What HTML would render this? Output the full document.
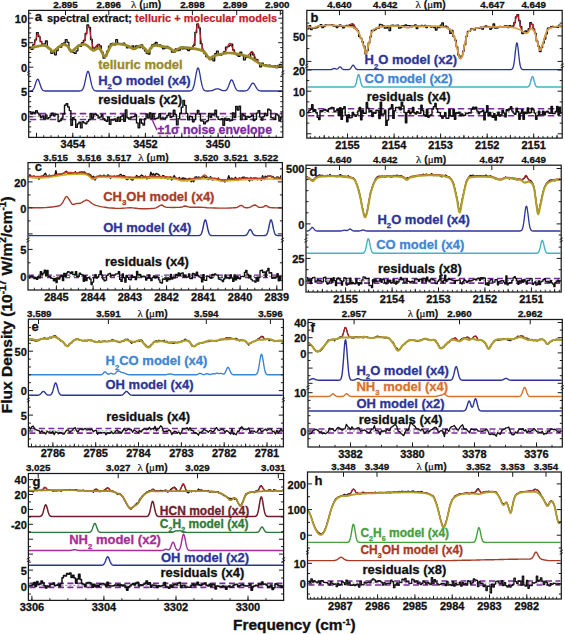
<!DOCTYPE html><html><head><meta charset="utf-8"><style>html,body{margin:0;padding:0;background:#fff;width:565px;height:634px;overflow:hidden}svg{display:block}</style></head><body><svg width="565" height="634" viewBox="0 0 565 634" font-family='"Liberation Sans", sans-serif'>
<rect width="565" height="634" fill="#fff"/>
<defs>
<clipPath id="cpa"><rect x="29.3" y="11" width="252.9" height="125.8"/></clipPath>
<clipPath id="cpb"><rect x="307.4" y="11" width="254.2" height="126.5"/></clipPath>
<clipPath id="cpc"><rect x="28.6" y="163.2" width="253.2" height="126.2"/></clipPath>
<clipPath id="cpd"><rect x="306.6" y="165.8" width="254" height="125.6"/></clipPath>
<clipPath id="cpe"><rect x="29" y="319.8" width="253.8" height="126.4"/></clipPath>
<clipPath id="cpf"><rect x="308.6" y="320.1" width="253.1" height="126.3"/></clipPath>
<clipPath id="cpg"><rect x="29" y="474.1" width="254" height="125.7"/></clipPath>
<clipPath id="cph"><rect x="308.1" y="472.6" width="252.6" height="125.8"/></clipPath>
</defs>
<g clip-path="url(#cpa)">
<path d="M29.3 47.3 L31.1 47.3 L31.1 49.4 L32.9 49.4 L32.9 44.5 L34.7 44.5 L34.7 39.9 L36.5 39.9 L36.5 32.6 L38.3 32.6 L38.3 36.7 L40.1 36.7 L40.1 41.7 L41.9 41.7 L41.9 44.2 L43.7 44.2 L43.7 43.9 L45.5 43.9 L45.5 41 L47.3 41 L47.3 47.8 L49.1 47.8 L49.1 48.8 L50.9 48.8 L50.9 53.3 L52.7 53.3 L52.7 52.3 L54.5 52.3 L54.5 54.8 L56.3 54.8 L56.3 50.6 L58.1 50.6 L58.1 46.7 L59.9 46.7 L59.9 47.2 L61.7 47.2 L61.7 43.7 L63.5 43.7 L63.5 43 L65.3 43 L65.3 39.7 L67.1 39.7 L67.1 42.3 L68.9 42.3 L68.9 49.6 L70.7 49.6 L70.7 51.8 L72.5 51.8 L72.5 52.4 L74.3 52.4 L74.3 53.4 L76.1 53.4 L76.1 50.8 L77.9 50.8 L77.9 45.4 L79.7 45.4 L79.7 46.3 L81.5 46.3 L81.5 42.6 L83.3 42.6 L83.3 40.4 L85.1 40.4 L85.1 33.5 L86.9 33.5 L86.9 25 L88.7 25 L88.7 27.4 L90.5 27.4 L90.5 39.5 L92.3 39.5 L92.3 50 L94.1 50 L94.1 48.1 L95.9 48.1 L95.9 47 L97.7 47 L97.7 44.3 L99.5 44.3 L99.5 45.9 L101.3 45.9 L101.3 52.1 L103.1 52.1 L103.1 58.2 L104.9 58.2 L104.9 56.2 L106.7 56.2 L106.7 51.2 L108.5 51.2 L108.5 46.2 L110.3 46.2 L110.3 43.8 L112.1 43.8 L112.1 43.3 L113.9 43.3 L113.9 44.8 L115.7 44.8 L115.7 39.7 L117.5 39.7 L117.5 43.3 L119.3 43.3 L119.3 43.8 L121.1 43.8 L121.1 44.3 L122.9 44.3 L122.9 43.1 L124.7 43.1 L124.7 44.8 L126.5 44.8 L126.5 47.8 L128.3 47.8 L128.3 46.4 L130.1 46.4 L130.1 47.8 L131.9 47.8 L131.9 45.9 L133.7 45.9 L133.7 48.4 L135.5 48.4 L135.5 46 L137.3 46 L137.3 45.9 L139.1 45.9 L139.1 47.5 L140.9 47.5 L140.9 45 L142.7 45 L142.7 48.7 L144.5 48.7 L144.5 50.9 L146.3 50.9 L146.3 53.4 L148.1 53.4 L148.1 54 L149.9 54 L149.9 48.5 L151.7 48.5 L151.7 45 L153.5 45 L153.5 44.2 L155.3 44.2 L155.3 42.5 L157.1 42.5 L157.1 45.9 L158.9 45.9 L158.9 44.8 L160.7 44.8 L160.7 46.5 L162.5 46.5 L162.5 48.8 L164.3 48.8 L164.3 48.2 L166.1 48.2 L166.1 46.3 L167.9 46.3 L167.9 47.5 L169.7 47.5 L169.7 48.5 L171.5 48.5 L171.5 52.1 L173.3 52.1 L173.3 52.2 L175.1 52.2 L175.1 49 L176.9 49 L176.9 50.7 L178.7 50.7 L178.7 50 L180.5 50 L180.5 47.9 L182.3 47.9 L182.3 48.9 L184.1 48.9 L184.1 48.3 L185.9 48.3 L185.9 49 L187.7 49 L187.7 50.5 L189.5 50.5 L189.5 49.1 L191.3 49.1 L191.3 49.2 L193.1 49.2 L193.1 45.3 L194.9 45.3 L194.9 32.3 L196.7 32.3 L196.7 24.1 L198.5 24.1 L198.5 27.9 L200.3 27.9 L200.3 43.7 L202.1 43.7 L202.1 50.8 L203.9 50.8 L203.9 53.5 L205.7 53.5 L205.7 56.6 L207.5 56.6 L207.5 57.1 L209.3 57.1 L209.3 59.7 L211.1 59.7 L211.1 58.1 L212.9 58.1 L212.9 60.8 L214.7 60.8 L214.7 53.7 L216.5 53.7 L216.5 51.2 L218.3 51.2 L218.3 54.2 L220.1 54.2 L220.1 55.1 L221.9 55.1 L221.9 53.8 L223.7 53.8 L223.7 51.6 L225.5 51.6 L225.5 47.2 L227.3 47.2 L227.3 46.7 L229.1 46.7 L229.1 45.3 L230.9 45.3 L230.9 44.1 L232.7 44.1 L232.7 50 L234.5 50 L234.5 53.7 L236.3 53.7 L236.3 54.9 L238.1 54.9 L238.1 56.4 L239.9 56.4 L239.9 52.1 L241.7 52.1 L241.7 54.9 L243.5 54.9 L243.5 59.9 L245.3 59.9 L245.3 57.5 L247.1 57.5 L247.1 57.4 L248.9 57.4 L248.9 56.5 L250.7 56.5 L250.7 52.3 L252.5 52.3 L252.5 54.8 L254.3 54.8 L254.3 59.3 L256.1 59.3 L256.1 59.6 L257.9 59.6 L257.9 62.6 L259.7 62.6 L259.7 66.8 L261.5 66.8 L261.5 63.2 L263.3 63.2 L263.3 65.3 L265.1 65.3 L265.1 64.9 L266.9 64.9 L266.9 65.9 L268.7 65.9 L268.7 65.1 L270.5 65.1 L270.5 66 L272.3 66 L272.3 66.7 L274.1 66.7 L274.1 65.7 L275.9 65.7 L275.9 67.7 L277.7 67.7 L277.7 65.4 L279.5 65.4 L279.5 64.3 L281.3 64.3 L281.3 66.1 L282.2 66.1" fill="none" stroke="#111" stroke-width="1.3" stroke-linejoin="round" stroke-linecap="round"/>
<path d="M29.3 48 L30 47.9 L30.7 47.7 L31.4 47.5 L32.1 47.2 L32.8 46.7 L33.5 45.8 L34.2 44.4 L34.9 42.4 L35.6 39.9 L36.3 37.3 L37 35.1 L37.7 33.9 L38.4 34 L39.1 35.4 L39.8 37.6 L40.5 39.9 L41.2 42 L41.9 43.5 L42.6 44.5 L43.3 45 L44 45.4 L44.7 45.6 L45.4 45.8 L46.1 46.1 L46.8 46.4 L47.5 46.8 L48.2 47.4 L48.9 48 L49.6 48.7 L50.3 49.4 L51 50.2 L51.7 50.8 L52.4 51.3 L53.1 51.4 L53.8 51.1 L54.5 50.6 L55.2 49.9 L55.9 49.3 L56.6 48.8 L57.3 48.2 L58 47.6 L58.7 47.1 L59.4 46.5 L60.1 46 L60.8 45.5 L61.5 45.1 L62.2 44.9 L62.9 44.7 L63.6 44.7 L64.3 44.7 L65 44.8 L65.7 45 L66.4 45.3 L67.1 45.7 L67.8 46.5 L68.5 47.5 L69.2 48.8 L69.9 50 L70.6 50.9 L71.3 51.4 L72 51.4 L72.7 50.9 L73.4 50.2 L74.1 49.5 L74.8 48.9 L75.5 48.3 L76.2 47.7 L76.9 47 L77.6 46.4 L78.3 45.9 L79 45.5 L79.7 45.2 L80.4 44.9 L81.1 44.7 L81.8 44.4 L82.5 44 L83.2 43.4 L83.9 42.3 L84.6 40.6 L85.3 38 L86 34.7 L86.7 31.2 L87.4 28.1 L88.1 26.3 L88.8 26.5 L89.5 28.7 L90.2 32.5 L90.9 36.9 L91.6 41.2 L92.3 44.6 L93 46.8 L93.7 47.9 L94.4 47.9 L95.1 47.3 L95.8 46.4 L96.5 45.5 L97.2 44.9 L97.9 44.7 L98.6 45 L99.3 45.7 L100 46.9 L100.7 48.4 L101.4 50.2 L102.1 52 L102.8 53.5 L103.5 55 L104.2 56.3 L104.9 56.8 L105.6 56.2 L106.3 54.9 L107 53.4 L107.7 52 L108.4 50.6 L109.1 49 L109.8 47.5 L110.5 46.3 L111.2 45.5 L111.9 45 L112.6 44.6 L113.3 44.4 L114 44.2 L114.7 44.1 L115.4 44.1 L116.1 44 L116.8 44 L117.5 44 L118.2 44 L118.9 44 L119.6 44 L120.3 44.1 L121 44.2 L121.7 44.3 L122.4 44.4 L123.1 44.5 L123.8 44.6 L124.5 44.8 L125.2 45 L125.9 45.2 L126.6 45.5 L127.3 45.8 L128 46.1 L128.7 46.4 L129.4 46.8 L130.1 47.1 L130.8 47.5 L131.5 47.9 L132.2 48.4 L132.9 48.7 L133.6 49 L134.3 49 L135 48.8 L135.7 48.4 L136.4 48 L137.1 47.5 L137.8 47.1 L138.5 46.7 L139.2 46.3 L139.9 45.9 L140.6 45.8 L141.3 46 L142 46.4 L142.7 46.9 L143.4 47.4 L144.1 48 L144.8 48.6 L145.5 49.2 L146.2 50.1 L146.9 51.2 L147.6 52 L148.3 52 L149 51.1 L149.7 49.7 L150.4 48.4 L151.1 47.5 L151.8 46.9 L152.5 46.3 L153.2 46 L153.9 45.7 L154.6 45.6 L155.3 45.5 L156 45.5 L156.7 45.5 L157.4 45.6 L158.1 45.7 L158.8 45.8 L159.5 45.9 L160.2 46 L160.9 46.1 L161.6 46.2 L162.3 46.4 L163 46.5 L163.7 46.6 L164.4 46.8 L165.1 46.9 L165.8 47.1 L166.5 47.3 L167.2 47.5 L167.9 47.7 L168.6 47.9 L169.3 48.2 L170 48.5 L170.7 48.9 L171.4 49.4 L172.1 49.9 L172.8 50.5 L173.5 50.9 L174.2 51.2 L174.9 51.1 L175.6 50.8 L176.3 50.2 L177 49.7 L177.7 49.2 L178.4 48.8 L179.1 48.3 L179.8 47.9 L180.5 47.6 L181.2 47.5 L181.9 47.4 L182.6 47.4 L183.3 47.4 L184 47.4 L184.7 47.5 L185.4 47.5 L186.1 47.6 L186.8 47.6 L187.5 47.7 L188.2 47.8 L188.9 47.9 L189.6 47.9 L190.3 48 L191 48 L191.7 47.8 L192.4 47.3 L193.1 46.3 L193.8 44.3 L194.5 41.3 L195.2 37.2 L195.9 32.5 L196.6 27.8 L197.3 24.5 L198 23.4 L198.7 24.8 L199.4 28.5 L200.1 33.4 L200.8 38.6 L201.5 43 L202.2 46.4 L202.9 48.8 L203.6 50.3 L204.3 51.4 L205 52.5 L205.7 53.6 L206.4 54.5 L207.1 55.6 L207.8 56.7 L208.5 57.8 L209.2 58.5 L209.9 58.8 L210.6 58.3 L211.3 57.5 L212 57 L212.7 56.6 L213.4 56.3 L214.1 56 L214.8 55.7 L215.5 55.5 L216.2 55.3 L216.9 55.1 L217.6 54.9 L218.3 54.7 L219 54.6 L219.7 54.4 L220.4 54.2 L221.1 54 L221.8 53.8 L222.5 53.6 L223.2 53.4 L223.9 53 L224.6 52.4 L225.3 51.6 L226 50.4 L226.7 48.9 L227.4 47.1 L228.1 45.4 L228.8 44.1 L229.5 43.4 L230.2 43.4 L230.9 44.3 L231.6 45.8 L232.3 47.5 L233 49.2 L233.7 50.7 L234.4 51.9 L235.1 52.7 L235.8 53.2 L236.5 53.6 L237.2 53.8 L237.9 54 L238.6 54.1 L239.3 54.3 L240 54.4 L240.7 54.6 L241.4 54.8 L242.1 54.9 L242.8 55.1 L243.5 55.3 L244.2 55.4 L244.9 55.6 L245.6 55.8 L246.3 55.8 L247 55.8 L247.7 55.6 L248.4 55.1 L249.1 54.4 L249.8 53.5 L250.5 52.6 L251.2 51.9 L251.9 51.6 L252.6 51.9 L253.3 52.8 L254 54.2 L254.7 55.9 L255.4 57.6 L256.1 59.1 L256.8 60.4 L257.5 61.5 L258.2 62.3 L258.9 62.9 L259.6 63.4 L260.3 63.8 L261 64.2 L261.7 64.5 L262.4 64.7 L263.1 65 L263.8 65.2 L264.5 65.4 L265.2 65.5 L265.9 65.7 L266.6 65.8 L267.3 65.9 L268 66 L268.7 66.1 L269.4 66.2 L270.1 66.3 L270.8 66.4 L271.5 66.5 L272.2 66.5 L272.9 66.6 L273.6 66.7 L274.3 66.7 L275 66.7 L275.7 66.8 L276.4 66.8 L277.1 66.8 L277.8 66.8 L278.5 66.7 L279.2 66.7 L279.9 66.7 L280.6 66.7 L281.3 66.6 L282 66.6" fill="none" stroke="#bf1f2b" stroke-width="1.2" stroke-linejoin="round" stroke-linecap="round"/>
<path d="M29.3 48 L30 47.9 L30.7 47.8 L31.4 47.6 L32.1 47.5 L32.8 47.4 L33.5 47.2 L34.2 47.1 L34.9 46.9 L35.6 46.8 L36.3 46.6 L37 46.5 L37.7 46.3 L38.4 46.2 L39.1 46 L39.8 45.9 L40.5 45.7 L41.2 45.6 L41.9 45.5 L42.6 45.5 L43.3 45.5 L44 45.5 L44.7 45.7 L45.4 45.8 L46.1 46.1 L46.8 46.4 L47.5 46.8 L48.2 47.4 L48.9 48 L49.6 48.7 L50.3 49.4 L51 50.2 L51.7 50.8 L52.4 51.3 L53.1 51.4 L53.8 51.1 L54.5 50.6 L55.2 49.9 L55.9 49.3 L56.6 48.8 L57.3 48.2 L58 47.6 L58.7 47.1 L59.4 46.5 L60.1 46 L60.8 45.5 L61.5 45.1 L62.2 44.9 L62.9 44.7 L63.6 44.7 L64.3 44.7 L65 44.8 L65.7 45 L66.4 45.3 L67.1 45.7 L67.8 46.5 L68.5 47.5 L69.2 48.8 L69.9 50 L70.6 50.9 L71.3 51.4 L72 51.4 L72.7 50.9 L73.4 50.2 L74.1 49.5 L74.8 48.9 L75.5 48.3 L76.2 47.7 L76.9 47 L77.6 46.4 L78.3 45.9 L79 45.5 L79.7 45.2 L80.4 44.9 L81.1 44.7 L81.8 44.6 L82.5 44.5 L83.2 44.4 L83.9 44.4 L84.6 44.5 L85.3 44.6 L86 44.9 L86.7 45.3 L87.4 45.7 L88.1 46.3 L88.8 46.9 L89.5 47.6 L90.2 48.3 L90.9 48.9 L91.6 49.5 L92.3 50 L93 50.3 L93.7 50.4 L94.4 50.2 L95.1 49.8 L95.8 49.3 L96.5 48.7 L97.2 48.4 L97.9 48.2 L98.6 48.2 L99.3 48.4 L100 49 L100.7 50 L101.4 51.3 L102.1 52.6 L102.8 53.9 L103.5 55.2 L104.2 56.4 L104.9 56.8 L105.6 56.2 L106.3 54.9 L107 53.4 L107.7 52 L108.4 50.6 L109.1 49 L109.8 47.5 L110.5 46.3 L111.2 45.5 L111.9 45 L112.6 44.6 L113.3 44.4 L114 44.2 L114.7 44.1 L115.4 44.1 L116.1 44 L116.8 44 L117.5 44 L118.2 44 L118.9 44 L119.6 44 L120.3 44.1 L121 44.2 L121.7 44.3 L122.4 44.4 L123.1 44.5 L123.8 44.6 L124.5 44.8 L125.2 45 L125.9 45.2 L126.6 45.5 L127.3 45.8 L128 46.1 L128.7 46.4 L129.4 46.8 L130.1 47.1 L130.8 47.5 L131.5 47.9 L132.2 48.4 L132.9 48.7 L133.6 49 L134.3 49 L135 48.8 L135.7 48.4 L136.4 48 L137.1 47.5 L137.8 47.1 L138.5 46.7 L139.2 46.3 L139.9 45.9 L140.6 45.8 L141.3 46 L142 46.4 L142.7 46.9 L143.4 47.4 L144.1 48 L144.8 48.6 L145.5 49.2 L146.2 50.1 L146.9 51.2 L147.6 52 L148.3 52 L149 51.1 L149.7 49.7 L150.4 48.4 L151.1 47.5 L151.8 46.9 L152.5 46.3 L153.2 46 L153.9 45.7 L154.6 45.6 L155.3 45.5 L156 45.5 L156.7 45.5 L157.4 45.6 L158.1 45.7 L158.8 45.8 L159.5 45.9 L160.2 46 L160.9 46.1 L161.6 46.2 L162.3 46.4 L163 46.5 L163.7 46.6 L164.4 46.8 L165.1 46.9 L165.8 47.1 L166.5 47.3 L167.2 47.5 L167.9 47.7 L168.6 47.9 L169.3 48.2 L170 48.5 L170.7 48.9 L171.4 49.4 L172.1 49.9 L172.8 50.5 L173.5 50.9 L174.2 51.2 L174.9 51.1 L175.6 50.8 L176.3 50.2 L177 49.7 L177.7 49.2 L178.4 48.8 L179.1 48.3 L179.8 47.9 L180.5 47.6 L181.2 47.5 L181.9 47.4 L182.6 47.4 L183.3 47.4 L184 47.4 L184.7 47.5 L185.4 47.5 L186.1 47.6 L186.8 47.6 L187.5 47.7 L188.2 47.8 L188.9 47.9 L189.6 47.9 L190.3 48 L191 48.1 L191.7 48.2 L192.4 48.3 L193.1 48.4 L193.8 48.6 L194.5 48.7 L195.2 48.8 L195.9 48.9 L196.6 49.1 L197.3 49.2 L198 49.4 L198.7 49.6 L199.4 49.7 L200.1 49.9 L200.8 50.1 L201.5 50.4 L202.2 50.6 L202.9 50.9 L203.6 51.3 L204.3 51.9 L205 52.7 L205.7 53.6 L206.4 54.5 L207.1 55.6 L207.8 56.7 L208.5 57.8 L209.2 58.5 L209.9 58.8 L210.6 58.3 L211.3 57.5 L212 57 L212.7 56.6 L213.4 56.3 L214.1 56 L214.8 55.7 L215.5 55.5 L216.2 55.3 L216.9 55.1 L217.6 54.9 L218.3 54.7 L219 54.6 L219.7 54.4 L220.4 54.2 L221.1 54 L221.8 53.9 L222.5 53.7 L223.2 53.6 L223.9 53.5 L224.6 53.3 L225.3 53.2 L226 53.1 L226.7 53.1 L227.4 53 L228.1 53 L228.8 53 L229.5 53 L230.2 53 L230.9 53 L231.6 53.1 L232.3 53.2 L233 53.2 L233.7 53.3 L234.4 53.4 L235.1 53.5 L235.8 53.6 L236.5 53.8 L237.2 53.9 L237.9 54 L238.6 54.2 L239.3 54.3 L240 54.5 L240.7 54.6 L241.4 54.8 L242.1 54.9 L242.8 55.1 L243.5 55.3 L244.2 55.5 L244.9 55.7 L245.6 55.9 L246.3 56.1 L247 56.3 L247.7 56.6 L248.4 56.9 L249.1 57.1 L249.8 57.4 L250.5 57.8 L251.2 58.1 L251.9 58.5 L252.6 58.9 L253.3 59.3 L254 59.8 L254.7 60.3 L255.4 60.8 L256.1 61.2 L256.8 61.7 L257.5 62.2 L258.2 62.6 L258.9 63.1 L259.6 63.5 L260.3 63.8 L261 64.2 L261.7 64.5 L262.4 64.7 L263.1 65 L263.8 65.2 L264.5 65.4 L265.2 65.5 L265.9 65.7 L266.6 65.8 L267.3 65.9 L268 66 L268.7 66.1 L269.4 66.2 L270.1 66.3 L270.8 66.4 L271.5 66.5 L272.2 66.5 L272.9 66.6 L273.6 66.7 L274.3 66.7 L275 66.7 L275.7 66.8 L276.4 66.8 L277.1 66.8 L277.8 66.8 L278.5 66.7 L279.2 66.7 L279.9 66.7 L280.6 66.7 L281.3 66.6 L282 66.6" fill="none" stroke="#9a8a26" stroke-width="2.7" stroke-linejoin="round" stroke-linecap="round"/>
<path d="M29.3 91 L29.8 91 L30.3 91 L30.8 90.9 L31.3 90.8 L31.8 90.7 L32.3 90.4 L32.8 90 L33.3 89.4 L33.8 88.5 L34.3 87.4 L34.8 86.1 L35.3 84.5 L35.8 82.9 L36.3 81.4 L36.8 80.1 L37.3 79.4 L37.8 79.2 L38.3 79.6 L38.8 80.6 L39.3 81.9 L39.8 83.5 L40.3 85.1 L40.8 86.6 L41.3 87.9 L41.8 88.9 L42.3 89.7 L42.8 90.2 L43.3 90.5 L43.8 90.7 L44.3 90.9 L44.8 90.9 L45.3 91 L45.8 91 L46.3 91 L46.8 91 L47.3 91 L47.8 91 L48.3 91 L48.8 91 L49.3 91 L49.8 91 L50.3 91 L50.8 91 L51.3 91 L51.8 91 L52.3 91 L52.8 91 L53.3 91 L53.8 91 L54.3 91 L54.8 91 L55.3 91 L55.8 91 L56.3 91 L56.8 91 L57.3 91 L57.8 91 L58.3 91 L58.8 91 L59.3 91 L59.8 91 L60.3 91 L60.8 91 L61.3 91 L61.8 91 L62.3 91 L62.8 91 L63.3 91 L63.8 91 L64.3 91 L64.8 91 L65.3 91 L65.8 91 L66.3 91 L66.8 91 L67.3 91 L67.8 91 L68.3 91 L68.8 91 L69.3 91 L69.8 91 L70.3 91 L70.8 91 L71.3 91 L71.8 91 L72.3 91 L72.8 91 L73.3 91 L73.8 91 L74.3 91 L74.8 91 L75.3 91 L75.8 91 L76.3 91 L76.8 91 L77.3 91 L77.8 91 L78.3 91 L78.8 91 L79.3 91 L79.8 90.9 L80.3 90.9 L80.8 90.8 L81.3 90.6 L81.8 90.3 L82.3 89.8 L82.8 89.1 L83.3 88.1 L83.8 86.7 L84.3 85 L84.8 82.9 L85.3 80.5 L85.8 78.1 L86.3 75.7 L86.8 73.6 L87.3 72.1 L87.8 71.4 L88.3 71.5 L88.8 72.4 L89.3 74 L89.8 76.1 L90.3 78.6 L90.8 81 L91.3 83.3 L91.8 85.4 L92.3 87 L92.8 88.3 L93.3 89.3 L93.8 89.9 L94.3 90.4 L94.8 90.6 L95.3 90.8 L95.8 90.9 L96.3 91 L96.8 91 L97.3 91 L97.8 91 L98.3 91 L98.8 91 L99.3 91 L99.8 91 L100.3 91 L100.8 91 L101.3 91 L101.8 91 L102.3 91 L102.8 91 L103.3 91 L103.8 91 L104.3 91 L104.8 91 L105.3 91 L105.8 91 L106.3 91 L106.8 91 L107.3 91 L107.8 91 L108.3 91 L108.8 91 L109.3 91 L109.8 91 L110.3 91 L110.8 91 L111.3 91 L111.8 91 L112.3 91 L112.8 91 L113.3 91 L113.8 91 L114.3 91 L114.8 91 L115.3 91 L115.8 91 L116.3 91 L116.8 91 L117.3 91 L117.8 91 L118.3 91 L118.8 91 L119.3 91 L119.8 91 L120.3 91 L120.8 91 L121.3 91 L121.8 91 L122.3 91 L122.8 91 L123.3 91 L123.8 91 L124.3 91 L124.8 91 L125.3 91 L125.8 91 L126.3 91 L126.8 91 L127.3 91 L127.8 91 L128.3 91 L128.8 91 L129.3 91 L129.8 91 L130.3 91 L130.8 91 L131.3 91 L131.8 91 L132.3 91 L132.8 91 L133.3 91 L133.8 91 L134.3 91 L134.8 91 L135.3 91 L135.8 91 L136.3 91 L136.8 91 L137.3 91 L137.8 91 L138.3 91 L138.8 91 L139.3 91 L139.8 91 L140.3 91 L140.8 91 L141.3 91 L141.8 91 L142.3 91 L142.8 91 L143.3 91 L143.8 91 L144.3 91 L144.8 91 L145.3 91 L145.8 91 L146.3 91 L146.8 91 L147.3 91 L147.8 91 L148.3 91 L148.8 91 L149.3 91 L149.8 91 L150.3 91 L150.8 91 L151.3 91 L151.8 91 L152.3 91 L152.8 91 L153.3 91 L153.8 91 L154.3 91 L154.8 91 L155.3 91 L155.8 91 L156.3 91 L156.8 91 L157.3 91 L157.8 91 L158.3 91 L158.8 91 L159.3 91 L159.8 91 L160.3 91 L160.8 91 L161.3 91 L161.8 91 L162.3 91 L162.8 91 L163.3 91 L163.8 91 L164.3 91 L164.8 91 L165.3 91 L165.8 91 L166.3 91 L166.8 91 L167.3 91 L167.8 91 L168.3 91 L168.8 91 L169.3 91 L169.8 91 L170.3 91 L170.8 91 L171.3 91 L171.8 91 L172.3 91 L172.8 91 L173.3 91 L173.8 91 L174.3 91 L174.8 91 L175.3 91 L175.8 91 L176.3 91 L176.8 91 L177.3 91 L177.8 91 L178.3 91 L178.8 91 L179.3 91 L179.8 91 L180.3 91 L180.8 91 L181.3 91 L181.8 91 L182.3 91 L182.8 91 L183.3 91 L183.8 91 L184.3 91 L184.8 91 L185.3 91 L185.8 91 L186.3 91 L186.8 91 L187.3 91 L187.8 91 L188.3 91 L188.8 91 L189.3 91 L189.8 90.9 L190.3 90.9 L190.8 90.7 L191.3 90.5 L191.8 90.2 L192.3 89.6 L192.8 88.8 L193.3 87.6 L193.8 86 L194.3 84 L194.8 81.5 L195.3 78.7 L195.8 75.8 L196.3 73 L196.8 70.6 L197.3 68.9 L197.8 68 L198.3 68.1 L198.8 69.1 L199.3 71.1 L199.8 73.6 L200.3 76.4 L200.8 79.3 L201.3 82 L201.8 84.4 L202.3 86.4 L202.8 87.9 L203.3 89 L203.8 89.8 L204.3 90.3 L204.8 90.6 L205.3 90.8 L205.8 90.9 L206.3 90.9 L206.8 91 L207.3 91 L207.8 91 L208.3 91 L208.8 91 L209.3 90.9 L209.8 90.9 L210.3 90.9 L210.8 90.8 L211.3 90.7 L211.8 90.6 L212.3 90.5 L212.8 90.3 L213.3 90.1 L213.8 89.9 L214.3 89.7 L214.8 89.4 L215.3 89.2 L215.8 89.1 L216.3 88.9 L216.8 88.8 L217.3 88.8 L217.8 88.8 L218.3 88.9 L218.8 89.1 L219.3 89.2 L219.8 89.4 L220.3 89.7 L220.8 89.9 L221.3 90.1 L221.8 90.3 L222.3 90.4 L222.8 90.6 L223.3 90.7 L223.8 90.7 L224.3 90.7 L224.8 90.7 L225.3 90.6 L225.8 90.4 L226.3 90 L226.8 89.5 L227.3 88.8 L227.8 87.8 L228.3 86.7 L228.8 85.4 L229.3 84 L229.8 82.6 L230.3 81.4 L230.8 80.5 L231.3 80 L231.8 79.9 L232.3 80.4 L232.8 81.2 L233.3 82.4 L233.8 83.7 L234.3 85.1 L234.8 86.4 L235.3 87.6 L235.8 88.6 L236.3 89.4 L236.8 89.9 L237.3 90.3 L237.8 90.6 L238.3 90.8 L238.8 90.9 L239.3 90.9 L239.8 91 L240.3 91 L240.8 91 L241.3 91 L241.8 91 L242.3 91 L242.8 91 L243.3 91 L243.8 91 L244.3 91 L244.8 90.9 L245.3 90.9 L245.8 90.8 L246.3 90.7 L246.8 90.5 L247.3 90.2 L247.8 89.8 L248.3 89.3 L248.8 88.7 L249.3 88 L249.8 87.1 L250.3 86.2 L250.8 85.3 L251.3 84.5 L251.8 83.8 L252.3 83.3 L252.8 83.1 L253.3 83.2 L253.8 83.6 L254.3 84.2 L254.8 85 L255.3 85.8 L255.8 86.8 L256.3 87.6 L256.8 88.4 L257.3 89.1 L257.8 89.7 L258.3 90.1 L258.8 90.4 L259.3 90.6 L259.8 90.8 L260.3 90.9 L260.8 90.9 L261.3 91 L261.8 91 L262.3 91 L262.8 91 L263.3 91 L263.8 91 L264.3 91 L264.8 91 L265.3 91 L265.8 91 L266.3 91 L266.8 91 L267.3 91 L267.8 91 L268.3 91 L268.8 91 L269.3 91 L269.8 91 L270.3 91 L270.8 91 L271.3 91 L271.8 91 L272.3 91 L272.8 91 L273.3 91 L273.8 91 L274.3 91 L274.8 91 L275.3 91 L275.8 91 L276.3 91 L276.8 91 L277.3 91 L277.8 91 L278.3 91 L278.8 91 L279.3 91 L279.8 91 L280.3 91 L280.8 91 L281.3 91 L281.8 91" fill="none" stroke="#2c3596" stroke-width="1.3" stroke-linejoin="round" stroke-linecap="round"/>
<path d="M29.7 113.6 H281.8" stroke="#7b2b9c" stroke-width="1.6" stroke-dasharray="6.5 3.5"/>
<path d="M29.7 119.5 H281.8" stroke="#7b2b9c" stroke-width="1.6" stroke-dasharray="6.5 3.5"/>
<path d="M29.7 116.6 H281.8" stroke="#444" stroke-width="0.6" stroke-dasharray="2 2"/>
<path d="M29.3 111.8 L30.9 111.8 L30.9 113.8 L32.5 113.8 L32.5 112.3 L34.1 112.3 L34.1 113 L35.7 113 L35.7 110.6 L37.3 110.6 L37.3 113.1 L38.9 113.1 L38.9 115 L40.5 115 L40.5 117.6 L42.1 117.6 L42.1 115.9 L43.7 115.9 L43.7 118.9 L45.3 118.9 L45.3 114.9 L46.9 114.9 L46.9 118.7 L48.5 118.7 L48.5 117.6 L50.1 117.6 L50.1 115.3 L51.7 115.3 L51.7 113.2 L53.3 113.2 L53.3 115.7 L54.9 115.7 L54.9 114.5 L56.5 114.5 L56.5 114.1 L58.1 114.1 L58.1 121.5 L59.7 121.5 L59.7 120.6 L61.3 120.6 L61.3 118.2 L62.9 118.2 L62.9 114 L64.5 114 L64.5 105.3 L66.1 105.3 L66.1 103.6 L67.7 103.6 L67.7 107 L69.3 107 L69.3 110.6 L70.9 110.6 L70.9 125.2 L72.5 125.2 L72.5 117.8 L74.1 117.8 L74.1 119.6 L75.7 119.6 L75.7 127.4 L77.3 127.4 L77.3 123.9 L78.9 123.9 L78.9 122.3 L80.5 122.3 L80.5 127.9 L82.1 127.9 L82.1 121.7 L83.7 121.7 L83.7 122.9 L85.3 122.9 L85.3 123.8 L86.9 123.8 L86.9 121.6 L88.5 121.6 L88.5 119.8 L90.1 119.8 L90.1 113.7 L91.7 113.7 L91.7 118.3 L93.3 118.3 L93.3 114.8 L94.9 114.8 L94.9 113.9 L96.5 113.9 L96.5 115.3 L98.1 115.3 L98.1 118.1 L99.7 118.1 L99.7 117.1 L101.3 117.1 L101.3 114.7 L102.9 114.7 L102.9 118.8 L104.5 118.8 L104.5 120.2 L106.1 120.2 L106.1 121.3 L107.7 121.3 L107.7 117 L109.3 117 L109.3 124.4 L110.9 124.4 L110.9 119.8 L112.5 119.8 L112.5 120 L114.1 120 L114.1 119 L115.7 119 L115.7 121.4 L117.3 121.4 L117.3 117.5 L118.9 117.5 L118.9 121.2 L120.5 121.2 L120.5 116.6 L122.1 116.6 L122.1 114.9 L123.7 114.9 L123.7 121.4 L125.3 121.4 L125.3 109.9 L126.9 109.9 L126.9 117.7 L128.5 117.7 L128.5 119.1 L130.1 119.1 L130.1 117.7 L131.7 117.7 L131.7 116.9 L133.3 116.9 L133.3 116.6 L134.9 116.6 L134.9 114.8 L136.5 114.8 L136.5 122.9 L138.1 122.9 L138.1 127.7 L139.7 127.7 L139.7 119.2 L141.3 119.2 L141.3 123.2 L142.9 123.2 L142.9 125.1 L144.5 125.1 L144.5 118.8 L146.1 118.8 L146.1 114 L147.7 114 L147.7 118 L149.3 118 L149.3 113 L150.9 113 L150.9 118.5 L152.5 118.5 L152.5 113.6 L154.1 113.6 L154.1 118.6 L155.7 118.6 L155.7 118.5 L157.3 118.5 L157.3 118 L158.9 118 L158.9 113.8 L160.5 113.8 L160.5 118.4 L162.1 118.4 L162.1 118 L163.7 118 L163.7 118.9 L165.3 118.9 L165.3 117.7 L166.9 117.7 L166.9 115.5 L168.5 115.5 L168.5 113.1 L170.1 113.1 L170.1 117.4 L171.7 117.4 L171.7 116.4 L173.3 116.4 L173.3 110.3 L174.9 110.3 L174.9 114.8 L176.5 114.8 L176.5 124.9 L178.1 124.9 L178.1 118.6 L179.7 118.6 L179.7 113.2 L181.3 113.2 L181.3 107.3 L182.9 107.3 L182.9 100.4 L184.5 100.4 L184.5 105.4 L186.1 105.4 L186.1 113.4 L187.7 113.4 L187.7 119.9 L189.3 119.9 L189.3 116.3 L190.9 116.3 L190.9 116.8 L192.5 116.8 L192.5 121.7 L194.1 121.7 L194.1 119.5 L195.7 119.5 L195.7 114.1 L197.3 114.1 L197.3 110.5 L198.9 110.5 L198.9 114.2 L200.5 114.2 L200.5 120.7 L202.1 120.7 L202.1 121.1 L203.7 121.1 L203.7 123.9 L205.3 123.9 L205.3 121.9 L206.9 121.9 L206.9 120.8 L208.5 120.8 L208.5 113.4 L210.1 113.4 L210.1 117.2 L211.7 117.2 L211.7 114.3 L213.3 114.3 L213.3 115.1 L214.9 115.1 L214.9 110.3 L216.5 110.3 L216.5 116.9 L218.1 116.9 L218.1 119.4 L219.7 119.4 L219.7 119.5 L221.3 119.5 L221.3 118.6 L222.9 118.6 L222.9 125.2 L224.5 125.2 L224.5 118.2 L226.1 118.2 L226.1 120.2 L227.7 120.2 L227.7 118.8 L229.3 118.8 L229.3 120.9 L230.9 120.9 L230.9 120.4 L232.5 120.4 L232.5 112.9 L234.1 112.9 L234.1 117.4 L235.7 117.4 L235.7 106.4 L237.3 106.4 L237.3 110 L238.9 110 L238.9 106.1 L240.5 106.1 L240.5 119.6 L242.1 119.6 L242.1 114.3 L243.7 114.3 L243.7 115.7 L245.3 115.7 L245.3 119.4 L246.9 119.4 L246.9 116.5 L248.5 116.5 L248.5 117.2 L250.1 117.2 L250.1 116.4 L251.7 116.4 L251.7 115 L253.3 115 L253.3 120.5 L254.9 120.5 L254.9 119.2 L256.5 119.2 L256.5 113.1 L258.1 113.1 L258.1 110.6 L259.7 110.6 L259.7 117.1 L261.3 117.1 L261.3 120.1 L262.9 120.1 L262.9 116.6 L264.5 116.6 L264.5 113.5 L266.1 113.5 L266.1 115.4 L267.7 115.4 L267.7 109.2 L269.3 109.2 L269.3 110.1 L270.9 110.1 L270.9 117.6 L272.5 117.6 L272.5 118 L274.1 118 L274.1 119.4 L275.7 119.4 L275.7 113.9 L277.3 113.9 L277.3 115.1 L278.9 115.1 L278.9 121 L280.5 121 L280.5 117.8 L282.1 117.8 L282.1 112 L282.2 112" fill="none" stroke="#111" stroke-width="1.4" stroke-linejoin="round" stroke-linecap="round"/>
</g>
<rect x="28.7" y="10.4" width="254.1" height="127" fill="none" stroke="#1a1a1a" stroke-width="1.25"/>
<path d="M28.7 67.2 h4.6 M282.8 67.2 h-4.6" stroke="#1a1a1a" stroke-width="1"/>
<path d="M28.7 62.3 h2.5 M282.8 62.3 h-2.5" stroke="#1a1a1a" stroke-width="1"/>
<path d="M28.7 57.4 h2.5 M282.8 57.4 h-2.5" stroke="#1a1a1a" stroke-width="1"/>
<path d="M28.7 52.5 h2.5 M282.8 52.5 h-2.5" stroke="#1a1a1a" stroke-width="1"/>
<path d="M28.7 47.6 h2.5 M282.8 47.6 h-2.5" stroke="#1a1a1a" stroke-width="1"/>
<path d="M28.7 42.7 h4.6 M282.8 42.7 h-4.6" stroke="#1a1a1a" stroke-width="1"/>
<path d="M28.7 37.8 h2.5 M282.8 37.8 h-2.5" stroke="#1a1a1a" stroke-width="1"/>
<path d="M28.7 32.9 h2.5 M282.8 32.9 h-2.5" stroke="#1a1a1a" stroke-width="1"/>
<path d="M28.7 28 h2.5 M282.8 28 h-2.5" stroke="#1a1a1a" stroke-width="1"/>
<path d="M28.7 23.1 h2.5 M282.8 23.1 h-2.5" stroke="#1a1a1a" stroke-width="1"/>
<path d="M28.7 18.2 h4.6 M282.8 18.2 h-4.6" stroke="#1a1a1a" stroke-width="1"/>
<path d="M28.7 13.3 h2.5 M282.8 13.3 h-2.5" stroke="#1a1a1a" stroke-width="1"/>
<text x="27.1" y="71.8" font-size="11" fill="#111" stroke="#111" stroke-width="0.3" text-anchor="end" font-weight="bold">0</text>
<text x="27.1" y="47.3" font-size="11" fill="#111" stroke="#111" stroke-width="0.3" text-anchor="end" font-weight="bold">5</text>
<text x="27.1" y="22.8" font-size="11" fill="#111" stroke="#111" stroke-width="0.3" text-anchor="end" font-weight="bold">10</text>
<path d="M28.7 131.9 h2.5 M282.8 131.9 h-2.5" stroke="#1a1a1a" stroke-width="1"/>
<path d="M28.7 126.9 h2.5 M282.8 126.9 h-2.5" stroke="#1a1a1a" stroke-width="1"/>
<path d="M28.7 121.8 h2.5 M282.8 121.8 h-2.5" stroke="#1a1a1a" stroke-width="1"/>
<path d="M28.7 116.8 h4.6 M282.8 116.8 h-4.6" stroke="#1a1a1a" stroke-width="1"/>
<path d="M28.7 111.8 h2.5 M282.8 111.8 h-2.5" stroke="#1a1a1a" stroke-width="1"/>
<path d="M28.7 106.7 h2.5 M282.8 106.7 h-2.5" stroke="#1a1a1a" stroke-width="1"/>
<path d="M28.7 101.7 h2.5 M282.8 101.7 h-2.5" stroke="#1a1a1a" stroke-width="1"/>
<path d="M28.7 96.6 h2.5 M282.8 96.6 h-2.5" stroke="#1a1a1a" stroke-width="1"/>
<path d="M28.7 91.5 h4.6 M282.8 91.5 h-4.6" stroke="#1a1a1a" stroke-width="1"/>
<path d="M28.7 86.5 h2.5 M282.8 86.5 h-2.5" stroke="#1a1a1a" stroke-width="1"/>
<path d="M28.7 81.4 h2.5 M282.8 81.4 h-2.5" stroke="#1a1a1a" stroke-width="1"/>
<path d="M28.7 76.4 h2.5 M282.8 76.4 h-2.5" stroke="#1a1a1a" stroke-width="1"/>
<text x="27.1" y="121.4" font-size="11" fill="#111" stroke="#111" stroke-width="0.3" text-anchor="end" font-weight="bold">0</text>
<text x="27.1" y="96.1" font-size="11" fill="#111" stroke="#111" stroke-width="0.3" text-anchor="end" font-weight="bold">5</text>
<path d="M27.1 72.4 l3.2 -1.6 M27.1 75 l3.2 -1.6" stroke="#1a1a1a" stroke-width="0.9"/>
<path d="M281.2 72.4 l3.2 -1.6 M281.2 75 l3.2 -1.6" stroke="#1a1a1a" stroke-width="0.9"/>
<path d="M276.2 137.4 v-2.2" stroke="#1a1a1a" stroke-width="0.9"/>
<path d="M269 137.4 v-2.2" stroke="#1a1a1a" stroke-width="0.9"/>
<path d="M261.7 137.4 v-2.2" stroke="#1a1a1a" stroke-width="0.9"/>
<path d="M254.4 137.4 v-2.2" stroke="#1a1a1a" stroke-width="0.9"/>
<path d="M247.2 137.4 v-2.2" stroke="#1a1a1a" stroke-width="0.9"/>
<path d="M239.9 137.4 v-2.2" stroke="#1a1a1a" stroke-width="0.9"/>
<path d="M232.6 137.4 v-2.2" stroke="#1a1a1a" stroke-width="0.9"/>
<path d="M225.4 137.4 v-2.2" stroke="#1a1a1a" stroke-width="0.9"/>
<path d="M218.1 137.4 v-2.2" stroke="#1a1a1a" stroke-width="0.9"/>
<path d="M210.8 137.4 v-2.2" stroke="#1a1a1a" stroke-width="0.9"/>
<path d="M203.6 137.4 v-2.2" stroke="#1a1a1a" stroke-width="0.9"/>
<path d="M196.3 137.4 v-2.2" stroke="#1a1a1a" stroke-width="0.9"/>
<path d="M189 137.4 v-2.2" stroke="#1a1a1a" stroke-width="0.9"/>
<path d="M181.8 137.4 v-2.2" stroke="#1a1a1a" stroke-width="0.9"/>
<path d="M174.5 137.4 v-2.2" stroke="#1a1a1a" stroke-width="0.9"/>
<path d="M167.2 137.4 v-2.2" stroke="#1a1a1a" stroke-width="0.9"/>
<path d="M160 137.4 v-2.2" stroke="#1a1a1a" stroke-width="0.9"/>
<path d="M152.7 137.4 v-2.2" stroke="#1a1a1a" stroke-width="0.9"/>
<path d="M145.4 137.4 v-2.2" stroke="#1a1a1a" stroke-width="0.9"/>
<path d="M138.2 137.4 v-2.2" stroke="#1a1a1a" stroke-width="0.9"/>
<path d="M130.9 137.4 v-2.2" stroke="#1a1a1a" stroke-width="0.9"/>
<path d="M123.7 137.4 v-2.2" stroke="#1a1a1a" stroke-width="0.9"/>
<path d="M116.4 137.4 v-2.2" stroke="#1a1a1a" stroke-width="0.9"/>
<path d="M109.1 137.4 v-2.2" stroke="#1a1a1a" stroke-width="0.9"/>
<path d="M101.9 137.4 v-2.2" stroke="#1a1a1a" stroke-width="0.9"/>
<path d="M94.6 137.4 v-2.2" stroke="#1a1a1a" stroke-width="0.9"/>
<path d="M87.3 137.4 v-2.2" stroke="#1a1a1a" stroke-width="0.9"/>
<path d="M80.1 137.4 v-2.2" stroke="#1a1a1a" stroke-width="0.9"/>
<path d="M72.8 137.4 v-2.2" stroke="#1a1a1a" stroke-width="0.9"/>
<path d="M65.5 137.4 v-2.2" stroke="#1a1a1a" stroke-width="0.9"/>
<path d="M58.3 137.4 v-2.2" stroke="#1a1a1a" stroke-width="0.9"/>
<path d="M51 137.4 v-2.2" stroke="#1a1a1a" stroke-width="0.9"/>
<path d="M43.7 137.4 v-2.2" stroke="#1a1a1a" stroke-width="0.9"/>
<path d="M36.5 137.4 v-2.2" stroke="#1a1a1a" stroke-width="0.9"/>
<path d="M254.4 137.4 v-4.6" stroke="#1a1a1a" stroke-width="1"/>
<path d="M218.1 137.4 v-4.6" stroke="#1a1a1a" stroke-width="1"/>
<path d="M181.8 137.4 v-4.6" stroke="#1a1a1a" stroke-width="1"/>
<path d="M145.4 137.4 v-4.6" stroke="#1a1a1a" stroke-width="1"/>
<path d="M109.1 137.4 v-4.6" stroke="#1a1a1a" stroke-width="1"/>
<path d="M72.8 137.4 v-4.6" stroke="#1a1a1a" stroke-width="1"/>
<path d="M36.5 137.4 v-4.6" stroke="#1a1a1a" stroke-width="1"/>
<text x="72.8" y="148" font-size="11" fill="#111" stroke="#111" stroke-width="0.3" text-anchor="middle" font-weight="bold">3454</text>
<text x="145.4" y="148" font-size="11" fill="#111" stroke="#111" stroke-width="0.3" text-anchor="middle" font-weight="bold">3452</text>
<text x="218.1" y="148" font-size="11" fill="#111" stroke="#111" stroke-width="0.3" text-anchor="middle" font-weight="bold">3450</text>
<path d="M65.5 10.4 v4.8" stroke="#1a1a1a" stroke-width="1"/>
<path d="M108.8 10.4 v4.8" stroke="#1a1a1a" stroke-width="1"/>
<path d="M192.4 10.4 v4.8" stroke="#1a1a1a" stroke-width="1"/>
<path d="M236.7 10.4 v4.8" stroke="#1a1a1a" stroke-width="1"/>
<path d="M280.3 10.4 v4.8" stroke="#1a1a1a" stroke-width="1"/>
<text x="65.5" y="8.3" font-size="9.8" fill="#111" stroke="#111" stroke-width="0.3" text-anchor="middle" font-weight="bold">2.895</text>
<text x="108.8" y="8.3" font-size="9.8" fill="#111" stroke="#111" stroke-width="0.3" text-anchor="middle" font-weight="bold">2.896</text>
<text x="192.4" y="8.3" font-size="9.8" fill="#111" stroke="#111" stroke-width="0.3" text-anchor="middle" font-weight="bold">2.898</text>
<text x="235.2" y="8.3" font-size="9.8" fill="#111" stroke="#111" stroke-width="0.3" text-anchor="middle" font-weight="bold">2.899</text>
<text x="277.3" y="8.3" font-size="9.8" fill="#111" stroke="#111" stroke-width="0.3" text-anchor="middle" font-weight="bold">2.900</text>
<text x="131" y="8.3" font-size="10.4" font-weight="bold" fill="#111" stroke="#111" stroke-width="0.2"><tspan font-family="Liberation Serif" font-weight="normal" font-size="11">&#955;</tspan> (<tspan font-family="Liberation Serif" font-weight="normal" font-size="11">&#956;</tspan>m)</text>
<text x="34.8" y="20.6" font-size="13" fill="#111" stroke="#111" stroke-width="0.3" text-anchor="start" font-weight="bold">a</text>
<text x="47" y="22" font-size="11" stroke="#111" stroke-width="0.25" font-weight="bold" fill="#111">spectral extract; <tspan fill="#bf1f2b" stroke="#bf1f2b">telluric + molecular models</tspan></text>
<text x="98.2" y="68.8" font-size="13" fill="#9a8a26" stroke="#9a8a26" stroke-width="0.3" text-anchor="start" font-weight="bold">telluric model</text>
<text x="98.2" y="84.7" font-size="13" fill="#2c3596" stroke="#2c3596" stroke-width="0.3" text-anchor="start" font-weight="bold">H<tspan font-size="7.8" dy="4.3">2</tspan><tspan dy="-4.3">&#8203;</tspan>O model (x4)</text>
<text x="98.2" y="103.6" font-size="13" fill="#111" stroke="#111" stroke-width="0.3" text-anchor="start" font-weight="bold">residuals (x2)</text>
<text x="157.5" y="133.5" font-size="13" fill="#7b2b9c" stroke="#7b2b9c" stroke-width="0.3" text-anchor="start" font-weight="bold" textLength="114.5" lengthAdjust="spacingAndGlyphs">&#177;1&#963; noise envelope</text>
<path d="M152.4 120.3 L157 130.2" stroke="#7b2b9c" stroke-width="1.4"/>
<g clip-path="url(#cpb)">
<path d="M307.4 28.9 L309 28.9 L309 25.6 L310.6 25.6 L310.6 29.5 L312.2 29.5 L312.2 28.4 L313.8 28.4 L313.8 28.2 L315.4 28.2 L315.4 27.9 L317 27.9 L317 27.1 L318.6 27.1 L318.6 26 L320.2 26 L320.2 24.6 L321.8 24.6 L321.8 27.5 L323.4 27.5 L323.4 26.7 L325 26.7 L325 25 L326.6 25 L326.6 25.2 L328.2 25.2 L328.2 25.2 L329.8 25.2 L329.8 25.1 L331.4 25.1 L331.4 24.7 L333 24.7 L333 26 L334.6 26 L334.6 25.9 L336.2 25.9 L336.2 27.5 L337.8 27.5 L337.8 26.3 L339.4 26.3 L339.4 25 L341 25 L341 26.4 L342.6 26.4 L342.6 27.9 L344.2 27.9 L344.2 26.5 L345.8 26.5 L345.8 25.5 L347.4 25.5 L347.4 26.4 L349 26.4 L349 25 L350.6 25 L350.6 25.9 L352.2 25.9 L352.2 24.4 L353.8 24.4 L353.8 27.9 L355.4 27.9 L355.4 29 L357 29 L357 30.7 L358.6 30.7 L358.6 36.4 L360.2 36.4 L360.2 38.1 L361.8 38.1 L361.8 41.8 L363.4 41.8 L363.4 46.1 L365 46.1 L365 53.9 L366.6 53.9 L366.6 50.6 L368.2 50.6 L368.2 42.9 L369.8 42.9 L369.8 36.8 L371.4 36.8 L371.4 30.4 L373 30.4 L373 30.6 L374.6 30.6 L374.6 29.6 L376.2 29.6 L376.2 28.1 L377.8 28.1 L377.8 28.1 L379.4 28.1 L379.4 24.4 L381 24.4 L381 24.8 L382.6 24.8 L382.6 25.7 L384.2 25.7 L384.2 28 L385.8 28 L385.8 28 L387.4 28 L387.4 26.5 L389 26.5 L389 30.7 L390.6 30.7 L390.6 25.5 L392.2 25.5 L392.2 25.2 L393.8 25.2 L393.8 25.9 L395.4 25.9 L395.4 25.5 L397 25.5 L397 25.1 L398.6 25.1 L398.6 28.2 L400.2 28.2 L400.2 27.7 L401.8 27.7 L401.8 25.6 L403.4 25.6 L403.4 25.8 L405 25.8 L405 24.8 L406.6 24.8 L406.6 25.6 L408.2 25.6 L408.2 25.7 L409.8 25.7 L409.8 25.8 L411.4 25.8 L411.4 26.5 L413 26.5 L413 25.6 L414.6 25.6 L414.6 24.8 L416.2 24.8 L416.2 28.6 L417.8 28.6 L417.8 26.2 L419.4 26.2 L419.4 26.6 L421 26.6 L421 25.5 L422.6 25.5 L422.6 26.6 L424.2 26.6 L424.2 25.5 L425.8 25.5 L425.8 27.5 L427.4 27.5 L427.4 26.3 L429 26.3 L429 26.4 L430.6 26.4 L430.6 27 L432.2 27 L432.2 26.7 L433.8 26.7 L433.8 27.7 L435.4 27.7 L435.4 30.1 L437 30.1 L437 27.7 L438.6 27.7 L438.6 27.5 L440.2 27.5 L440.2 25.2 L441.8 25.2 L441.8 22.9 L443.4 22.9 L443.4 26.7 L445 26.7 L445 26.2 L446.6 26.2 L446.6 27.2 L448.2 27.2 L448.2 28.8 L449.8 28.8 L449.8 33.4 L451.4 33.4 L451.4 30.5 L453 30.5 L453 36.6 L454.6 36.6 L454.6 40.2 L456.2 40.2 L456.2 46.9 L457.8 46.9 L457.8 54.9 L459.4 54.9 L459.4 58.3 L461 58.3 L461 55.9 L462.6 55.9 L462.6 51.2 L464.2 51.2 L464.2 44.7 L465.8 44.7 L465.8 36.3 L467.4 36.3 L467.4 31.4 L469 31.4 L469 31.1 L470.6 31.1 L470.6 28.8 L472.2 28.8 L472.2 28.6 L473.8 28.6 L473.8 29.9 L475.4 29.9 L475.4 28.1 L477 28.1 L477 28.2 L478.6 28.2 L478.6 28.3 L480.2 28.3 L480.2 27.2 L481.8 27.2 L481.8 29.2 L483.4 29.2 L483.4 27.2 L485 27.2 L485 25.9 L486.6 25.9 L486.6 26.4 L488.2 26.4 L488.2 27 L489.8 27 L489.8 29.3 L491.4 29.3 L491.4 27.8 L493 27.8 L493 24 L494.6 24 L494.6 28 L496.2 28 L496.2 28.2 L497.8 28.2 L497.8 26.8 L499.4 26.8 L499.4 26.3 L501 26.3 L501 26.7 L502.6 26.7 L502.6 26.6 L504.2 26.6 L504.2 25.9 L505.8 25.9 L505.8 26 L507.4 26 L507.4 27.5 L509 27.5 L509 25.7 L510.6 25.7 L510.6 26.5 L512.2 26.5 L512.2 26 L513.8 26 L513.8 22.7 L515.4 22.7 L515.4 16.9 L517 16.9 L517 14.7 L518.6 14.7 L518.6 20.6 L520.2 20.6 L520.2 26.6 L521.8 26.6 L521.8 33.5 L523.4 33.5 L523.4 32 L525 32 L525 30.8 L526.6 30.8 L526.6 31.7 L528.2 31.7 L528.2 28.6 L529.8 28.6 L529.8 22.7 L531.4 22.7 L531.4 24.3 L533 24.3 L533 29.1 L534.6 29.1 L534.6 33.3 L536.2 33.3 L536.2 40.9 L537.8 40.9 L537.8 46.2 L539.4 46.2 L539.4 51.7 L541 51.7 L541 47.7 L542.6 47.7 L542.6 43.1 L544.2 43.1 L544.2 39 L545.8 39 L545.8 33.8 L547.4 33.8 L547.4 28.2 L549 28.2 L549 27.8 L550.6 27.8 L550.6 26.6 L552.2 26.6 L552.2 26.3 L553.8 26.3 L553.8 27 L555.4 27 L555.4 27.1 L557 27.1 L557 27.4 L558.6 27.4 L558.6 25.2 L560.2 25.2 L560.2 26.7 L561.6 26.7" fill="none" stroke="#111" stroke-width="1.3" stroke-linejoin="round" stroke-linecap="round"/>
<path d="M307.4 26.4 L308.1 26.6 L308.8 26.9 L309.5 27.1 L310.2 27.3 L310.9 27.5 L311.6 27.6 L312.3 27.7 L313 27.7 L313.7 27.6 L314.4 27.5 L315.1 27.2 L315.8 26.9 L316.5 26.7 L317.2 26.4 L317.9 26.2 L318.6 26.1 L319.3 25.9 L320 25.9 L320.7 25.8 L321.4 25.7 L322.1 25.7 L322.8 25.6 L323.5 25.6 L324.2 25.6 L324.9 25.5 L325.6 25.5 L326.3 25.5 L327 25.5 L327.7 25.4 L328.4 25.4 L329.1 25.4 L329.8 25.4 L330.5 25.4 L331.2 25.4 L331.9 25.4 L332.6 25.4 L333.3 25.4 L334 25.4 L334.7 25.4 L335.4 25.5 L336.1 25.5 L336.8 25.5 L337.5 25.5 L338.2 25.6 L338.9 25.6 L339.6 25.7 L340.3 25.7 L341 25.8 L341.7 25.8 L342.4 25.9 L343.1 25.9 L343.8 26 L344.5 26 L345.2 26.1 L345.9 26.2 L346.6 26.2 L347.3 26.1 L348 26 L348.7 25.7 L349.4 25.3 L350.1 24.8 L350.8 24.2 L351.5 23.8 L352.2 23.6 L352.9 23.9 L353.6 24.5 L354.3 25.4 L355 26.5 L355.7 27.6 L356.4 28.7 L357.1 29.8 L357.8 31 L358.5 32.4 L359.2 33.8 L359.9 35.3 L360.6 37.1 L361.3 38.9 L362 40.9 L362.7 43 L363.4 45 L364.1 47.2 L364.8 50 L365.5 52.8 L366.2 53.4 L366.9 51.8 L367.6 49 L368.3 46.2 L369 43.3 L369.7 40 L370.4 37 L371.1 34.4 L371.8 32.5 L372.5 31.1 L373.2 30.1 L373.9 29.4 L374.6 28.9 L375.3 28.5 L376 28.2 L376.7 27.9 L377.4 27.6 L378.1 27.4 L378.8 27.2 L379.5 27 L380.2 26.9 L380.9 26.8 L381.6 26.7 L382.3 26.6 L383 26.5 L383.7 26.4 L384.4 26.4 L385.1 26.3 L385.8 26.3 L386.5 26.2 L387.2 26.2 L387.9 26.2 L388.6 26.2 L389.3 26.1 L390 26.1 L390.7 26.1 L391.4 26.1 L392.1 26.1 L392.8 26.1 L393.5 26.1 L394.2 26.1 L394.9 26.1 L395.6 26.1 L396.3 26.1 L397 26.1 L397.7 26.2 L398.4 26.2 L399.1 26.2 L399.8 26.2 L400.5 26.3 L401.2 26.3 L401.9 26.4 L402.6 26.4 L403.3 26.6 L404 26.7 L404.7 26.9 L405.4 27.2 L406.1 27.4 L406.8 27.6 L407.5 27.7 L408.2 27.7 L408.9 27.6 L409.6 27.4 L410.3 27.2 L411 26.9 L411.7 26.7 L412.4 26.6 L413.1 26.5 L413.8 26.4 L414.5 26.3 L415.2 26.3 L415.9 26.3 L416.6 26.2 L417.3 26.2 L418 26.2 L418.7 26.2 L419.4 26.2 L420.1 26.2 L420.8 26.2 L421.5 26.2 L422.2 26.2 L422.9 26.2 L423.6 26.2 L424.3 26.2 L425 26.2 L425.7 26.2 L426.4 26.2 L427.1 26.2 L427.8 26.2 L428.5 26.2 L429.2 26.2 L429.9 26.2 L430.6 26.2 L431.3 26.2 L432 26.3 L432.7 26.3 L433.4 26.3 L434.1 26.3 L434.8 26.3 L435.5 26.3 L436.2 26.4 L436.9 26.4 L437.6 26.4 L438.3 26.4 L439 26.5 L439.7 26.5 L440.4 26.6 L441.1 26.7 L441.8 26.8 L442.5 26.9 L443.2 27 L443.9 27.1 L444.6 27.3 L445.3 27.4 L446 27.5 L446.7 27.7 L447.4 27.9 L448.1 28.2 L448.8 28.5 L449.5 29 L450.2 29.6 L450.9 30.3 L451.6 31.2 L452.3 32.3 L453 33.7 L453.7 35.3 L454.4 37.2 L455.1 39.6 L455.8 42.4 L456.5 45.5 L457.2 48.7 L457.9 51.8 L458.6 54.5 L459.3 56.8 L460 58.4 L460.7 58.7 L461.4 58 L462.1 56.2 L462.8 53.8 L463.5 50.8 L464.2 47.2 L464.9 43.5 L465.6 40 L466.3 36.9 L467 34.7 L467.7 33.1 L468.4 31.9 L469.1 31.3 L469.8 30.8 L470.5 30.4 L471.2 30 L471.9 29.6 L472.6 29.3 L473.3 29 L474 28.8 L474.7 28.6 L475.4 28.4 L476.1 28.2 L476.8 28.1 L477.5 28 L478.2 27.9 L478.9 27.8 L479.6 27.7 L480.3 27.6 L481 27.5 L481.7 27.5 L482.4 27.4 L483.1 27.3 L483.8 27.3 L484.5 27.3 L485.2 27.2 L485.9 27.2 L486.6 27.2 L487.3 27.1 L488 27.1 L488.7 27.1 L489.4 27.1 L490.1 27.1 L490.8 27.1 L491.5 27 L492.2 27 L492.9 27 L493.6 27 L494.3 27 L495 26.9 L495.7 26.9 L496.4 26.9 L497.1 26.9 L497.8 26.9 L498.5 26.9 L499.2 26.8 L499.9 26.8 L500.6 26.8 L501.3 26.8 L502 26.8 L502.7 26.8 L503.4 26.8 L504.1 26.8 L504.8 26.8 L505.5 26.8 L506.2 26.9 L506.9 26.9 L507.6 26.9 L508.3 27 L509 27 L509.7 27.1 L510.4 27.2 L511.1 27.2 L511.8 27.3 L512.5 27.2 L513.2 26.7 L513.9 25.7 L514.6 23.8 L515.3 21 L516 18 L516.7 15.5 L517.4 14.7 L518.1 16 L518.8 18.9 L519.5 22.4 L520.2 25.7 L520.9 28.1 L521.6 29.8 L522.3 30.9 L523 31.6 L523.7 32.2 L524.4 32.7 L525.1 33.1 L525.8 33.3 L526.5 33.2 L527.2 32.8 L527.9 32 L528.6 30.7 L529.3 29.1 L530 27.1 L530.7 24.9 L531.4 23.8 L532.1 24 L532.8 25.2 L533.5 27.1 L534.2 29.5 L534.9 31.9 L535.6 34.7 L536.3 37.7 L537 40.8 L537.7 43.6 L538.4 46.2 L539.1 48.8 L539.8 50.2 L540.5 49.9 L541.2 48.4 L541.9 46.3 L542.6 44.3 L543.3 42.1 L544 39.7 L544.7 37.2 L545.4 34.9 L546.1 32.9 L546.8 31.3 L547.5 30.1 L548.2 29.3 L548.9 28.7 L549.6 28.3 L550.3 28 L551 27.8 L551.7 27.6 L552.4 27.4 L553.1 27.3 L553.8 27.1 L554.5 26.9 L555.2 26.7 L555.9 26.6 L556.6 26.5 L557.3 26.4 L558 26.3 L558.7 26.2 L559.4 26.1 L560.1 26.1 L560.8 26 L561.5 26" fill="none" stroke="#bf1f2b" stroke-width="1.2" stroke-linejoin="round" stroke-linecap="round"/>
<path d="M307.4 26.4 L308.1 26.6 L308.8 26.9 L309.5 27.1 L310.2 27.3 L310.9 27.5 L311.6 27.6 L312.3 27.7 L313 27.7 L313.7 27.6 L314.4 27.5 L315.1 27.2 L315.8 26.9 L316.5 26.7 L317.2 26.4 L317.9 26.2 L318.6 26.1 L319.3 25.9 L320 25.9 L320.7 25.8 L321.4 25.7 L322.1 25.7 L322.8 25.6 L323.5 25.6 L324.2 25.6 L324.9 25.5 L325.6 25.5 L326.3 25.5 L327 25.5 L327.7 25.4 L328.4 25.4 L329.1 25.4 L329.8 25.4 L330.5 25.4 L331.2 25.4 L331.9 25.4 L332.6 25.4 L333.3 25.4 L334 25.4 L334.7 25.4 L335.4 25.5 L336.1 25.5 L336.8 25.5 L337.5 25.5 L338.2 25.6 L338.9 25.6 L339.6 25.7 L340.3 25.7 L341 25.8 L341.7 25.8 L342.4 25.9 L343.1 25.9 L343.8 26 L344.5 26 L345.2 26.1 L345.9 26.2 L346.6 26.3 L347.3 26.4 L348 26.4 L348.7 26.5 L349.4 26.6 L350.1 26.7 L350.8 26.8 L351.5 26.9 L352.2 27.1 L352.9 27.3 L353.6 27.6 L354.3 27.9 L355 28.3 L355.7 28.8 L356.4 29.4 L357.1 30.2 L357.8 31.2 L358.5 32.5 L359.2 33.8 L359.9 35.3 L360.6 37.1 L361.3 38.9 L362 40.9 L362.7 43 L363.4 45 L364.1 47.2 L364.8 50 L365.5 52.8 L366.2 53.4 L366.9 51.8 L367.6 49 L368.3 46.2 L369 43.3 L369.7 40 L370.4 37 L371.1 34.4 L371.8 32.5 L372.5 31.1 L373.2 30.1 L373.9 29.4 L374.6 28.9 L375.3 28.5 L376 28.2 L376.7 27.9 L377.4 27.6 L378.1 27.4 L378.8 27.2 L379.5 27 L380.2 26.9 L380.9 26.8 L381.6 26.7 L382.3 26.6 L383 26.5 L383.7 26.4 L384.4 26.4 L385.1 26.3 L385.8 26.3 L386.5 26.2 L387.2 26.2 L387.9 26.2 L388.6 26.2 L389.3 26.1 L390 26.1 L390.7 26.1 L391.4 26.1 L392.1 26.1 L392.8 26.1 L393.5 26.1 L394.2 26.1 L394.9 26.1 L395.6 26.1 L396.3 26.1 L397 26.1 L397.7 26.2 L398.4 26.2 L399.1 26.2 L399.8 26.2 L400.5 26.3 L401.2 26.3 L401.9 26.4 L402.6 26.4 L403.3 26.6 L404 26.7 L404.7 26.9 L405.4 27.2 L406.1 27.4 L406.8 27.6 L407.5 27.7 L408.2 27.7 L408.9 27.6 L409.6 27.4 L410.3 27.2 L411 26.9 L411.7 26.7 L412.4 26.6 L413.1 26.5 L413.8 26.4 L414.5 26.3 L415.2 26.3 L415.9 26.3 L416.6 26.2 L417.3 26.2 L418 26.2 L418.7 26.2 L419.4 26.2 L420.1 26.2 L420.8 26.2 L421.5 26.2 L422.2 26.2 L422.9 26.2 L423.6 26.2 L424.3 26.2 L425 26.2 L425.7 26.2 L426.4 26.2 L427.1 26.2 L427.8 26.2 L428.5 26.2 L429.2 26.2 L429.9 26.2 L430.6 26.2 L431.3 26.2 L432 26.3 L432.7 26.3 L433.4 26.3 L434.1 26.3 L434.8 26.3 L435.5 26.3 L436.2 26.4 L436.9 26.4 L437.6 26.4 L438.3 26.4 L439 26.5 L439.7 26.5 L440.4 26.6 L441.1 26.7 L441.8 26.8 L442.5 26.9 L443.2 27 L443.9 27.1 L444.6 27.3 L445.3 27.4 L446 27.5 L446.7 27.7 L447.4 27.9 L448.1 28.2 L448.8 28.5 L449.5 29 L450.2 29.6 L450.9 30.3 L451.6 31.2 L452.3 32.3 L453 33.7 L453.7 35.3 L454.4 37.2 L455.1 39.6 L455.8 42.4 L456.5 45.5 L457.2 48.7 L457.9 51.8 L458.6 54.5 L459.3 56.8 L460 58.4 L460.7 58.7 L461.4 58 L462.1 56.2 L462.8 53.8 L463.5 50.8 L464.2 47.2 L464.9 43.5 L465.6 40 L466.3 36.9 L467 34.7 L467.7 33.1 L468.4 31.9 L469.1 31.3 L469.8 30.8 L470.5 30.4 L471.2 30 L471.9 29.6 L472.6 29.3 L473.3 29 L474 28.8 L474.7 28.6 L475.4 28.4 L476.1 28.2 L476.8 28.1 L477.5 28 L478.2 27.9 L478.9 27.8 L479.6 27.7 L480.3 27.6 L481 27.5 L481.7 27.5 L482.4 27.4 L483.1 27.3 L483.8 27.3 L484.5 27.3 L485.2 27.2 L485.9 27.2 L486.6 27.2 L487.3 27.1 L488 27.1 L488.7 27.1 L489.4 27.1 L490.1 27.1 L490.8 27.1 L491.5 27 L492.2 27 L492.9 27 L493.6 27 L494.3 27 L495 26.9 L495.7 26.9 L496.4 26.9 L497.1 26.9 L497.8 26.9 L498.5 26.9 L499.2 26.8 L499.9 26.8 L500.6 26.8 L501.3 26.8 L502 26.8 L502.7 26.8 L503.4 26.8 L504.1 26.8 L504.8 26.8 L505.5 26.8 L506.2 26.9 L506.9 26.9 L507.6 26.9 L508.3 27 L509 27 L509.7 27.1 L510.4 27.2 L511.1 27.3 L511.8 27.4 L512.5 27.5 L513.2 27.6 L513.9 27.8 L514.6 27.9 L515.3 28.1 L516 28.3 L516.7 28.5 L517.4 28.7 L518.1 29 L518.8 29.2 L519.5 29.5 L520.2 29.9 L520.9 30.3 L521.6 30.7 L522.3 31.2 L523 31.7 L523.7 32.2 L524.4 32.7 L525.1 33.1 L525.8 33.3 L526.5 33.3 L527.2 32.9 L527.9 32.3 L528.6 31.5 L529.3 30.7 L530 29.8 L530.7 28.8 L531.4 28.6 L532.1 29 L532.8 29.6 L533.5 30.4 L534.2 31.5 L534.9 33 L535.6 35.1 L536.3 37.9 L537 40.9 L537.7 43.6 L538.4 46.2 L539.1 48.8 L539.8 50.2 L540.5 49.9 L541.2 48.4 L541.9 46.3 L542.6 44.3 L543.3 42.1 L544 39.7 L544.7 37.2 L545.4 34.9 L546.1 32.9 L546.8 31.3 L547.5 30.1 L548.2 29.3 L548.9 28.7 L549.6 28.3 L550.3 28 L551 27.8 L551.7 27.6 L552.4 27.4 L553.1 27.3 L553.8 27.1 L554.5 26.9 L555.2 26.7 L555.9 26.6 L556.6 26.5 L557.3 26.4 L558 26.3 L558.7 26.2 L559.4 26.1 L560.1 26.1 L560.8 26 L561.5 26" fill="none" stroke="#d2a044" stroke-width="1.6" stroke-linejoin="round" stroke-linecap="round"/>
<path d="M307.4 69.6 L307.9 69.6 L308.4 69.6 L308.9 69.6 L309.4 69.6 L309.9 69.6 L310.4 69.6 L310.9 69.6 L311.4 69.6 L311.9 69.6 L312.4 69.6 L312.9 69.6 L313.4 69.6 L313.9 69.6 L314.4 69.6 L314.9 69.6 L315.4 69.6 L315.9 69.6 L316.4 69.6 L316.9 69.6 L317.4 69.6 L317.9 69.6 L318.4 69.6 L318.9 69.6 L319.4 69.6 L319.9 69.6 L320.4 69.6 L320.9 69.6 L321.4 69.6 L321.9 69.6 L322.4 69.6 L322.9 69.6 L323.4 69.6 L323.9 69.6 L324.4 69.6 L324.9 69.6 L325.4 69.6 L325.9 69.6 L326.4 69.6 L326.9 69.6 L327.4 69.6 L327.9 69.6 L328.4 69.6 L328.9 69.6 L329.4 69.6 L329.9 69.6 L330.4 69.6 L330.9 69.6 L331.4 69.5 L331.9 69.4 L332.4 69.2 L332.9 68.9 L333.4 68.7 L333.9 68.5 L334.4 68.4 L334.9 68.5 L335.4 68.7 L335.9 69 L336.4 69.2 L336.9 69.2 L337.4 69 L337.9 68.7 L338.4 68.1 L338.9 67.5 L339.4 67 L339.9 66.8 L340.4 66.9 L340.9 67.3 L341.4 67.9 L341.9 68.5 L342.4 69 L342.9 69.3 L343.4 69.5 L343.9 69.5 L344.4 69.6 L344.9 69.6 L345.4 69.6 L345.9 69.6 L346.4 69.6 L346.9 69.6 L347.4 69.6 L347.9 69.6 L348.4 69.6 L348.9 69.5 L349.4 69.4 L349.9 69.1 L350.4 68.7 L350.9 68.1 L351.4 67.2 L351.9 66.3 L352.4 65.6 L352.9 65.1 L353.4 65.2 L353.9 65.7 L354.4 66.5 L354.9 67.4 L355.4 68.2 L355.9 68.8 L356.4 69.2 L356.9 69.4 L357.4 69.5 L357.9 69.6 L358.4 69.6 L358.9 69.6 L359.4 69.6 L359.9 69.6 L360.4 69.6 L360.9 69.6 L361.4 69.6 L361.9 69.6 L362.4 69.6 L362.9 69.6 L363.4 69.6 L363.9 69.6 L364.4 69.6 L364.9 69.6 L365.4 69.6 L365.9 69.6 L366.4 69.6 L366.9 69.6 L367.4 69.6 L367.9 69.6 L368.4 69.6 L368.9 69.6 L369.4 69.6 L369.9 69.6 L370.4 69.6 L370.9 69.6 L371.4 69.6 L371.9 69.6 L372.4 69.6 L372.9 69.6 L373.4 69.6 L373.9 69.6 L374.4 69.6 L374.9 69.6 L375.4 69.6 L375.9 69.6 L376.4 69.6 L376.9 69.6 L377.4 69.6 L377.9 69.6 L378.4 69.6 L378.9 69.6 L379.4 69.6 L379.9 69.6 L380.4 69.6 L380.9 69.6 L381.4 69.6 L381.9 69.6 L382.4 69.6 L382.9 69.6 L383.4 69.6 L383.9 69.6 L384.4 69.6 L384.9 69.6 L385.4 69.6 L385.9 69.6 L386.4 69.6 L386.9 69.6 L387.4 69.6 L387.9 69.6 L388.4 69.6 L388.9 69.6 L389.4 69.6 L389.9 69.6 L390.4 69.6 L390.9 69.6 L391.4 69.6 L391.9 69.6 L392.4 69.6 L392.9 69.6 L393.4 69.6 L393.9 69.6 L394.4 69.6 L394.9 69.6 L395.4 69.6 L395.9 69.6 L396.4 69.6 L396.9 69.6 L397.4 69.6 L397.9 69.6 L398.4 69.6 L398.9 69.6 L399.4 69.6 L399.9 69.6 L400.4 69.6 L400.9 69.6 L401.4 69.6 L401.9 69.6 L402.4 69.6 L402.9 69.6 L403.4 69.6 L403.9 69.6 L404.4 69.6 L404.9 69.6 L405.4 69.6 L405.9 69.6 L406.4 69.6 L406.9 69.6 L407.4 69.6 L407.9 69.6 L408.4 69.6 L408.9 69.6 L409.4 69.6 L409.9 69.6 L410.4 69.6 L410.9 69.6 L411.4 69.6 L411.9 69.6 L412.4 69.6 L412.9 69.6 L413.4 69.6 L413.9 69.6 L414.4 69.6 L414.9 69.6 L415.4 69.6 L415.9 69.6 L416.4 69.6 L416.9 69.6 L417.4 69.6 L417.9 69.6 L418.4 69.6 L418.9 69.6 L419.4 69.6 L419.9 69.6 L420.4 69.6 L420.9 69.6 L421.4 69.6 L421.9 69.6 L422.4 69.6 L422.9 69.6 L423.4 69.6 L423.9 69.6 L424.4 69.6 L424.9 69.6 L425.4 69.6 L425.9 69.6 L426.4 69.6 L426.9 69.6 L427.4 69.6 L427.9 69.6 L428.4 69.6 L428.9 69.6 L429.4 69.6 L429.9 69.6 L430.4 69.6 L430.9 69.6 L431.4 69.6 L431.9 69.6 L432.4 69.6 L432.9 69.6 L433.4 69.6 L433.9 69.6 L434.4 69.6 L434.9 69.6 L435.4 69.6 L435.9 69.6 L436.4 69.6 L436.9 69.6 L437.4 69.6 L437.9 69.6 L438.4 69.6 L438.9 69.6 L439.4 69.6 L439.9 69.6 L440.4 69.6 L440.9 69.6 L441.4 69.6 L441.9 69.6 L442.4 69.6 L442.9 69.6 L443.4 69.6 L443.9 69.6 L444.4 69.6 L444.9 69.6 L445.4 69.6 L445.9 69.6 L446.4 69.6 L446.9 69.6 L447.4 69.6 L447.9 69.6 L448.4 69.6 L448.9 69.6 L449.4 69.6 L449.9 69.6 L450.4 69.6 L450.9 69.6 L451.4 69.6 L451.9 69.6 L452.4 69.6 L452.9 69.6 L453.4 69.6 L453.9 69.6 L454.4 69.6 L454.9 69.6 L455.4 69.6 L455.9 69.6 L456.4 69.6 L456.9 69.6 L457.4 69.6 L457.9 69.6 L458.4 69.6 L458.9 69.6 L459.4 69.6 L459.9 69.6 L460.4 69.6 L460.9 69.6 L461.4 69.6 L461.9 69.6 L462.4 69.6 L462.9 69.6 L463.4 69.6 L463.9 69.6 L464.4 69.6 L464.9 69.6 L465.4 69.6 L465.9 69.6 L466.4 69.6 L466.9 69.6 L467.4 69.6 L467.9 69.6 L468.4 69.6 L468.9 69.6 L469.4 69.6 L469.9 69.6 L470.4 69.6 L470.9 69.6 L471.4 69.6 L471.9 69.6 L472.4 69.6 L472.9 69.6 L473.4 69.6 L473.9 69.6 L474.4 69.6 L474.9 69.6 L475.4 69.6 L475.9 69.6 L476.4 69.6 L476.9 69.6 L477.4 69.6 L477.9 69.6 L478.4 69.6 L478.9 69.6 L479.4 69.6 L479.9 69.6 L480.4 69.6 L480.9 69.6 L481.4 69.6 L481.9 69.6 L482.4 69.6 L482.9 69.6 L483.4 69.6 L483.9 69.6 L484.4 69.6 L484.9 69.6 L485.4 69.6 L485.9 69.6 L486.4 69.6 L486.9 69.6 L487.4 69.6 L487.9 69.6 L488.4 69.6 L488.9 69.6 L489.4 69.6 L489.9 69.6 L490.4 69.6 L490.9 69.6 L491.4 69.6 L491.9 69.6 L492.4 69.6 L492.9 69.6 L493.4 69.6 L493.9 69.6 L494.4 69.6 L494.9 69.6 L495.4 69.6 L495.9 69.6 L496.4 69.6 L496.9 69.6 L497.4 69.6 L497.9 69.6 L498.4 69.6 L498.9 69.6 L499.4 69.6 L499.9 69.6 L500.4 69.6 L500.9 69.6 L501.4 69.6 L501.9 69.6 L502.4 69.6 L502.9 69.6 L503.4 69.6 L503.9 69.6 L504.4 69.6 L504.9 69.6 L505.4 69.6 L505.9 69.6 L506.4 69.6 L506.9 69.6 L507.4 69.6 L507.9 69.6 L508.4 69.6 L508.9 69.6 L509.4 69.6 L509.9 69.6 L510.4 69.6 L510.9 69.5 L511.4 69.5 L511.9 69.2 L512.4 68.8 L512.9 67.9 L513.4 66.4 L513.9 64 L514.4 60.5 L514.9 56.2 L515.4 51.4 L515.9 47.1 L516.4 43.9 L516.9 42.8 L517.4 43.9 L517.9 47.1 L518.4 51.4 L518.9 56.2 L519.4 60.5 L519.9 64 L520.4 66.4 L520.9 67.9 L521.4 68.8 L521.9 69.2 L522.4 69.5 L522.9 69.5 L523.4 69.6 L523.9 69.6 L524.4 69.6 L524.9 69.6 L525.4 69.6 L525.9 69.6 L526.4 69.6 L526.9 69.6 L527.4 69.6 L527.9 69.6 L528.4 69.6 L528.9 69.6 L529.4 69.6 L529.9 69.6 L530.4 69.6 L530.9 69.6 L531.4 69.6 L531.9 69.6 L532.4 69.6 L532.9 69.6 L533.4 69.6 L533.9 69.6 L534.4 69.6 L534.9 69.6 L535.4 69.6 L535.9 69.6 L536.4 69.6 L536.9 69.6 L537.4 69.6 L537.9 69.6 L538.4 69.6 L538.9 69.6 L539.4 69.6 L539.9 69.6 L540.4 69.6 L540.9 69.6 L541.4 69.6 L541.9 69.6 L542.4 69.6 L542.9 69.6 L543.4 69.6 L543.9 69.6 L544.4 69.6 L544.9 69.6 L545.4 69.6 L545.9 69.6 L546.4 69.6 L546.9 69.6 L547.4 69.6 L547.9 69.6 L548.4 69.6 L548.9 69.6 L549.4 69.6 L549.9 69.6 L550.4 69.6 L550.9 69.6 L551.4 69.6 L551.9 69.6 L552.4 69.6 L552.9 69.6 L553.4 69.6 L553.9 69.6 L554.4 69.6 L554.9 69.6 L555.4 69.6 L555.9 69.6 L556.4 69.6 L556.9 69.6 L557.4 69.6 L557.9 69.6 L558.4 69.6 L558.9 69.6 L559.4 69.6 L559.9 69.6 L560.4 69.6 L560.9 69.6 L561.4 69.6" fill="none" stroke="#2c3596" stroke-width="1.3" stroke-linejoin="round" stroke-linecap="round"/>
<path d="M307.4 87 L307.9 87 L308.4 87 L308.9 87 L309.4 87 L309.9 87 L310.4 87 L310.9 87 L311.4 87 L311.9 87 L312.4 87 L312.9 87 L313.4 87 L313.9 87 L314.4 87 L314.9 87 L315.4 87 L315.9 87 L316.4 87 L316.9 87 L317.4 87 L317.9 87 L318.4 87 L318.9 87 L319.4 87 L319.9 87 L320.4 87 L320.9 87 L321.4 87 L321.9 87 L322.4 87 L322.9 87 L323.4 87 L323.9 87 L324.4 87 L324.9 87 L325.4 87 L325.9 87 L326.4 87 L326.9 87 L327.4 87 L327.9 87 L328.4 87 L328.9 87 L329.4 87 L329.9 87 L330.4 87 L330.9 87 L331.4 87 L331.9 87 L332.4 87 L332.9 87 L333.4 87 L333.9 87 L334.4 87 L334.9 87 L335.4 87 L335.9 87 L336.4 87 L336.9 87 L337.4 87 L337.9 87 L338.4 87 L338.9 87 L339.4 87 L339.9 87 L340.4 87 L340.9 87 L341.4 87 L341.9 87 L342.4 87 L342.9 87 L343.4 87 L343.9 87 L344.4 87 L344.9 87 L345.4 87 L345.9 87 L346.4 87 L346.9 87 L347.4 87 L347.9 87 L348.4 87 L348.9 87 L349.4 87 L349.9 87 L350.4 87 L350.9 87 L351.4 87 L351.9 87 L352.4 87 L352.9 87 L353.4 86.9 L353.9 86.8 L354.4 86.6 L354.9 86.1 L355.4 85.3 L355.9 84 L356.4 82.2 L356.9 79.9 L357.4 77.6 L357.9 75.7 L358.4 74.7 L358.9 74.8 L359.4 76.1 L359.9 78.1 L360.4 80.4 L360.9 82.6 L361.4 84.3 L361.9 85.5 L362.4 86.3 L362.9 86.7 L363.4 86.9 L363.9 86.9 L364.4 87 L364.9 87 L365.4 87 L365.9 87 L366.4 87 L366.9 87 L367.4 87 L367.9 87 L368.4 87 L368.9 87 L369.4 87 L369.9 87 L370.4 87 L370.9 87 L371.4 87 L371.9 87 L372.4 87 L372.9 87 L373.4 87 L373.9 87 L374.4 87 L374.9 87 L375.4 87 L375.9 87 L376.4 87 L376.9 87 L377.4 87 L377.9 87 L378.4 87 L378.9 87 L379.4 87 L379.9 87 L380.4 87 L380.9 87 L381.4 87 L381.9 87 L382.4 87 L382.9 87 L383.4 87 L383.9 87 L384.4 87 L384.9 87 L385.4 87 L385.9 87 L386.4 87 L386.9 87 L387.4 87 L387.9 87 L388.4 87 L388.9 87 L389.4 87 L389.9 87 L390.4 87 L390.9 87 L391.4 87 L391.9 87 L392.4 87 L392.9 87 L393.4 87 L393.9 87 L394.4 87 L394.9 87 L395.4 87 L395.9 87 L396.4 87 L396.9 87 L397.4 87 L397.9 87 L398.4 87 L398.9 87 L399.4 87 L399.9 87 L400.4 87 L400.9 87 L401.4 87 L401.9 87 L402.4 87 L402.9 87 L403.4 87 L403.9 87 L404.4 87 L404.9 87 L405.4 87 L405.9 87 L406.4 87 L406.9 87 L407.4 87 L407.9 87 L408.4 87 L408.9 87 L409.4 87 L409.9 87 L410.4 87 L410.9 87 L411.4 87 L411.9 87 L412.4 87 L412.9 87 L413.4 87 L413.9 87 L414.4 87 L414.9 87 L415.4 87 L415.9 87 L416.4 87 L416.9 87 L417.4 87 L417.9 87 L418.4 87 L418.9 87 L419.4 87 L419.9 87 L420.4 87 L420.9 87 L421.4 87 L421.9 87 L422.4 87 L422.9 87 L423.4 87 L423.9 87 L424.4 87 L424.9 87 L425.4 87 L425.9 87 L426.4 87 L426.9 87 L427.4 87 L427.9 87 L428.4 87 L428.9 87 L429.4 87 L429.9 87 L430.4 87 L430.9 87 L431.4 87 L431.9 87 L432.4 87 L432.9 87 L433.4 87 L433.9 87 L434.4 87 L434.9 87 L435.4 87 L435.9 87 L436.4 87 L436.9 87 L437.4 87 L437.9 87 L438.4 87 L438.9 87 L439.4 87 L439.9 87 L440.4 87 L440.9 87 L441.4 87 L441.9 87 L442.4 87 L442.9 87 L443.4 87 L443.9 87 L444.4 87 L444.9 87 L445.4 87 L445.9 87 L446.4 87 L446.9 87 L447.4 87 L447.9 87 L448.4 87 L448.9 87 L449.4 87 L449.9 87 L450.4 87 L450.9 87 L451.4 87 L451.9 87 L452.4 87 L452.9 87 L453.4 87 L453.9 87 L454.4 87 L454.9 87 L455.4 87 L455.9 87 L456.4 87 L456.9 87 L457.4 87 L457.9 87 L458.4 87 L458.9 87 L459.4 87 L459.9 87 L460.4 87 L460.9 87 L461.4 87 L461.9 87 L462.4 87 L462.9 87 L463.4 87 L463.9 87 L464.4 87 L464.9 87 L465.4 87 L465.9 87 L466.4 87 L466.9 87 L467.4 87 L467.9 87 L468.4 87 L468.9 87 L469.4 87 L469.9 87 L470.4 87 L470.9 87 L471.4 87 L471.9 87 L472.4 87 L472.9 87 L473.4 87 L473.9 87 L474.4 87 L474.9 87 L475.4 87 L475.9 87 L476.4 87 L476.9 87 L477.4 87 L477.9 87 L478.4 87 L478.9 87 L479.4 87 L479.9 87 L480.4 87 L480.9 87 L481.4 87 L481.9 87 L482.4 87 L482.9 87 L483.4 87 L483.9 87 L484.4 87 L484.9 87 L485.4 87 L485.9 87 L486.4 87 L486.9 87 L487.4 87 L487.9 87 L488.4 87 L488.9 87 L489.4 87 L489.9 87 L490.4 87 L490.9 87 L491.4 87 L491.9 87 L492.4 87 L492.9 87 L493.4 87 L493.9 87 L494.4 87 L494.9 87 L495.4 87 L495.9 87 L496.4 87 L496.9 87 L497.4 87 L497.9 87 L498.4 87 L498.9 87 L499.4 87 L499.9 87 L500.4 87 L500.9 87 L501.4 87 L501.9 87 L502.4 87 L502.9 87 L503.4 87 L503.9 87 L504.4 87 L504.9 87 L505.4 87 L505.9 87 L506.4 87 L506.9 87 L507.4 87 L507.9 87 L508.4 87 L508.9 87 L509.4 87 L509.9 87 L510.4 87 L510.9 87 L511.4 87 L511.9 87 L512.4 87 L512.9 87 L513.4 87 L513.9 87 L514.4 87 L514.9 87 L515.4 87 L515.9 87 L516.4 87 L516.9 87 L517.4 87 L517.9 87 L518.4 87 L518.9 87 L519.4 87 L519.9 87 L520.4 87 L520.9 87 L521.4 87 L521.9 87 L522.4 87 L522.9 87 L523.4 87 L523.9 87 L524.4 87 L524.9 87 L525.4 87 L525.9 87 L526.4 87 L526.9 87 L527.4 86.9 L527.9 86.8 L528.4 86.6 L528.9 86.2 L529.4 85.4 L529.9 84.2 L530.4 82.6 L530.9 80.7 L531.4 78.8 L531.9 77.3 L532.4 76.6 L532.9 76.9 L533.4 78.1 L533.9 79.9 L534.4 81.9 L534.9 83.6 L535.4 85 L535.9 85.9 L536.4 86.5 L536.9 86.8 L537.4 86.9 L537.9 87 L538.4 87 L538.9 87 L539.4 87 L539.9 87 L540.4 87 L540.9 87 L541.4 87 L541.9 87 L542.4 87 L542.9 87 L543.4 87 L543.9 87 L544.4 87 L544.9 87 L545.4 87 L545.9 87 L546.4 87 L546.9 87 L547.4 87 L547.9 87 L548.4 87 L548.9 87 L549.4 87 L549.9 87 L550.4 87 L550.9 87 L551.4 87 L551.9 87 L552.4 87 L552.9 87 L553.4 87 L553.9 87 L554.4 87 L554.9 87 L555.4 87 L555.9 87 L556.4 87 L556.9 87 L557.4 87 L557.9 87 L558.4 87 L558.9 87 L559.4 87 L559.9 87 L560.4 87 L560.9 87 L561.4 87" fill="none" stroke="#45b3c5" stroke-width="1.5" stroke-linejoin="round" stroke-linecap="round"/>
<path d="M307.8 108.8 H561.2" stroke="#7b2b9c" stroke-width="1.6" stroke-dasharray="6.5 3.5"/>
<path d="M307.8 115.8 H561.2" stroke="#7b2b9c" stroke-width="1.6" stroke-dasharray="6.5 3.5"/>
<path d="M307.8 112.3 H561.2" stroke="#444" stroke-width="0.6" stroke-dasharray="2 2"/>
<path d="M307.4 112.8 L308.8 112.8 L308.8 110.6 L310.2 110.6 L310.2 109.2 L311.6 109.2 L311.6 104.8 L313 104.8 L313 111.4 L314.4 111.4 L314.4 109.7 L315.8 109.7 L315.8 112.7 L317.2 112.7 L317.2 117.2 L318.6 117.2 L318.6 119.6 L320 119.6 L320 110.8 L321.4 110.8 L321.4 111.6 L322.8 111.6 L322.8 110.3 L324.2 110.3 L324.2 109.4 L325.6 109.4 L325.6 110.3 L327 110.3 L327 111.2 L328.4 111.2 L328.4 108.9 L329.8 108.9 L329.8 108.3 L331.2 108.3 L331.2 107.4 L332.6 107.4 L332.6 107.7 L334 107.7 L334 111.7 L335.4 111.7 L335.4 110.9 L336.8 110.9 L336.8 108.9 L338.2 108.9 L338.2 115.4 L339.6 115.4 L339.6 107.6 L341 107.6 L341 119.4 L342.4 119.4 L342.4 108.6 L343.8 108.6 L343.8 106.7 L345.2 106.7 L345.2 115.3 L346.6 115.3 L346.6 121.7 L348 121.7 L348 114.6 L349.4 114.6 L349.4 117.9 L350.8 117.9 L350.8 117.6 L352.2 117.6 L352.2 112.4 L353.6 112.4 L353.6 114.5 L355 114.5 L355 116.3 L356.4 116.3 L356.4 114.9 L357.8 114.9 L357.8 111 L359.2 111 L359.2 107.5 L360.6 107.5 L360.6 119.7 L362 119.7 L362 110.3 L363.4 110.3 L363.4 113.3 L364.8 113.3 L364.8 113.3 L366.2 113.3 L366.2 102.4 L367.6 102.4 L367.6 108.3 L369 108.3 L369 111.8 L370.4 111.8 L370.4 110.7 L371.8 110.7 L371.8 116.5 L373.2 116.5 L373.2 112.4 L374.6 112.4 L374.6 113.2 L376 113.2 L376 110.1 L377.4 110.1 L377.4 110.6 L378.8 110.6 L378.8 118.5 L380.2 118.5 L380.2 102.2 L381.6 102.2 L381.6 114.8 L383 114.8 L383 114 L384.4 114 L384.4 110.3 L385.8 110.3 L385.8 125.4 L387.2 125.4 L387.2 120.1 L388.6 120.1 L388.6 109.6 L390 109.6 L390 108.2 L391.4 108.2 L391.4 104.6 L392.8 104.6 L392.8 118.4 L394.2 118.4 L394.2 110.7 L395.6 110.7 L395.6 107.4 L397 107.4 L397 107.6 L398.4 107.6 L398.4 107.3 L399.8 107.3 L399.8 109.7 L401.2 109.7 L401.2 102.1 L402.6 102.1 L402.6 106 L404 106 L404 112.4 L405.4 112.4 L405.4 122.8 L406.8 122.8 L406.8 112.4 L408.2 112.4 L408.2 110.5 L409.6 110.5 L409.6 113.8 L411 113.8 L411 112.2 L412.4 112.2 L412.4 107.5 L413.8 107.5 L413.8 112.7 L415.2 112.7 L415.2 114 L416.6 114 L416.6 111.6 L418 111.6 L418 113.1 L419.4 113.1 L419.4 113.2 L420.8 113.2 L420.8 105.3 L422.2 105.3 L422.2 110.5 L423.6 110.5 L423.6 114.7 L425 114.7 L425 116.4 L426.4 116.4 L426.4 109.3 L427.8 109.3 L427.8 117.2 L429.2 117.2 L429.2 115.5 L430.6 115.5 L430.6 114.8 L432 114.8 L432 109 L433.4 109 L433.4 106.8 L434.8 106.8 L434.8 103.5 L436.2 103.5 L436.2 108.8 L437.6 108.8 L437.6 112.3 L439 112.3 L439 112.6 L440.4 112.6 L440.4 116.3 L441.8 116.3 L441.8 118.2 L443.2 118.2 L443.2 116.4 L444.6 116.4 L444.6 112.7 L446 112.7 L446 118.2 L447.4 118.2 L447.4 118.2 L448.8 118.2 L448.8 109.6 L450.2 109.6 L450.2 115.9 L451.6 115.9 L451.6 116.3 L453 116.3 L453 109.5 L454.4 109.5 L454.4 119.2 L455.8 119.2 L455.8 112.6 L457.2 112.6 L457.2 113.3 L458.6 113.3 L458.6 112.1 L460 112.1 L460 115.7 L461.4 115.7 L461.4 114 L462.8 114 L462.8 115.5 L464.2 115.5 L464.2 115.3 L465.6 115.3 L465.6 113.2 L467 113.2 L467 113.5 L468.4 113.5 L468.4 112.8 L469.8 112.8 L469.8 113 L471.2 113 L471.2 109.4 L472.6 109.4 L472.6 107.3 L474 107.3 L474 109.1 L475.4 109.1 L475.4 107.2 L476.8 107.2 L476.8 111.1 L478.2 111.1 L478.2 113.7 L479.6 113.7 L479.6 111.9 L481 111.9 L481 111.6 L482.4 111.6 L482.4 110.3 L483.8 110.3 L483.8 119.9 L485.2 119.9 L485.2 112.2 L486.6 112.2 L486.6 105.6 L488 105.6 L488 115.9 L489.4 115.9 L489.4 112.5 L490.8 112.5 L490.8 115.9 L492.2 115.9 L492.2 117.4 L493.6 117.4 L493.6 113.8 L495 113.8 L495 120 L496.4 120 L496.4 115.2 L497.8 115.2 L497.8 112.1 L499.2 112.1 L499.2 116 L500.6 116 L500.6 114.7 L502 114.7 L502 110.3 L503.4 110.3 L503.4 113.1 L504.8 113.1 L504.8 116.9 L506.2 116.9 L506.2 109.7 L507.6 109.7 L507.6 110.7 L509 110.7 L509 109.1 L510.4 109.1 L510.4 106.8 L511.8 106.8 L511.8 111.1 L513.2 111.1 L513.2 113.1 L514.6 113.1 L514.6 114.3 L516 114.3 L516 108.1 L517.4 108.1 L517.4 111.7 L518.8 111.7 L518.8 119.3 L520.2 119.3 L520.2 113.3 L521.6 113.3 L521.6 109.7 L523 109.7 L523 119.2 L524.4 119.2 L524.4 112.1 L525.8 112.1 L525.8 113.6 L527.2 113.6 L527.2 107.9 L528.6 107.9 L528.6 113.1 L530 113.1 L530 112.5 L531.4 112.5 L531.4 108.3 L532.8 108.3 L532.8 109.9 L534.2 109.9 L534.2 113.1 L535.6 113.1 L535.6 119.2 L537 119.2 L537 115.6 L538.4 115.6 L538.4 111.2 L539.8 111.2 L539.8 114.9 L541.2 114.9 L541.2 114.6 L542.6 114.6 L542.6 111.1 L544 111.1 L544 114.9 L545.4 114.9 L545.4 112 L546.8 112 L546.8 111.3 L548.2 111.3 L548.2 112.9 L549.6 112.9 L549.6 113.4 L551 113.4 L551 106.4 L552.4 106.4 L552.4 113.6 L553.8 113.6 L553.8 113.5 L555.2 113.5 L555.2 111.5 L556.6 111.5 L556.6 106.5 L558 106.5 L558 114.9 L559.4 114.9 L559.4 107.1 L560.8 107.1 L560.8 113.4 L561.6 113.4" fill="none" stroke="#111" stroke-width="1.4" stroke-linejoin="round" stroke-linecap="round"/>
</g>
<rect x="306.8" y="10.4" width="255.4" height="127.7" fill="none" stroke="#1a1a1a" stroke-width="1.25"/>
<path d="M306.8 61.4 h4.6 M562.2 61.4 h-4.6" stroke="#1a1a1a" stroke-width="1"/>
<path d="M306.8 48.6 h2.5 M562.2 48.6 h-2.5" stroke="#1a1a1a" stroke-width="1"/>
<path d="M306.8 35.9 h4.6 M562.2 35.9 h-4.6" stroke="#1a1a1a" stroke-width="1"/>
<path d="M306.8 23.1 h2.5 M562.2 23.1 h-2.5" stroke="#1a1a1a" stroke-width="1"/>
<text x="305.2" y="66" font-size="11" fill="#111" stroke="#111" stroke-width="0.3" text-anchor="end" font-weight="bold">0</text>
<text x="305.2" y="40.5" font-size="11" fill="#111" stroke="#111" stroke-width="0.3" text-anchor="end" font-weight="bold">50</text>
<path d="M306.8 133.8 h4.6 M562.2 133.8 h-4.6" stroke="#1a1a1a" stroke-width="1"/>
<path d="M306.8 123.1 h2.5 M562.2 123.1 h-2.5" stroke="#1a1a1a" stroke-width="1"/>
<path d="M306.8 112.5 h4.6 M562.2 112.5 h-4.6" stroke="#1a1a1a" stroke-width="1"/>
<path d="M306.8 101.9 h2.5 M562.2 101.9 h-2.5" stroke="#1a1a1a" stroke-width="1"/>
<path d="M306.8 91.2 h4.6 M562.2 91.2 h-4.6" stroke="#1a1a1a" stroke-width="1"/>
<path d="M306.8 80.6 h2.5 M562.2 80.6 h-2.5" stroke="#1a1a1a" stroke-width="1"/>
<path d="M306.8 70 h4.6 M562.2 70 h-4.6" stroke="#1a1a1a" stroke-width="1"/>
<text x="305.2" y="117.1" font-size="11" fill="#111" stroke="#111" stroke-width="0.3" text-anchor="end" font-weight="bold">0</text>
<text x="305.2" y="95.8" font-size="11" fill="#111" stroke="#111" stroke-width="0.3" text-anchor="end" font-weight="bold">10</text>
<text x="305.2" y="74.6" font-size="11" fill="#111" stroke="#111" stroke-width="0.3" text-anchor="end" font-weight="bold">20</text>
<path d="M305.2 65.4 l3.2 -1.6 M305.2 68 l3.2 -1.6" stroke="#1a1a1a" stroke-width="0.9"/>
<path d="M560.6 65.4 l3.2 -1.6 M560.6 68 l3.2 -1.6" stroke="#1a1a1a" stroke-width="0.9"/>
<path d="M557 138.1 v-2.2" stroke="#1a1a1a" stroke-width="0.9"/>
<path d="M552.3 138.1 v-2.2" stroke="#1a1a1a" stroke-width="0.9"/>
<path d="M547.7 138.1 v-2.2" stroke="#1a1a1a" stroke-width="0.9"/>
<path d="M543 138.1 v-2.2" stroke="#1a1a1a" stroke-width="0.9"/>
<path d="M538.4 138.1 v-2.2" stroke="#1a1a1a" stroke-width="0.9"/>
<path d="M533.7 138.1 v-2.2" stroke="#1a1a1a" stroke-width="0.9"/>
<path d="M529 138.1 v-2.2" stroke="#1a1a1a" stroke-width="0.9"/>
<path d="M524.4 138.1 v-2.2" stroke="#1a1a1a" stroke-width="0.9"/>
<path d="M519.7 138.1 v-2.2" stroke="#1a1a1a" stroke-width="0.9"/>
<path d="M515.1 138.1 v-2.2" stroke="#1a1a1a" stroke-width="0.9"/>
<path d="M510.4 138.1 v-2.2" stroke="#1a1a1a" stroke-width="0.9"/>
<path d="M505.8 138.1 v-2.2" stroke="#1a1a1a" stroke-width="0.9"/>
<path d="M501.1 138.1 v-2.2" stroke="#1a1a1a" stroke-width="0.9"/>
<path d="M496.5 138.1 v-2.2" stroke="#1a1a1a" stroke-width="0.9"/>
<path d="M491.8 138.1 v-2.2" stroke="#1a1a1a" stroke-width="0.9"/>
<path d="M487.2 138.1 v-2.2" stroke="#1a1a1a" stroke-width="0.9"/>
<path d="M482.5 138.1 v-2.2" stroke="#1a1a1a" stroke-width="0.9"/>
<path d="M477.8 138.1 v-2.2" stroke="#1a1a1a" stroke-width="0.9"/>
<path d="M473.2 138.1 v-2.2" stroke="#1a1a1a" stroke-width="0.9"/>
<path d="M468.5 138.1 v-2.2" stroke="#1a1a1a" stroke-width="0.9"/>
<path d="M463.9 138.1 v-2.2" stroke="#1a1a1a" stroke-width="0.9"/>
<path d="M459.2 138.1 v-2.2" stroke="#1a1a1a" stroke-width="0.9"/>
<path d="M454.6 138.1 v-2.2" stroke="#1a1a1a" stroke-width="0.9"/>
<path d="M449.9 138.1 v-2.2" stroke="#1a1a1a" stroke-width="0.9"/>
<path d="M445.3 138.1 v-2.2" stroke="#1a1a1a" stroke-width="0.9"/>
<path d="M440.6 138.1 v-2.2" stroke="#1a1a1a" stroke-width="0.9"/>
<path d="M435.9 138.1 v-2.2" stroke="#1a1a1a" stroke-width="0.9"/>
<path d="M431.3 138.1 v-2.2" stroke="#1a1a1a" stroke-width="0.9"/>
<path d="M426.6 138.1 v-2.2" stroke="#1a1a1a" stroke-width="0.9"/>
<path d="M422 138.1 v-2.2" stroke="#1a1a1a" stroke-width="0.9"/>
<path d="M417.3 138.1 v-2.2" stroke="#1a1a1a" stroke-width="0.9"/>
<path d="M412.7 138.1 v-2.2" stroke="#1a1a1a" stroke-width="0.9"/>
<path d="M408 138.1 v-2.2" stroke="#1a1a1a" stroke-width="0.9"/>
<path d="M403.4 138.1 v-2.2" stroke="#1a1a1a" stroke-width="0.9"/>
<path d="M398.7 138.1 v-2.2" stroke="#1a1a1a" stroke-width="0.9"/>
<path d="M394.1 138.1 v-2.2" stroke="#1a1a1a" stroke-width="0.9"/>
<path d="M389.4 138.1 v-2.2" stroke="#1a1a1a" stroke-width="0.9"/>
<path d="M384.7 138.1 v-2.2" stroke="#1a1a1a" stroke-width="0.9"/>
<path d="M380.1 138.1 v-2.2" stroke="#1a1a1a" stroke-width="0.9"/>
<path d="M375.4 138.1 v-2.2" stroke="#1a1a1a" stroke-width="0.9"/>
<path d="M370.8 138.1 v-2.2" stroke="#1a1a1a" stroke-width="0.9"/>
<path d="M366.1 138.1 v-2.2" stroke="#1a1a1a" stroke-width="0.9"/>
<path d="M361.5 138.1 v-2.2" stroke="#1a1a1a" stroke-width="0.9"/>
<path d="M356.8 138.1 v-2.2" stroke="#1a1a1a" stroke-width="0.9"/>
<path d="M352.2 138.1 v-2.2" stroke="#1a1a1a" stroke-width="0.9"/>
<path d="M347.5 138.1 v-2.2" stroke="#1a1a1a" stroke-width="0.9"/>
<path d="M342.8 138.1 v-2.2" stroke="#1a1a1a" stroke-width="0.9"/>
<path d="M338.2 138.1 v-2.2" stroke="#1a1a1a" stroke-width="0.9"/>
<path d="M333.5 138.1 v-2.2" stroke="#1a1a1a" stroke-width="0.9"/>
<path d="M328.9 138.1 v-2.2" stroke="#1a1a1a" stroke-width="0.9"/>
<path d="M324.2 138.1 v-2.2" stroke="#1a1a1a" stroke-width="0.9"/>
<path d="M319.6 138.1 v-2.2" stroke="#1a1a1a" stroke-width="0.9"/>
<path d="M314.9 138.1 v-2.2" stroke="#1a1a1a" stroke-width="0.9"/>
<path d="M310.3 138.1 v-2.2" stroke="#1a1a1a" stroke-width="0.9"/>
<path d="M557 138.1 v-3.2" stroke="#1a1a1a" stroke-width="0.9"/>
<path d="M510.4 138.1 v-3.2" stroke="#1a1a1a" stroke-width="0.9"/>
<path d="M463.9 138.1 v-3.2" stroke="#1a1a1a" stroke-width="0.9"/>
<path d="M417.3 138.1 v-3.2" stroke="#1a1a1a" stroke-width="0.9"/>
<path d="M370.8 138.1 v-3.2" stroke="#1a1a1a" stroke-width="0.9"/>
<path d="M324.2 138.1 v-3.2" stroke="#1a1a1a" stroke-width="0.9"/>
<path d="M533.7 138.1 v-4.6" stroke="#1a1a1a" stroke-width="1"/>
<path d="M487.2 138.1 v-4.6" stroke="#1a1a1a" stroke-width="1"/>
<path d="M440.6 138.1 v-4.6" stroke="#1a1a1a" stroke-width="1"/>
<path d="M394.1 138.1 v-4.6" stroke="#1a1a1a" stroke-width="1"/>
<path d="M347.5 138.1 v-4.6" stroke="#1a1a1a" stroke-width="1"/>
<text x="347.5" y="148.7" font-size="11" fill="#111" stroke="#111" stroke-width="0.3" text-anchor="middle" font-weight="bold">2155</text>
<text x="394.1" y="148.7" font-size="11" fill="#111" stroke="#111" stroke-width="0.3" text-anchor="middle" font-weight="bold">2154</text>
<text x="440.6" y="148.7" font-size="11" fill="#111" stroke="#111" stroke-width="0.3" text-anchor="middle" font-weight="bold">2153</text>
<text x="487.2" y="148.7" font-size="11" fill="#111" stroke="#111" stroke-width="0.3" text-anchor="middle" font-weight="bold">2152</text>
<text x="533.7" y="148.7" font-size="11" fill="#111" stroke="#111" stroke-width="0.3" text-anchor="middle" font-weight="bold">2151</text>
<path d="M339.5 10.4 v4.8" stroke="#1a1a1a" stroke-width="1"/>
<path d="M385.3 10.4 v4.8" stroke="#1a1a1a" stroke-width="1"/>
<path d="M492.5 10.4 v4.8" stroke="#1a1a1a" stroke-width="1"/>
<path d="M533.7 10.4 v4.8" stroke="#1a1a1a" stroke-width="1"/>
<text x="339.5" y="8.3" font-size="9.8" fill="#111" stroke="#111" stroke-width="0.3" text-anchor="middle" font-weight="bold">4.640</text>
<text x="385.3" y="8.3" font-size="9.8" fill="#111" stroke="#111" stroke-width="0.3" text-anchor="middle" font-weight="bold">4.642</text>
<text x="492.5" y="8.3" font-size="9.8" fill="#111" stroke="#111" stroke-width="0.3" text-anchor="middle" font-weight="bold">4.647</text>
<text x="533.7" y="8.3" font-size="9.8" fill="#111" stroke="#111" stroke-width="0.3" text-anchor="middle" font-weight="bold">4.649</text>
<text x="415.5" y="8.3" font-size="10.4" font-weight="bold" fill="#111" stroke="#111" stroke-width="0.2"><tspan font-family="Liberation Serif" font-weight="normal" font-size="11">&#955;</tspan> (<tspan font-family="Liberation Serif" font-weight="normal" font-size="11">&#956;</tspan>m)</text>
<text x="310.5" y="21.6" font-size="13" fill="#111" stroke="#111" stroke-width="0.3" text-anchor="start" font-weight="bold">b</text>
<text x="364.5" y="64.4" font-size="13" fill="#2c3596" stroke="#2c3596" stroke-width="0.3" text-anchor="start" font-weight="bold">H<tspan font-size="7.8" dy="4.3">2</tspan><tspan dy="-4.3">&#8203;</tspan>O model (x2)</text>
<text x="364.5" y="83" font-size="13" fill="#3f86d2" stroke="#3f86d2" stroke-width="0.3" text-anchor="start" font-weight="bold">CO model (x2)</text>
<text x="366.7" y="100.6" font-size="13" fill="#111" stroke="#111" stroke-width="0.3" text-anchor="start" font-weight="bold">residuals (x4)</text>
<g clip-path="url(#cpc)">
<path d="M28.6 176.4 L29.9 174.8 L31.2 176.5 L32.5 177.5 L33.8 175.9 L35.1 177.5 L36.4 177.7 L37.7 177.3 L39 179.2 L40.3 176.8 L41.6 176.2 L42.9 176.3 L44.2 174.6 L45.5 173.2 L46.8 176.4 L48.1 177.5 L49.4 175.1 L50.7 176.3 L52 175.5 L53.3 176 L54.6 176.3 L55.9 170.7 L57.2 175.4 L58.5 174.3 L59.8 174.2 L61.1 175 L62.4 174 L63.7 173.3 L65 172.2 L66.3 171.3 L67.6 172.9 L68.9 174.1 L70.2 173.4 L71.5 173.1 L72.8 173.6 L74.1 172.9 L75.4 171.7 L76.7 174 L78 173.4 L79.3 172.2 L80.6 172.2 L81.9 171.9 L83.2 172.5 L84.5 172 L85.8 173.4 L87.1 174.7 L88.4 173.9 L89.7 174.3 L91 175.6 L92.3 177.6 L93.6 176.2 L94.9 180 L96.2 178.4 L97.5 176.9 L98.8 176.5 L100.1 175.2 L101.4 177.1 L102.7 176 L104 175.1 L105.3 177 L106.6 177.3 L107.9 174.7 L109.2 175.8 L110.5 178.4 L111.8 176.6 L113.1 177.4 L114.4 176 L115.7 177.5 L117 176 L118.3 176.4 L119.6 175 L120.9 174.3 L122.2 176.6 L123.5 175.5 L124.8 176 L126.1 179.1 L127.4 179.6 L128.7 178.5 L130 177.3 L131.3 179.6 L132.6 180 L133.9 178.4 L135.2 178.3 L136.5 175.5 L137.8 176.4 L139.1 177 L140.4 176.1 L141.7 175 L143 176.1 L144.3 177.3 L145.6 176.1 L146.9 178.9 L148.2 177.6 L149.5 178.3 L150.8 172.1 L152.1 175.3 L153.4 173.6 L154.7 176.1 L156 173.5 L157.3 174 L158.6 174.4 L159.9 176.4 L161.2 178.2 L162.5 175.7 L163.8 175.6 L165.1 178.4 L166.4 177.7 L167.7 178.9 L169 178.5 L170.3 176.9 L171.6 179.9 L172.9 178.6 L174.2 175.6 L175.5 177.8 L176.8 178.9 L178.1 178.8 L179.4 177.4 L180.7 180.6 L182 178.2 L183.3 178 L184.6 178.5 L185.9 178.5 L187.2 180.9 L188.5 178.7 L189.8 178.3 L191.1 181.8 L192.4 180.3 L193.7 181.8 L195 177.2 L196.3 176.8 L197.6 177.8 L198.9 176.9 L200.2 178.7 L201.5 177.6 L202.8 176.5 L204.1 176.7 L205.4 177.3 L206.7 177.7 L208 179.5 L209.3 179 L210.6 176.6 L211.9 179.8 L213.2 179.9 L214.5 178.5 L215.8 178.6 L217.1 179.8 L218.4 178 L219.7 180.5 L221 180.5 L222.3 181.1 L223.6 180.5 L224.9 182 L226.2 179.7 L227.5 179.5 L228.8 175.7 L230.1 180 L231.4 178.3 L232.7 178.4 L234 180 L235.3 177.3 L236.6 179 L237.9 180.4 L239.2 177.9 L240.5 178.8 L241.8 177.9 L243.1 177.2 L244.4 177.2 L245.7 178.2 L247 177.8 L248.3 179.3 L249.6 181 L250.9 177.5 L252.2 180.2 L253.5 178.2 L254.8 178 L256.1 178 L257.4 179.8 L258.7 178.6 L260 179 L261.3 180.3 L262.6 175.7 L263.9 179 L265.2 176.2 L266.5 177.1 L267.8 176 L269.1 176.2 L270.4 175.6 L271.7 177.1 L273 176.4 L274.3 178.8 L275.6 178.6 L276.9 176.9 L278.2 177.1 L279.5 179.4 L280.8 176" fill="none" stroke="#111" stroke-width="1.4" stroke-linejoin="round" stroke-linecap="round"/>
<path d="M28.6 177.4 L29.3 177.4 L30 177.5 L30.7 177.5 L31.4 177.5 L32.1 177.6 L32.8 177.6 L33.5 177.6 L34.2 177.6 L34.9 177.7 L35.6 177.7 L36.3 177.7 L37 177.7 L37.7 177.8 L38.4 177.8 L39.1 177.8 L39.8 177.8 L40.5 177.8 L41.2 177.8 L41.9 177.8 L42.6 177.8 L43.3 177.7 L44 177.7 L44.7 177.7 L45.4 177.6 L46.1 177.5 L46.8 177.5 L47.5 177.4 L48.2 177.3 L48.9 177.2 L49.6 177.1 L50.3 177.1 L51 177 L51.7 176.9 L52.4 176.8 L53.1 176.7 L53.8 176.5 L54.5 176.4 L55.2 176.3 L55.9 176.2 L56.6 176.1 L57.3 175.9 L58 175.8 L58.7 175.7 L59.4 175.6 L60.1 175.5 L60.8 175.4 L61.5 175.3 L62.2 175.2 L62.9 175.1 L63.6 175 L64.3 174.9 L65 174.8 L65.7 174.7 L66.4 174.6 L67.1 174.5 L67.8 174.5 L68.5 174.4 L69.2 174.4 L69.9 174.3 L70.6 174.3 L71.3 174.3 L72 174.3 L72.7 174.2 L73.4 174.2 L74.1 174.2 L74.8 174.2 L75.5 174.2 L76.2 174.2 L76.9 174.2 L77.6 174.2 L78.3 174.2 L79 174.2 L79.7 174.2 L80.4 174.2 L81.1 174.2 L81.8 174.2 L82.5 174.2 L83.2 174.3 L83.9 174.3 L84.6 174.4 L85.3 174.5 L86 174.6 L86.7 174.8 L87.4 175.1 L88.1 175.5 L88.8 176 L89.5 176.6 L90.2 177.2 L90.9 177.9 L91.6 178.7 L92.3 179.2 L93 179.3 L93.7 179.1 L94.4 178.7 L95.1 178.4 L95.8 178.1 L96.5 177.8 L97.2 177.5 L97.9 177.4 L98.6 177.3 L99.3 177.2 L100 177.2 L100.7 177.2 L101.4 177.2 L102.1 177.2 L102.8 177.2 L103.5 177.2 L104.2 177.2 L104.9 177.2 L105.6 177.2 L106.3 177.2 L107 177.3 L107.7 177.3 L108.4 177.3 L109.1 177.3 L109.8 177.3 L110.5 177.3 L111.2 177.4 L111.9 177.4 L112.6 177.4 L113.3 177.4 L114 177.4 L114.7 177.5 L115.4 177.5 L116.1 177.5 L116.8 177.5 L117.5 177.6 L118.2 177.6 L118.9 177.6 L119.6 177.6 L120.3 177.7 L121 177.7 L121.7 177.8 L122.4 177.8 L123.1 177.9 L123.8 178 L124.5 178 L125.2 178.1 L125.9 178.2 L126.6 178.2 L127.3 178.3 L128 178.3 L128.7 178.3 L129.4 178.4 L130.1 178.4 L130.8 178.4 L131.5 178.4 L132.2 178.4 L132.9 178.5 L133.6 178.5 L134.3 178.5 L135 178.5 L135.7 178.5 L136.4 178.5 L137.1 178.5 L137.8 178.5 L138.5 178.5 L139.2 178.5 L139.9 178.5 L140.6 178.5 L141.3 178.4 L142 178.4 L142.7 178.4 L143.4 178.3 L144.1 178.2 L144.8 178.2 L145.5 178.1 L146.2 178 L146.9 178 L147.6 177.9 L148.3 177.9 L149 177.8 L149.7 177.8 L150.4 177.8 L151.1 177.8 L151.8 177.8 L152.5 177.8 L153.2 177.8 L153.9 177.8 L154.6 177.8 L155.3 177.8 L156 177.8 L156.7 177.8 L157.4 177.8 L158.1 177.8 L158.8 177.8 L159.5 177.8 L160.2 177.8 L160.9 177.9 L161.6 177.9 L162.3 177.9 L163 177.9 L163.7 177.9 L164.4 178 L165.1 178 L165.8 178 L166.5 178.1 L167.2 178.1 L167.9 178.2 L168.6 178.2 L169.3 178.3 L170 178.4 L170.7 178.4 L171.4 178.5 L172.1 178.6 L172.8 178.7 L173.5 178.8 L174.2 178.9 L174.9 179 L175.6 179.1 L176.3 179.3 L177 179.5 L177.7 179.7 L178.4 179.9 L179.1 180.1 L179.8 180.3 L180.5 180.5 L181.2 180.6 L181.9 180.7 L182.6 180.8 L183.3 180.8 L184 180.8 L184.7 180.8 L185.4 180.7 L186.1 180.7 L186.8 180.6 L187.5 180.5 L188.2 180.4 L188.9 180.4 L189.6 180.3 L190.3 180.2 L191 180.1 L191.7 180 L192.4 179.9 L193.1 179.8 L193.8 179.7 L194.5 179.7 L195.2 179.6 L195.9 179.5 L196.6 179.4 L197.3 179.4 L198 179.3 L198.7 179.2 L199.4 179.1 L200.1 179.1 L200.8 179 L201.5 179 L202.2 178.9 L202.9 178.9 L203.6 178.8 L204.3 178.8 L205 178.8 L205.7 178.8 L206.4 178.8 L207.1 178.9 L207.8 178.9 L208.5 178.9 L209.2 179 L209.9 179 L210.6 179.1 L211.3 179.2 L212 179.2 L212.7 179.3 L213.4 179.4 L214.1 179.5 L214.8 179.6 L215.5 179.7 L216.2 179.8 L216.9 180 L217.6 180.1 L218.3 180.3 L219 180.5 L219.7 180.7 L220.4 180.8 L221.1 180.9 L221.8 181 L222.5 181 L223.2 181 L223.9 181 L224.6 181 L225.3 181 L226 180.9 L226.7 180.9 L227.4 180.8 L228.1 180.8 L228.8 180.7 L229.5 180.7 L230.2 180.6 L230.9 180.6 L231.6 180.5 L232.3 180.5 L233 180.4 L233.7 180.4 L234.4 180.3 L235.1 180.3 L235.8 180.2 L236.5 180.2 L237.2 180.1 L237.9 180 L238.6 180 L239.3 179.9 L240 179.9 L240.7 179.8 L241.4 179.8 L242.1 179.7 L242.8 179.7 L243.5 179.7 L244.2 179.6 L244.9 179.6 L245.6 179.6 L246.3 179.6 L247 179.5 L247.7 179.5 L248.4 179.5 L249.1 179.5 L249.8 179.5 L250.5 179.5 L251.2 179.5 L251.9 179.5 L252.6 179.5 L253.3 179.5 L254 179.5 L254.7 179.5 L255.4 179.5 L256.1 179.5 L256.8 179.5 L257.5 179.5 L258.2 179.5 L258.9 179.5 L259.6 179.5 L260.3 179.5 L261 179.5 L261.7 179.4 L262.4 179.4 L263.1 179.4 L263.8 179.3 L264.5 179.3 L265.2 179.2 L265.9 179.1 L266.6 179.1 L267.3 179.1 L268 179 L268.7 179 L269.4 179 L270.1 179 L270.8 179 L271.5 179 L272.2 179 L272.9 179.1 L273.6 179.1 L274.3 179.1 L275 179.2 L275.7 179.2 L276.4 179.2 L277.1 179.3 L277.8 179.3 L278.5 179.3 L279.2 179.4 L279.9 179.4 L280.6 179.5 L281.3 179.5" fill="none" stroke="#c8b42a" stroke-width="1.7" stroke-linejoin="round" stroke-linecap="round"/>
<path d="M28.6 176.1 L29.3 176.1 L30 176.2 L30.7 176.2 L31.4 176.2 L32.1 176.3 L32.8 176.3 L33.5 176.3 L34.2 176.3 L34.9 176.4 L35.6 176.4 L36.3 176.4 L37 176.4 L37.7 176.5 L38.4 176.5 L39.1 176.5 L39.8 176.5 L40.5 176.5 L41.2 176.5 L41.9 176.5 L42.6 176.5 L43.3 176.4 L44 176.4 L44.7 176.4 L45.4 176.3 L46.1 176.2 L46.8 176.2 L47.5 176.1 L48.2 176 L48.9 175.9 L49.6 175.8 L50.3 175.8 L51 175.7 L51.7 175.6 L52.4 175.5 L53.1 175.4 L53.8 175.2 L54.5 175.1 L55.2 175 L55.9 174.9 L56.6 174.7 L57.3 174.6 L58 174.5 L58.7 174.3 L59.4 174.2 L60.1 174 L60.8 173.8 L61.5 173.7 L62.2 173.5 L62.9 173.3 L63.6 173.1 L64.3 172.9 L65 172.8 L65.7 172.6 L66.4 172.5 L67.1 172.4 L67.8 172.4 L68.5 172.4 L69.2 172.4 L69.9 172.4 L70.6 172.5 L71.3 172.5 L72 172.6 L72.7 172.6 L73.4 172.7 L74.1 172.7 L74.8 172.8 L75.5 172.8 L76.2 172.8 L76.9 172.8 L77.6 172.9 L78.3 172.9 L79 172.9 L79.7 172.9 L80.4 172.9 L81.1 172.9 L81.8 172.9 L82.5 172.9 L83.2 173 L83.9 173 L84.6 173.1 L85.3 173.2 L86 173.3 L86.7 173.5 L87.4 173.8 L88.1 174.2 L88.8 174.7 L89.5 175.3 L90.2 175.9 L90.9 176.6 L91.6 177.4 L92.3 177.9 L93 178 L93.7 177.8 L94.4 177.4 L95.1 177.1 L95.8 176.8 L96.5 176.5 L97.2 176.2 L97.9 176.1 L98.6 176 L99.3 175.9 L100 175.9 L100.7 175.9 L101.4 175.9 L102.1 175.9 L102.8 175.9 L103.5 175.9 L104.2 175.9 L104.9 175.9 L105.6 175.9 L106.3 175.9 L107 176 L107.7 176 L108.4 176 L109.1 176 L109.8 176 L110.5 176 L111.2 176.1 L111.9 176.1 L112.6 176.1 L113.3 176.1 L114 176.1 L114.7 176.2 L115.4 176.2 L116.1 176.2 L116.8 176.2 L117.5 176.3 L118.2 176.3 L118.9 176.3 L119.6 176.3 L120.3 176.4 L121 176.4 L121.7 176.5 L122.4 176.5 L123.1 176.6 L123.8 176.7 L124.5 176.7 L125.2 176.8 L125.9 176.9 L126.6 176.9 L127.3 177 L128 177 L128.7 177 L129.4 177.1 L130.1 177.1 L130.8 177.1 L131.5 177.1 L132.2 177.1 L132.9 177.2 L133.6 177.2 L134.3 177.2 L135 177.2 L135.7 177.2 L136.4 177.2 L137.1 177.2 L137.8 177.2 L138.5 177.2 L139.2 177.2 L139.9 177.2 L140.6 177.2 L141.3 177.1 L142 177.1 L142.7 177.1 L143.4 177 L144.1 176.9 L144.8 176.9 L145.5 176.8 L146.2 176.7 L146.9 176.7 L147.6 176.6 L148.3 176.6 L149 176.5 L149.7 176.5 L150.4 176.5 L151.1 176.5 L151.8 176.5 L152.5 176.5 L153.2 176.5 L153.9 176.5 L154.6 176.5 L155.3 176.5 L156 176.5 L156.7 176.5 L157.4 176.5 L158.1 176.5 L158.8 176.5 L159.5 176.5 L160.2 176.5 L160.9 176.6 L161.6 176.6 L162.3 176.6 L163 176.6 L163.7 176.6 L164.4 176.7 L165.1 176.7 L165.8 176.7 L166.5 176.8 L167.2 176.8 L167.9 176.9 L168.6 176.9 L169.3 177 L170 177.1 L170.7 177.1 L171.4 177.2 L172.1 177.3 L172.8 177.4 L173.5 177.5 L174.2 177.6 L174.9 177.7 L175.6 177.8 L176.3 178 L177 178.2 L177.7 178.4 L178.4 178.6 L179.1 178.8 L179.8 179 L180.5 179.2 L181.2 179.3 L181.9 179.4 L182.6 179.5 L183.3 179.5 L184 179.5 L184.7 179.5 L185.4 179.4 L186.1 179.4 L186.8 179.3 L187.5 179.2 L188.2 179.1 L188.9 179.1 L189.6 179 L190.3 178.9 L191 178.8 L191.7 178.7 L192.4 178.6 L193.1 178.5 L193.8 178.4 L194.5 178.4 L195.2 178.3 L195.9 178.2 L196.6 178.1 L197.3 178.1 L198 178 L198.7 177.9 L199.4 177.8 L200.1 177.7 L200.8 177.5 L201.5 177.2 L202.2 176.7 L202.9 176 L203.6 175.4 L204.3 175 L205 175.1 L205.7 175.6 L206.4 176.3 L207.1 176.9 L207.8 177.3 L208.5 177.5 L209.2 177.6 L209.9 177.7 L210.6 177.8 L211.3 177.9 L212 177.9 L212.7 178 L213.4 178.1 L214.1 178.2 L214.8 178.3 L215.5 178.4 L216.2 178.5 L216.9 178.7 L217.6 178.8 L218.3 179 L219 179.2 L219.7 179.4 L220.4 179.5 L221.1 179.6 L221.8 179.7 L222.5 179.7 L223.2 179.7 L223.9 179.7 L224.6 179.7 L225.3 179.7 L226 179.6 L226.7 179.6 L227.4 179.5 L228.1 179.5 L228.8 179.4 L229.5 179.4 L230.2 179.3 L230.9 179.3 L231.6 179.2 L232.3 179.2 L233 179.1 L233.7 179.1 L234.4 179 L235.1 179 L235.8 178.9 L236.5 178.9 L237.2 178.8 L237.9 178.7 L238.6 178.7 L239.3 178.6 L240 178.6 L240.7 178.5 L241.4 178.5 L242.1 178.4 L242.8 178.4 L243.5 178.4 L244.2 178.3 L244.9 178.3 L245.6 178.3 L246.3 178.3 L247 178.2 L247.7 178.2 L248.4 178.2 L249.1 178.2 L249.8 178.2 L250.5 178.2 L251.2 178.2 L251.9 178.2 L252.6 178.2 L253.3 178.2 L254 178.2 L254.7 178.2 L255.4 178.2 L256.1 178.2 L256.8 178.2 L257.5 178.2 L258.2 178.2 L258.9 178.2 L259.6 178.2 L260.3 178.2 L261 178.2 L261.7 178.1 L262.4 178.1 L263.1 178.1 L263.8 178 L264.5 177.9 L265.2 177.8 L265.9 177.7 L266.6 177.5 L267.3 177.1 L268 176.7 L268.7 176.2 L269.4 175.8 L270.1 175.7 L270.8 175.9 L271.5 176.3 L272.2 176.8 L272.9 177.2 L273.6 177.5 L274.3 177.7 L275 177.8 L275.7 177.9 L276.4 177.9 L277.1 178 L277.8 178 L278.5 178 L279.2 178.1 L279.9 178.1 L280.6 178.2 L281.3 178.2" fill="none" stroke="#c4462a" stroke-width="1.4" stroke-linejoin="round" stroke-linecap="round"/>
<path d="M28 207.5 L30.3 207.6 L33.5 207.7 L37.2 207.8 L41 207.8 L45.1 207.6 L49.5 207.2 L53.7 206.8 L57 206.3 L59 205.8 L60.1 205.3 L60.8 204.7 L61.5 204 L62.3 203.1 L62.9 202.1 L63.4 201 L64 200 L64.6 198.9 L65.2 197.8 L65.8 196.9 L66.5 196.5 L67.2 196.9 L68 197.8 L68.8 198.9 L69.5 200 L70.2 201.1 L70.8 202.2 L71.4 203.2 L72 204 L72.5 204.4 L73 204.4 L73.5 204.4 L74 204.3 L74.5 204.2 L74.9 204 L75.4 203.8 L76 203.6 L76.9 203.5 L77.9 203.5 L79 203.5 L80 203.3 L81 202.9 L82.1 202.3 L83.1 201.7 L84 201.2 L84.7 200.8 L85.3 200.4 L85.9 200.1 L86.5 200 L87.1 200.1 L87.7 200.3 L88.3 200.6 L89 201 L89.7 201.5 L90.4 202.2 L91.2 202.9 L92 203.5 L92.8 204 L93.6 204.5 L94.6 204.9 L96 205.4 L97.8 205.9 L99.9 206.4 L102.3 206.9 L105 207.3 L108.1 207.7 L111.7 208 L115.2 208.3 L118.6 208.4 L121.6 208.3 L124.5 208.1 L127.2 207.9 L130 207.8 L132.8 207.9 L135.7 208.2 L138.4 208.5 L141 208.7 L143.5 208.8 L145.8 208.8 L148 208.7 L150 208.6 L151.7 208.5 L153.2 208.4 L154.6 208.2 L156 207.8 L157.5 207.1 L159 206.2 L160.5 205.4 L161.8 205 L162.7 205.2 L163.4 205.9 L164.3 206.7 L166 207.2 L169 207.4 L172.9 207.5 L176.9 207.4 L180 207.3 L181.9 207 L183.1 206.6 L184 206.2 L185 206 L186.1 206.2 L187.2 206.5 L188.4 206.9 L190 207.2 L192 207.3 L194.4 207.3 L197 207.3 L200 207.3 L203.4 207.4 L207.2 207.7 L211.1 207.9 L215 208 L218.9 208.1 L223 208.1 L226.8 208.1 L230 208 L232.4 207.9 L234.2 207.8 L235.6 207.7 L237 207.4 L238.2 206.9 L239.2 206.2 L240.2 205.6 L241.1 205.3 L242.1 205.6 L243 206.3 L244 207.1 L245 207.6 L246.2 207.7 L247.4 207.7 L248.7 207.5 L250 207.2 L251.2 206.7 L252.4 205.9 L253.6 205.3 L254.7 205 L255.8 205.3 L256.9 206 L258 206.8 L259 207.3 L260 207.4 L261.1 207.4 L262.1 207.2 L263 207 L263.8 206.6 L264.5 206.1 L265.2 205.7 L266 205.5 L266.7 205.8 L267.4 206.4 L268.3 207 L270 207.5 L272.9 207.7 L276.8 207.9 L280.5 207.9 L283 208" fill="none" stroke="#a83a28" stroke-width="1.4" stroke-linejoin="round" stroke-linecap="round"/>
<path d="M28.6 235.6 L29.1 235.6 L29.6 235.6 L30.1 235.6 L30.6 235.6 L31.1 235.6 L31.6 235.6 L32.1 235.6 L32.6 235.6 L33.1 235.6 L33.6 235.6 L34.1 235.6 L34.6 235.6 L35.1 235.6 L35.6 235.6 L36.1 235.6 L36.6 235.6 L37.1 235.6 L37.6 235.6 L38.1 235.6 L38.6 235.6 L39.1 235.6 L39.6 235.6 L40.1 235.6 L40.6 235.6 L41.1 235.6 L41.6 235.6 L42.1 235.6 L42.6 235.6 L43.1 235.6 L43.6 235.6 L44.1 235.6 L44.6 235.6 L45.1 235.6 L45.6 235.6 L46.1 235.6 L46.6 235.6 L47.1 235.6 L47.6 235.6 L48.1 235.6 L48.6 235.6 L49.1 235.6 L49.6 235.6 L50.1 235.6 L50.6 235.6 L51.1 235.6 L51.6 235.6 L52.1 235.6 L52.6 235.6 L53.1 235.6 L53.6 235.6 L54.1 235.6 L54.6 235.6 L55.1 235.6 L55.6 235.6 L56.1 235.6 L56.6 235.6 L57.1 235.6 L57.6 235.6 L58.1 235.6 L58.6 235.6 L59.1 235.6 L59.6 235.6 L60.1 235.6 L60.6 235.6 L61.1 235.6 L61.6 235.6 L62.1 235.6 L62.6 235.6 L63.1 235.6 L63.6 235.6 L64.1 235.6 L64.6 235.6 L65.1 235.6 L65.6 235.6 L66.1 235.6 L66.6 235.6 L67.1 235.6 L67.6 235.6 L68.1 235.6 L68.6 235.6 L69.1 235.6 L69.6 235.6 L70.1 235.6 L70.6 235.6 L71.1 235.6 L71.6 235.6 L72.1 235.6 L72.6 235.6 L73.1 235.6 L73.6 235.6 L74.1 235.6 L74.6 235.6 L75.1 235.6 L75.6 235.6 L76.1 235.6 L76.6 235.6 L77.1 235.6 L77.6 235.6 L78.1 235.6 L78.6 235.6 L79.1 235.6 L79.6 235.6 L80.1 235.6 L80.6 235.6 L81.1 235.6 L81.6 235.6 L82.1 235.6 L82.6 235.6 L83.1 235.6 L83.6 235.6 L84.1 235.6 L84.6 235.6 L85.1 235.6 L85.6 235.6 L86.1 235.6 L86.6 235.6 L87.1 235.6 L87.6 235.6 L88.1 235.6 L88.6 235.6 L89.1 235.6 L89.6 235.6 L90.1 235.6 L90.6 235.6 L91.1 235.6 L91.6 235.6 L92.1 235.6 L92.6 235.6 L93.1 235.6 L93.6 235.6 L94.1 235.6 L94.6 235.6 L95.1 235.6 L95.6 235.6 L96.1 235.6 L96.6 235.6 L97.1 235.6 L97.6 235.6 L98.1 235.6 L98.6 235.6 L99.1 235.6 L99.6 235.6 L100.1 235.6 L100.6 235.6 L101.1 235.6 L101.6 235.6 L102.1 235.6 L102.6 235.6 L103.1 235.6 L103.6 235.6 L104.1 235.6 L104.6 235.6 L105.1 235.6 L105.6 235.6 L106.1 235.6 L106.6 235.6 L107.1 235.6 L107.6 235.6 L108.1 235.6 L108.6 235.6 L109.1 235.6 L109.6 235.6 L110.1 235.6 L110.6 235.6 L111.1 235.6 L111.6 235.6 L112.1 235.6 L112.6 235.6 L113.1 235.6 L113.6 235.6 L114.1 235.6 L114.6 235.6 L115.1 235.6 L115.6 235.6 L116.1 235.6 L116.6 235.6 L117.1 235.6 L117.6 235.6 L118.1 235.6 L118.6 235.6 L119.1 235.6 L119.6 235.6 L120.1 235.6 L120.6 235.6 L121.1 235.6 L121.6 235.6 L122.1 235.6 L122.6 235.6 L123.1 235.6 L123.6 235.6 L124.1 235.6 L124.6 235.6 L125.1 235.6 L125.6 235.6 L126.1 235.6 L126.6 235.6 L127.1 235.6 L127.6 235.6 L128.1 235.6 L128.6 235.6 L129.1 235.6 L129.6 235.6 L130.1 235.6 L130.6 235.6 L131.1 235.6 L131.6 235.6 L132.1 235.6 L132.6 235.6 L133.1 235.6 L133.6 235.6 L134.1 235.6 L134.6 235.6 L135.1 235.6 L135.6 235.6 L136.1 235.6 L136.6 235.6 L137.1 235.6 L137.6 235.6 L138.1 235.6 L138.6 235.6 L139.1 235.6 L139.6 235.6 L140.1 235.6 L140.6 235.6 L141.1 235.6 L141.6 235.6 L142.1 235.6 L142.6 235.6 L143.1 235.6 L143.6 235.6 L144.1 235.6 L144.6 235.6 L145.1 235.6 L145.6 235.6 L146.1 235.6 L146.6 235.6 L147.1 235.6 L147.6 235.6 L148.1 235.6 L148.6 235.6 L149.1 235.6 L149.6 235.6 L150.1 235.6 L150.6 235.6 L151.1 235.6 L151.6 235.6 L152.1 235.6 L152.6 235.6 L153.1 235.6 L153.6 235.6 L154.1 235.6 L154.6 235.6 L155.1 235.6 L155.6 235.6 L156.1 235.6 L156.6 235.6 L157.1 235.6 L157.6 235.6 L158.1 235.6 L158.6 235.6 L159.1 235.6 L159.6 235.6 L160.1 235.6 L160.6 235.6 L161.1 235.6 L161.6 235.6 L162.1 235.6 L162.6 235.6 L163.1 235.6 L163.6 235.6 L164.1 235.6 L164.6 235.6 L165.1 235.6 L165.6 235.6 L166.1 235.6 L166.6 235.6 L167.1 235.6 L167.6 235.6 L168.1 235.6 L168.6 235.6 L169.1 235.6 L169.6 235.6 L170.1 235.6 L170.6 235.6 L171.1 235.6 L171.6 235.6 L172.1 235.6 L172.6 235.6 L173.1 235.6 L173.6 235.6 L174.1 235.6 L174.6 235.6 L175.1 235.6 L175.6 235.6 L176.1 235.6 L176.6 235.6 L177.1 235.6 L177.6 235.6 L178.1 235.6 L178.6 235.6 L179.1 235.6 L179.6 235.6 L180.1 235.6 L180.6 235.6 L181.1 235.6 L181.6 235.6 L182.1 235.6 L182.6 235.6 L183.1 235.6 L183.6 235.6 L184.1 235.6 L184.6 235.6 L185.1 235.6 L185.6 235.6 L186.1 235.6 L186.6 235.6 L187.1 235.6 L187.6 235.6 L188.1 235.6 L188.6 235.6 L189.1 235.6 L189.6 235.6 L190.1 235.6 L190.6 235.6 L191.1 235.6 L191.6 235.6 L192.1 235.6 L192.6 235.6 L193.1 235.6 L193.6 235.6 L194.1 235.6 L194.6 235.6 L195.1 235.6 L195.6 235.6 L196.1 235.6 L196.6 235.6 L197.1 235.6 L197.6 235.6 L198.1 235.6 L198.6 235.6 L199.1 235.5 L199.6 235.4 L200.1 235.2 L200.6 234.9 L201.1 234.2 L201.6 233.2 L202.1 231.8 L202.6 229.8 L203.1 227.5 L203.6 225 L204.1 222.7 L204.6 220.8 L205.1 219.9 L205.6 220 L206.1 221.1 L206.6 223.1 L207.1 225.5 L207.6 228 L208.1 230.3 L208.6 232.1 L209.1 233.5 L209.6 234.4 L210.1 235 L210.6 235.3 L211.1 235.5 L211.6 235.5 L212.1 235.6 L212.6 235.6 L213.1 235.6 L213.6 235.6 L214.1 235.6 L214.6 235.6 L215.1 235.6 L215.6 235.6 L216.1 235.6 L216.6 235.6 L217.1 235.6 L217.6 235.6 L218.1 235.6 L218.6 235.6 L219.1 235.6 L219.6 235.6 L220.1 235.6 L220.6 235.6 L221.1 235.6 L221.6 235.6 L222.1 235.6 L222.6 235.6 L223.1 235.6 L223.6 235.6 L224.1 235.6 L224.6 235.6 L225.1 235.6 L225.6 235.6 L226.1 235.6 L226.6 235.6 L227.1 235.6 L227.6 235.6 L228.1 235.6 L228.6 235.6 L229.1 235.6 L229.6 235.6 L230.1 235.6 L230.6 235.6 L231.1 235.6 L231.6 235.6 L232.1 235.6 L232.6 235.6 L233.1 235.6 L233.6 235.6 L234.1 235.6 L234.6 235.6 L235.1 235.6 L235.6 235.6 L236.1 235.6 L236.6 235.6 L237.1 235.6 L237.6 235.6 L238.1 235.6 L238.6 235.6 L239.1 235.6 L239.6 235.6 L240.1 235.6 L240.6 235.6 L241.1 235.6 L241.6 235.6 L242.1 235.6 L242.6 235.6 L243.1 235.6 L243.6 235.6 L244.1 235.6 L244.6 235.6 L245.1 235.5 L245.6 235.4 L246.1 235.1 L246.6 234.8 L247.1 234.2 L247.6 233.5 L248.1 232.5 L248.6 231.5 L249.1 230.5 L249.6 229.8 L250.1 229.5 L250.6 229.6 L251.1 230.2 L251.6 231.1 L252.1 232.1 L252.6 233.1 L253.1 233.9 L253.6 234.6 L254.1 235 L254.6 235.3 L255.1 235.4 L255.6 235.5 L256.1 235.6 L256.6 235.6 L257.1 235.6 L257.6 235.6 L258.1 235.6 L258.6 235.6 L259.1 235.6 L259.6 235.6 L260.1 235.6 L260.6 235.6 L261.1 235.6 L261.6 235.6 L262.1 235.6 L262.6 235.6 L263.1 235.6 L263.6 235.6 L264.1 235.6 L264.6 235.5 L265.1 235.5 L265.6 235.3 L266.1 235 L266.6 234.5 L267.1 233.7 L267.6 232.4 L268.1 230.7 L268.6 228.5 L269.1 226 L269.6 223.6 L270.1 221.5 L270.6 220.1 L271.1 219.8 L271.6 220.6 L272.1 222.2 L272.6 224.5 L273.1 227 L273.6 229.4 L274.1 231.4 L274.6 233 L275.1 234.1 L275.6 234.8 L276.1 235.2 L276.6 235.4 L277.1 235.5 L277.6 235.6 L278.1 235.6 L278.6 235.6 L279.1 235.6 L279.6 235.6 L280.1 235.6 L280.6 235.6 L281.1 235.6 L281.6 235.6" fill="none" stroke="#2c3596" stroke-width="1.4" stroke-linejoin="round" stroke-linecap="round"/>
<path d="M29 275.2 H281.4" stroke="#7b2b9c" stroke-width="1.2" stroke-dasharray="5 4"/>
<path d="M29 277.6 H281.4" stroke="#7b2b9c" stroke-width="1.2" stroke-dasharray="5 4"/>
<path d="M29 276.4 H281.4" stroke="#444" stroke-width="0.6" stroke-dasharray="2 2"/>
<path d="M28.6 278 L29.9 278 L29.9 276.3 L31.2 276.3 L31.2 275.8 L32.5 275.8 L32.5 276.8 L33.8 276.8 L33.8 278.5 L35.1 278.5 L35.1 277.5 L36.4 277.5 L36.4 279.4 L37.7 279.4 L37.7 276.7 L39 276.7 L39 277.9 L40.3 277.9 L40.3 271.6 L41.6 271.6 L41.6 274.7 L42.9 274.7 L42.9 273.1 L44.2 273.1 L44.2 270.2 L45.5 270.2 L45.5 275.7 L46.8 275.7 L46.8 270.3 L48.1 270.3 L48.1 276.7 L49.4 276.7 L49.4 276.4 L50.7 276.4 L50.7 278.2 L52 278.2 L52 278.3 L53.3 278.3 L53.3 280.8 L54.6 280.8 L54.6 278.3 L55.9 278.3 L55.9 282.5 L57.2 282.5 L57.2 278.5 L58.5 278.5 L58.5 279 L59.8 279 L59.8 276.5 L61.1 276.5 L61.1 275.2 L62.4 275.2 L62.4 280.7 L63.7 280.7 L63.7 273.5 L65 273.5 L65 276.4 L66.3 276.4 L66.3 273.1 L67.6 273.1 L67.6 271.6 L68.9 271.6 L68.9 272.2 L70.2 272.2 L70.2 273.6 L71.5 273.6 L71.5 271.8 L72.8 271.8 L72.8 274.6 L74.1 274.6 L74.1 274.5 L75.4 274.5 L75.4 271.6 L76.7 271.6 L76.7 276.6 L78 276.6 L78 276.6 L79.3 276.6 L79.3 273.2 L80.6 273.2 L80.6 274.3 L81.9 274.3 L81.9 275 L83.2 275 L83.2 281.3 L84.5 281.3 L84.5 275.6 L85.8 275.6 L85.8 280.6 L87.1 280.6 L87.1 277.9 L88.4 277.9 L88.4 277.4 L89.7 277.4 L89.7 279 L91 279 L91 284.5 L92.3 284.5 L92.3 282.1 L93.6 282.1 L93.6 277.7 L94.9 277.7 L94.9 274.7 L96.2 274.7 L96.2 278.2 L97.5 278.2 L97.5 277 L98.8 277 L98.8 274.7 L100.1 274.7 L100.1 270.9 L101.4 270.9 L101.4 275.1 L102.7 275.1 L102.7 279.1 L104 279.1 L104 280.8 L105.3 280.8 L105.3 280.2 L106.6 280.2 L106.6 275.4 L107.9 275.4 L107.9 274.1 L109.2 274.1 L109.2 273.4 L110.5 273.4 L110.5 276.1 L111.8 276.1 L111.8 275.1 L113.1 275.1 L113.1 275.6 L114.4 275.6 L114.4 274.8 L115.7 274.8 L115.7 273.9 L117 273.9 L117 273.9 L118.3 273.9 L118.3 271.6 L119.6 271.6 L119.6 279.4 L120.9 279.4 L120.9 281.4 L122.2 281.4 L122.2 274 L123.5 274 L123.5 277.7 L124.8 277.7 L124.8 282.2 L126.1 282.2 L126.1 275.3 L127.4 275.3 L127.4 277.4 L128.7 277.4 L128.7 279.4 L130 279.4 L130 279.8 L131.3 279.8 L131.3 275.5 L132.6 275.5 L132.6 277.4 L133.9 277.4 L133.9 276.6 L135.2 276.6 L135.2 279.7 L136.5 279.7 L136.5 271.5 L137.8 271.5 L137.8 274.9 L139.1 274.9 L139.1 274.4 L140.4 274.4 L140.4 276.5 L141.7 276.5 L141.7 276.9 L143 276.9 L143 276.2 L144.3 276.2 L144.3 276.8 L145.6 276.8 L145.6 280.1 L146.9 280.1 L146.9 278.3 L148.2 278.3 L148.2 274.9 L149.5 274.9 L149.5 278.4 L150.8 278.4 L150.8 280.7 L152.1 280.7 L152.1 277.6 L153.4 277.6 L153.4 275.8 L154.7 275.8 L154.7 278 L156 278 L156 276.4 L157.3 276.4 L157.3 277.6 L158.6 277.6 L158.6 279.9 L159.9 279.9 L159.9 282.5 L161.2 282.5 L161.2 283 L162.5 283 L162.5 278.9 L163.8 278.9 L163.8 279.3 L165.1 279.3 L165.1 278.5 L166.4 278.5 L166.4 281.2 L167.7 281.2 L167.7 278.1 L169 278.1 L169 279.7 L170.3 279.7 L170.3 274.5 L171.6 274.5 L171.6 279.1 L172.9 279.1 L172.9 277.1 L174.2 277.1 L174.2 277.9 L175.5 277.9 L175.5 274.4 L176.8 274.4 L176.8 275.8 L178.1 275.8 L178.1 273 L179.4 273 L179.4 275.9 L180.7 275.9 L180.7 273.3 L182 273.3 L182 272.9 L183.3 272.9 L183.3 277.1 L184.6 277.1 L184.6 275.1 L185.9 275.1 L185.9 277.3 L187.2 277.3 L187.2 277 L188.5 277 L188.5 273.8 L189.8 273.8 L189.8 278.5 L191.1 278.5 L191.1 278.7 L192.4 278.7 L192.4 273.3 L193.7 273.3 L193.7 273.9 L195 273.9 L195 275.8 L196.3 275.8 L196.3 272.2 L197.6 272.2 L197.6 275.5 L198.9 275.5 L198.9 276.8 L200.2 276.8 L200.2 277.6 L201.5 277.6 L201.5 281.9 L202.8 281.9 L202.8 274.7 L204.1 274.7 L204.1 280.1 L205.4 280.1 L205.4 280.4 L206.7 280.4 L206.7 275.9 L208 275.9 L208 276.3 L209.3 276.3 L209.3 277.5 L210.6 277.5 L210.6 278.3 L211.9 278.3 L211.9 274.3 L213.2 274.3 L213.2 275.2 L214.5 275.2 L214.5 273.9 L215.8 273.9 L215.8 274.8 L217.1 274.8 L217.1 275.2 L218.4 275.2 L218.4 279 L219.7 279 L219.7 279.4 L221 279.4 L221 280.2 L222.3 280.2 L222.3 281.5 L223.6 281.5 L223.6 279 L224.9 279 L224.9 274.9 L226.2 274.9 L226.2 278 L227.5 278 L227.5 277.3 L228.8 277.3 L228.8 278.5 L230.1 278.5 L230.1 275 L231.4 275 L231.4 277.9 L232.7 277.9 L232.7 281.4 L234 281.4 L234 274.8 L235.3 274.8 L235.3 279.9 L236.6 279.9 L236.6 276.4 L237.9 276.4 L237.9 278.4 L239.2 278.4 L239.2 278.9 L240.5 278.9 L240.5 276.6 L241.8 276.6 L241.8 276.3 L243.1 276.3 L243.1 276.6 L244.4 276.6 L244.4 272.5 L245.7 272.5 L245.7 270.4 L247 270.4 L247 274.2 L248.3 274.2 L248.3 277.9 L249.6 277.9 L249.6 275.5 L250.9 275.5 L250.9 279.4 L252.2 279.4 L252.2 280.8 L253.5 280.8 L253.5 280.8 L254.8 280.8 L254.8 282.2 L256.1 282.2 L256.1 277.4 L257.4 277.4 L257.4 281 L258.7 281 L258.7 277.5 L260 277.5 L260 270.7 L261.3 270.7 L261.3 270.1 L262.6 270.1 L262.6 272.6 L263.9 272.6 L263.9 271.9 L265.2 271.9 L265.2 276.8 L266.5 276.8 L266.5 270.8 L267.8 270.8 L267.8 268.3 L269.1 268.3 L269.1 273.2 L270.4 273.2 L270.4 272.6 L271.7 272.6 L271.7 278.3 L273 278.3 L273 277.4 L274.3 277.4 L274.3 278.2 L275.6 278.2 L275.6 277 L276.9 277 L276.9 273.7 L278.2 273.7 L278.2 280.8 L279.5 280.8 L279.5 276.2 L280.8 276.2 L280.8 280.5 L281.8 280.5" fill="none" stroke="#111" stroke-width="1.3" stroke-linejoin="round" stroke-linecap="round"/>
</g>
<rect x="28" y="162.6" width="254.4" height="127.4" fill="none" stroke="#1a1a1a" stroke-width="1.25"/>
<path d="M28 233.9 h4.6 M282.4 233.9 h-4.6" stroke="#1a1a1a" stroke-width="1"/>
<path d="M28 220.9 h2.5 M282.4 220.9 h-2.5" stroke="#1a1a1a" stroke-width="1"/>
<path d="M28 207.9 h4.6 M282.4 207.9 h-4.6" stroke="#1a1a1a" stroke-width="1"/>
<path d="M28 194.9 h2.5 M282.4 194.9 h-2.5" stroke="#1a1a1a" stroke-width="1"/>
<path d="M28 181.9 h4.6 M282.4 181.9 h-4.6" stroke="#1a1a1a" stroke-width="1"/>
<path d="M28 168.9 h2.5 M282.4 168.9 h-2.5" stroke="#1a1a1a" stroke-width="1"/>
<text x="26.4" y="212.5" font-size="11" fill="#111" stroke="#111" stroke-width="0.3" text-anchor="end" font-weight="bold">0</text>
<text x="26.4" y="186.5" font-size="11" fill="#111" stroke="#111" stroke-width="0.3" text-anchor="end" font-weight="bold">20</text>
<path d="M28 276.1 h4.6 M282.4 276.1 h-4.6" stroke="#1a1a1a" stroke-width="1"/>
<path d="M28 262.8 h2.5 M282.4 262.8 h-2.5" stroke="#1a1a1a" stroke-width="1"/>
<path d="M28 249.4 h4.6 M282.4 249.4 h-4.6" stroke="#1a1a1a" stroke-width="1"/>
<text x="26.4" y="280.7" font-size="11" fill="#111" stroke="#111" stroke-width="0.3" text-anchor="end" font-weight="bold">0</text>
<text x="26.4" y="254" font-size="11" fill="#111" stroke="#111" stroke-width="0.3" text-anchor="end" font-weight="bold">5</text>
<path d="M26.4 239.6 l3.2 -1.6 M26.4 242.2 l3.2 -1.6" stroke="#1a1a1a" stroke-width="0.9"/>
<path d="M280.8 239.6 l3.2 -1.6 M280.8 242.2 l3.2 -1.6" stroke="#1a1a1a" stroke-width="0.9"/>
<path d="M276.8 290 v-2.2" stroke="#1a1a1a" stroke-width="0.9"/>
<path d="M269.5 290 v-2.2" stroke="#1a1a1a" stroke-width="0.9"/>
<path d="M262.1 290 v-2.2" stroke="#1a1a1a" stroke-width="0.9"/>
<path d="M254.8 290 v-2.2" stroke="#1a1a1a" stroke-width="0.9"/>
<path d="M247.4 290 v-2.2" stroke="#1a1a1a" stroke-width="0.9"/>
<path d="M240.1 290 v-2.2" stroke="#1a1a1a" stroke-width="0.9"/>
<path d="M232.7 290 v-2.2" stroke="#1a1a1a" stroke-width="0.9"/>
<path d="M225.4 290 v-2.2" stroke="#1a1a1a" stroke-width="0.9"/>
<path d="M218 290 v-2.2" stroke="#1a1a1a" stroke-width="0.9"/>
<path d="M210.7 290 v-2.2" stroke="#1a1a1a" stroke-width="0.9"/>
<path d="M203.3 290 v-2.2" stroke="#1a1a1a" stroke-width="0.9"/>
<path d="M196 290 v-2.2" stroke="#1a1a1a" stroke-width="0.9"/>
<path d="M188.6 290 v-2.2" stroke="#1a1a1a" stroke-width="0.9"/>
<path d="M181.3 290 v-2.2" stroke="#1a1a1a" stroke-width="0.9"/>
<path d="M173.9 290 v-2.2" stroke="#1a1a1a" stroke-width="0.9"/>
<path d="M166.6 290 v-2.2" stroke="#1a1a1a" stroke-width="0.9"/>
<path d="M159.3 290 v-2.2" stroke="#1a1a1a" stroke-width="0.9"/>
<path d="M151.9 290 v-2.2" stroke="#1a1a1a" stroke-width="0.9"/>
<path d="M144.6 290 v-2.2" stroke="#1a1a1a" stroke-width="0.9"/>
<path d="M137.2 290 v-2.2" stroke="#1a1a1a" stroke-width="0.9"/>
<path d="M129.9 290 v-2.2" stroke="#1a1a1a" stroke-width="0.9"/>
<path d="M122.5 290 v-2.2" stroke="#1a1a1a" stroke-width="0.9"/>
<path d="M115.2 290 v-2.2" stroke="#1a1a1a" stroke-width="0.9"/>
<path d="M107.8 290 v-2.2" stroke="#1a1a1a" stroke-width="0.9"/>
<path d="M100.5 290 v-2.2" stroke="#1a1a1a" stroke-width="0.9"/>
<path d="M93.1 290 v-2.2" stroke="#1a1a1a" stroke-width="0.9"/>
<path d="M85.8 290 v-2.2" stroke="#1a1a1a" stroke-width="0.9"/>
<path d="M78.4 290 v-2.2" stroke="#1a1a1a" stroke-width="0.9"/>
<path d="M71.1 290 v-2.2" stroke="#1a1a1a" stroke-width="0.9"/>
<path d="M63.7 290 v-2.2" stroke="#1a1a1a" stroke-width="0.9"/>
<path d="M56.4 290 v-2.2" stroke="#1a1a1a" stroke-width="0.9"/>
<path d="M49.1 290 v-2.2" stroke="#1a1a1a" stroke-width="0.9"/>
<path d="M41.7 290 v-2.2" stroke="#1a1a1a" stroke-width="0.9"/>
<path d="M34.4 290 v-2.2" stroke="#1a1a1a" stroke-width="0.9"/>
<path d="M276.8 290 v-4.6" stroke="#1a1a1a" stroke-width="1"/>
<path d="M240.1 290 v-4.6" stroke="#1a1a1a" stroke-width="1"/>
<path d="M203.3 290 v-4.6" stroke="#1a1a1a" stroke-width="1"/>
<path d="M166.6 290 v-4.6" stroke="#1a1a1a" stroke-width="1"/>
<path d="M129.9 290 v-4.6" stroke="#1a1a1a" stroke-width="1"/>
<path d="M93.1 290 v-4.6" stroke="#1a1a1a" stroke-width="1"/>
<path d="M56.4 290 v-4.6" stroke="#1a1a1a" stroke-width="1"/>
<text x="56.4" y="300.6" font-size="11" fill="#111" stroke="#111" stroke-width="0.3" text-anchor="middle" font-weight="bold">2845</text>
<text x="93.1" y="300.6" font-size="11" fill="#111" stroke="#111" stroke-width="0.3" text-anchor="middle" font-weight="bold">2844</text>
<text x="129.9" y="300.6" font-size="11" fill="#111" stroke="#111" stroke-width="0.3" text-anchor="middle" font-weight="bold">2843</text>
<text x="166.6" y="300.6" font-size="11" fill="#111" stroke="#111" stroke-width="0.3" text-anchor="middle" font-weight="bold">2842</text>
<text x="203.3" y="300.6" font-size="11" fill="#111" stroke="#111" stroke-width="0.3" text-anchor="middle" font-weight="bold">2841</text>
<text x="240.1" y="300.6" font-size="11" fill="#111" stroke="#111" stroke-width="0.3" text-anchor="middle" font-weight="bold">2840</text>
<text x="276.8" y="300.6" font-size="11" fill="#111" stroke="#111" stroke-width="0.3" text-anchor="middle" font-weight="bold">2839</text>
<path d="M55.6 162.6 v4.8" stroke="#1a1a1a" stroke-width="1"/>
<path d="M89.2 162.6 v4.8" stroke="#1a1a1a" stroke-width="1"/>
<path d="M119.1 162.6 v4.8" stroke="#1a1a1a" stroke-width="1"/>
<path d="M206.3 162.6 v4.8" stroke="#1a1a1a" stroke-width="1"/>
<path d="M235.7 162.6 v4.8" stroke="#1a1a1a" stroke-width="1"/>
<path d="M265.9 162.6 v4.8" stroke="#1a1a1a" stroke-width="1"/>
<text x="55.6" y="160.5" font-size="9.8" fill="#111" stroke="#111" stroke-width="0.3" text-anchor="middle" font-weight="bold">3.515</text>
<text x="89.2" y="160.5" font-size="9.8" fill="#111" stroke="#111" stroke-width="0.3" text-anchor="middle" font-weight="bold">3.516</text>
<text x="119.1" y="160.5" font-size="9.8" fill="#111" stroke="#111" stroke-width="0.3" text-anchor="middle" font-weight="bold">3.517</text>
<text x="206.3" y="160.5" font-size="9.8" fill="#111" stroke="#111" stroke-width="0.3" text-anchor="middle" font-weight="bold">3.520</text>
<text x="235.7" y="160.5" font-size="9.8" fill="#111" stroke="#111" stroke-width="0.3" text-anchor="middle" font-weight="bold">3.521</text>
<text x="265.9" y="160.5" font-size="9.8" fill="#111" stroke="#111" stroke-width="0.3" text-anchor="middle" font-weight="bold">3.522</text>
<text x="138.3" y="160.5" font-size="10.4" font-weight="bold" fill="#111" stroke="#111" stroke-width="0.2"><tspan font-family="Liberation Serif" font-weight="normal" font-size="11">&#955;</tspan> (<tspan font-family="Liberation Serif" font-weight="normal" font-size="11">&#956;</tspan>m)</text>
<text x="34.8" y="171.3" font-size="13" fill="#111" stroke="#111" stroke-width="0.3" text-anchor="start" font-weight="bold">c</text>
<text x="103.2" y="200.5" font-size="13" fill="#a83a28" stroke="#a83a28" stroke-width="0.3" text-anchor="start" font-weight="bold">CH<tspan font-size="7.8" dy="4.3">3</tspan><tspan dy="-4.3">&#8203;</tspan>OH model (x4)</text>
<text x="103.2" y="232.2" font-size="13" fill="#2c3596" stroke="#2c3596" stroke-width="0.3" text-anchor="start" font-weight="bold">OH model (x4)</text>
<text x="105" y="266.2" font-size="13" fill="#111" stroke="#111" stroke-width="0.3" text-anchor="start" font-weight="bold">residuals (x4)</text>
<g clip-path="url(#cpd)">
<path d="M306.6 176.4 L307.9 177.6 L309.2 178.9 L310.5 179 L311.8 179.8 L313.1 180.2 L314.4 178.7 L315.7 177.4 L317 176 L318.3 175.5 L319.6 174.9 L320.9 175.5 L322.2 175.2 L323.5 175.6 L324.8 176.1 L326.1 176 L327.4 175.2 L328.7 175.9 L330 174.4 L331.3 175.6 L332.6 176.2 L333.9 176.4 L335.2 176.4 L336.5 176.6 L337.8 176.4 L339.1 175.3 L340.4 174.6 L341.7 175.5 L343 176.5 L344.3 177.1 L345.6 176.8 L346.9 176.9 L348.2 175.7 L349.5 176.8 L350.8 177.4 L352.1 177.5 L353.4 178 L354.7 179.5 L356 182.5 L357.3 185.4 L358.6 189.7 L359.9 195 L361.2 202.1 L362.5 208.2 L363.8 214.3 L365.1 216 L366.4 214.5 L367.7 208.7 L369 200.9 L370.3 193.3 L371.6 189.4 L372.9 184.8 L374.2 182.6 L375.5 178.8 L376.8 177.2 L378.1 176.4 L379.4 176.1 L380.7 176.6 L382 176 L383.3 176.6 L384.6 176.8 L385.9 177.3 L387.2 176.1 L388.5 176.1 L389.8 176.7 L391.1 177.1 L392.4 177 L393.7 175.3 L395 176.2 L396.3 175.3 L397.6 175.1 L398.9 176.2 L400.2 175.6 L401.5 175.8 L402.8 176.5 L404.1 177.9 L405.4 178.3 L406.7 178 L408 177.6 L409.3 177.6 L410.6 177.2 L411.9 176.2 L413.2 177 L414.5 175.9 L415.8 176.7 L417.1 175.8 L418.4 175.7 L419.7 175.3 L421 175.3 L422.3 174.9 L423.6 174.1 L424.9 175.3 L426.2 174 L427.5 175.1 L428.8 174.5 L430.1 174.9 L431.4 173.6 L432.7 174.2 L434 175.8 L435.3 175.2 L436.6 175.6 L437.9 175 L439.2 175.2 L440.5 176.3 L441.8 177 L443.1 176 L444.4 175.9 L445.7 174.9 L447 176.1 L448.3 177.3 L449.6 177.2 L450.9 178.9 L452.2 180.9 L453.5 182.8 L454.8 188.3 L456.1 194.2 L457.4 200 L458.7 208.4 L460 210.7 L461.3 204.2 L462.6 196.8 L463.9 192.1 L465.2 186.2 L466.5 180.7 L467.8 178.7 L469.1 176.9 L470.4 175.2 L471.7 175.7 L473 175 L474.3 175.8 L475.6 176.1 L476.9 175.6 L478.2 175.8 L479.5 175.9 L480.8 175.6 L482.1 176.2 L483.4 175.7 L484.7 176.1 L486 174.9 L487.3 176.2 L488.6 176.8 L489.9 175.9 L491.2 176 L492.5 176.9 L493.8 177.9 L495.1 178.8 L496.4 178.7 L497.7 179.5 L499 179.5 L500.3 179.7 L501.6 179.5 L502.9 178.7 L504.2 178 L505.5 176.9 L506.8 178 L508.1 177.7 L509.4 179.1 L510.7 177.6 L512 178.1 L513.3 179.1 L514.6 178.9 L515.9 179.6 L517.2 180 L518.5 179 L519.8 179.1 L521.1 179.8 L522.4 179.1 L523.7 178.9 L525 177.4 L526.3 176 L527.6 178.1 L528.9 179.8 L530.2 180.3 L531.5 181.2 L532.8 183.5 L534.1 187.4 L535.4 196.4 L536.7 205.7 L538 212.5 L539.3 209 L540.6 202.6 L541.9 197 L543.2 191.2 L544.5 187.3 L545.8 184.4 L547.1 182.7 L548.4 181.4 L549.7 180.2 L551 180.1 L552.3 179.5 L553.6 180.4 L554.9 181 L556.2 179.9 L557.5 180 L558.8 179.4 L560.1 179.4" fill="none" stroke="#111" stroke-width="1.2" stroke-linejoin="round" stroke-linecap="round"/>
<path d="M306.6 176.7 L307.3 177 L308 177.3 L308.7 177.6 L309.4 178 L310.1 178.5 L310.8 179.2 L311.5 179.8 L312.2 180.2 L312.9 180.3 L313.6 179.9 L314.3 179.1 L315 178.3 L315.7 177.6 L316.4 177.2 L317.1 176.8 L317.8 176.5 L318.5 176.3 L319.2 176.1 L319.9 176 L320.6 175.9 L321.3 175.8 L322 175.8 L322.7 175.8 L323.4 175.7 L324.1 175.7 L324.8 175.7 L325.5 175.7 L326.2 175.7 L326.9 175.6 L327.6 175.6 L328.3 175.6 L329 175.6 L329.7 175.6 L330.4 175.6 L331.1 175.6 L331.8 175.6 L332.5 175.6 L333.2 175.6 L333.9 175.6 L334.6 175.6 L335.3 175.7 L336 175.7 L336.7 175.7 L337.4 175.7 L338.1 175.7 L338.8 175.8 L339.5 175.8 L340.2 175.8 L340.9 175.8 L341.6 175.9 L342.3 175.9 L343 176 L343.7 176 L344.4 176.1 L345.1 176.1 L345.8 176.2 L346.5 176.3 L347.2 176.4 L347.9 176.5 L348.6 176.6 L349.3 176.8 L350 176.9 L350.7 177.1 L351.4 177.3 L352.1 177.6 L352.8 177.9 L353.5 178.2 L354.2 178.8 L354.9 179.7 L355.6 181 L356.3 182.6 L357 184.5 L357.7 186.7 L358.4 189.2 L359.1 191.8 L359.8 194.6 L360.5 197.7 L361.2 201.3 L361.9 205.1 L362.6 208.6 L363.3 211.7 L364 214.6 L364.7 216.3 L365.4 216.4 L366.1 215 L366.8 212.5 L367.5 209.5 L368.2 205.6 L368.9 201.5 L369.6 197.5 L370.3 194.1 L371 191.3 L371.7 188.8 L372.4 186.6 L373.1 184.6 L373.8 182.8 L374.5 181.4 L375.2 180.1 L375.9 179.1 L376.6 178.2 L377.3 177.6 L378 177.2 L378.7 176.9 L379.4 176.7 L380.1 176.6 L380.8 176.4 L381.5 176.3 L382.2 176.2 L382.9 176.1 L383.6 176 L384.3 176 L385 175.9 L385.7 175.9 L386.4 175.9 L387.1 175.8 L387.8 175.8 L388.5 175.8 L389.2 175.8 L389.9 175.8 L390.6 175.8 L391.3 175.8 L392 175.8 L392.7 175.8 L393.4 175.8 L394.1 175.8 L394.8 175.8 L395.5 175.8 L396.2 175.8 L396.9 175.8 L397.6 175.8 L398.3 175.9 L399 175.9 L399.7 176 L400.4 176.1 L401.1 176.2 L401.8 176.4 L402.5 176.6 L403.2 176.8 L403.9 177.1 L404.6 177.6 L405.3 178.3 L406 178.9 L406.7 179.2 L407.4 179 L408.1 178.4 L408.8 177.7 L409.5 177.2 L410.2 176.9 L410.9 176.7 L411.6 176.5 L412.3 176.3 L413 176.1 L413.7 176 L414.4 175.8 L415.1 175.7 L415.8 175.6 L416.5 175.4 L417.2 175.3 L417.9 175.3 L418.6 175.2 L419.3 175.1 L420 175 L420.7 175 L421.4 174.9 L422.1 174.9 L422.8 174.8 L423.5 174.8 L424.2 174.8 L424.9 174.7 L425.6 174.7 L426.3 174.7 L427 174.6 L427.7 174.6 L428.4 174.6 L429.1 174.6 L429.8 174.6 L430.5 174.6 L431.2 174.6 L431.9 174.6 L432.6 174.6 L433.3 174.6 L434 174.6 L434.7 174.6 L435.4 174.6 L436.1 174.7 L436.8 174.7 L437.5 174.7 L438.2 174.8 L438.9 174.8 L439.6 174.8 L440.3 174.9 L441 175 L441.7 175.1 L442.4 175.2 L443.1 175.3 L443.8 175.4 L444.5 175.6 L445.2 175.8 L445.9 176 L446.6 176.2 L447.3 176.4 L448 176.6 L448.7 176.9 L449.4 177.2 L450.1 177.7 L450.8 178.4 L451.5 179.3 L452.2 180.5 L452.9 182.2 L453.6 184.3 L454.3 186.8 L455 189.7 L455.7 192.8 L456.4 196 L457.1 199.2 L457.8 203.4 L458.5 207.9 L459.2 211.3 L459.9 211.8 L460.6 209.3 L461.3 205 L462 201 L462.7 197.7 L463.4 194.3 L464.1 190.9 L464.8 187.7 L465.5 184.7 L466.2 182.2 L466.9 180.3 L467.6 178.8 L468.3 177.7 L469 177.1 L469.7 176.8 L470.4 176.7 L471.1 176.6 L471.8 176.5 L472.5 176.4 L473.2 176.3 L473.9 176.2 L474.6 176.2 L475.3 176.1 L476 176.1 L476.7 176.1 L477.4 176 L478.1 176 L478.8 176 L479.5 176 L480.2 176 L480.9 176 L481.6 176 L482.3 176 L483 176 L483.7 176 L484.4 176 L485.1 176.1 L485.8 176.1 L486.5 176.1 L487.2 176.2 L487.9 176.2 L488.6 176.2 L489.3 176.3 L490 176.3 L490.7 176.4 L491.4 176.5 L492.1 176.6 L492.8 176.8 L493.5 177 L494.2 177.2 L494.9 177.5 L495.6 177.8 L496.3 178.1 L497 178.4 L497.7 178.7 L498.4 179 L499.1 179.1 L499.8 179.2 L500.5 179.2 L501.2 179 L501.9 178.8 L502.6 178.4 L503.3 178.1 L504 177.8 L504.7 177.5 L505.4 177.4 L506.1 177.3 L506.8 177.3 L507.5 177.3 L508.2 177.4 L508.9 177.4 L509.6 177.5 L510.3 177.6 L511 177.6 L511.7 177.7 L512.4 177.8 L513.1 177.9 L513.8 178 L514.5 178.1 L515.2 178.2 L515.9 178.4 L516.6 178.5 L517.3 178.6 L518 178.7 L518.7 178.9 L519.4 179 L520.1 179.2 L520.8 179.4 L521.5 179.5 L522.2 179.6 L522.9 179.5 L523.6 178.9 L524.3 177.6 L525 176.2 L525.7 175.3 L526.4 175.5 L527.1 176.5 L527.8 178 L528.5 179.3 L529.2 180.3 L529.9 181.1 L530.6 181.6 L531.3 182.1 L532 182.8 L532.7 183.7 L533.4 185.2 L534.1 187.6 L534.8 191.6 L535.5 197.1 L536.2 202.7 L536.9 207.5 L537.6 212.1 L538.3 213.5 L539 211.5 L539.7 207.8 L540.4 204.5 L541.1 201.4 L541.8 198 L542.5 194.7 L543.2 191.7 L543.9 189.1 L544.6 187 L545.3 185.4 L546 184.3 L546.7 183.3 L547.4 182.6 L548.1 182.1 L548.8 181.7 L549.5 181.3 L550.2 181 L550.9 180.7 L551.6 180.4 L552.3 180.1 L553 179.9 L553.7 179.7 L554.4 179.6 L555.1 179.4 L555.8 179.3 L556.5 179.2 L557.2 179.2 L557.9 179.1 L558.6 179 L559.3 179 L560 178.9" fill="none" stroke="#bf1f2b" stroke-width="1.2" stroke-linejoin="round" stroke-linecap="round"/>
<path d="M306.6 177.4 L307.3 177.7 L308 178 L308.7 178.3 L309.4 178.7 L310.1 179.2 L310.8 179.9 L311.5 180.5 L312.2 180.9 L312.9 181 L313.6 180.6 L314.3 179.8 L315 179 L315.7 178.3 L316.4 177.9 L317.1 177.5 L317.8 177.2 L318.5 177 L319.2 176.8 L319.9 176.7 L320.6 176.6 L321.3 176.5 L322 176.5 L322.7 176.5 L323.4 176.4 L324.1 176.4 L324.8 176.4 L325.5 176.4 L326.2 176.4 L326.9 176.3 L327.6 176.3 L328.3 176.3 L329 176.3 L329.7 176.3 L330.4 176.3 L331.1 176.3 L331.8 176.3 L332.5 176.3 L333.2 176.3 L333.9 176.3 L334.6 176.3 L335.3 176.4 L336 176.4 L336.7 176.4 L337.4 176.4 L338.1 176.4 L338.8 176.5 L339.5 176.5 L340.2 176.5 L340.9 176.5 L341.6 176.6 L342.3 176.6 L343 176.7 L343.7 176.7 L344.4 176.8 L345.1 176.8 L345.8 176.9 L346.5 177 L347.2 177.1 L347.9 177.2 L348.6 177.3 L349.3 177.5 L350 177.6 L350.7 177.8 L351.4 178 L352.1 178.3 L352.8 178.6 L353.5 178.9 L354.2 179.5 L354.9 180.4 L355.6 181.7 L356.3 183.3 L357 185.2 L357.7 187.4 L358.4 189.9 L359.1 192.5 L359.8 195.3 L360.5 198.4 L361.2 202 L361.9 205.8 L362.6 209.3 L363.3 212.4 L364 215.3 L364.7 217 L365.4 217.1 L366.1 215.7 L366.8 213.2 L367.5 210.2 L368.2 206.3 L368.9 202.2 L369.6 198.2 L370.3 194.8 L371 192 L371.7 189.5 L372.4 187.3 L373.1 185.3 L373.8 183.5 L374.5 182.1 L375.2 180.8 L375.9 179.8 L376.6 178.9 L377.3 178.3 L378 177.9 L378.7 177.6 L379.4 177.4 L380.1 177.3 L380.8 177.1 L381.5 177 L382.2 176.9 L382.9 176.8 L383.6 176.7 L384.3 176.7 L385 176.6 L385.7 176.6 L386.4 176.6 L387.1 176.5 L387.8 176.5 L388.5 176.5 L389.2 176.5 L389.9 176.5 L390.6 176.5 L391.3 176.5 L392 176.5 L392.7 176.5 L393.4 176.5 L394.1 176.5 L394.8 176.5 L395.5 176.5 L396.2 176.5 L396.9 176.5 L397.6 176.5 L398.3 176.6 L399 176.6 L399.7 176.7 L400.4 176.8 L401.1 176.9 L401.8 177.1 L402.5 177.3 L403.2 177.5 L403.9 177.8 L404.6 178.3 L405.3 179 L406 179.6 L406.7 179.9 L407.4 179.7 L408.1 179.1 L408.8 178.4 L409.5 177.9 L410.2 177.6 L410.9 177.4 L411.6 177.2 L412.3 177 L413 176.8 L413.7 176.7 L414.4 176.5 L415.1 176.4 L415.8 176.3 L416.5 176.1 L417.2 176 L417.9 176 L418.6 175.9 L419.3 175.8 L420 175.7 L420.7 175.7 L421.4 175.6 L422.1 175.6 L422.8 175.5 L423.5 175.5 L424.2 175.5 L424.9 175.4 L425.6 175.4 L426.3 175.4 L427 175.3 L427.7 175.3 L428.4 175.3 L429.1 175.3 L429.8 175.3 L430.5 175.3 L431.2 175.3 L431.9 175.3 L432.6 175.3 L433.3 175.3 L434 175.3 L434.7 175.3 L435.4 175.3 L436.1 175.4 L436.8 175.4 L437.5 175.4 L438.2 175.5 L438.9 175.5 L439.6 175.5 L440.3 175.6 L441 175.7 L441.7 175.8 L442.4 175.9 L443.1 176 L443.8 176.1 L444.5 176.3 L445.2 176.5 L445.9 176.7 L446.6 176.9 L447.3 177.1 L448 177.3 L448.7 177.6 L449.4 177.9 L450.1 178.4 L450.8 179.1 L451.5 180 L452.2 181.2 L452.9 182.9 L453.6 185 L454.3 187.5 L455 190.4 L455.7 193.5 L456.4 196.7 L457.1 199.9 L457.8 204.1 L458.5 208.6 L459.2 212 L459.9 212.5 L460.6 210 L461.3 205.7 L462 201.7 L462.7 198.4 L463.4 195 L464.1 191.6 L464.8 188.4 L465.5 185.4 L466.2 182.9 L466.9 181 L467.6 179.5 L468.3 178.4 L469 177.8 L469.7 177.5 L470.4 177.4 L471.1 177.3 L471.8 177.2 L472.5 177.1 L473.2 177 L473.9 176.9 L474.6 176.9 L475.3 176.8 L476 176.8 L476.7 176.8 L477.4 176.7 L478.1 176.7 L478.8 176.7 L479.5 176.7 L480.2 176.7 L480.9 176.7 L481.6 176.7 L482.3 176.7 L483 176.7 L483.7 176.7 L484.4 176.7 L485.1 176.8 L485.8 176.8 L486.5 176.8 L487.2 176.9 L487.9 176.9 L488.6 176.9 L489.3 177 L490 177 L490.7 177.1 L491.4 177.2 L492.1 177.3 L492.8 177.5 L493.5 177.7 L494.2 177.9 L494.9 178.2 L495.6 178.5 L496.3 178.8 L497 179.1 L497.7 179.4 L498.4 179.7 L499.1 179.8 L499.8 179.9 L500.5 179.9 L501.2 179.7 L501.9 179.5 L502.6 179.1 L503.3 178.8 L504 178.5 L504.7 178.2 L505.4 178.1 L506.1 178 L506.8 178 L507.5 178 L508.2 178.1 L508.9 178.1 L509.6 178.2 L510.3 178.3 L511 178.3 L511.7 178.4 L512.4 178.5 L513.1 178.6 L513.8 178.7 L514.5 178.8 L515.2 178.9 L515.9 179.1 L516.6 179.2 L517.3 179.3 L518 179.4 L518.7 179.6 L519.4 179.7 L520.1 179.9 L520.8 180.1 L521.5 180.4 L522.2 180.8 L522.9 181.4 L523.6 182.1 L524.3 182.5 L525 182.6 L525.7 182.5 L526.4 182.2 L527.1 181.9 L527.8 181.7 L528.5 181.6 L529.2 181.7 L529.9 182 L530.6 182.4 L531.3 182.8 L532 183.5 L532.7 184.4 L533.4 185.9 L534.1 188.3 L534.8 192.3 L535.5 197.8 L536.2 203.4 L536.9 208.2 L537.6 212.8 L538.3 214.2 L539 212.2 L539.7 208.5 L540.4 205.2 L541.1 202.1 L541.8 198.7 L542.5 195.4 L543.2 192.4 L543.9 189.8 L544.6 187.7 L545.3 186.1 L546 185 L546.7 184 L547.4 183.3 L548.1 182.8 L548.8 182.4 L549.5 182 L550.2 181.7 L550.9 181.4 L551.6 181.1 L552.3 180.8 L553 180.6 L553.7 180.4 L554.4 180.3 L555.1 180.1 L555.8 180 L556.5 179.9 L557.2 179.9 L557.9 179.8 L558.6 179.7 L559.3 179.7 L560 179.6" fill="none" stroke="#ad9e2d" stroke-width="2.1" stroke-linejoin="round" stroke-linecap="round"/>
<path d="M306.6 231 L307.1 231 L307.6 231 L308.1 230.9 L308.6 230.8 L309.1 230.5 L309.6 230.1 L310.1 229.6 L310.6 229 L311.1 228.3 L311.6 227.7 L312.1 227.4 L312.6 227.5 L313.1 227.8 L313.6 228.4 L314.1 229.1 L314.6 229.7 L315.1 230.2 L315.6 230.6 L316.1 230.8 L316.6 230.9 L317.1 231 L317.6 231 L318.1 231 L318.6 231 L319.1 231 L319.6 231 L320.1 231 L320.6 231 L321.1 231 L321.6 231 L322.1 231 L322.6 231 L323.1 231 L323.6 231 L324.1 231 L324.6 231 L325.1 231 L325.6 231 L326.1 231 L326.6 231 L327.1 231 L327.6 231 L328.1 231 L328.6 231 L329.1 231 L329.6 231 L330.1 231 L330.6 231 L331.1 231 L331.6 231 L332.1 231 L332.6 231 L333.1 231 L333.6 231 L334.1 231 L334.6 231 L335.1 231 L335.6 231 L336.1 231 L336.6 231 L337.1 231 L337.6 231 L338.1 231 L338.6 231 L339.1 231 L339.6 231 L340.1 231 L340.6 231 L341.1 230.9 L341.6 230.9 L342.1 230.8 L342.6 230.6 L343.1 230.5 L343.6 230.3 L344.1 230.2 L344.6 230.2 L345.1 230.3 L345.6 230.4 L346.1 230.5 L346.6 230.5 L347.1 230.5 L347.6 230.3 L348.1 230.1 L348.6 229.7 L349.1 229.3 L349.6 229.1 L350.1 229 L350.6 229.2 L351.1 229.5 L351.6 229.9 L352.1 230.2 L352.6 230.6 L353.1 230.8 L353.6 230.9 L354.1 231 L354.6 231 L355.1 231 L355.6 231 L356.1 231 L356.6 231 L357.1 231 L357.6 231 L358.1 231 L358.6 231 L359.1 231 L359.6 230.9 L360.1 230.8 L360.6 230.7 L361.1 230.6 L361.6 230.4 L362.1 230.2 L362.6 230 L363.1 230 L363.6 230.1 L364.1 230.2 L364.6 230.4 L365.1 230.6 L365.6 230.8 L366.1 230.9 L366.6 230.9 L367.1 231 L367.6 231 L368.1 231 L368.6 231 L369.1 231 L369.6 231 L370.1 231 L370.6 231 L371.1 231 L371.6 231 L372.1 231 L372.6 231 L373.1 231 L373.6 231 L374.1 231 L374.6 231 L375.1 231 L375.6 231 L376.1 231 L376.6 231 L377.1 231 L377.6 231 L378.1 231 L378.6 231 L379.1 231 L379.6 231 L380.1 231 L380.6 231 L381.1 231 L381.6 231 L382.1 231 L382.6 231 L383.1 231 L383.6 231 L384.1 231 L384.6 231 L385.1 231 L385.6 231 L386.1 231 L386.6 231 L387.1 231 L387.6 231 L388.1 231 L388.6 231 L389.1 231 L389.6 231 L390.1 231 L390.6 231 L391.1 231 L391.6 231 L392.1 231 L392.6 231 L393.1 231 L393.6 231 L394.1 231 L394.6 231 L395.1 231 L395.6 231 L396.1 231 L396.6 231 L397.1 231 L397.6 231 L398.1 231 L398.6 231 L399.1 231 L399.6 231 L400.1 231 L400.6 231 L401.1 231 L401.6 231 L402.1 231 L402.6 231 L403.1 231 L403.6 231 L404.1 231 L404.6 231 L405.1 231 L405.6 231 L406.1 231 L406.6 231 L407.1 231 L407.6 231 L408.1 231 L408.6 231 L409.1 231 L409.6 231 L410.1 231 L410.6 231 L411.1 231 L411.6 231 L412.1 231 L412.6 231 L413.1 231 L413.6 231 L414.1 231 L414.6 231 L415.1 231 L415.6 231 L416.1 231 L416.6 231 L417.1 231 L417.6 231 L418.1 231 L418.6 231 L419.1 231 L419.6 231 L420.1 231 L420.6 231 L421.1 231 L421.6 231 L422.1 231 L422.6 231 L423.1 231 L423.6 231 L424.1 231 L424.6 231 L425.1 231 L425.6 231 L426.1 231 L426.6 231 L427.1 231 L427.6 231 L428.1 231 L428.6 231 L429.1 231 L429.6 231 L430.1 231 L430.6 231 L431.1 231 L431.6 231 L432.1 231 L432.6 231 L433.1 231 L433.6 231 L434.1 231 L434.6 231 L435.1 231 L435.6 231 L436.1 231 L436.6 231 L437.1 231 L437.6 231 L438.1 231 L438.6 231 L439.1 231 L439.6 231 L440.1 231 L440.6 231 L441.1 231 L441.6 231 L442.1 231 L442.6 231 L443.1 231 L443.6 231 L444.1 231 L444.6 231 L445.1 231 L445.6 231 L446.1 231 L446.6 231 L447.1 231 L447.6 231 L448.1 231 L448.6 231 L449.1 231 L449.6 231 L450.1 231 L450.6 231 L451.1 231 L451.6 231 L452.1 231 L452.6 231 L453.1 231 L453.6 231 L454.1 231 L454.6 231 L455.1 231 L455.6 231 L456.1 231 L456.6 231 L457.1 231 L457.6 231 L458.1 231 L458.6 231 L459.1 231 L459.6 231 L460.1 231 L460.6 231 L461.1 231 L461.6 231 L462.1 231 L462.6 231 L463.1 231 L463.6 231 L464.1 231 L464.6 231 L465.1 231 L465.6 231 L466.1 231 L466.6 231 L467.1 231 L467.6 231 L468.1 231 L468.6 231 L469.1 231 L469.6 231 L470.1 231 L470.6 231 L471.1 231 L471.6 231 L472.1 231 L472.6 231 L473.1 231 L473.6 231 L474.1 231 L474.6 231 L475.1 231 L475.6 231 L476.1 231 L476.6 231 L477.1 231 L477.6 231 L478.1 231 L478.6 231 L479.1 231 L479.6 231 L480.1 231 L480.6 231 L481.1 231 L481.6 231 L482.1 231 L482.6 231 L483.1 231 L483.6 231 L484.1 231 L484.6 231 L485.1 231 L485.6 231 L486.1 231 L486.6 231 L487.1 231 L487.6 231 L488.1 231 L488.6 231 L489.1 231 L489.6 231 L490.1 231 L490.6 231 L491.1 231 L491.6 231 L492.1 231 L492.6 231 L493.1 231 L493.6 231 L494.1 231 L494.6 231 L495.1 231 L495.6 231 L496.1 231 L496.6 231 L497.1 231 L497.6 231 L498.1 231 L498.6 231 L499.1 231 L499.6 231 L500.1 231 L500.6 231 L501.1 231 L501.6 231 L502.1 231 L502.6 231 L503.1 231 L503.6 231 L504.1 231 L504.6 231 L505.1 231 L505.6 231 L506.1 231 L506.6 231 L507.1 231 L507.6 231 L508.1 231 L508.6 231 L509.1 231 L509.6 231 L510.1 231 L510.6 231 L511.1 231 L511.6 231 L512.1 231 L512.6 231 L513.1 231 L513.6 231 L514.1 231 L514.6 231 L515.1 231 L515.6 231 L516.1 231 L516.6 231 L517.1 231 L517.6 231 L518.1 231 L518.6 231 L519.1 231 L519.6 231 L520.1 230.9 L520.6 230.9 L521.1 230.7 L521.6 230.3 L522.1 229.6 L522.6 228.3 L523.1 226.3 L523.6 223.5 L524.1 219.9 L524.6 215.8 L525.1 211.7 L525.6 208.4 L526.1 206.3 L526.6 206.2 L527.1 207.8 L527.6 211 L528.1 215 L528.6 219.2 L529.1 222.9 L529.6 225.9 L530.1 228 L530.6 229.4 L531.1 230.2 L531.6 230.6 L532.1 230.8 L532.6 230.9 L533.1 231 L533.6 231 L534.1 231 L534.6 231 L535.1 231 L535.6 231 L536.1 231 L536.6 231 L537.1 231 L537.6 231 L538.1 231 L538.6 231 L539.1 231 L539.6 231 L540.1 231 L540.6 231 L541.1 231 L541.6 231 L542.1 231 L542.6 231 L543.1 231 L543.6 231 L544.1 231 L544.6 231 L545.1 231 L545.6 231 L546.1 231 L546.6 231 L547.1 231 L547.6 231 L548.1 231 L548.6 231 L549.1 231 L549.6 231 L550.1 231 L550.6 231 L551.1 231 L551.6 231 L552.1 231 L552.6 231 L553.1 231 L553.6 231 L554.1 231 L554.6 231 L555.1 231 L555.6 231 L556.1 231 L556.6 231 L557.1 231 L557.6 231 L558.1 231 L558.6 231 L559.1 231 L559.6 231 L560.1 231 L560.6 231" fill="none" stroke="#2c3596" stroke-width="1.3" stroke-linejoin="round" stroke-linecap="round"/>
<path d="M306.6 253.3 L307.1 253.3 L307.6 253.3 L308.1 253.3 L308.6 253.3 L309.1 253.3 L309.6 253.3 L310.1 253.3 L310.6 253.3 L311.1 253.3 L311.6 253.3 L312.1 253.3 L312.6 253.3 L313.1 253.3 L313.6 253.3 L314.1 253.3 L314.6 253.3 L315.1 253.3 L315.6 253.3 L316.1 253.3 L316.6 253.3 L317.1 253.3 L317.6 253.3 L318.1 253.3 L318.6 253.3 L319.1 253.3 L319.6 253.3 L320.1 253.3 L320.6 253.3 L321.1 253.3 L321.6 253.3 L322.1 253.3 L322.6 253.3 L323.1 253.3 L323.6 253.3 L324.1 253.3 L324.6 253.3 L325.1 253.3 L325.6 253.3 L326.1 253.3 L326.6 253.3 L327.1 253.3 L327.6 253.3 L328.1 253.3 L328.6 253.3 L329.1 253.3 L329.6 253.3 L330.1 253.3 L330.6 253.3 L331.1 253.3 L331.6 253.3 L332.1 253.3 L332.6 253.3 L333.1 253.3 L333.6 253.3 L334.1 253.3 L334.6 253.3 L335.1 253.3 L335.6 253.3 L336.1 253.3 L336.6 253.3 L337.1 253.3 L337.6 253.3 L338.1 253.3 L338.6 253.3 L339.1 253.3 L339.6 253.3 L340.1 253.3 L340.6 253.3 L341.1 253.3 L341.6 253.3 L342.1 253.3 L342.6 253.3 L343.1 253.3 L343.6 253.3 L344.1 253.3 L344.6 253.3 L345.1 253.3 L345.6 253.3 L346.1 253.3 L346.6 253.3 L347.1 253.3 L347.6 253.3 L348.1 253.3 L348.6 253.3 L349.1 253.3 L349.6 253.3 L350.1 253.3 L350.6 253.3 L351.1 253.3 L351.6 253.3 L352.1 253.3 L352.6 253.3 L353.1 253.3 L353.6 253.3 L354.1 253.3 L354.6 253.3 L355.1 253.3 L355.6 253.3 L356.1 253.3 L356.6 253.3 L357.1 253.3 L357.6 253.3 L358.1 253.3 L358.6 253.3 L359.1 253.3 L359.6 253.3 L360.1 253.3 L360.6 253.3 L361.1 253.3 L361.6 253.3 L362.1 253.3 L362.6 253.2 L363.1 253.2 L363.6 253 L364.1 252.6 L364.6 251.9 L365.1 250.8 L365.6 249.2 L366.1 247 L366.6 244.4 L367.1 241.9 L367.6 239.9 L368.1 238.8 L368.6 238.9 L369.1 240.2 L369.6 242.4 L370.1 245 L370.6 247.5 L371.1 249.5 L371.6 251.1 L372.1 252.1 L372.6 252.7 L373.1 253 L373.6 253.2 L374.1 253.3 L374.6 253.3 L375.1 253.3 L375.6 253.3 L376.1 253.3 L376.6 253.3 L377.1 253.3 L377.6 253.3 L378.1 253.3 L378.6 253.3 L379.1 253.3 L379.6 253.3 L380.1 253.3 L380.6 253.3 L381.1 253.3 L381.6 253.3 L382.1 253.3 L382.6 253.3 L383.1 253.3 L383.6 253.3 L384.1 253.3 L384.6 253.3 L385.1 253.3 L385.6 253.3 L386.1 253.3 L386.6 253.3 L387.1 253.3 L387.6 253.3 L388.1 253.3 L388.6 253.3 L389.1 253.3 L389.6 253.3 L390.1 253.3 L390.6 253.3 L391.1 253.3 L391.6 253.3 L392.1 253.3 L392.6 253.3 L393.1 253.3 L393.6 253.3 L394.1 253.3 L394.6 253.3 L395.1 253.3 L395.6 253.3 L396.1 253.3 L396.6 253.3 L397.1 253.3 L397.6 253.3 L398.1 253.3 L398.6 253.3 L399.1 253.3 L399.6 253.3 L400.1 253.3 L400.6 253.3 L401.1 253.3 L401.6 253.3 L402.1 253.3 L402.6 253.3 L403.1 253.3 L403.6 253.3 L404.1 253.3 L404.6 253.3 L405.1 253.3 L405.6 253.3 L406.1 253.3 L406.6 253.3 L407.1 253.3 L407.6 253.3 L408.1 253.3 L408.6 253.3 L409.1 253.3 L409.6 253.3 L410.1 253.3 L410.6 253.3 L411.1 253.3 L411.6 253.3 L412.1 253.3 L412.6 253.3 L413.1 253.3 L413.6 253.3 L414.1 253.3 L414.6 253.3 L415.1 253.3 L415.6 253.3 L416.1 253.3 L416.6 253.3 L417.1 253.3 L417.6 253.3 L418.1 253.3 L418.6 253.3 L419.1 253.3 L419.6 253.3 L420.1 253.3 L420.6 253.3 L421.1 253.3 L421.6 253.3 L422.1 253.3 L422.6 253.3 L423.1 253.3 L423.6 253.3 L424.1 253.3 L424.6 253.3 L425.1 253.3 L425.6 253.3 L426.1 253.3 L426.6 253.3 L427.1 253.3 L427.6 253.3 L428.1 253.3 L428.6 253.3 L429.1 253.3 L429.6 253.3 L430.1 253.3 L430.6 253.3 L431.1 253.3 L431.6 253.3 L432.1 253.3 L432.6 253.3 L433.1 253.3 L433.6 253.3 L434.1 253.3 L434.6 253.3 L435.1 253.3 L435.6 253.3 L436.1 253.3 L436.6 253.3 L437.1 253.3 L437.6 253.3 L438.1 253.3 L438.6 253.3 L439.1 253.3 L439.6 253.3 L440.1 253.3 L440.6 253.3 L441.1 253.3 L441.6 253.3 L442.1 253.3 L442.6 253.3 L443.1 253.3 L443.6 253.3 L444.1 253.3 L444.6 253.3 L445.1 253.3 L445.6 253.3 L446.1 253.3 L446.6 253.3 L447.1 253.3 L447.6 253.3 L448.1 253.3 L448.6 253.3 L449.1 253.3 L449.6 253.3 L450.1 253.3 L450.6 253.3 L451.1 253.3 L451.6 253.3 L452.1 253.3 L452.6 253.3 L453.1 253.3 L453.6 253.3 L454.1 253.3 L454.6 253.3 L455.1 253.3 L455.6 253.3 L456.1 253.3 L456.6 253.3 L457.1 253.3 L457.6 253.3 L458.1 253.3 L458.6 253.3 L459.1 253.3 L459.6 253.3 L460.1 253.3 L460.6 253.3 L461.1 253.3 L461.6 253.3 L462.1 253.3 L462.6 253.3 L463.1 253.3 L463.6 253.3 L464.1 253.3 L464.6 253.3 L465.1 253.3 L465.6 253.3 L466.1 253.3 L466.6 253.3 L467.1 253.3 L467.6 253.3 L468.1 253.3 L468.6 253.3 L469.1 253.3 L469.6 253.3 L470.1 253.3 L470.6 253.3 L471.1 253.3 L471.6 253.3 L472.1 253.3 L472.6 253.3 L473.1 253.3 L473.6 253.3 L474.1 253.3 L474.6 253.3 L475.1 253.3 L475.6 253.3 L476.1 253.3 L476.6 253.3 L477.1 253.3 L477.6 253.3 L478.1 253.3 L478.6 253.3 L479.1 253.3 L479.6 253.3 L480.1 253.3 L480.6 253.3 L481.1 253.3 L481.6 253.3 L482.1 253.3 L482.6 253.3 L483.1 253.3 L483.6 253.3 L484.1 253.3 L484.6 253.3 L485.1 253.3 L485.6 253.3 L486.1 253.3 L486.6 253.3 L487.1 253.3 L487.6 253.3 L488.1 253.3 L488.6 253.3 L489.1 253.3 L489.6 253.3 L490.1 253.3 L490.6 253.3 L491.1 253.3 L491.6 253.3 L492.1 253.3 L492.6 253.3 L493.1 253.3 L493.6 253.3 L494.1 253.3 L494.6 253.3 L495.1 253.3 L495.6 253.3 L496.1 253.3 L496.6 253.3 L497.1 253.3 L497.6 253.3 L498.1 253.3 L498.6 253.3 L499.1 253.3 L499.6 253.3 L500.1 253.3 L500.6 253.3 L501.1 253.3 L501.6 253.3 L502.1 253.3 L502.6 253.3 L503.1 253.3 L503.6 253.3 L504.1 253.3 L504.6 253.3 L505.1 253.3 L505.6 253.3 L506.1 253.3 L506.6 253.3 L507.1 253.3 L507.6 253.3 L508.1 253.3 L508.6 253.3 L509.1 253.3 L509.6 253.3 L510.1 253.3 L510.6 253.3 L511.1 253.3 L511.6 253.3 L512.1 253.3 L512.6 253.3 L513.1 253.3 L513.6 253.3 L514.1 253.3 L514.6 253.3 L515.1 253.3 L515.6 253.3 L516.1 253.3 L516.6 253.3 L517.1 253.3 L517.6 253.3 L518.1 253.3 L518.6 253.3 L519.1 253.3 L519.6 253.3 L520.1 253.3 L520.6 253.3 L521.1 253.3 L521.6 253.3 L522.1 253.3 L522.6 253.3 L523.1 253.3 L523.6 253.3 L524.1 253.3 L524.6 253.3 L525.1 253.3 L525.6 253.3 L526.1 253.3 L526.6 253.3 L527.1 253.3 L527.6 253.3 L528.1 253.3 L528.6 253.3 L529.1 253.3 L529.6 253.3 L530.1 253.3 L530.6 253.3 L531.1 253.3 L531.6 253.3 L532.1 253.3 L532.6 253.3 L533.1 253.3 L533.6 253.3 L534.1 253.3 L534.6 253.3 L535.1 253.3 L535.6 253.3 L536.1 253.3 L536.6 253.3 L537.1 253.2 L537.6 253 L538.1 252.7 L538.6 252.1 L539.1 251.1 L539.6 249.6 L540.1 247.7 L540.6 245.4 L541.1 243.2 L541.6 241.4 L542.1 240.4 L542.6 240.5 L543.1 241.7 L543.6 243.6 L544.1 245.9 L544.6 248.1 L545.1 250 L545.6 251.3 L546.1 252.2 L546.6 252.8 L547.1 253.1 L547.6 253.2 L548.1 253.3 L548.6 253.3 L549.1 253.3 L549.6 253.3 L550.1 253.3 L550.6 253.3 L551.1 253.3 L551.6 253.3 L552.1 253.3 L552.6 253.3 L553.1 253.3 L553.6 253.3 L554.1 253.3 L554.6 253.3 L555.1 253.3 L555.6 253.3 L556.1 253.3 L556.6 253.3 L557.1 253.3 L557.6 253.3 L558.1 253.3 L558.6 253.3 L559.1 253.3 L559.6 253.3 L560.1 253.3 L560.6 253.3" fill="none" stroke="#45b3c5" stroke-width="1.4" stroke-linejoin="round" stroke-linecap="round"/>
<path d="M307 278.5 H560.2" stroke="#7b2b9c" stroke-width="1.6" stroke-dasharray="6 3.5"/>
<path d="M307 283.1 H560.2" stroke="#7b2b9c" stroke-width="1.6" stroke-dasharray="6 3.5"/>
<path d="M307 280.8 H560.2" stroke="#444" stroke-width="0.6" stroke-dasharray="2 2"/>
<path d="M306.6 277.5 L307.8 277.5 L307.8 280.9 L309 280.9 L309 279.7 L310.2 279.7 L310.2 283.5 L311.4 283.5 L311.4 278.6 L312.6 278.6 L312.6 277.5 L313.8 277.5 L313.8 277.4 L315 277.4 L315 282.1 L316.2 282.1 L316.2 281.2 L317.4 281.2 L317.4 279.5 L318.6 279.5 L318.6 281 L319.8 281 L319.8 280 L321 280 L321 281.5 L322.2 281.5 L322.2 281.9 L323.4 281.9 L323.4 277.7 L324.6 277.7 L324.6 277.2 L325.8 277.2 L325.8 281.8 L327 281.8 L327 284 L328.2 284 L328.2 283.1 L329.4 283.1 L329.4 281 L330.6 281 L330.6 278.6 L331.8 278.6 L331.8 282.6 L333 282.6 L333 277.7 L334.2 277.7 L334.2 280.6 L335.4 280.6 L335.4 285.6 L336.6 285.6 L336.6 278.9 L337.8 278.9 L337.8 277.8 L339 277.8 L339 279.1 L340.2 279.1 L340.2 280.6 L341.4 280.6 L341.4 285.2 L342.6 285.2 L342.6 281.1 L343.8 281.1 L343.8 277.5 L345 277.5 L345 278 L346.2 278 L346.2 285 L347.4 285 L347.4 284.3 L348.6 284.3 L348.6 284 L349.8 284 L349.8 278.2 L351 278.2 L351 283.9 L352.2 283.9 L352.2 282.3 L353.4 282.3 L353.4 283.7 L354.6 283.7 L354.6 283.8 L355.8 283.8 L355.8 278.9 L357 278.9 L357 282.5 L358.2 282.5 L358.2 285.1 L359.4 285.1 L359.4 282.6 L360.6 282.6 L360.6 283.8 L361.8 283.8 L361.8 279.8 L363 279.8 L363 276.8 L364.2 276.8 L364.2 277 L365.4 277 L365.4 278.4 L366.6 278.4 L366.6 278.7 L367.8 278.7 L367.8 278.3 L369 278.3 L369 285.6 L370.2 285.6 L370.2 285.3 L371.4 285.3 L371.4 287.5 L372.6 287.5 L372.6 279.5 L373.8 279.5 L373.8 282 L375 282 L375 279.4 L376.2 279.4 L376.2 281.3 L377.4 281.3 L377.4 281 L378.6 281 L378.6 281.1 L379.8 281.1 L379.8 278.7 L381 278.7 L381 282.3 L382.2 282.3 L382.2 279.2 L383.4 279.2 L383.4 279.5 L384.6 279.5 L384.6 282.6 L385.8 282.6 L385.8 283.9 L387 283.9 L387 279.7 L388.2 279.7 L388.2 282 L389.4 282 L389.4 280.2 L390.6 280.2 L390.6 283.1 L391.8 283.1 L391.8 282.3 L393 282.3 L393 279.3 L394.2 279.3 L394.2 282 L395.4 282 L395.4 284 L396.6 284 L396.6 281.4 L397.8 281.4 L397.8 282 L399 282 L399 279.4 L400.2 279.4 L400.2 277.4 L401.4 277.4 L401.4 279.8 L402.6 279.8 L402.6 279 L403.8 279 L403.8 282.4 L405 282.4 L405 282.2 L406.2 282.2 L406.2 278.9 L407.4 278.9 L407.4 281.3 L408.6 281.3 L408.6 281.3 L409.8 281.3 L409.8 282.8 L411 282.8 L411 281.7 L412.2 281.7 L412.2 281.3 L413.4 281.3 L413.4 282.2 L414.6 282.2 L414.6 279.1 L415.8 279.1 L415.8 278.9 L417 278.9 L417 279.3 L418.2 279.3 L418.2 281.3 L419.4 281.3 L419.4 279.2 L420.6 279.2 L420.6 279.4 L421.8 279.4 L421.8 282.1 L423 282.1 L423 278.3 L424.2 278.3 L424.2 278.7 L425.4 278.7 L425.4 281.8 L426.6 281.8 L426.6 277 L427.8 277 L427.8 280 L429 280 L429 281.9 L430.2 281.9 L430.2 279.2 L431.4 279.2 L431.4 278.8 L432.6 278.8 L432.6 279.6 L433.8 279.6 L433.8 280.2 L435 280.2 L435 283.1 L436.2 283.1 L436.2 283.7 L437.4 283.7 L437.4 281.3 L438.6 281.3 L438.6 279.8 L439.8 279.8 L439.8 275.6 L441 275.6 L441 281.2 L442.2 281.2 L442.2 282.8 L443.4 282.8 L443.4 280.4 L444.6 280.4 L444.6 275 L445.8 275 L445.8 281.5 L447 281.5 L447 279.6 L448.2 279.6 L448.2 278.3 L449.4 278.3 L449.4 279.7 L450.6 279.7 L450.6 279.3 L451.8 279.3 L451.8 280.1 L453 280.1 L453 280.3 L454.2 280.3 L454.2 283.4 L455.4 283.4 L455.4 280.4 L456.6 280.4 L456.6 280.6 L457.8 280.6 L457.8 280.1 L459 280.1 L459 279.9 L460.2 279.9 L460.2 283.2 L461.4 283.2 L461.4 283.9 L462.6 283.9 L462.6 281.5 L463.8 281.5 L463.8 279.7 L465 279.7 L465 280.7 L466.2 280.7 L466.2 282.5 L467.4 282.5 L467.4 281.7 L468.6 281.7 L468.6 280 L469.8 280 L469.8 281.2 L471 281.2 L471 280.6 L472.2 280.6 L472.2 280.1 L473.4 280.1 L473.4 279.4 L474.6 279.4 L474.6 279 L475.8 279 L475.8 279.9 L477 279.9 L477 278.3 L478.2 278.3 L478.2 278.2 L479.4 278.2 L479.4 280.3 L480.6 280.3 L480.6 277.5 L481.8 277.5 L481.8 278.9 L483 278.9 L483 277.6 L484.2 277.6 L484.2 278.1 L485.4 278.1 L485.4 284.7 L486.6 284.7 L486.6 282.8 L487.8 282.8 L487.8 285.3 L489 285.3 L489 281 L490.2 281 L490.2 279.4 L491.4 279.4 L491.4 279.5 L492.6 279.5 L492.6 282.1 L493.8 282.1 L493.8 282.1 L495 282.1 L495 279.7 L496.2 279.7 L496.2 279.6 L497.4 279.6 L497.4 284.8 L498.6 284.8 L498.6 281.6 L499.8 281.6 L499.8 281.5 L501 281.5 L501 280.5 L502.2 280.5 L502.2 280.6 L503.4 280.6 L503.4 282 L504.6 282 L504.6 283.9 L505.8 283.9 L505.8 275.8 L507 275.8 L507 284.9 L508.2 284.9 L508.2 283.5 L509.4 283.5 L509.4 282.5 L510.6 282.5 L510.6 282.5 L511.8 282.5 L511.8 280.6 L513 280.6 L513 277.8 L514.2 277.8 L514.2 276.7 L515.4 276.7 L515.4 278.6 L516.6 278.6 L516.6 280.9 L517.8 280.9 L517.8 284.3 L519 284.3 L519 280.8 L520.2 280.8 L520.2 282.2 L521.4 282.2 L521.4 279.9 L522.6 279.9 L522.6 282.3 L523.8 282.3 L523.8 279.3 L525 279.3 L525 281.2 L526.2 281.2 L526.2 284 L527.4 284 L527.4 280.4 L528.6 280.4 L528.6 280.6 L529.8 280.6 L529.8 278.6 L531 278.6 L531 278.7 L532.2 278.7 L532.2 284.4 L533.4 284.4 L533.4 283 L534.6 283 L534.6 281.8 L535.8 281.8 L535.8 285 L537 285 L537 284.6 L538.2 284.6 L538.2 280.8 L539.4 280.8 L539.4 284.6 L540.6 284.6 L540.6 281.8 L541.8 281.8 L541.8 281 L543 281 L543 279.4 L544.2 279.4 L544.2 278.5 L545.4 278.5 L545.4 281.3 L546.6 281.3 L546.6 281.9 L547.8 281.9 L547.8 281.7 L549 281.7 L549 282.4 L550.2 282.4 L550.2 280.3 L551.4 280.3 L551.4 282.8 L552.6 282.8 L552.6 284.1 L553.8 284.1 L553.8 286.7 L555 286.7 L555 282.5 L556.2 282.5 L556.2 281.7 L557.4 281.7 L557.4 280.1 L558.6 280.1 L558.6 281.9 L559.8 281.9 L559.8 280.7 L560.6 280.7" fill="none" stroke="#111" stroke-width="1.25" stroke-linejoin="round" stroke-linecap="round"/>
</g>
<rect x="306" y="165.2" width="255.2" height="126.8" fill="none" stroke="#1a1a1a" stroke-width="1.25"/>
<path d="M306 235 h2.5 M561.2 235 h-2.5" stroke="#1a1a1a" stroke-width="1"/>
<path d="M306 223.9 h4.6 M561.2 223.9 h-4.6" stroke="#1a1a1a" stroke-width="1"/>
<path d="M306 212.8 h2.5 M561.2 212.8 h-2.5" stroke="#1a1a1a" stroke-width="1"/>
<path d="M306 201.7 h2.5 M561.2 201.7 h-2.5" stroke="#1a1a1a" stroke-width="1"/>
<path d="M306 190.7 h2.5 M561.2 190.7 h-2.5" stroke="#1a1a1a" stroke-width="1"/>
<path d="M306 179.6 h2.5 M561.2 179.6 h-2.5" stroke="#1a1a1a" stroke-width="1"/>
<path d="M306 168.5 h4.6 M561.2 168.5 h-4.6" stroke="#1a1a1a" stroke-width="1"/>
<text x="304.4" y="228.5" font-size="11" fill="#111" stroke="#111" stroke-width="0.3" text-anchor="end" font-weight="bold">0</text>
<text x="304.4" y="173.1" font-size="11" fill="#111" stroke="#111" stroke-width="0.3" text-anchor="end" font-weight="bold">500</text>
<path d="M306 281 h4.6 M561.2 281 h-4.6" stroke="#1a1a1a" stroke-width="1"/>
<path d="M306 269.7 h2.5 M561.2 269.7 h-2.5" stroke="#1a1a1a" stroke-width="1"/>
<path d="M306 258.4 h4.6 M561.2 258.4 h-4.6" stroke="#1a1a1a" stroke-width="1"/>
<path d="M306 247.1 h2.5 M561.2 247.1 h-2.5" stroke="#1a1a1a" stroke-width="1"/>
<text x="304.4" y="285.6" font-size="11" fill="#111" stroke="#111" stroke-width="0.3" text-anchor="end" font-weight="bold">0</text>
<text x="304.4" y="263" font-size="11" fill="#111" stroke="#111" stroke-width="0.3" text-anchor="end" font-weight="bold">25</text>
<path d="M304.4 239.6 l3.2 -1.6 M304.4 242.2 l3.2 -1.6" stroke="#1a1a1a" stroke-width="0.9"/>
<path d="M559.6 239.6 l3.2 -1.6 M559.6 242.2 l3.2 -1.6" stroke="#1a1a1a" stroke-width="0.9"/>
<path d="M559.3 292 v-2.2" stroke="#1a1a1a" stroke-width="0.9"/>
<path d="M554.6 292 v-2.2" stroke="#1a1a1a" stroke-width="0.9"/>
<path d="M550 292 v-2.2" stroke="#1a1a1a" stroke-width="0.9"/>
<path d="M545.3 292 v-2.2" stroke="#1a1a1a" stroke-width="0.9"/>
<path d="M540.7 292 v-2.2" stroke="#1a1a1a" stroke-width="0.9"/>
<path d="M536 292 v-2.2" stroke="#1a1a1a" stroke-width="0.9"/>
<path d="M531.4 292 v-2.2" stroke="#1a1a1a" stroke-width="0.9"/>
<path d="M526.8 292 v-2.2" stroke="#1a1a1a" stroke-width="0.9"/>
<path d="M522.1 292 v-2.2" stroke="#1a1a1a" stroke-width="0.9"/>
<path d="M517.5 292 v-2.2" stroke="#1a1a1a" stroke-width="0.9"/>
<path d="M512.8 292 v-2.2" stroke="#1a1a1a" stroke-width="0.9"/>
<path d="M508.2 292 v-2.2" stroke="#1a1a1a" stroke-width="0.9"/>
<path d="M503.5 292 v-2.2" stroke="#1a1a1a" stroke-width="0.9"/>
<path d="M498.9 292 v-2.2" stroke="#1a1a1a" stroke-width="0.9"/>
<path d="M494.2 292 v-2.2" stroke="#1a1a1a" stroke-width="0.9"/>
<path d="M489.6 292 v-2.2" stroke="#1a1a1a" stroke-width="0.9"/>
<path d="M484.9 292 v-2.2" stroke="#1a1a1a" stroke-width="0.9"/>
<path d="M480.3 292 v-2.2" stroke="#1a1a1a" stroke-width="0.9"/>
<path d="M475.7 292 v-2.2" stroke="#1a1a1a" stroke-width="0.9"/>
<path d="M471 292 v-2.2" stroke="#1a1a1a" stroke-width="0.9"/>
<path d="M466.4 292 v-2.2" stroke="#1a1a1a" stroke-width="0.9"/>
<path d="M461.7 292 v-2.2" stroke="#1a1a1a" stroke-width="0.9"/>
<path d="M457.1 292 v-2.2" stroke="#1a1a1a" stroke-width="0.9"/>
<path d="M452.4 292 v-2.2" stroke="#1a1a1a" stroke-width="0.9"/>
<path d="M447.8 292 v-2.2" stroke="#1a1a1a" stroke-width="0.9"/>
<path d="M443.1 292 v-2.2" stroke="#1a1a1a" stroke-width="0.9"/>
<path d="M438.5 292 v-2.2" stroke="#1a1a1a" stroke-width="0.9"/>
<path d="M433.9 292 v-2.2" stroke="#1a1a1a" stroke-width="0.9"/>
<path d="M429.2 292 v-2.2" stroke="#1a1a1a" stroke-width="0.9"/>
<path d="M424.6 292 v-2.2" stroke="#1a1a1a" stroke-width="0.9"/>
<path d="M419.9 292 v-2.2" stroke="#1a1a1a" stroke-width="0.9"/>
<path d="M415.3 292 v-2.2" stroke="#1a1a1a" stroke-width="0.9"/>
<path d="M410.6 292 v-2.2" stroke="#1a1a1a" stroke-width="0.9"/>
<path d="M406 292 v-2.2" stroke="#1a1a1a" stroke-width="0.9"/>
<path d="M401.3 292 v-2.2" stroke="#1a1a1a" stroke-width="0.9"/>
<path d="M396.7 292 v-2.2" stroke="#1a1a1a" stroke-width="0.9"/>
<path d="M392.1 292 v-2.2" stroke="#1a1a1a" stroke-width="0.9"/>
<path d="M387.4 292 v-2.2" stroke="#1a1a1a" stroke-width="0.9"/>
<path d="M382.8 292 v-2.2" stroke="#1a1a1a" stroke-width="0.9"/>
<path d="M378.1 292 v-2.2" stroke="#1a1a1a" stroke-width="0.9"/>
<path d="M373.5 292 v-2.2" stroke="#1a1a1a" stroke-width="0.9"/>
<path d="M368.8 292 v-2.2" stroke="#1a1a1a" stroke-width="0.9"/>
<path d="M364.2 292 v-2.2" stroke="#1a1a1a" stroke-width="0.9"/>
<path d="M359.5 292 v-2.2" stroke="#1a1a1a" stroke-width="0.9"/>
<path d="M354.9 292 v-2.2" stroke="#1a1a1a" stroke-width="0.9"/>
<path d="M350.2 292 v-2.2" stroke="#1a1a1a" stroke-width="0.9"/>
<path d="M345.6 292 v-2.2" stroke="#1a1a1a" stroke-width="0.9"/>
<path d="M341 292 v-2.2" stroke="#1a1a1a" stroke-width="0.9"/>
<path d="M336.3 292 v-2.2" stroke="#1a1a1a" stroke-width="0.9"/>
<path d="M331.7 292 v-2.2" stroke="#1a1a1a" stroke-width="0.9"/>
<path d="M327 292 v-2.2" stroke="#1a1a1a" stroke-width="0.9"/>
<path d="M322.4 292 v-2.2" stroke="#1a1a1a" stroke-width="0.9"/>
<path d="M317.7 292 v-2.2" stroke="#1a1a1a" stroke-width="0.9"/>
<path d="M313.1 292 v-2.2" stroke="#1a1a1a" stroke-width="0.9"/>
<path d="M308.4 292 v-2.2" stroke="#1a1a1a" stroke-width="0.9"/>
<path d="M554.6 292 v-3.2" stroke="#1a1a1a" stroke-width="0.9"/>
<path d="M508.2 292 v-3.2" stroke="#1a1a1a" stroke-width="0.9"/>
<path d="M461.7 292 v-3.2" stroke="#1a1a1a" stroke-width="0.9"/>
<path d="M415.3 292 v-3.2" stroke="#1a1a1a" stroke-width="0.9"/>
<path d="M368.8 292 v-3.2" stroke="#1a1a1a" stroke-width="0.9"/>
<path d="M322.4 292 v-3.2" stroke="#1a1a1a" stroke-width="0.9"/>
<path d="M531.4 292 v-4.6" stroke="#1a1a1a" stroke-width="1"/>
<path d="M484.9 292 v-4.6" stroke="#1a1a1a" stroke-width="1"/>
<path d="M438.5 292 v-4.6" stroke="#1a1a1a" stroke-width="1"/>
<path d="M392.1 292 v-4.6" stroke="#1a1a1a" stroke-width="1"/>
<path d="M345.6 292 v-4.6" stroke="#1a1a1a" stroke-width="1"/>
<text x="345.6" y="302.6" font-size="11" fill="#111" stroke="#111" stroke-width="0.3" text-anchor="middle" font-weight="bold">2155</text>
<text x="392.1" y="302.6" font-size="11" fill="#111" stroke="#111" stroke-width="0.3" text-anchor="middle" font-weight="bold">2154</text>
<text x="438.5" y="302.6" font-size="11" fill="#111" stroke="#111" stroke-width="0.3" text-anchor="middle" font-weight="bold">2153</text>
<text x="484.9" y="302.6" font-size="11" fill="#111" stroke="#111" stroke-width="0.3" text-anchor="middle" font-weight="bold">2152</text>
<text x="531.4" y="302.6" font-size="11" fill="#111" stroke="#111" stroke-width="0.3" text-anchor="middle" font-weight="bold">2151</text>
<path d="M339.5 165.2 v4.8" stroke="#1a1a1a" stroke-width="1"/>
<path d="M385.3 165.2 v4.8" stroke="#1a1a1a" stroke-width="1"/>
<path d="M491.8 165.2 v4.8" stroke="#1a1a1a" stroke-width="1"/>
<path d="M533.7 165.2 v4.8" stroke="#1a1a1a" stroke-width="1"/>
<text x="339.5" y="163.1" font-size="9.8" fill="#111" stroke="#111" stroke-width="0.3" text-anchor="middle" font-weight="bold">4.640</text>
<text x="385.3" y="163.1" font-size="9.8" fill="#111" stroke="#111" stroke-width="0.3" text-anchor="middle" font-weight="bold">4.642</text>
<text x="491.8" y="163.1" font-size="9.8" fill="#111" stroke="#111" stroke-width="0.3" text-anchor="middle" font-weight="bold">4.647</text>
<text x="533.7" y="163.1" font-size="9.8" fill="#111" stroke="#111" stroke-width="0.3" text-anchor="middle" font-weight="bold">4.649</text>
<text x="416" y="163.1" font-size="10.4" font-weight="bold" fill="#111" stroke="#111" stroke-width="0.2"><tspan font-family="Liberation Serif" font-weight="normal" font-size="11">&#955;</tspan> (<tspan font-family="Liberation Serif" font-weight="normal" font-size="11">&#956;</tspan>m)</text>
<text x="309.5" y="175.5" font-size="13" fill="#111" stroke="#111" stroke-width="0.3" text-anchor="start" font-weight="bold">d</text>
<text x="377.4" y="224" font-size="13" fill="#2c3596" stroke="#2c3596" stroke-width="0.3" text-anchor="start" font-weight="bold">H<tspan font-size="7.8" dy="4.3">2</tspan><tspan dy="-4.3">&#8203;</tspan>O model (x4)</text>
<text x="376.2" y="249.2" font-size="13" fill="#3f86d2" stroke="#3f86d2" stroke-width="0.3" text-anchor="start" font-weight="bold">CO model (x4)</text>
<text x="378" y="273.4" font-size="13" fill="#111" stroke="#111" stroke-width="0.3" text-anchor="start" font-weight="bold">residuals (x8)</text>
<g clip-path="url(#cpe)">
<path d="M29 339.8 L30.3 339.5 L31.6 340.3 L32.9 340 L34.2 340.7 L35.5 341.2 L36.8 340.6 L38.1 340.8 L39.4 340.1 L40.7 338.8 L42 339 L43.3 338.6 L44.6 337.6 L45.9 338.8 L47.2 338.8 L48.5 338.8 L49.8 337 L51.1 338.1 L52.4 337.4 L53.7 335.8 L55 335.6 L56.3 337.3 L57.6 338.4 L58.9 338.3 L60.2 340.6 L61.5 341.5 L62.8 341.6 L64.1 343.6 L65.4 345.5 L66.7 345.7 L68 345.8 L69.3 343.9 L70.6 342.8 L71.9 342.9 L73.2 341 L74.5 340.4 L75.8 339 L77.1 339.1 L78.4 339.2 L79.7 340.3 L81 340.3 L82.3 340.8 L83.6 340.7 L84.9 340.1 L86.2 340.8 L87.5 340.8 L88.8 339.6 L90.1 340.7 L91.4 339.9 L92.7 340.7 L94 341.9 L95.3 341.4 L96.6 342.2 L97.9 341.5 L99.2 340.8 L100.5 342.3 L101.8 341.5 L103.1 341.6 L104.4 340.7 L105.7 341.4 L107 341.8 L108.3 341.2 L109.6 340.9 L110.9 340.7 L112.2 339.4 L113.5 340.3 L114.8 340.4 L116.1 341.4 L117.4 341.7 L118.7 342.2 L120 342.7 L121.3 341.4 L122.6 340.9 L123.9 341.3 L125.2 339.2 L126.5 339.5 L127.8 339 L129.1 340.7 L130.4 342.2 L131.7 343.4 L133 342.1 L134.3 342 L135.6 341.8 L136.9 341.3 L138.2 340.6 L139.5 341.4 L140.8 339.8 L142.1 340.4 L143.4 342.9 L144.7 344 L146 345.2 L147.3 346.6 L148.6 346.5 L149.9 346.1 L151.2 344.5 L152.5 344.2 L153.8 342.4 L155.1 341.2 L156.4 340.6 L157.7 341.6 L159 340.2 L160.3 341.2 L161.6 340.9 L162.9 341.1 L164.2 340.2 L165.5 342 L166.8 341.2 L168.1 342.7 L169.4 342.9 L170.7 342.8 L172 343 L173.3 343.3 L174.6 343.2 L175.9 342.3 L177.2 342.9 L178.5 342 L179.8 342.4 L181.1 341.2 L182.4 340.9 L183.7 340.2 L185 339.1 L186.3 340.1 L187.6 340.6 L188.9 340.9 L190.2 342.7 L191.5 345.6 L192.8 346.3 L194.1 346.7 L195.4 345.8 L196.7 344.5 L198 343.9 L199.3 343.8 L200.6 342.7 L201.9 342.5 L203.2 342.9 L204.5 342.4 L205.8 341.8 L207.1 341.7 L208.4 341.7 L209.7 341.5 L211 340.5 L212.3 340.5 L213.6 340.9 L214.9 340.7 L216.2 341.3 L217.5 340.8 L218.8 340.2 L220.1 340.1 L221.4 339.6 L222.7 339.3 L224 339.6 L225.3 338.4 L226.6 337.9 L227.9 338 L229.2 338.2 L230.5 337.9 L231.8 338.5 L233.1 338.7 L234.4 338.7 L235.7 338.4 L237 338.7 L238.3 339.9 L239.6 340.9 L240.9 339.7 L242.2 340.2 L243.5 340.4 L244.8 340.9 L246.1 342 L247.4 343.3 L248.7 345.1 L250 343.1 L251.3 343 L252.6 342.2 L253.9 341.5 L255.2 341.5 L256.5 339.9 L257.8 339.1 L259.1 338.4 L260.4 337.4 L261.7 336.2 L263 336.6 L264.3 339.1 L265.6 339.6 L266.9 338.5 L268.2 339.7 L269.5 340.7 L270.8 339.7 L272.1 340.2 L273.4 340.4 L274.7 341.6 L276 340.7 L277.3 340.8 L278.6 340.7 L279.9 340.5 L281.2 340.8 L282.5 341.9" fill="none" stroke="#111" stroke-width="1.2" stroke-linejoin="round" stroke-linecap="round"/>
<path d="M29 339.1 L29.7 339 L30.4 339 L31.1 339 L31.8 339.1 L32.5 339.3 L33.2 339.5 L33.9 339.7 L34.6 339.8 L35.3 340 L36 340.1 L36.7 340.1 L37.4 340.1 L38.1 340 L38.8 339.8 L39.5 339.6 L40.2 339.4 L40.9 339.2 L41.6 339 L42.3 338.8 L43 338.7 L43.7 338.6 L44.4 338.6 L45.1 338.6 L45.8 338.6 L46.5 338.6 L47.2 338.5 L47.9 338.4 L48.6 338.3 L49.3 338.1 L50 337.8 L50.7 337.5 L51.4 337.3 L52.1 336.9 L52.8 336.5 L53.5 336.1 L54.2 335.7 L54.9 335.5 L55.6 335.8 L56.3 336.4 L57 337.2 L57.7 338 L58.4 338.6 L59.1 339.2 L59.8 339.7 L60.5 340.1 L61.2 340.6 L61.9 341 L62.6 341.5 L63.3 342.1 L64 343 L64.7 343.9 L65.4 344.8 L66.1 345.6 L66.8 346.1 L67.5 346.2 L68.2 345.9 L68.9 345.2 L69.6 344.3 L70.3 343.5 L71 342.9 L71.7 342.3 L72.4 341.6 L73.1 340.9 L73.8 340.4 L74.5 340 L75.2 339.7 L75.9 339.5 L76.6 339.4 L77.3 339.4 L78 339.4 L78.7 339.5 L79.4 339.7 L80.1 339.9 L80.8 340.1 L81.5 340.3 L82.2 340.5 L82.9 340.7 L83.6 340.8 L84.3 340.8 L85 340.8 L85.7 340.7 L86.4 340.6 L87.1 340.4 L87.8 340.3 L88.5 340.2 L89.2 340.1 L89.9 340.1 L90.6 340.2 L91.3 340.4 L92 340.6 L92.7 340.9 L93.4 341.1 L94.1 341.4 L94.8 341.6 L95.5 341.9 L96.2 342 L96.9 342.1 L97.6 342.1 L98.3 342 L99 341.9 L99.7 341.8 L100.4 341.7 L101.1 341.6 L101.8 341.5 L102.5 341.4 L103.2 341.4 L103.9 341.4 L104.6 341.4 L105.3 341.4 L106 341.5 L106.7 341.5 L107.4 341.5 L108.1 341.4 L108.8 341.3 L109.5 341.2 L110.2 341.1 L110.9 340.9 L111.6 340.8 L112.3 340.7 L113 340.6 L113.7 340.6 L114.4 340.7 L115.1 340.8 L115.8 341 L116.5 341.2 L117.2 341.4 L117.9 341.6 L118.6 341.8 L119.3 341.8 L120 341.8 L120.7 341.7 L121.4 341.5 L122.1 341.2 L122.8 340.9 L123.5 340.6 L124.2 340.4 L124.9 340.2 L125.6 340.1 L126.3 340.1 L127 340.2 L127.7 340.3 L128.4 340.5 L129.1 340.8 L129.8 341 L130.5 341.3 L131.2 341.5 L131.9 341.6 L132.6 341.7 L133.3 341.8 L134 341.8 L134.7 341.7 L135.4 341.5 L136.1 341.3 L136.8 341 L137.5 340.7 L138.2 340.5 L138.9 340.3 L139.6 340.3 L140.3 340.4 L141 340.7 L141.7 341.2 L142.4 341.9 L143.1 342.6 L143.8 343.5 L144.5 344.4 L145.2 345.2 L145.9 346 L146.6 346.7 L147.3 347.2 L148 347.4 L148.7 347.4 L149.4 347.1 L150.1 346.5 L150.8 345.7 L151.5 344.9 L152.2 344.1 L152.9 343.4 L153.6 342.2 L154.3 341.7 L155 341.6 L155.7 341.6 L156.4 341.6 L157.1 341.6 L157.8 341.6 L158.5 341.5 L159.2 341.4 L159.9 341.3 L160.6 341.3 L161.3 341.2 L162 341.3 L162.7 341.3 L163.4 341.5 L164.1 341.6 L164.8 341.8 L165.5 341.9 L166.2 342.1 L166.9 342.3 L167.6 342.4 L168.3 342.5 L169 342.5 L169.7 342.5 L170.4 342.4 L171.1 342.4 L171.8 342.3 L172.5 342.3 L173.2 342.3 L173.9 342.3 L174.6 342.3 L175.3 342.4 L176 342.5 L176.7 342.5 L177.4 342.5 L178.1 342.5 L178.8 342.5 L179.5 342.3 L180.2 342.1 L180.9 341.9 L181.6 341.7 L182.3 341.4 L183 341.1 L183.7 340.9 L184.4 340.7 L185.1 340.5 L185.8 340.5 L186.5 340.5 L187.2 340.7 L187.9 340.9 L188.6 341.3 L189.3 341.8 L190 342.4 L190.7 343.3 L191.4 344.3 L192.1 345.2 L192.8 345.9 L193.5 346.3 L194.2 346.3 L194.9 346.1 L195.6 345.7 L196.3 345.2 L197 344.6 L197.7 344.1 L198.4 343.7 L199.1 343.3 L199.8 343.1 L200.5 343 L201.2 342.9 L201.9 342.8 L202.6 342.7 L203.3 342.5 L204 342.3 L204.7 342.1 L205.4 341.8 L206.1 341.5 L206.8 341.2 L207.5 341 L208.2 340.8 L208.9 340.6 L209.6 340.5 L210.3 340.5 L211 340.5 L211.7 340.6 L212.4 340.7 L213.1 340.8 L213.8 340.9 L214.5 340.9 L215.2 340.9 L215.9 340.8 L216.6 340.7 L217.3 340.5 L218 340.3 L218.7 340 L219.4 339.8 L220.1 339.5 L220.8 339.4 L221.5 339.2 L222.2 339.1 L222.9 339 L223.6 339 L224.3 338.9 L225 338.7 L225.7 338.4 L226.4 338.1 L227.1 337.9 L227.8 337.9 L228.5 338 L229.2 338.2 L229.9 338.4 L230.6 338.6 L231.3 338.7 L232 338.8 L232.7 338.8 L233.4 338.9 L234.1 339 L234.8 339.2 L235.5 339.4 L236.2 339.6 L236.9 339.8 L237.6 340 L238.3 340.2 L239 340.3 L239.7 340.4 L240.4 340.5 L241.1 340.5 L241.8 340.4 L242.5 340.4 L243.2 340.4 L243.9 340.5 L244.6 340.7 L245.3 341 L246 341.5 L246.7 342.3 L247.4 343.1 L248.1 343.6 L248.8 343.7 L249.5 343.6 L250.2 343.2 L250.9 342.8 L251.6 342.4 L252.3 342.1 L253 341.8 L253.7 341.5 L254.4 341.2 L255.1 340.9 L255.8 340.6 L256.5 340.3 L257.2 339.9 L257.9 339.5 L258.6 339 L259.3 338.3 L260 337.6 L260.7 337 L261.4 336.7 L262.1 336.8 L262.8 337.3 L263.5 337.9 L264.2 338.5 L264.9 338.8 L265.6 339 L266.3 339 L267 339 L267.7 339 L268.4 339 L269.1 339.1 L269.8 339.2 L270.5 339.4 L271.2 339.6 L271.9 339.9 L272.6 340.2 L273.3 340.5 L274 340.7 L274.7 340.9 L275.4 341 L276.1 341 L276.8 341 L277.5 340.9 L278.2 340.8 L278.9 340.7 L279.6 340.6 L280.3 340.6 L281 340.6 L281.7 340.6 L282.4 340.7" fill="none" stroke="#bf1f2b" stroke-width="1.2" stroke-linejoin="round" stroke-linecap="round"/>
<path d="M29 339.1 L29.7 339 L30.4 339 L31.1 339 L31.8 339.1 L32.5 339.3 L33.2 339.5 L33.9 339.7 L34.6 339.8 L35.3 340 L36 340.1 L36.7 340.1 L37.4 340.1 L38.1 340 L38.8 339.8 L39.5 339.6 L40.2 339.4 L40.9 339.2 L41.6 339 L42.3 338.8 L43 338.7 L43.7 338.6 L44.4 338.6 L45.1 338.6 L45.8 338.6 L46.5 338.6 L47.2 338.5 L47.9 338.4 L48.6 338.3 L49.3 338.1 L50 337.8 L50.7 337.6 L51.4 337.3 L52.1 337.1 L52.8 336.9 L53.5 336.9 L54.2 336.9 L54.9 337 L55.6 337.2 L56.3 337.5 L57 337.9 L57.7 338.3 L58.4 338.8 L59.1 339.3 L59.8 339.7 L60.5 340.1 L61.2 340.6 L61.9 341 L62.6 341.5 L63.3 342.1 L64 343 L64.7 343.9 L65.4 344.8 L66.1 345.6 L66.8 346.1 L67.5 346.2 L68.2 345.9 L68.9 345.2 L69.6 344.3 L70.3 343.5 L71 342.9 L71.7 342.3 L72.4 341.6 L73.1 340.9 L73.8 340.4 L74.5 340 L75.2 339.7 L75.9 339.5 L76.6 339.4 L77.3 339.4 L78 339.4 L78.7 339.5 L79.4 339.7 L80.1 339.9 L80.8 340.1 L81.5 340.3 L82.2 340.5 L82.9 340.7 L83.6 340.8 L84.3 340.8 L85 340.8 L85.7 340.7 L86.4 340.6 L87.1 340.4 L87.8 340.3 L88.5 340.2 L89.2 340.1 L89.9 340.1 L90.6 340.2 L91.3 340.4 L92 340.6 L92.7 340.9 L93.4 341.1 L94.1 341.4 L94.8 341.6 L95.5 341.9 L96.2 342 L96.9 342.1 L97.6 342.1 L98.3 342 L99 341.9 L99.7 341.8 L100.4 341.7 L101.1 341.6 L101.8 341.5 L102.5 341.4 L103.2 341.4 L103.9 341.4 L104.6 341.4 L105.3 341.4 L106 341.5 L106.7 341.5 L107.4 341.5 L108.1 341.4 L108.8 341.3 L109.5 341.2 L110.2 341.1 L110.9 340.9 L111.6 340.8 L112.3 340.7 L113 340.6 L113.7 340.6 L114.4 340.7 L115.1 340.8 L115.8 341 L116.5 341.2 L117.2 341.4 L117.9 341.6 L118.6 341.8 L119.3 341.8 L120 341.8 L120.7 341.7 L121.4 341.5 L122.1 341.2 L122.8 340.9 L123.5 340.6 L124.2 340.4 L124.9 340.2 L125.6 340.1 L126.3 340.1 L127 340.2 L127.7 340.3 L128.4 340.5 L129.1 340.8 L129.8 341 L130.5 341.3 L131.2 341.5 L131.9 341.6 L132.6 341.7 L133.3 341.8 L134 341.8 L134.7 341.7 L135.4 341.5 L136.1 341.3 L136.8 341 L137.5 340.7 L138.2 340.5 L138.9 340.3 L139.6 340.3 L140.3 340.4 L141 340.7 L141.7 341.2 L142.4 341.9 L143.1 342.6 L143.8 343.5 L144.5 344.4 L145.2 345.2 L145.9 346 L146.6 346.7 L147.3 347.2 L148 347.4 L148.7 347.4 L149.4 347.1 L150.1 346.5 L150.8 345.7 L151.5 344.9 L152.2 344.1 L152.9 343.4 L153.6 342.2 L154.3 341.7 L155 341.6 L155.7 341.6 L156.4 341.6 L157.1 341.6 L157.8 341.6 L158.5 341.5 L159.2 341.4 L159.9 341.3 L160.6 341.3 L161.3 341.2 L162 341.3 L162.7 341.3 L163.4 341.5 L164.1 341.6 L164.8 341.8 L165.5 341.9 L166.2 342.1 L166.9 342.3 L167.6 342.4 L168.3 342.5 L169 342.5 L169.7 342.5 L170.4 342.4 L171.1 342.4 L171.8 342.3 L172.5 342.3 L173.2 342.3 L173.9 342.3 L174.6 342.3 L175.3 342.4 L176 342.5 L176.7 342.5 L177.4 342.5 L178.1 342.5 L178.8 342.5 L179.5 342.3 L180.2 342.1 L180.9 341.9 L181.6 341.7 L182.3 341.4 L183 341.1 L183.7 340.9 L184.4 340.7 L185.1 340.5 L185.8 340.5 L186.5 340.5 L187.2 340.7 L187.9 340.9 L188.6 341.3 L189.3 341.8 L190 342.4 L190.7 343.3 L191.4 344.3 L192.1 345.2 L192.8 345.9 L193.5 346.3 L194.2 346.3 L194.9 346.1 L195.6 345.7 L196.3 345.2 L197 344.6 L197.7 344.1 L198.4 343.7 L199.1 343.3 L199.8 343.1 L200.5 343 L201.2 342.9 L201.9 342.8 L202.6 342.7 L203.3 342.5 L204 342.3 L204.7 342.1 L205.4 341.8 L206.1 341.5 L206.8 341.2 L207.5 341 L208.2 340.8 L208.9 340.6 L209.6 340.5 L210.3 340.5 L211 340.5 L211.7 340.6 L212.4 340.7 L213.1 340.8 L213.8 340.9 L214.5 340.9 L215.2 340.9 L215.9 340.8 L216.6 340.7 L217.3 340.5 L218 340.3 L218.7 340 L219.4 339.8 L220.1 339.5 L220.8 339.4 L221.5 339.2 L222.2 339.1 L222.9 339.1 L223.6 339.1 L224.3 339.2 L225 339.2 L225.7 339.3 L226.4 339.3 L227.1 339.4 L227.8 339.3 L228.5 339.3 L229.2 339.2 L229.9 339.1 L230.6 339 L231.3 338.9 L232 338.8 L232.7 338.8 L233.4 338.9 L234.1 339 L234.8 339.2 L235.5 339.4 L236.2 339.6 L236.9 339.8 L237.6 340 L238.3 340.2 L239 340.3 L239.7 340.4 L240.4 340.5 L241.1 340.5 L241.8 340.4 L242.5 340.4 L243.2 340.4 L243.9 340.5 L244.6 340.7 L245.3 341 L246 341.5 L246.7 342.3 L247.4 343.1 L248.1 343.6 L248.8 343.7 L249.5 343.6 L250.2 343.2 L250.9 342.8 L251.6 342.4 L252.3 342.1 L253 341.8 L253.7 341.5 L254.4 341.2 L255.1 340.9 L255.8 340.6 L256.5 340.3 L257.2 340.1 L257.9 339.9 L258.6 339.8 L259.3 339.8 L260 339.7 L260.7 339.7 L261.4 339.7 L262.1 339.7 L262.8 339.6 L263.5 339.6 L264.2 339.5 L264.9 339.3 L265.6 339.2 L266.3 339.1 L267 339 L267.7 339 L268.4 339 L269.1 339.1 L269.8 339.2 L270.5 339.4 L271.2 339.6 L271.9 339.9 L272.6 340.2 L273.3 340.5 L274 340.7 L274.7 340.9 L275.4 341 L276.1 341 L276.8 341 L277.5 340.9 L278.2 340.8 L278.9 340.7 L279.6 340.6 L280.3 340.6 L281 340.6 L281.7 340.6 L282.4 340.7" fill="none" stroke="#ad9e2d" stroke-width="2.1" stroke-linejoin="round" stroke-linecap="round"/>
<path d="M29 374.8 L29.5 374.8 L30 374.8 L30.5 374.8 L31 374.8 L31.5 374.8 L32 374.8 L32.5 374.8 L33 374.8 L33.5 374.8 L34 374.8 L34.5 374.8 L35 374.8 L35.5 374.8 L36 374.8 L36.5 374.8 L37 374.8 L37.5 374.8 L38 374.8 L38.5 374.8 L39 374.8 L39.5 374.8 L40 374.8 L40.5 374.8 L41 374.8 L41.5 374.8 L42 374.8 L42.5 374.8 L43 374.8 L43.5 374.8 L44 374.8 L44.5 374.8 L45 374.8 L45.5 374.8 L46 374.8 L46.5 374.8 L47 374.8 L47.5 374.8 L48 374.8 L48.5 374.8 L49 374.8 L49.5 374.8 L50 374.8 L50.5 374.8 L51 374.8 L51.5 374.8 L52 374.8 L52.5 374.8 L53 374.8 L53.5 374.8 L54 374.8 L54.5 374.8 L55 374.8 L55.5 374.8 L56 374.8 L56.5 374.8 L57 374.8 L57.5 374.8 L58 374.8 L58.5 374.8 L59 374.8 L59.5 374.8 L60 374.8 L60.5 374.8 L61 374.8 L61.5 374.8 L62 374.8 L62.5 374.8 L63 374.8 L63.5 374.8 L64 374.8 L64.5 374.8 L65 374.8 L65.5 374.8 L66 374.8 L66.5 374.8 L67 374.8 L67.5 374.8 L68 374.8 L68.5 374.8 L69 374.8 L69.5 374.8 L70 374.8 L70.5 374.8 L71 374.8 L71.5 374.8 L72 374.8 L72.5 374.8 L73 374.8 L73.5 374.8 L74 374.8 L74.5 374.8 L75 374.8 L75.5 374.8 L76 374.8 L76.5 374.8 L77 374.8 L77.5 374.8 L78 374.8 L78.5 374.8 L79 374.8 L79.5 374.8 L80 374.8 L80.5 374.8 L81 374.8 L81.5 374.8 L82 374.8 L82.5 374.8 L83 374.8 L83.5 374.8 L84 374.8 L84.5 374.8 L85 374.8 L85.5 374.8 L86 374.8 L86.5 374.8 L87 374.8 L87.5 374.8 L88 374.8 L88.5 374.8 L89 374.8 L89.5 374.8 L90 374.8 L90.5 374.8 L91 374.8 L91.5 374.8 L92 374.8 L92.5 374.8 L93 374.8 L93.5 374.8 L94 374.8 L94.5 374.8 L95 374.8 L95.5 374.8 L96 374.8 L96.5 374.8 L97 374.8 L97.5 374.8 L98 374.8 L98.5 374.8 L99 374.8 L99.5 374.8 L100 374.8 L100.5 374.8 L101 374.7 L101.5 374.6 L102 374.4 L102.5 374.1 L103 373.6 L103.5 373 L104 372.4 L104.5 372 L105 371.8 L105.5 372 L106 372.4 L106.5 373 L107 373.5 L107.5 374 L108 374.2 L108.5 374.2 L109 374.1 L109.5 373.9 L110 373.6 L110.5 373.4 L111 373.3 L111.5 373.4 L112 373.6 L112.5 373.8 L113 374 L113.5 374.1 L114 374.1 L114.5 373.9 L115 373.6 L115.5 373.2 L116 372.6 L116.5 372.1 L117 371.6 L117.5 371.2 L118 371 L118.5 371 L119 371.2 L119.5 371.4 L120 371.7 L120.5 372 L121 372.2 L121.5 372.4 L122 372.5 L122.5 372.6 L123 372.6 L123.5 372.8 L124 372.9 L124.5 373.1 L125 373.3 L125.5 373.6 L126 373.8 L126.5 374 L127 374.2 L127.5 374.4 L128 374.5 L128.5 374.6 L129 374.7 L129.5 374.7 L130 374.8 L130.5 374.8 L131 374.8 L131.5 374.8 L132 374.8 L132.5 374.8 L133 374.8 L133.5 374.8 L134 374.8 L134.5 374.8 L135 374.8 L135.5 374.8 L136 374.8 L136.5 374.8 L137 374.8 L137.5 374.8 L138 374.8 L138.5 374.8 L139 374.8 L139.5 374.8 L140 374.8 L140.5 374.8 L141 374.8 L141.5 374.8 L142 374.8 L142.5 374.8 L143 374.8 L143.5 374.8 L144 374.8 L144.5 374.8 L145 374.8 L145.5 374.8 L146 374.8 L146.5 374.8 L147 374.8 L147.5 374.8 L148 374.8 L148.5 374.8 L149 374.8 L149.5 374.8 L150 374.8 L150.5 374.8 L151 374.8 L151.5 374.8 L152 374.8 L152.5 374.8 L153 374.8 L153.5 374.8 L154 374.8 L154.5 374.8 L155 374.8 L155.5 374.8 L156 374.8 L156.5 374.8 L157 374.8 L157.5 374.8 L158 374.8 L158.5 374.8 L159 374.8 L159.5 374.8 L160 374.8 L160.5 374.8 L161 374.8 L161.5 374.8 L162 374.8 L162.5 374.8 L163 374.8 L163.5 374.8 L164 374.8 L164.5 374.8 L165 374.8 L165.5 374.7 L166 374.7 L166.5 374.6 L167 374.5 L167.5 374.4 L168 374.3 L168.5 374.2 L169 374.1 L169.5 374 L170 374 L170.5 374 L171 374.1 L171.5 374.2 L172 374.3 L172.5 374.4 L173 374.5 L173.5 374.6 L174 374.7 L174.5 374.7 L175 374.8 L175.5 374.8 L176 374.8 L176.5 374.8 L177 374.8 L177.5 374.8 L178 374.8 L178.5 374.8 L179 374.8 L179.5 374.8 L180 374.8 L180.5 374.8 L181 374.8 L181.5 374.8 L182 374.8 L182.5 374.8 L183 374.8 L183.5 374.8 L184 374.8 L184.5 374.8 L185 374.8 L185.5 374.8 L186 374.8 L186.5 374.8 L187 374.8 L187.5 374.8 L188 374.8 L188.5 374.8 L189 374.8 L189.5 374.8 L190 374.8 L190.5 374.8 L191 374.8 L191.5 374.8 L192 374.8 L192.5 374.8 L193 374.8 L193.5 374.8 L194 374.8 L194.5 374.8 L195 374.8 L195.5 374.8 L196 374.8 L196.5 374.7 L197 374.6 L197.5 374.4 L198 374.2 L198.5 373.9 L199 373.6 L199.5 373.4 L200 373.3 L200.5 373.4 L201 373.6 L201.5 373.9 L202 374.2 L202.5 374.4 L203 374.6 L203.5 374.6 L204 374.6 L204.5 374.5 L205 374.3 L205.5 374.1 L206 373.8 L206.5 373.7 L207 373.6 L207.5 373.7 L208 373.8 L208.5 374.1 L209 374.3 L209.5 374.4 L210 374.5 L210.5 374.5 L211 374.4 L211.5 374.2 L212 374 L212.5 373.8 L213 373.8 L213.5 373.8 L214 373.8 L214.5 373.8 L215 373.8 L215.5 373.6 L216 373.5 L216.5 373.3 L217 373.2 L217.5 373.3 L218 373.4 L218.5 373.5 L219 373.6 L219.5 373.6 L220 373.5 L220.5 373.4 L221 373.4 L221.5 373.4 L222 373.6 L222.5 373.9 L223 374.1 L223.5 374.1 L224 374 L224.5 373.6 L225 372.9 L225.5 371.9 L226 370.7 L226.5 369.5 L227 368.4 L227.5 367.6 L228 367.3 L228.5 367.6 L229 368.4 L229.5 369.5 L230 370.8 L230.5 371.9 L231 372.9 L231.5 373.7 L232 374.2 L232.5 374.5 L233 374.6 L233.5 374.7 L234 374.8 L234.5 374.8 L235 374.8 L235.5 374.8 L236 374.8 L236.5 374.8 L237 374.8 L237.5 374.8 L238 374.8 L238.5 374.8 L239 374.8 L239.5 374.8 L240 374.8 L240.5 374.8 L241 374.8 L241.5 374.8 L242 374.8 L242.5 374.8 L243 374.8 L243.5 374.8 L244 374.8 L244.5 374.8 L245 374.8 L245.5 374.8 L246 374.8 L246.5 374.8 L247 374.8 L247.5 374.8 L248 374.8 L248.5 374.8 L249 374.8 L249.5 374.8 L250 374.8 L250.5 374.8 L251 374.8 L251.5 374.8 L252 374.8 L252.5 374.8 L253 374.8 L253.5 374.8 L254 374.8 L254.5 374.8 L255 374.7 L255.5 374.7 L256 374.5 L256.5 374.2 L257 373.6 L257.5 372.6 L258 371 L258.5 368.9 L259 366.2 L259.5 363 L260 359.8 L260.5 357 L261 355 L261.5 354.3 L262 355 L262.5 357 L263 359.8 L263.5 363 L264 366.2 L264.5 368.9 L265 371 L265.5 372.6 L266 373.6 L266.5 374.2 L267 374.5 L267.5 374.7 L268 374.7 L268.5 374.8 L269 374.8 L269.5 374.8 L270 374.8 L270.5 374.8 L271 374.8 L271.5 374.8 L272 374.8 L272.5 374.8 L273 374.8 L273.5 374.8 L274 374.8 L274.5 374.8 L275 374.8 L275.5 374.8 L276 374.8 L276.5 374.8 L277 374.8 L277.5 374.8 L278 374.8 L278.5 374.8 L279 374.8 L279.5 374.8 L280 374.8 L280.5 374.8 L281 374.8 L281.5 374.8 L282 374.8 L282.5 374.8" fill="none" stroke="#3f86d2" stroke-width="1.4" stroke-linejoin="round" stroke-linecap="round"/>
<path d="M29 395.2 L29.5 395.2 L30 395.2 L30.5 395.2 L31 395.2 L31.5 395.2 L32 395.2 L32.5 395.2 L33 395.2 L33.5 395.2 L34 395.2 L34.5 395.2 L35 395.2 L35.5 395.2 L36 395.2 L36.5 395.2 L37 395.2 L37.5 395.2 L38 395.1 L38.5 395.1 L39 394.9 L39.5 394.7 L40 394.4 L40.5 394 L41 393.5 L41.5 392.9 L42 392.3 L42.5 391.8 L43 391.5 L43.5 391.4 L44 391.6 L44.5 392 L45 392.5 L45.5 393.1 L46 393.7 L46.5 394.2 L47 394.6 L47.5 394.8 L48 395 L48.5 395.1 L49 395.1 L49.5 395.1 L50 395 L50.5 394.9 L51 394.5 L51.5 394 L52 393.2 L52.5 392 L53 390.4 L53.5 388.5 L54 386.6 L54.5 384.8 L55 383.5 L55.5 382.9 L56 383.2 L56.5 384.2 L57 385.8 L57.5 387.7 L58 389.7 L58.5 391.4 L59 392.7 L59.5 393.7 L60 394.4 L60.5 394.8 L61 395 L61.5 395.1 L62 395.2 L62.5 395.2 L63 395.2 L63.5 395.2 L64 395.2 L64.5 395.2 L65 395.2 L65.5 395.2 L66 395.2 L66.5 395.2 L67 395.2 L67.5 395.2 L68 395.2 L68.5 395.2 L69 395.2 L69.5 395.2 L70 395.2 L70.5 395.2 L71 395.2 L71.5 395.2 L72 395.2 L72.5 395.2 L73 395.2 L73.5 395.2 L74 395.2 L74.5 395.2 L75 395.2 L75.5 395.2 L76 395.2 L76.5 395.2 L77 395.2 L77.5 395.2 L78 395.2 L78.5 395.2 L79 395.2 L79.5 395.2 L80 395.2 L80.5 395.2 L81 395.2 L81.5 395.2 L82 395.2 L82.5 395.2 L83 395.2 L83.5 395.2 L84 395.2 L84.5 395.2 L85 395.2 L85.5 395.2 L86 395.2 L86.5 395.2 L87 395.2 L87.5 395.2 L88 395.2 L88.5 395.2 L89 395.2 L89.5 395.2 L90 395.2 L90.5 395.2 L91 395.2 L91.5 395.2 L92 395.2 L92.5 395.2 L93 395.2 L93.5 395.2 L94 395.2 L94.5 395.2 L95 395.2 L95.5 395.2 L96 395.2 L96.5 395.2 L97 395.2 L97.5 395.2 L98 395.2 L98.5 395.2 L99 395.2 L99.5 395.2 L100 395.2 L100.5 395.2 L101 395.2 L101.5 395.2 L102 395.2 L102.5 395.2 L103 395.2 L103.5 395.2 L104 395.2 L104.5 395.2 L105 395.2 L105.5 395.2 L106 395.2 L106.5 395.2 L107 395.2 L107.5 395.2 L108 395.2 L108.5 395.2 L109 395.2 L109.5 395.2 L110 395.2 L110.5 395.2 L111 395.2 L111.5 395.2 L112 395.2 L112.5 395.2 L113 395.2 L113.5 395.2 L114 395.2 L114.5 395.2 L115 395.2 L115.5 395.2 L116 395.2 L116.5 395.2 L117 395.2 L117.5 395.2 L118 395.2 L118.5 395.2 L119 395.2 L119.5 395.2 L120 395.2 L120.5 395.2 L121 395.1 L121.5 395.1 L122 395 L122.5 394.8 L123 394.5 L123.5 394.1 L124 393.6 L124.5 393 L125 392.4 L125.5 391.9 L126 391.5 L126.5 391.4 L127 391.5 L127.5 391.9 L128 392.4 L128.5 393 L129 393.6 L129.5 394.1 L130 394.5 L130.5 394.8 L131 395 L131.5 395.1 L132 395.1 L132.5 395.2 L133 395.2 L133.5 395.2 L134 395.2 L134.5 395.2 L135 395.2 L135.5 395.2 L136 395.2 L136.5 395.2 L137 395.2 L137.5 395.2 L138 395.2 L138.5 395.2 L139 395.2 L139.5 395.2 L140 395.2 L140.5 395.2 L141 395.2 L141.5 395.2 L142 395.2 L142.5 395.2 L143 395.2 L143.5 395.2 L144 395.2 L144.5 395.2 L145 395.2 L145.5 395.2 L146 395.2 L146.5 395.2 L147 395.2 L147.5 395.2 L148 395.2 L148.5 395.2 L149 395.2 L149.5 395.2 L150 395.2 L150.5 395.2 L151 395.2 L151.5 395.2 L152 395.2 L152.5 395.2 L153 395.2 L153.5 395.2 L154 395.2 L154.5 395.2 L155 395.2 L155.5 395.2 L156 395.2 L156.5 395.2 L157 395.2 L157.5 395.2 L158 395.2 L158.5 395.2 L159 395.2 L159.5 395.2 L160 395.2 L160.5 395.2 L161 395.2 L161.5 395.2 L162 395.2 L162.5 395.2 L163 395.2 L163.5 395.2 L164 395.2 L164.5 395.2 L165 395.2 L165.5 395.2 L166 395.2 L166.5 395.2 L167 395.2 L167.5 395.2 L168 395.2 L168.5 395.2 L169 395.2 L169.5 395.2 L170 395.2 L170.5 395.2 L171 395.2 L171.5 395.2 L172 395.2 L172.5 395.2 L173 395.2 L173.5 395.2 L174 395.2 L174.5 395.2 L175 395.2 L175.5 395.2 L176 395.2 L176.5 395.2 L177 395.2 L177.5 395.2 L178 395.2 L178.5 395.2 L179 395.2 L179.5 395.2 L180 395.2 L180.5 395.2 L181 395.2 L181.5 395.2 L182 395.2 L182.5 395.2 L183 395.2 L183.5 395.2 L184 395.2 L184.5 395.2 L185 395.2 L185.5 395.2 L186 395.2 L186.5 395.2 L187 395.2 L187.5 395.2 L188 395.2 L188.5 395.2 L189 395.2 L189.5 395.2 L190 395.2 L190.5 395.2 L191 395.2 L191.5 395.2 L192 395.2 L192.5 395.2 L193 395.2 L193.5 395.2 L194 395.2 L194.5 395.2 L195 395.2 L195.5 395.2 L196 395.2 L196.5 395.2 L197 395.2 L197.5 395.2 L198 395.2 L198.5 395.2 L199 395.2 L199.5 395.2 L200 395.2 L200.5 395.2 L201 395.2 L201.5 395.2 L202 395.2 L202.5 395.2 L203 395.2 L203.5 395.2 L204 395.2 L204.5 395.2 L205 395.2 L205.5 395.2 L206 395.2 L206.5 395.2 L207 395.2 L207.5 395.2 L208 395.2 L208.5 395.2 L209 395.2 L209.5 395.2 L210 395.2 L210.5 395.2 L211 395.2 L211.5 395.2 L212 395.2 L212.5 395.2 L213 395.2 L213.5 395.2 L214 395.2 L214.5 395.2 L215 395.2 L215.5 395.2 L216 395.2 L216.5 395.2 L217 395.2 L217.5 395.2 L218 395.2 L218.5 395.2 L219 395.2 L219.5 395.2 L220 395.2 L220.5 395.2 L221 395.2 L221.5 395.2 L222 395.2 L222.5 395.2 L223 395.2 L223.5 395.2 L224 395.2 L224.5 395.2 L225 395.2 L225.5 395.2 L226 395.2 L226.5 395.2 L227 395.2 L227.5 395.2 L228 395.2 L228.5 395.2 L229 395.2 L229.5 395.2 L230 395.2 L230.5 395.2 L231 395.2 L231.5 395.2 L232 395.2 L232.5 395.2 L233 395.2 L233.5 395.2 L234 395.2 L234.5 395.2 L235 395.2 L235.5 395.2 L236 395.2 L236.5 395.2 L237 395.2 L237.5 395.2 L238 395.2 L238.5 395.2 L239 395.2 L239.5 395.2 L240 395.2 L240.5 395.2 L241 395.2 L241.5 395.2 L242 395.2 L242.5 395.2 L243 395.2 L243.5 395.2 L244 395.2 L244.5 395.2 L245 395.2 L245.5 395.2 L246 395.2 L246.5 395.2 L247 395.2 L247.5 395.2 L248 395.2 L248.5 395.2 L249 395.2 L249.5 395.2 L250 395.2 L250.5 395.2 L251 395.2 L251.5 395.2 L252 395.2 L252.5 395.2 L253 395.2 L253.5 395.2 L254 395.2 L254.5 395.2 L255 395.2 L255.5 395.2 L256 395.2 L256.5 395.2 L257 395.2 L257.5 395.2 L258 395.2 L258.5 395.2 L259 395.2 L259.5 395.2 L260 395.2 L260.5 395.2 L261 395.2 L261.5 395.2 L262 395.2 L262.5 395.2 L263 395.2 L263.5 395.2 L264 395.2 L264.5 395.2 L265 395.2 L265.5 395.2 L266 395.2 L266.5 395.2 L267 395.2 L267.5 395.2 L268 395.2 L268.5 395.2 L269 395.2 L269.5 395.2 L270 395.2 L270.5 395.2 L271 395.2 L271.5 395.2 L272 395.2 L272.5 395.2 L273 395.2 L273.5 395.2 L274 395.2 L274.5 395.2 L275 395.2 L275.5 395.2 L276 395.2 L276.5 395.2 L277 395.2 L277.5 395.2 L278 395.2 L278.5 395.2 L279 395.2 L279.5 395.2 L280 395.2 L280.5 395.2 L281 395.2 L281.5 395.2 L282 395.2 L282.5 395.2" fill="none" stroke="#2c3596" stroke-width="1.4" stroke-linejoin="round" stroke-linecap="round"/>
<path d="M29.4 428.5 H282.4" stroke="#7b2b9c" stroke-width="1.6" stroke-dasharray="6 3.5"/>
<path d="M29.4 433.1 H282.4" stroke="#7b2b9c" stroke-width="1.6" stroke-dasharray="6 3.5"/>
<path d="M29.4 430.8 H282.4" stroke="#444" stroke-width="0.6" stroke-dasharray="2 2"/>
<path d="M29 427 L30.4 429.2 L31.8 426.7 L33.2 426 L34.6 428.9 L36 429.7 L37.4 430.3 L38.8 430.3 L40.2 432.7 L41.6 430.8 L43 432.2 L44.4 432.5 L45.8 434 L47.2 431.3 L48.6 432.2 L50 431.9 L51.4 433 L52.8 431.2 L54.2 434.7 L55.6 431.9 L57 432.4 L58.4 433.8 L59.8 432.3 L61.2 432.7 L62.6 433.9 L64 434.1 L65.4 431.9 L66.8 430.1 L68.2 429.8 L69.6 432.5 L71 431.3 L72.4 430.5 L73.8 428.3 L75.2 427.6 L76.6 430.9 L78 431.9 L79.4 429.5 L80.8 429 L82.2 429.4 L83.6 429.5 L85 428.3 L86.4 429.5 L87.8 429.9 L89.2 429.5 L90.6 429.5 L92 429.2 L93.4 431.9 L94.8 430.5 L96.2 430.1 L97.6 434.3 L99 432.4 L100.4 432.4 L101.8 432.9 L103.2 432.9 L104.6 432.4 L106 434.8 L107.4 433 L108.8 433 L110.2 433.2 L111.6 431.5 L113 433.6 L114.4 432.9 L115.8 431 L117.2 429.9 L118.6 432.3 L120 431.6 L121.4 433.2 L122.8 430.8 L124.2 428.4 L125.6 431 L127 430.2 L128.4 428.7 L129.8 429.7 L131.2 429.5 L132.6 432.3 L134 429.7 L135.4 430.8 L136.8 431.8 L138.2 432.8 L139.6 430.4 L141 432.2 L142.4 429.9 L143.8 429.1 L145.2 428.9 L146.6 429.3 L148 429.4 L149.4 427.3 L150.8 429.4 L152.2 428.5 L153.6 429.2 L155 426.3 L156.4 430.9 L157.8 429 L159.2 428.3 L160.6 425.8 L162 427.1 L163.4 431.5 L164.8 431.5 L166.2 431.1 L167.6 431.3 L169 429.8 L170.4 431 L171.8 434.6 L173.2 432.3 L174.6 431.5 L176 431.6 L177.4 432.9 L178.8 432 L180.2 434.2 L181.6 431.8 L183 428.5 L184.4 429.2 L185.8 428.5 L187.2 427.7 L188.6 430.1 L190 427.6 L191.4 430.4 L192.8 430.4 L194.2 432.9 L195.6 432.7 L197 433.5 L198.4 435.2 L199.8 432.1 L201.2 432.4 L202.6 431.4 L204 429.2 L205.4 430.3 L206.8 430.7 L208.2 432.4 L209.6 430.6 L211 430.6 L212.4 431.9 L213.8 431.3 L215.2 429.2 L216.6 427.5 L218 429.9 L219.4 430.5 L220.8 429.7 L222.2 428.8 L223.6 429.9 L225 432.5 L226.4 430.7 L227.8 431.2 L229.2 432.6 L230.6 434.1 L232 428.7 L233.4 434.3 L234.8 433.7 L236.2 434.8 L237.6 431.2 L239 431.6 L240.4 428 L241.8 426.7 L243.2 429 L244.6 429.3 L246 428.9 L247.4 429.3 L248.8 427.9 L250.2 432.5 L251.6 430.8 L253 431.2 L254.4 431.5 L255.8 432.3 L257.2 431.9 L258.6 429.4 L260 428.7 L261.4 432 L262.8 431.3 L264.2 430.1 L265.6 429 L267 430.6 L268.4 429.5 L269.8 428.7 L271.2 429.1 L272.6 431.6 L274 431.6 L275.4 434 L276.8 430.3 L278.2 432.7 L279.6 431.3 L281 429 L282.4 430.5" fill="none" stroke="#111" stroke-width="1.3" stroke-linejoin="round" stroke-linecap="round"/>
</g>
<rect x="28.4" y="319.2" width="255" height="127.6" fill="none" stroke="#1a1a1a" stroke-width="1.25"/>
<path d="M28.4 390.6 h4.6 M283.4 390.6 h-4.6" stroke="#1a1a1a" stroke-width="1"/>
<path d="M28.4 382.7 h2.5 M283.4 382.7 h-2.5" stroke="#1a1a1a" stroke-width="1"/>
<path d="M28.4 374.8 h2.5 M283.4 374.8 h-2.5" stroke="#1a1a1a" stroke-width="1"/>
<path d="M28.4 367 h2.5 M283.4 367 h-2.5" stroke="#1a1a1a" stroke-width="1"/>
<path d="M28.4 359.1 h2.5 M283.4 359.1 h-2.5" stroke="#1a1a1a" stroke-width="1"/>
<path d="M28.4 351.2 h4.6 M283.4 351.2 h-4.6" stroke="#1a1a1a" stroke-width="1"/>
<path d="M28.4 343.3 h2.5 M283.4 343.3 h-2.5" stroke="#1a1a1a" stroke-width="1"/>
<path d="M28.4 335.4 h2.5 M283.4 335.4 h-2.5" stroke="#1a1a1a" stroke-width="1"/>
<path d="M28.4 327.6 h2.5 M283.4 327.6 h-2.5" stroke="#1a1a1a" stroke-width="1"/>
<text x="26.8" y="395.2" font-size="11" fill="#111" stroke="#111" stroke-width="0.3" text-anchor="end" font-weight="bold">0</text>
<text x="26.8" y="355.8" font-size="11" fill="#111" stroke="#111" stroke-width="0.3" text-anchor="end" font-weight="bold">50</text>
<path d="M28.4 438.9 h2.5 M283.4 438.9 h-2.5" stroke="#1a1a1a" stroke-width="1"/>
<path d="M28.4 431 h4.6 M283.4 431 h-4.6" stroke="#1a1a1a" stroke-width="1"/>
<path d="M28.4 423.1 h2.5 M283.4 423.1 h-2.5" stroke="#1a1a1a" stroke-width="1"/>
<path d="M28.4 415.1 h4.6 M283.4 415.1 h-4.6" stroke="#1a1a1a" stroke-width="1"/>
<path d="M28.4 407.1 h2.5 M283.4 407.1 h-2.5" stroke="#1a1a1a" stroke-width="1"/>
<text x="26.8" y="435.6" font-size="11" fill="#111" stroke="#111" stroke-width="0.3" text-anchor="end" font-weight="bold">0</text>
<text x="26.8" y="419.7" font-size="11" fill="#111" stroke="#111" stroke-width="0.3" text-anchor="end" font-weight="bold">5</text>
<path d="M26.8 399.5 l3.2 -1.6 M26.8 402.1 l3.2 -1.6" stroke="#1a1a1a" stroke-width="0.9"/>
<path d="M281.8 399.5 l3.2 -1.6 M281.8 402.1 l3.2 -1.6" stroke="#1a1a1a" stroke-width="0.9"/>
<path d="M279.8 446.8 v-2.2" stroke="#1a1a1a" stroke-width="0.9"/>
<path d="M275.6 446.8 v-2.2" stroke="#1a1a1a" stroke-width="0.9"/>
<path d="M271.3 446.8 v-2.2" stroke="#1a1a1a" stroke-width="0.9"/>
<path d="M267 446.8 v-2.2" stroke="#1a1a1a" stroke-width="0.9"/>
<path d="M262.7 446.8 v-2.2" stroke="#1a1a1a" stroke-width="0.9"/>
<path d="M258.4 446.8 v-2.2" stroke="#1a1a1a" stroke-width="0.9"/>
<path d="M254.2 446.8 v-2.2" stroke="#1a1a1a" stroke-width="0.9"/>
<path d="M249.9 446.8 v-2.2" stroke="#1a1a1a" stroke-width="0.9"/>
<path d="M245.6 446.8 v-2.2" stroke="#1a1a1a" stroke-width="0.9"/>
<path d="M241.3 446.8 v-2.2" stroke="#1a1a1a" stroke-width="0.9"/>
<path d="M237 446.8 v-2.2" stroke="#1a1a1a" stroke-width="0.9"/>
<path d="M232.7 446.8 v-2.2" stroke="#1a1a1a" stroke-width="0.9"/>
<path d="M228.5 446.8 v-2.2" stroke="#1a1a1a" stroke-width="0.9"/>
<path d="M224.2 446.8 v-2.2" stroke="#1a1a1a" stroke-width="0.9"/>
<path d="M219.9 446.8 v-2.2" stroke="#1a1a1a" stroke-width="0.9"/>
<path d="M215.6 446.8 v-2.2" stroke="#1a1a1a" stroke-width="0.9"/>
<path d="M211.3 446.8 v-2.2" stroke="#1a1a1a" stroke-width="0.9"/>
<path d="M207.1 446.8 v-2.2" stroke="#1a1a1a" stroke-width="0.9"/>
<path d="M202.8 446.8 v-2.2" stroke="#1a1a1a" stroke-width="0.9"/>
<path d="M198.5 446.8 v-2.2" stroke="#1a1a1a" stroke-width="0.9"/>
<path d="M194.2 446.8 v-2.2" stroke="#1a1a1a" stroke-width="0.9"/>
<path d="M189.9 446.8 v-2.2" stroke="#1a1a1a" stroke-width="0.9"/>
<path d="M185.6 446.8 v-2.2" stroke="#1a1a1a" stroke-width="0.9"/>
<path d="M181.4 446.8 v-2.2" stroke="#1a1a1a" stroke-width="0.9"/>
<path d="M177.1 446.8 v-2.2" stroke="#1a1a1a" stroke-width="0.9"/>
<path d="M172.8 446.8 v-2.2" stroke="#1a1a1a" stroke-width="0.9"/>
<path d="M168.5 446.8 v-2.2" stroke="#1a1a1a" stroke-width="0.9"/>
<path d="M164.2 446.8 v-2.2" stroke="#1a1a1a" stroke-width="0.9"/>
<path d="M159.9 446.8 v-2.2" stroke="#1a1a1a" stroke-width="0.9"/>
<path d="M155.7 446.8 v-2.2" stroke="#1a1a1a" stroke-width="0.9"/>
<path d="M151.4 446.8 v-2.2" stroke="#1a1a1a" stroke-width="0.9"/>
<path d="M147.1 446.8 v-2.2" stroke="#1a1a1a" stroke-width="0.9"/>
<path d="M142.8 446.8 v-2.2" stroke="#1a1a1a" stroke-width="0.9"/>
<path d="M138.5 446.8 v-2.2" stroke="#1a1a1a" stroke-width="0.9"/>
<path d="M134.3 446.8 v-2.2" stroke="#1a1a1a" stroke-width="0.9"/>
<path d="M130 446.8 v-2.2" stroke="#1a1a1a" stroke-width="0.9"/>
<path d="M125.7 446.8 v-2.2" stroke="#1a1a1a" stroke-width="0.9"/>
<path d="M121.4 446.8 v-2.2" stroke="#1a1a1a" stroke-width="0.9"/>
<path d="M117.1 446.8 v-2.2" stroke="#1a1a1a" stroke-width="0.9"/>
<path d="M112.8 446.8 v-2.2" stroke="#1a1a1a" stroke-width="0.9"/>
<path d="M108.6 446.8 v-2.2" stroke="#1a1a1a" stroke-width="0.9"/>
<path d="M104.3 446.8 v-2.2" stroke="#1a1a1a" stroke-width="0.9"/>
<path d="M100 446.8 v-2.2" stroke="#1a1a1a" stroke-width="0.9"/>
<path d="M95.7 446.8 v-2.2" stroke="#1a1a1a" stroke-width="0.9"/>
<path d="M91.4 446.8 v-2.2" stroke="#1a1a1a" stroke-width="0.9"/>
<path d="M87.2 446.8 v-2.2" stroke="#1a1a1a" stroke-width="0.9"/>
<path d="M82.9 446.8 v-2.2" stroke="#1a1a1a" stroke-width="0.9"/>
<path d="M78.6 446.8 v-2.2" stroke="#1a1a1a" stroke-width="0.9"/>
<path d="M74.3 446.8 v-2.2" stroke="#1a1a1a" stroke-width="0.9"/>
<path d="M70 446.8 v-2.2" stroke="#1a1a1a" stroke-width="0.9"/>
<path d="M65.7 446.8 v-2.2" stroke="#1a1a1a" stroke-width="0.9"/>
<path d="M61.5 446.8 v-2.2" stroke="#1a1a1a" stroke-width="0.9"/>
<path d="M57.2 446.8 v-2.2" stroke="#1a1a1a" stroke-width="0.9"/>
<path d="M52.9 446.8 v-2.2" stroke="#1a1a1a" stroke-width="0.9"/>
<path d="M48.6 446.8 v-2.2" stroke="#1a1a1a" stroke-width="0.9"/>
<path d="M44.3 446.8 v-2.2" stroke="#1a1a1a" stroke-width="0.9"/>
<path d="M40.1 446.8 v-2.2" stroke="#1a1a1a" stroke-width="0.9"/>
<path d="M35.8 446.8 v-2.2" stroke="#1a1a1a" stroke-width="0.9"/>
<path d="M31.5 446.8 v-2.2" stroke="#1a1a1a" stroke-width="0.9"/>
<path d="M245.6 446.8 v-3.2" stroke="#1a1a1a" stroke-width="0.9"/>
<path d="M202.8 446.8 v-3.2" stroke="#1a1a1a" stroke-width="0.9"/>
<path d="M159.9 446.8 v-3.2" stroke="#1a1a1a" stroke-width="0.9"/>
<path d="M117.1 446.8 v-3.2" stroke="#1a1a1a" stroke-width="0.9"/>
<path d="M74.3 446.8 v-3.2" stroke="#1a1a1a" stroke-width="0.9"/>
<path d="M31.5 446.8 v-3.2" stroke="#1a1a1a" stroke-width="0.9"/>
<path d="M267 446.8 v-4.6" stroke="#1a1a1a" stroke-width="1"/>
<path d="M224.2 446.8 v-4.6" stroke="#1a1a1a" stroke-width="1"/>
<path d="M181.4 446.8 v-4.6" stroke="#1a1a1a" stroke-width="1"/>
<path d="M138.5 446.8 v-4.6" stroke="#1a1a1a" stroke-width="1"/>
<path d="M95.7 446.8 v-4.6" stroke="#1a1a1a" stroke-width="1"/>
<path d="M52.9 446.8 v-4.6" stroke="#1a1a1a" stroke-width="1"/>
<text x="52.9" y="457.4" font-size="11" fill="#111" stroke="#111" stroke-width="0.3" text-anchor="middle" font-weight="bold">2786</text>
<text x="95.7" y="457.4" font-size="11" fill="#111" stroke="#111" stroke-width="0.3" text-anchor="middle" font-weight="bold">2785</text>
<text x="138.5" y="457.4" font-size="11" fill="#111" stroke="#111" stroke-width="0.3" text-anchor="middle" font-weight="bold">2784</text>
<text x="181.4" y="457.4" font-size="11" fill="#111" stroke="#111" stroke-width="0.3" text-anchor="middle" font-weight="bold">2783</text>
<text x="224.2" y="457.4" font-size="11" fill="#111" stroke="#111" stroke-width="0.3" text-anchor="middle" font-weight="bold">2782</text>
<text x="267" y="457.4" font-size="11" fill="#111" stroke="#111" stroke-width="0.3" text-anchor="middle" font-weight="bold">2781</text>
<path d="M38.5 319.2 v4.8" stroke="#1a1a1a" stroke-width="1"/>
<path d="M108.4 319.2 v4.8" stroke="#1a1a1a" stroke-width="1"/>
<path d="M206.3 319.2 v4.8" stroke="#1a1a1a" stroke-width="1"/>
<path d="M270.4 319.2 v4.8" stroke="#1a1a1a" stroke-width="1"/>
<text x="39.3" y="317.1" font-size="9.8" fill="#111" stroke="#111" stroke-width="0.3" text-anchor="middle" font-weight="bold">3.589</text>
<text x="108.4" y="317.1" font-size="9.8" fill="#111" stroke="#111" stroke-width="0.3" text-anchor="middle" font-weight="bold">3.591</text>
<text x="206.3" y="317.1" font-size="9.8" fill="#111" stroke="#111" stroke-width="0.3" text-anchor="middle" font-weight="bold">3.594</text>
<text x="270.4" y="317.1" font-size="9.8" fill="#111" stroke="#111" stroke-width="0.3" text-anchor="middle" font-weight="bold">3.596</text>
<text x="137.4" y="317.1" font-size="10.4" font-weight="bold" fill="#111" stroke="#111" stroke-width="0.2"><tspan font-family="Liberation Serif" font-weight="normal" font-size="11">&#955;</tspan> (<tspan font-family="Liberation Serif" font-weight="normal" font-size="11">&#956;</tspan>m)</text>
<text x="31.5" y="330.5" font-size="13" fill="#111" stroke="#111" stroke-width="0.3" text-anchor="start" font-weight="bold">e</text>
<text x="105.5" y="365.4" font-size="13" fill="#3f86d2" stroke="#3f86d2" stroke-width="0.3" text-anchor="start" font-weight="bold">H<tspan font-size="7.8" dy="4.3">2</tspan><tspan dy="-4.3">&#8203;</tspan>CO model (x4)</text>
<text x="105.5" y="389.2" font-size="13" fill="#2c3596" stroke="#2c3596" stroke-width="0.3" text-anchor="start" font-weight="bold">OH model (x4)</text>
<text x="106.2" y="421" font-size="13" fill="#111" stroke="#111" stroke-width="0.3" text-anchor="start" font-weight="bold">residuals (x4)</text>
<g clip-path="url(#cpf)">
<path d="M308.6 342.4 L309.9 344.1 L311.2 344.9 L312.5 346.4 L313.8 348.4 L315.1 350.5 L316.4 351.4 L317.7 351.1 L319 351.5 L320.3 351.2 L321.6 349.8 L322.9 348.1 L324.2 346.4 L325.5 344 L326.8 342.2 L328.1 340.1 L329.4 340.2 L330.7 340.2 L332 339.3 L333.3 339.2 L334.6 340.9 L335.9 338.6 L337.2 339.3 L338.5 338 L339.8 336.9 L341.1 336.7 L342.4 336.1 L343.7 331.9 L345 327.3 L346.3 328.5 L347.6 333.5 L348.9 336.2 L350.2 336.6 L351.5 338 L352.8 337.9 L354.1 338.2 L355.4 336.5 L356.7 336.6 L358 337.2 L359.3 337 L360.6 336.8 L361.9 337.1 L363.2 338 L364.5 337.5 L365.8 336.9 L367.1 336.9 L368.4 337.5 L369.7 337.5 L371 338.2 L372.3 337.6 L373.6 337.7 L374.9 337.6 L376.2 336.6 L377.5 336.1 L378.8 336.5 L380.1 336.7 L381.4 337 L382.7 337.5 L384 337.9 L385.3 337.8 L386.6 337.8 L387.9 338.3 L389.2 338.1 L390.5 340.1 L391.8 341.2 L393.1 342.1 L394.4 345 L395.7 347.3 L397 348.1 L398.3 350.1 L399.6 349.7 L400.9 348 L402.2 346 L403.5 344.6 L404.8 344.1 L406.1 342.5 L407.4 341.2 L408.7 340.2 L410 340.3 L411.3 339.7 L412.6 339.6 L413.9 340.3 L415.2 340.6 L416.5 341.1 L417.8 341.3 L419.1 340.5 L420.4 340.2 L421.7 339.9 L423 339 L424.3 339.3 L425.6 339.1 L426.9 339.7 L428.2 339.6 L429.5 340.5 L430.8 340.4 L432.1 339.5 L433.4 339.7 L434.7 339.6 L436 340.8 L437.3 343.2 L438.6 344.9 L439.9 347.5 L441.2 348.4 L442.5 347.9 L443.8 347.3 L445.1 345.6 L446.4 344.8 L447.7 342.7 L449 342.7 L450.3 340.9 L451.6 339 L452.9 338.9 L454.2 338.3 L455.5 337.8 L456.8 339.8 L458.1 341 L459.4 340.8 L460.7 339.8 L462 338.5 L463.3 338 L464.6 337.5 L465.9 337.8 L467.2 337.1 L468.5 337.5 L469.8 339 L471.1 338.6 L472.4 338.3 L473.7 336.7 L475 336.2 L476.3 336.3 L477.6 339.3 L478.9 340.5 L480.2 339.6 L481.5 340.3 L482.8 341.1 L484.1 342.2 L485.4 344 L486.7 345.8 L488 348.4 L489.3 348.8 L490.6 346.7 L491.9 344.1 L493.2 342 L494.5 340.5 L495.8 339.9 L497.1 340.2 L498.4 340.4 L499.7 339.7 L501 339.9 L502.3 339.2 L503.6 338.6 L504.9 339.3 L506.2 339.1 L507.5 340.1 L508.8 339.8 L510.1 340.8 L511.4 340 L512.7 339.1 L514 338.9 L515.3 338.1 L516.6 337.2 L517.9 336 L519.2 336.7 L520.5 336 L521.8 336.4 L523.1 336.2 L524.4 337.8 L525.7 338 L527 338.1 L528.3 338.9 L529.6 339.4 L530.9 339.6 L532.2 339.4 L533.5 340.8 L534.8 340.1 L536.1 340 L537.4 341 L538.7 340 L540 339 L541.3 339.5 L542.6 339.2 L543.9 340.1 L545.2 341.3 L546.5 343.6 L547.8 344.2 L549.1 342.7 L550.4 342 L551.7 341.3 L553 340.5 L554.3 340.4 L555.6 339.9 L556.9 339.1 L558.2 339.7 L559.5 339.4 L560.8 340.2" fill="none" stroke="#111" stroke-width="1.2" stroke-linejoin="round" stroke-linecap="round"/>
<path d="M308.6 342.8 L309.3 343.4 L310 344 L310.7 344.7 L311.4 345.4 L312.1 346.1 L312.8 347.1 L313.5 348 L314.2 349 L314.9 349.9 L315.6 350.6 L316.3 351.2 L317 351.6 L317.7 351.7 L318.4 351.5 L319.1 351.1 L319.8 350.6 L320.5 349.9 L321.2 349.2 L321.9 348.5 L322.6 347.7 L323.3 347 L324 346.2 L324.7 345.4 L325.4 344.4 L326.1 343.5 L326.8 342.7 L327.5 341.9 L328.2 341.2 L328.9 340.7 L329.6 340.3 L330.3 340 L331 339.8 L331.7 339.7 L332.4 339.6 L333.1 339.6 L333.8 339.5 L334.5 339.4 L335.2 339.3 L335.9 339.1 L336.6 338.9 L337.3 338.7 L338 338.5 L338.7 338.2 L339.4 338 L340.1 337.8 L340.8 337.5 L341.5 337.1 L342.2 336.3 L342.9 334.8 L343.6 332.5 L344.3 329.9 L345 328 L345.7 327.6 L346.4 329 L347.1 331.4 L347.8 333.9 L348.5 335.7 L349.2 336.6 L349.9 337 L350.6 337 L351.3 337 L352 337 L352.7 337 L353.4 337 L354.1 337.1 L354.8 337.2 L355.5 337.3 L356.2 337.4 L356.9 337.4 L357.6 337.5 L358.3 337.5 L359 337.5 L359.7 337.4 L360.4 337.3 L361.1 337.2 L361.8 337.1 L362.5 337 L363.2 336.9 L363.9 336.9 L364.6 336.9 L365.3 337 L366 337.1 L366.7 337.2 L367.4 337.4 L368.1 337.6 L368.8 337.7 L369.5 337.9 L370.2 338 L370.9 338 L371.6 338 L372.3 338 L373 337.9 L373.7 337.7 L374.4 337.6 L375.1 337.5 L375.8 337.3 L376.5 337.3 L377.2 337.2 L377.9 337.2 L378.6 337.2 L379.3 337.2 L380 337.3 L380.7 337.3 L381.4 337.3 L382.1 337.4 L382.8 337.3 L383.5 337.3 L384.2 337.3 L384.9 337.3 L385.6 337.3 L386.3 337.4 L387 337.5 L387.7 337.7 L388.4 338 L389.1 338.5 L389.8 339.1 L390.5 339.8 L391.2 340.7 L391.9 341.6 L392.6 342.6 L393.3 343.5 L394 344.6 L394.7 345.8 L395.4 347.2 L396.1 348.5 L396.8 349.7 L397.5 350.4 L398.2 350.6 L398.9 350.3 L399.6 349.6 L400.3 348.7 L401 347.7 L401.7 346.7 L402.4 345.8 L403.1 345.1 L403.8 344.5 L404.5 343.8 L405.2 343.1 L405.9 342.5 L406.6 341.9 L407.3 341.5 L408 341.1 L408.7 340.8 L409.4 340.5 L410.1 340.3 L410.8 340.2 L411.5 340.1 L412.2 340.1 L412.9 340.1 L413.6 340.2 L414.3 340.3 L415 340.4 L415.7 340.5 L416.4 340.7 L417.1 340.7 L417.8 340.8 L418.5 340.8 L419.2 340.7 L419.9 340.6 L420.6 340.4 L421.3 340.2 L422 339.9 L422.7 339.6 L423.4 339.2 L424.1 338.9 L424.8 338.7 L425.5 338.6 L426.2 338.7 L426.9 338.9 L427.6 339.1 L428.3 339.5 L429 339.8 L429.7 340.1 L430.4 340.3 L431.1 340.3 L431.8 340.1 L432.5 339.9 L433.2 339.7 L433.9 339.8 L434.6 340.2 L435.3 340.9 L436 341.7 L436.7 342.7 L437.4 343.6 L438.1 344.8 L438.8 346.3 L439.5 347.5 L440.2 348.3 L440.9 348.5 L441.6 348.3 L442.3 347.9 L443 347.3 L443.7 346.6 L444.4 345.9 L445.1 345.1 L445.8 344.4 L446.5 343.7 L447.2 343.1 L447.9 342.4 L448.6 341.8 L449.3 341.3 L450 340.7 L450.7 340.3 L451.4 339.9 L452.1 339.6 L452.8 339.3 L453.5 338.9 L454.2 338.5 L454.9 338.3 L455.6 338.3 L456.3 338.8 L457 339.4 L457.7 340.1 L458.4 340.8 L459.1 341.2 L459.8 341.2 L460.5 341 L461.2 340.5 L461.9 339.9 L462.6 339.4 L463.3 338.9 L464 338.5 L464.7 338.2 L465.4 338 L466.1 337.7 L466.8 337.3 L467.5 337.1 L468.2 337.3 L468.9 337.9 L469.6 338.5 L470.3 338.8 L471 338.9 L471.7 338.7 L472.4 338.3 L473.1 337.9 L473.8 337.2 L474.5 336.4 L475.2 336 L475.9 336.3 L476.6 337.2 L477.3 338.3 L478 339.2 L478.7 339.7 L479.4 339.9 L480.1 340 L480.8 340 L481.5 340.2 L482.2 340.5 L482.9 340.9 L483.6 341.4 L484.3 342 L485 342.8 L485.7 343.7 L486.4 345 L487.1 346.8 L487.8 348.3 L488.5 348.8 L489.2 348.4 L489.9 347.3 L490.6 346 L491.3 344.9 L492 344 L492.7 343.1 L493.4 342.2 L494.1 341.4 L494.8 340.8 L495.5 340.2 L496.2 339.9 L496.9 339.6 L497.6 339.4 L498.3 339.4 L499 339.3 L499.7 339.4 L500.4 339.4 L501.1 339.4 L501.8 339.4 L502.5 339.4 L503.2 339.3 L503.9 339.2 L504.6 339.2 L505.3 339.1 L506 339 L506.7 339 L507.4 338.9 L508.1 338.9 L508.8 339 L509.5 339 L510.2 339.1 L510.9 339.1 L511.6 339.1 L512.3 339.1 L513 339 L513.7 338.9 L514.4 338.7 L515.1 338.5 L515.8 338.3 L516.5 338 L517.2 337.7 L517.9 337.3 L518.6 336.9 L519.3 336.6 L520 336.2 L520.7 335.9 L521.4 335.8 L522.1 335.9 L522.8 336.3 L523.5 336.9 L524.2 337.5 L524.9 338.2 L525.6 338.7 L526.3 339.1 L527 339.5 L527.7 339.7 L528.4 339.8 L529.1 339.9 L529.8 340 L530.5 340 L531.2 340 L531.9 340.1 L532.6 340.2 L533.3 340.3 L534 340.3 L534.7 340.4 L535.4 340.5 L536.1 340.6 L536.8 340.6 L537.5 340.5 L538.2 340.3 L538.9 340.1 L539.6 339.9 L540.3 339.7 L541 339.5 L541.7 339.4 L542.4 339.4 L543.1 339.6 L543.8 340.1 L544.5 340.8 L545.2 341.7 L545.9 342.6 L546.6 343.4 L547.3 343.8 L548 343.7 L548.7 343.3 L549.4 342.6 L550.1 341.9 L550.8 341.3 L551.5 340.9 L552.2 340.6 L552.9 340.3 L553.6 340.1 L554.3 339.9 L555 339.7 L555.7 339.6 L556.4 339.6 L557.1 339.6 L557.8 339.6 L558.5 339.7 L559.2 339.8 L559.9 339.9 L560.6 339.9 L561.3 340" fill="none" stroke="#bf1f2b" stroke-width="1.2" stroke-linejoin="round" stroke-linecap="round"/>
<path d="M308.6 342.8 L309.3 343.4 L310 344 L310.7 344.7 L311.4 345.4 L312.1 346.1 L312.8 347.1 L313.5 348 L314.2 349 L314.9 349.9 L315.6 350.6 L316.3 351.2 L317 351.6 L317.7 351.7 L318.4 351.5 L319.1 351.1 L319.8 350.6 L320.5 349.9 L321.2 349.2 L321.9 348.5 L322.6 347.7 L323.3 347 L324 346.2 L324.7 345.4 L325.4 344.4 L326.1 343.5 L326.8 342.7 L327.5 341.9 L328.2 341.2 L328.9 340.7 L329.6 340.3 L330.3 340 L331 339.8 L331.7 339.7 L332.4 339.6 L333.1 339.6 L333.8 339.5 L334.5 339.4 L335.2 339.3 L335.9 339.1 L336.6 338.9 L337.3 338.7 L338 338.5 L338.7 338.2 L339.4 338 L340.1 337.8 L340.8 337.6 L341.5 337.5 L342.2 337.5 L342.9 337.4 L343.6 337.5 L344.3 337.5 L345 337.5 L345.7 337.5 L346.4 337.5 L347.1 337.5 L347.8 337.5 L348.5 337.4 L349.2 337.3 L349.9 337.2 L350.6 337.1 L351.3 337 L352 337 L352.7 337 L353.4 337 L354.1 337.1 L354.8 337.2 L355.5 337.3 L356.2 337.4 L356.9 337.4 L357.6 337.5 L358.3 337.5 L359 337.5 L359.7 337.4 L360.4 337.3 L361.1 337.2 L361.8 337.1 L362.5 337 L363.2 336.9 L363.9 336.9 L364.6 336.9 L365.3 337 L366 337.1 L366.7 337.2 L367.4 337.4 L368.1 337.6 L368.8 337.7 L369.5 337.9 L370.2 338 L370.9 338 L371.6 338 L372.3 338 L373 337.9 L373.7 337.7 L374.4 337.6 L375.1 337.5 L375.8 337.3 L376.5 337.3 L377.2 337.2 L377.9 337.2 L378.6 337.2 L379.3 337.2 L380 337.3 L380.7 337.3 L381.4 337.3 L382.1 337.4 L382.8 337.3 L383.5 337.3 L384.2 337.3 L384.9 337.3 L385.6 337.3 L386.3 337.4 L387 337.5 L387.7 337.7 L388.4 338 L389.1 338.5 L389.8 339.1 L390.5 339.8 L391.2 340.7 L391.9 341.6 L392.6 342.6 L393.3 343.5 L394 344.6 L394.7 345.8 L395.4 347.2 L396.1 348.5 L396.8 349.7 L397.5 350.4 L398.2 350.6 L398.9 350.3 L399.6 349.6 L400.3 348.7 L401 347.7 L401.7 346.7 L402.4 345.8 L403.1 345.1 L403.8 344.5 L404.5 343.8 L405.2 343.1 L405.9 342.5 L406.6 341.9 L407.3 341.5 L408 341.1 L408.7 340.8 L409.4 340.5 L410.1 340.3 L410.8 340.2 L411.5 340.1 L412.2 340.1 L412.9 340.1 L413.6 340.2 L414.3 340.3 L415 340.4 L415.7 340.5 L416.4 340.7 L417.1 340.7 L417.8 340.8 L418.5 340.8 L419.2 340.7 L419.9 340.6 L420.6 340.4 L421.3 340.2 L422 339.9 L422.7 339.6 L423.4 339.2 L424.1 338.9 L424.8 338.7 L425.5 338.6 L426.2 338.7 L426.9 338.9 L427.6 339.1 L428.3 339.5 L429 339.8 L429.7 340.1 L430.4 340.3 L431.1 340.3 L431.8 340.1 L432.5 339.9 L433.2 339.7 L433.9 339.8 L434.6 340.2 L435.3 340.9 L436 341.7 L436.7 342.7 L437.4 343.6 L438.1 344.8 L438.8 346.3 L439.5 347.5 L440.2 348.3 L440.9 348.5 L441.6 348.3 L442.3 347.9 L443 347.3 L443.7 346.6 L444.4 345.9 L445.1 345.1 L445.8 344.4 L446.5 343.7 L447.2 343.1 L447.9 342.4 L448.6 341.8 L449.3 341.3 L450 340.7 L450.7 340.3 L451.4 340 L452.1 339.7 L452.8 339.7 L453.5 339.8 L454.2 339.9 L454.9 340.1 L455.6 340.3 L456.3 340.5 L457 340.6 L457.7 340.8 L458.4 341.1 L459.1 341.3 L459.8 341.3 L460.5 341 L461.2 340.5 L461.9 339.9 L462.6 339.4 L463.3 338.9 L464 338.5 L464.7 338.4 L465.4 338.5 L466.1 338.8 L466.8 339.1 L467.5 339.5 L468.2 339.8 L468.9 339.9 L469.6 339.9 L470.3 339.6 L471 339.2 L471.7 338.9 L472.4 338.8 L473.1 338.8 L473.8 339 L474.5 339.2 L475.2 339.5 L475.9 339.7 L476.6 339.9 L477.3 340 L478 340.1 L478.7 340.1 L479.4 340 L480.1 340 L480.8 340.1 L481.5 340.2 L482.2 340.5 L482.9 340.9 L483.6 341.4 L484.3 342 L485 342.8 L485.7 343.7 L486.4 345 L487.1 346.8 L487.8 348.3 L488.5 348.8 L489.2 348.4 L489.9 347.3 L490.6 346 L491.3 344.9 L492 344 L492.7 343.1 L493.4 342.2 L494.1 341.4 L494.8 340.8 L495.5 340.2 L496.2 339.9 L496.9 339.6 L497.6 339.4 L498.3 339.4 L499 339.3 L499.7 339.4 L500.4 339.4 L501.1 339.4 L501.8 339.4 L502.5 339.4 L503.2 339.3 L503.9 339.2 L504.6 339.2 L505.3 339.1 L506 339 L506.7 339 L507.4 338.9 L508.1 338.9 L508.8 339 L509.5 339 L510.2 339.1 L510.9 339.1 L511.6 339.1 L512.3 339.1 L513 339 L513.7 338.9 L514.4 338.7 L515.1 338.5 L515.8 338.3 L516.5 338 L517.2 337.7 L517.9 337.5 L518.6 337.3 L519.3 337.2 L520 337.1 L520.7 337.1 L521.4 337.2 L522.1 337.4 L522.8 337.7 L523.5 338 L524.2 338.3 L524.9 338.7 L525.6 339 L526.3 339.3 L527 339.5 L527.7 339.7 L528.4 339.8 L529.1 339.9 L529.8 340 L530.5 340 L531.2 340 L531.9 340.1 L532.6 340.2 L533.3 340.3 L534 340.3 L534.7 340.4 L535.4 340.5 L536.1 340.6 L536.8 340.6 L537.5 340.5 L538.2 340.3 L538.9 340.1 L539.6 339.9 L540.3 339.7 L541 339.5 L541.7 339.4 L542.4 339.4 L543.1 339.6 L543.8 340.1 L544.5 340.8 L545.2 341.7 L545.9 342.6 L546.6 343.4 L547.3 343.8 L548 343.7 L548.7 343.3 L549.4 342.6 L550.1 341.9 L550.8 341.3 L551.5 340.9 L552.2 340.6 L552.9 340.3 L553.6 340.1 L554.3 339.9 L555 339.7 L555.7 339.6 L556.4 339.6 L557.1 339.6 L557.8 339.6 L558.5 339.7 L559.2 339.8 L559.9 339.9 L560.6 339.9 L561.3 340" fill="none" stroke="#ad9e2d" stroke-width="2.1" stroke-linejoin="round" stroke-linecap="round"/>
<path d="M308.6 380.1 L309.1 380 L309.6 379.8 L310.1 379.7 L310.6 379.5 L311.1 379.2 L311.6 379 L312.1 378.8 L312.6 378.7 L313.1 378.7 L313.6 378.8 L314.1 378.9 L314.6 379.1 L315.1 379.3 L315.6 379.6 L316.1 379.7 L316.6 379.9 L317.1 380 L317.6 380.1 L318.1 380.1 L318.6 380.2 L319.1 380.2 L319.6 380.2 L320.1 380.2 L320.6 380.2 L321.1 380.2 L321.6 380.2 L322.1 380.2 L322.6 380.2 L323.1 380.2 L323.6 380.2 L324.1 380.2 L324.6 380.2 L325.1 380.2 L325.6 380.2 L326.1 380.2 L326.6 380.2 L327.1 380.2 L327.6 380.2 L328.1 380.2 L328.6 380.2 L329.1 380.2 L329.6 380.2 L330.1 380.2 L330.6 380.2 L331.1 380.2 L331.6 380.2 L332.1 380.2 L332.6 380.2 L333.1 380.2 L333.6 380.2 L334.1 380.2 L334.6 380.2 L335.1 380.2 L335.6 380.2 L336.1 380.2 L336.6 380.2 L337.1 380.2 L337.6 380.2 L338.1 380.2 L338.6 380.2 L339.1 380.1 L339.6 380.1 L340.1 379.9 L340.6 379.4 L341.1 378.5 L341.6 376.8 L342.1 374.1 L342.6 369.9 L343.1 364.4 L343.6 357.7 L344.1 350.8 L344.6 344.7 L345.1 340.7 L345.6 339.8 L346.1 342 L346.6 347 L347.1 353.5 L347.6 360.5 L348.1 366.8 L348.6 371.8 L349.1 375.3 L349.6 377.6 L350.1 378.9 L350.6 379.6 L351.1 380 L351.6 380.1 L352.1 380.1 L352.6 380.2 L353.1 380.1 L353.6 380.1 L354.1 380 L354.6 379.8 L355.1 379.7 L355.6 379.5 L356.1 379.2 L356.6 379 L357.1 378.8 L357.6 378.7 L358.1 378.7 L358.6 378.8 L359.1 378.9 L359.6 379.1 L360.1 379.3 L360.6 379.6 L361.1 379.7 L361.6 379.9 L362.1 380 L362.6 380.1 L363.1 380.1 L363.6 380.2 L364.1 380.2 L364.6 380.2 L365.1 380.2 L365.6 380.2 L366.1 380.2 L366.6 380.2 L367.1 380.2 L367.6 380.2 L368.1 380.2 L368.6 380.2 L369.1 380.2 L369.6 380.2 L370.1 380.2 L370.6 380.2 L371.1 380.2 L371.6 380.2 L372.1 380.2 L372.6 380.2 L373.1 380.2 L373.6 380.2 L374.1 380.2 L374.6 380.2 L375.1 380.2 L375.6 380.2 L376.1 380.2 L376.6 380.2 L377.1 380.2 L377.6 380.2 L378.1 380.2 L378.6 380.2 L379.1 380.2 L379.6 380.2 L380.1 380.2 L380.6 380.2 L381.1 380.2 L381.6 380.2 L382.1 380.2 L382.6 380.2 L383.1 380.2 L383.6 380.2 L384.1 380.2 L384.6 380.2 L385.1 380.2 L385.6 380.2 L386.1 380.2 L386.6 380.2 L387.1 380.2 L387.6 380.2 L388.1 380.2 L388.6 380.2 L389.1 380.2 L389.6 380.2 L390.1 380.2 L390.6 380.2 L391.1 380.2 L391.6 380.2 L392.1 380.2 L392.6 380.2 L393.1 380.2 L393.6 380.2 L394.1 380.2 L394.6 380.2 L395.1 380.2 L395.6 380.2 L396.1 380.2 L396.6 380.2 L397.1 380.2 L397.6 380.2 L398.1 380.2 L398.6 380.2 L399.1 380.2 L399.6 380.2 L400.1 380.2 L400.6 380.2 L401.1 380.2 L401.6 380.2 L402.1 380.2 L402.6 380.2 L403.1 380.2 L403.6 380.2 L404.1 380.2 L404.6 380.2 L405.1 380.2 L405.6 380.2 L406.1 380.2 L406.6 380.2 L407.1 380.2 L407.6 380.2 L408.1 380.2 L408.6 380.2 L409.1 380.2 L409.6 380.2 L410.1 380.2 L410.6 380.2 L411.1 380.2 L411.6 380.2 L412.1 380.2 L412.6 380.2 L413.1 380.2 L413.6 380.2 L414.1 380.2 L414.6 380.2 L415.1 380.2 L415.6 380.2 L416.1 380.2 L416.6 380.2 L417.1 380.2 L417.6 380.2 L418.1 380.2 L418.6 380.2 L419.1 380.2 L419.6 380.2 L420.1 380.2 L420.6 380.2 L421.1 380.2 L421.6 380.2 L422.1 380.2 L422.6 380.2 L423.1 380.2 L423.6 380.2 L424.1 380.2 L424.6 380.2 L425.1 380.2 L425.6 380.2 L426.1 380.2 L426.6 380.2 L427.1 380.2 L427.6 380.2 L428.1 380.2 L428.6 380.2 L429.1 380.2 L429.6 380.2 L430.1 380.2 L430.6 380.2 L431.1 380.2 L431.6 380.2 L432.1 380.2 L432.6 380.2 L433.1 380.2 L433.6 380.2 L434.1 380.2 L434.6 380.2 L435.1 380.2 L435.6 380.2 L436.1 380.2 L436.6 380.2 L437.1 380.2 L437.6 380.2 L438.1 380.2 L438.6 380.2 L439.1 380.2 L439.6 380.2 L440.1 380.2 L440.6 380.2 L441.1 380.2 L441.6 380.2 L442.1 380.2 L442.6 380.2 L443.1 380.2 L443.6 380.2 L444.1 380.2 L444.6 380.2 L445.1 380.2 L445.6 380.2 L446.1 380.2 L446.6 380.2 L447.1 380.2 L447.6 380.2 L448.1 380.2 L448.6 380.2 L449.1 380.2 L449.6 380.2 L450.1 380.2 L450.6 380.1 L451.1 380 L451.6 379.7 L452.1 379.2 L452.6 378.4 L453.1 377.1 L453.6 375.4 L454.1 373.3 L454.6 371 L455.1 368.9 L455.6 367.3 L456.1 366.6 L456.6 366.9 L457.1 368.2 L457.6 370.1 L458.1 372.4 L458.6 374.6 L459.1 376.5 L459.6 377.9 L460.1 378.9 L460.6 379.5 L461.1 379.9 L461.6 380 L462.1 380.1 L462.6 380.2 L463.1 380.2 L463.6 380.2 L464.1 380.2 L464.6 380.2 L465.1 380.2 L465.6 380.2 L466.1 380.2 L466.6 380.2 L467.1 380.2 L467.6 380.2 L468.1 380.2 L468.6 380.2 L469.1 380.2 L469.6 380.2 L470.1 380.2 L470.6 380.2 L471.1 380.2 L471.6 380.2 L472.1 380.2 L472.6 380.2 L473.1 380.2 L473.6 380.2 L474.1 380.2 L474.6 380.2 L475.1 380.2 L475.6 380.2 L476.1 380.2 L476.6 380.2 L477.1 380.2 L477.6 380.2 L478.1 380.2 L478.6 380.2 L479.1 380.2 L479.6 380.2 L480.1 380.2 L480.6 380.2 L481.1 380.2 L481.6 380.2 L482.1 380.2 L482.6 380.2 L483.1 380.2 L483.6 380.2 L484.1 380.2 L484.6 380.2 L485.1 380.2 L485.6 380.2 L486.1 380.2 L486.6 380.2 L487.1 380.2 L487.6 380.2 L488.1 380.2 L488.6 380.2 L489.1 380.2 L489.6 380.2 L490.1 380.2 L490.6 380.2 L491.1 380.2 L491.6 380.2 L492.1 380.2 L492.6 380.2 L493.1 380.2 L493.6 380.2 L494.1 380.2 L494.6 380.2 L495.1 380.2 L495.6 380.2 L496.1 380.2 L496.6 380.2 L497.1 380.2 L497.6 380.2 L498.1 380.2 L498.6 380.2 L499.1 380.2 L499.6 380.2 L500.1 380.2 L500.6 380.2 L501.1 380.2 L501.6 380.1 L502.1 380 L502.6 379.9 L503.1 379.7 L503.6 379.5 L504.1 379.2 L504.6 378.9 L505.1 378.6 L505.6 378.4 L506.1 378.4 L506.6 378.5 L507.1 378.7 L507.6 379 L508.1 379.3 L508.6 379.6 L509.1 379.8 L509.6 380 L510.1 380.1 L510.6 380.1 L511.1 380.2 L511.6 380.2 L512.1 380.2 L512.6 380.2 L513.1 380.2 L513.6 380.2 L514.1 380.2 L514.6 380.2 L515.1 380.2 L515.6 380.2 L516.1 380.2 L516.6 380.2 L517.1 380.2 L517.6 380.2 L518.1 380.2 L518.6 380.2 L519.1 380.2 L519.6 380.2 L520.1 380.2 L520.6 380.2 L521.1 380.2 L521.6 380.2 L522.1 380.2 L522.6 380.2 L523.1 380.2 L523.6 380.2 L524.1 380.2 L524.6 380.2 L525.1 380.2 L525.6 380.2 L526.1 380.2 L526.6 380.2 L527.1 380.2 L527.6 380.2 L528.1 380.2 L528.6 380.2 L529.1 380.2 L529.6 380.2 L530.1 380.2 L530.6 380.2 L531.1 380.2 L531.6 380.2 L532.1 380.2 L532.6 380.2 L533.1 380.2 L533.6 380.2 L534.1 380.2 L534.6 380.2 L535.1 380.2 L535.6 380.2 L536.1 380.2 L536.6 380.2 L537.1 380.2 L537.6 380.2 L538.1 380.2 L538.6 380.2 L539.1 380.2 L539.6 380.2 L540.1 380.2 L540.6 380.2 L541.1 380.2 L541.6 380.2 L542.1 380.2 L542.6 380.2 L543.1 380.2 L543.6 380.2 L544.1 380.2 L544.6 380.2 L545.1 380.2 L545.6 380.2 L546.1 380.2 L546.6 380.2 L547.1 380.2 L547.6 380.2 L548.1 380.2 L548.6 380.2 L549.1 380.2 L549.6 380.2 L550.1 380.2 L550.6 380.2 L551.1 380.2 L551.6 380.2 L552.1 380.2 L552.6 380.2 L553.1 380.2 L553.6 380.2 L554.1 380.2 L554.6 380.2 L555.1 380.2 L555.6 380.2 L556.1 380.2 L556.6 380.2 L557.1 380.2 L557.6 380.2 L558.1 380.2 L558.6 380.2 L559.1 380.2 L559.6 380.2 L560.1 380.2 L560.6 380.2 L561.1 380.2 L561.6 380.2" fill="none" stroke="#2c3596" stroke-width="1.4" stroke-linejoin="round" stroke-linecap="round"/>
<path d="M308.6 396.5 L309.1 396.5 L309.6 396.5 L310.1 396.5 L310.6 396.5 L311.1 396.5 L311.6 396.5 L312.1 396.5 L312.6 396.5 L313.1 396.5 L313.6 396.5 L314.1 396.5 L314.6 396.5 L315.1 396.5 L315.6 396.5 L316.1 396.5 L316.6 396.5 L317.1 396.5 L317.6 396.5 L318.1 396.5 L318.6 396.5 L319.1 396.5 L319.6 396.5 L320.1 396.5 L320.6 396.5 L321.1 396.5 L321.6 396.5 L322.1 396.5 L322.6 396.5 L323.1 396.5 L323.6 396.5 L324.1 396.5 L324.6 396.5 L325.1 396.5 L325.6 396.5 L326.1 396.5 L326.6 396.5 L327.1 396.5 L327.6 396.5 L328.1 396.5 L328.6 396.4 L329.1 396.4 L329.6 396.2 L330.1 396 L330.6 395.6 L331.1 395.2 L331.6 394.7 L332.1 394.2 L332.6 393.9 L333.1 393.8 L333.6 394 L334.1 394.4 L334.6 394.9 L335.1 395.4 L335.6 395.8 L336.1 396.1 L336.6 396.3 L337.1 396.4 L337.6 396.5 L338.1 396.5 L338.6 396.5 L339.1 396.5 L339.6 396.5 L340.1 396.5 L340.6 396.5 L341.1 396.5 L341.6 396.5 L342.1 396.4 L342.6 396.4 L343.1 396.3 L343.6 396 L344.1 395.7 L344.6 395.3 L345.1 394.8 L345.6 394.3 L346.1 393.9 L346.6 393.8 L347.1 393.9 L347.6 394.3 L348.1 394.8 L348.6 395.3 L349.1 395.7 L349.6 396 L350.1 396.3 L350.6 396.4 L351.1 396.4 L351.6 396.5 L352.1 396.5 L352.6 396.5 L353.1 396.5 L353.6 396.5 L354.1 396.5 L354.6 396.5 L355.1 396.5 L355.6 396.5 L356.1 396.5 L356.6 396.5 L357.1 396.5 L357.6 396.5 L358.1 396.5 L358.6 396.5 L359.1 396.5 L359.6 396.5 L360.1 396.5 L360.6 396.5 L361.1 396.5 L361.6 396.5 L362.1 396.5 L362.6 396.5 L363.1 396.5 L363.6 396.5 L364.1 396.5 L364.6 396.5 L365.1 396.5 L365.6 396.5 L366.1 396.5 L366.6 396.5 L367.1 396.5 L367.6 396.5 L368.1 396.5 L368.6 396.5 L369.1 396.5 L369.6 396.5 L370.1 396.5 L370.6 396.5 L371.1 396.5 L371.6 396.5 L372.1 396.5 L372.6 396.5 L373.1 396.5 L373.6 396.5 L374.1 396.5 L374.6 396.5 L375.1 396.5 L375.6 396.5 L376.1 396.5 L376.6 396.5 L377.1 396.5 L377.6 396.5 L378.1 396.5 L378.6 396.5 L379.1 396.5 L379.6 396.5 L380.1 396.5 L380.6 396.5 L381.1 396.5 L381.6 396.5 L382.1 396.5 L382.6 396.5 L383.1 396.5 L383.6 396.5 L384.1 396.5 L384.6 396.5 L385.1 396.5 L385.6 396.5 L386.1 396.5 L386.6 396.5 L387.1 396.5 L387.6 396.5 L388.1 396.5 L388.6 396.5 L389.1 396.5 L389.6 396.5 L390.1 396.5 L390.6 396.5 L391.1 396.5 L391.6 396.5 L392.1 396.5 L392.6 396.5 L393.1 396.5 L393.6 396.5 L394.1 396.5 L394.6 396.5 L395.1 396.5 L395.6 396.5 L396.1 396.5 L396.6 396.5 L397.1 396.5 L397.6 396.5 L398.1 396.5 L398.6 396.5 L399.1 396.5 L399.6 396.5 L400.1 396.5 L400.6 396.5 L401.1 396.5 L401.6 396.5 L402.1 396.5 L402.6 396.5 L403.1 396.5 L403.6 396.5 L404.1 396.5 L404.6 396.5 L405.1 396.5 L405.6 396.5 L406.1 396.5 L406.6 396.5 L407.1 396.5 L407.6 396.5 L408.1 396.5 L408.6 396.5 L409.1 396.5 L409.6 396.5 L410.1 396.5 L410.6 396.5 L411.1 396.5 L411.6 396.5 L412.1 396.5 L412.6 396.5 L413.1 396.5 L413.6 396.5 L414.1 396.5 L414.6 396.5 L415.1 396.5 L415.6 396.5 L416.1 396.5 L416.6 396.5 L417.1 396.5 L417.6 396.5 L418.1 396.5 L418.6 396.5 L419.1 396.5 L419.6 396.5 L420.1 396.5 L420.6 396.5 L421.1 396.5 L421.6 396.5 L422.1 396.5 L422.6 396.5 L423.1 396.5 L423.6 396.5 L424.1 396.5 L424.6 396.5 L425.1 396.5 L425.6 396.5 L426.1 396.5 L426.6 396.5 L427.1 396.5 L427.6 396.5 L428.1 396.5 L428.6 396.5 L429.1 396.5 L429.6 396.5 L430.1 396.5 L430.6 396.5 L431.1 396.5 L431.6 396.5 L432.1 396.5 L432.6 396.5 L433.1 396.5 L433.6 396.5 L434.1 396.5 L434.6 396.5 L435.1 396.5 L435.6 396.4 L436.1 396.4 L436.6 396.3 L437.1 396.2 L437.6 396 L438.1 395.9 L438.6 395.7 L439.1 395.6 L439.6 395.5 L440.1 395.4 L440.6 395.3 L441.1 395.3 L441.6 395.1 L442.1 394.9 L442.6 394.6 L443.1 394.2 L443.6 394 L444.1 393.9 L444.6 394 L445.1 394.3 L445.6 394.8 L446.1 395.3 L446.6 395.7 L447.1 396 L447.6 396.2 L448.1 396.4 L448.6 396.4 L449.1 396.5 L449.6 396.5 L450.1 396.5 L450.6 396.5 L451.1 396.5 L451.6 396.5 L452.1 396.5 L452.6 396.5 L453.1 396.5 L453.6 396.5 L454.1 396.5 L454.6 396.5 L455.1 396.5 L455.6 396.5 L456.1 396.5 L456.6 396.5 L457.1 396.5 L457.6 396.5 L458.1 396.5 L458.6 396.5 L459.1 396.5 L459.6 396.5 L460.1 396.5 L460.6 396.5 L461.1 396.5 L461.6 396.5 L462.1 396.5 L462.6 396.5 L463.1 396.5 L463.6 396.5 L464.1 396.5 L464.6 396.5 L465.1 396.5 L465.6 396.5 L466.1 396.5 L466.6 396.5 L467.1 396.5 L467.6 396.5 L468.1 396.5 L468.6 396.5 L469.1 396.5 L469.6 396.5 L470.1 396.5 L470.6 396.5 L471.1 396.5 L471.6 396.5 L472.1 396.5 L472.6 396.5 L473.1 396.5 L473.6 396.5 L474.1 396.5 L474.6 396.5 L475.1 396.5 L475.6 396.5 L476.1 396.5 L476.6 396.5 L477.1 396.5 L477.6 396.5 L478.1 396.5 L478.6 396.5 L479.1 396.5 L479.6 396.5 L480.1 396.5 L480.6 396.5 L481.1 396.5 L481.6 396.5 L482.1 396.5 L482.6 396.5 L483.1 396.5 L483.6 396.5 L484.1 396.5 L484.6 396.5 L485.1 396.5 L485.6 396.5 L486.1 396.5 L486.6 396.5 L487.1 396.5 L487.6 396.5 L488.1 396.5 L488.6 396.5 L489.1 396.5 L489.6 396.5 L490.1 396.5 L490.6 396.5 L491.1 396.5 L491.6 396.5 L492.1 396.5 L492.6 396.5 L493.1 396.5 L493.6 396.5 L494.1 396.5 L494.6 396.5 L495.1 396.5 L495.6 396.5 L496.1 396.5 L496.6 396.5 L497.1 396.5 L497.6 396.5 L498.1 396.5 L498.6 396.5 L499.1 396.5 L499.6 396.5 L500.1 396.5 L500.6 396.5 L501.1 396.5 L501.6 396.5 L502.1 396.5 L502.6 396.5 L503.1 396.5 L503.6 396.5 L504.1 396.5 L504.6 396.5 L505.1 396.5 L505.6 396.5 L506.1 396.5 L506.6 396.5 L507.1 396.5 L507.6 396.5 L508.1 396.5 L508.6 396.5 L509.1 396.5 L509.6 396.5 L510.1 396.5 L510.6 396.5 L511.1 396.5 L511.6 396.5 L512.1 396.5 L512.6 396.5 L513.1 396.5 L513.6 396.5 L514.1 396.5 L514.6 396.5 L515.1 396.5 L515.6 396.5 L516.1 396.5 L516.6 396.5 L517.1 396.5 L517.6 396.5 L518.1 396.5 L518.6 396.5 L519.1 396.4 L519.6 396.3 L520.1 396.1 L520.6 395.7 L521.1 395.1 L521.6 394.2 L522.1 393 L522.6 391.6 L523.1 390.1 L523.6 388.7 L524.1 387.7 L524.6 387.4 L525.1 387.7 L525.6 388.7 L526.1 390.1 L526.6 391.6 L527.1 393 L527.6 394.2 L528.1 395.1 L528.6 395.7 L529.1 396.1 L529.6 396.3 L530.1 396.4 L530.6 396.5 L531.1 396.5 L531.6 396.5 L532.1 396.5 L532.6 396.5 L533.1 396.5 L533.6 396.5 L534.1 396.5 L534.6 396.5 L535.1 396.5 L535.6 396.5 L536.1 396.5 L536.6 396.5 L537.1 396.5 L537.6 396.5 L538.1 396.5 L538.6 396.5 L539.1 396.5 L539.6 396.5 L540.1 396.5 L540.6 396.5 L541.1 396.5 L541.6 396.5 L542.1 396.5 L542.6 396.5 L543.1 396.5 L543.6 396.5 L544.1 396.5 L544.6 396.5 L545.1 396.5 L545.6 396.5 L546.1 396.5 L546.6 396.5 L547.1 396.5 L547.6 396.5 L548.1 396.5 L548.6 396.5 L549.1 396.5 L549.6 396.5 L550.1 396.5 L550.6 396.5 L551.1 396.5 L551.6 396.5 L552.1 396.5 L552.6 396.5 L553.1 396.5 L553.6 396.5 L554.1 396.5 L554.6 396.5 L555.1 396.5 L555.6 396.5 L556.1 396.5 L556.6 396.5 L557.1 396.5 L557.6 396.5 L558.1 396.5 L558.6 396.5 L559.1 396.5 L559.6 396.5 L560.1 396.5 L560.6 396.5 L561.1 396.5 L561.6 396.5" fill="none" stroke="#d9732c" stroke-width="1.4" stroke-linejoin="round" stroke-linecap="round"/>
<path d="M308.6 411 L309.1 411 L309.6 411 L310.1 411 L310.6 411 L311.1 411 L311.6 411 L312.1 411 L312.6 411 L313.1 411 L313.6 411 L314.1 411 L314.6 411 L315.1 411 L315.6 411 L316.1 411 L316.6 411 L317.1 411 L317.6 411 L318.1 411 L318.6 411 L319.1 411 L319.6 411 L320.1 411 L320.6 411 L321.1 411 L321.6 411 L322.1 411 L322.6 411 L323.1 411 L323.6 411 L324.1 411 L324.6 411 L325.1 411 L325.6 411 L326.1 411 L326.6 411 L327.1 411 L327.6 411 L328.1 411 L328.6 411 L329.1 411 L329.6 411 L330.1 411 L330.6 411 L331.1 411 L331.6 411 L332.1 411 L332.6 411 L333.1 411 L333.6 411 L334.1 411 L334.6 411 L335.1 411 L335.6 411 L336.1 411 L336.6 411 L337.1 411 L337.6 411 L338.1 411 L338.6 411 L339.1 411 L339.6 411 L340.1 411 L340.6 411 L341.1 411 L341.6 411 L342.1 411 L342.6 411 L343.1 411 L343.6 411 L344.1 411 L344.6 411 L345.1 411 L345.6 411 L346.1 411 L346.6 411 L347.1 411 L347.6 411 L348.1 411 L348.6 411 L349.1 411 L349.6 411 L350.1 411 L350.6 411 L351.1 411 L351.6 411 L352.1 411 L352.6 411 L353.1 411 L353.6 411 L354.1 411 L354.6 411 L355.1 411 L355.6 411 L356.1 411 L356.6 411 L357.1 411 L357.6 411 L358.1 411 L358.6 411 L359.1 411 L359.6 411 L360.1 411 L360.6 411 L361.1 411 L361.6 411 L362.1 411 L362.6 411 L363.1 411 L363.6 411 L364.1 411 L364.6 411 L365.1 411 L365.6 411 L366.1 411 L366.6 411 L367.1 411 L367.6 411 L368.1 411 L368.6 411 L369.1 411 L369.6 411 L370.1 411 L370.6 411 L371.1 411 L371.6 411 L372.1 411 L372.6 411 L373.1 411 L373.6 411 L374.1 411 L374.6 411 L375.1 411 L375.6 411 L376.1 411 L376.6 411 L377.1 411 L377.6 411 L378.1 411 L378.6 411 L379.1 411 L379.6 411 L380.1 411 L380.6 411 L381.1 411 L381.6 411 L382.1 411 L382.6 411 L383.1 411 L383.6 411 L384.1 411 L384.6 411 L385.1 411 L385.6 411 L386.1 411 L386.6 411 L387.1 411 L387.6 411 L388.1 411 L388.6 411 L389.1 411 L389.6 411 L390.1 411 L390.6 411 L391.1 411 L391.6 411 L392.1 411 L392.6 411 L393.1 411 L393.6 411 L394.1 411 L394.6 411 L395.1 411 L395.6 411 L396.1 411 L396.6 411 L397.1 411 L397.6 411 L398.1 411 L398.6 411 L399.1 411 L399.6 411 L400.1 411 L400.6 411 L401.1 411 L401.6 411 L402.1 411 L402.6 411 L403.1 411 L403.6 411 L404.1 411 L404.6 411 L405.1 411 L405.6 411 L406.1 411 L406.6 411 L407.1 411 L407.6 411 L408.1 411 L408.6 411 L409.1 411 L409.6 411 L410.1 411 L410.6 411 L411.1 411 L411.6 411 L412.1 411 L412.6 411 L413.1 411 L413.6 411 L414.1 411 L414.6 411 L415.1 411 L415.6 411 L416.1 411 L416.6 411 L417.1 411 L417.6 411 L418.1 411 L418.6 411 L419.1 411 L419.6 411 L420.1 411 L420.6 411 L421.1 411 L421.6 411 L422.1 411 L422.6 411 L423.1 411 L423.6 411 L424.1 411 L424.6 411 L425.1 411 L425.6 411 L426.1 411 L426.6 411 L427.1 411 L427.6 411 L428.1 411 L428.6 411 L429.1 411 L429.6 411 L430.1 411 L430.6 411 L431.1 411 L431.6 411 L432.1 411 L432.6 411 L433.1 411 L433.6 411 L434.1 411 L434.6 411 L435.1 411 L435.6 411 L436.1 411 L436.6 411 L437.1 411 L437.6 411 L438.1 411 L438.6 411 L439.1 411 L439.6 411 L440.1 411 L440.6 411 L441.1 411 L441.6 411 L442.1 411 L442.6 411 L443.1 411 L443.6 411 L444.1 411 L444.6 411 L445.1 411 L445.6 411 L446.1 411 L446.6 411 L447.1 411 L447.6 411 L448.1 411 L448.6 411 L449.1 411 L449.6 411 L450.1 411 L450.6 411 L451.1 411 L451.6 411 L452.1 411 L452.6 411 L453.1 411 L453.6 411 L454.1 411 L454.6 411 L455.1 411 L455.6 411 L456.1 411 L456.6 411 L457.1 411 L457.6 411 L458.1 411 L458.6 411 L459.1 411 L459.6 411 L460.1 411 L460.6 411 L461.1 411 L461.6 411 L462.1 411 L462.6 411 L463.1 411 L463.6 410.9 L464.1 410.9 L464.6 410.7 L465.1 410.4 L465.6 409.8 L466.1 408.9 L466.6 407.6 L467.1 406 L467.6 404.2 L468.1 402.6 L468.6 401.4 L469.1 401 L469.6 401.4 L470.1 402.5 L470.6 404 L471.1 405.6 L471.6 406.7 L472.1 407.2 L472.6 406.9 L473.1 405.8 L473.6 404.1 L474.1 402.1 L474.6 400.3 L475.1 399 L475.6 398.7 L476.1 399.4 L476.6 401 L477.1 403.1 L477.6 405.3 L478.1 407.2 L478.6 408.7 L479.1 409.7 L479.6 410.3 L480.1 410.7 L480.6 410.9 L481.1 410.9 L481.6 411 L482.1 411 L482.6 411 L483.1 411 L483.6 411 L484.1 411 L484.6 411 L485.1 411 L485.6 411 L486.1 411 L486.6 411 L487.1 411 L487.6 411 L488.1 411 L488.6 411 L489.1 411 L489.6 411 L490.1 411 L490.6 411 L491.1 411 L491.6 411 L492.1 411 L492.6 411 L493.1 411 L493.6 411 L494.1 411 L494.6 411 L495.1 411 L495.6 411 L496.1 411 L496.6 411 L497.1 411 L497.6 411 L498.1 411 L498.6 411 L499.1 411 L499.6 411 L500.1 411 L500.6 411 L501.1 411 L501.6 411 L502.1 411 L502.6 411 L503.1 411 L503.6 411 L504.1 411 L504.6 411 L505.1 411 L505.6 411 L506.1 411 L506.6 411 L507.1 411 L507.6 411 L508.1 411 L508.6 411 L509.1 411 L509.6 411 L510.1 411 L510.6 411 L511.1 411 L511.6 411 L512.1 411 L512.6 411 L513.1 411 L513.6 411 L514.1 411 L514.6 411 L515.1 411 L515.6 411 L516.1 411 L516.6 411 L517.1 411 L517.6 411 L518.1 411 L518.6 411 L519.1 411 L519.6 411 L520.1 411 L520.6 411 L521.1 411 L521.6 411 L522.1 411 L522.6 411 L523.1 411 L523.6 411 L524.1 411 L524.6 411 L525.1 411 L525.6 411 L526.1 411 L526.6 411 L527.1 411 L527.6 411 L528.1 411 L528.6 411 L529.1 411 L529.6 411 L530.1 411 L530.6 411 L531.1 411 L531.6 411 L532.1 411 L532.6 411 L533.1 411 L533.6 411 L534.1 411 L534.6 411 L535.1 411 L535.6 411 L536.1 411 L536.6 411 L537.1 411 L537.6 411 L538.1 411 L538.6 411 L539.1 411 L539.6 411 L540.1 411 L540.6 411 L541.1 411 L541.6 411 L542.1 411 L542.6 411 L543.1 411 L543.6 411 L544.1 411 L544.6 411 L545.1 411 L545.6 411 L546.1 411 L546.6 411 L547.1 411 L547.6 411 L548.1 411 L548.6 411 L549.1 411 L549.6 411 L550.1 411 L550.6 411 L551.1 411 L551.6 411 L552.1 411 L552.6 411 L553.1 411 L553.6 411 L554.1 411 L554.6 411 L555.1 411 L555.6 411 L556.1 411 L556.6 411 L557.1 411 L557.6 411 L558.1 411 L558.6 411 L559.1 411 L559.6 411 L560.1 411 L560.6 411 L561.1 411 L561.6 411" fill="none" stroke="#2c3596" stroke-width="1.4" stroke-linejoin="round" stroke-linecap="round"/>
<path d="M309 429 H561.3" stroke="#7b2b9c" stroke-width="1.6" stroke-dasharray="6 3.5"/>
<path d="M309 433 H561.3" stroke="#7b2b9c" stroke-width="1.6" stroke-dasharray="6 3.5"/>
<path d="M309 431 H561.3" stroke="#444" stroke-width="0.6" stroke-dasharray="2 2"/>
<path d="M308.6 434 L310 433.8 L311.4 433.4 L312.8 430.7 L314.2 429.9 L315.6 429.4 L317 429.7 L318.4 430.6 L319.8 432.4 L321.2 431.7 L322.6 433.8 L324 432.9 L325.4 433.8 L326.8 432.9 L328.2 431.8 L329.6 428.1 L331 429 L332.4 428.6 L333.8 430.4 L335.2 430.8 L336.6 428.8 L338 427.5 L339.4 427.8 L340.8 429.3 L342.2 430.1 L343.6 429.1 L345 428.7 L346.4 424.3 L347.8 426.8 L349.2 427.8 L350.6 429.4 L352 426.8 L353.4 428.8 L354.8 429.2 L356.2 428.6 L357.6 427.9 L359 427.6 L360.4 431.4 L361.8 430.6 L363.2 430.5 L364.6 429.8 L366 430.9 L367.4 432 L368.8 433.1 L370.2 432.1 L371.6 429 L373 429.2 L374.4 425.7 L375.8 430.9 L377.2 430.6 L378.6 431.1 L380 434.7 L381.4 430.4 L382.8 431.7 L384.2 430.5 L385.6 431.9 L387 428.9 L388.4 430.5 L389.8 430.4 L391.2 427 L392.6 426.6 L394 425.3 L395.4 424.4 L396.8 426.5 L398.2 431.1 L399.6 431.5 L401 433.4 L402.4 434.6 L403.8 435.6 L405.2 431.9 L406.6 429.5 L408 431.1 L409.4 426.5 L410.8 422 L412.2 424 L413.6 425.4 L415 426.4 L416.4 428.7 L417.8 428.8 L419.2 429.8 L420.6 430.7 L422 428.8 L423.4 430.6 L424.8 433.5 L426.2 431.8 L427.6 430.5 L429 432 L430.4 430.1 L431.8 429.7 L433.2 428.5 L434.6 427.3 L436 427.4 L437.4 430 L438.8 432.6 L440.2 431 L441.6 430.4 L443 431.4 L444.4 436.5 L445.8 429.5 L447.2 429.5 L448.6 431.5 L450 428.2 L451.4 426.7 L452.8 426.3 L454.2 425.5 L455.6 427.3 L457 429.7 L458.4 430 L459.8 427.7 L461.2 425.9 L462.6 424.8 L464 429 L465.4 429 L466.8 429.6 L468.2 431.2 L469.6 432.7 L471 428.9 L472.4 429.4 L473.8 429.6 L475.2 430.2 L476.6 429.2 L478 430.9 L479.4 431.2 L480.8 431.1 L482.2 431.4 L483.6 430.8 L485 430.6 L486.4 428.9 L487.8 430.6 L489.2 434.4 L490.6 434.5 L492 433.9 L493.4 434.7 L494.8 434.5 L496.2 436.2 L497.6 432.6 L499 433.7 L500.4 434.3 L501.8 430.4 L503.2 429.6 L504.6 429.2 L506 427.8 L507.4 427.8 L508.8 427 L510.2 431 L511.6 434.3 L513 435 L514.4 434.1 L515.8 431.9 L517.2 433.3 L518.6 430.1 L520 428.7 L521.4 429.5 L522.8 428.6 L524.2 431 L525.6 429.7 L527 432.9 L528.4 430.7 L529.8 431.9 L531.2 430.8 L532.6 430.5 L534 428.4 L535.4 430 L536.8 431.7 L538.2 431.9 L539.6 432.5 L541 432.4 L542.4 431.5 L543.8 434.6 L545.2 433.3 L546.6 433.8 L548 430.7 L549.4 431.3 L550.8 428.9 L552.2 429 L553.6 429.6 L555 429.2 L556.4 430.6 L557.8 432 L559.2 432.5 L560.6 431.1" fill="none" stroke="#111" stroke-width="1.3" stroke-linejoin="round" stroke-linecap="round"/>
</g>
<rect x="308" y="319.5" width="254.3" height="127.5" fill="none" stroke="#1a1a1a" stroke-width="1.25"/>
<path d="M308 383.3 h4.6 M562.3 383.3 h-4.6" stroke="#1a1a1a" stroke-width="1"/>
<path d="M308 375.7 h2.5 M562.3 375.7 h-2.5" stroke="#1a1a1a" stroke-width="1"/>
<path d="M308 368.1 h4.6 M562.3 368.1 h-4.6" stroke="#1a1a1a" stroke-width="1"/>
<path d="M308 360.5 h2.5 M562.3 360.5 h-2.5" stroke="#1a1a1a" stroke-width="1"/>
<path d="M308 352.9 h4.6 M562.3 352.9 h-4.6" stroke="#1a1a1a" stroke-width="1"/>
<path d="M308 345.3 h2.5 M562.3 345.3 h-2.5" stroke="#1a1a1a" stroke-width="1"/>
<path d="M308 337.7 h4.6 M562.3 337.7 h-4.6" stroke="#1a1a1a" stroke-width="1"/>
<path d="M308 330.1 h2.5 M562.3 330.1 h-2.5" stroke="#1a1a1a" stroke-width="1"/>
<path d="M308 322.5 h4.6 M562.3 322.5 h-4.6" stroke="#1a1a1a" stroke-width="1"/>
<text x="306.4" y="357.5" font-size="11" fill="#111" stroke="#111" stroke-width="0.3" text-anchor="end" font-weight="bold">0</text>
<text x="306.4" y="342.3" font-size="11" fill="#111" stroke="#111" stroke-width="0.3" text-anchor="end" font-weight="bold">20</text>
<text x="306.4" y="327.1" font-size="11" fill="#111" stroke="#111" stroke-width="0.3" text-anchor="end" font-weight="bold">40</text>
<path d="M308 438.7 h2.5 M562.3 438.7 h-2.5" stroke="#1a1a1a" stroke-width="1"/>
<path d="M308 431 h4.6 M562.3 431 h-4.6" stroke="#1a1a1a" stroke-width="1"/>
<path d="M308 423.3 h2.5 M562.3 423.3 h-2.5" stroke="#1a1a1a" stroke-width="1"/>
<path d="M308 415.7 h2.5 M562.3 415.7 h-2.5" stroke="#1a1a1a" stroke-width="1"/>
<path d="M308 408 h2.5 M562.3 408 h-2.5" stroke="#1a1a1a" stroke-width="1"/>
<path d="M308 400.4 h2.5 M562.3 400.4 h-2.5" stroke="#1a1a1a" stroke-width="1"/>
<path d="M308 392.7 h4.6 M562.3 392.7 h-4.6" stroke="#1a1a1a" stroke-width="1"/>
<text x="306.4" y="435.6" font-size="11" fill="#111" stroke="#111" stroke-width="0.3" text-anchor="end" font-weight="bold">0</text>
<text x="306.4" y="397.3" font-size="11" fill="#111" stroke="#111" stroke-width="0.3" text-anchor="end" font-weight="bold">10</text>
<path d="M306.4 387.1 l3.2 -1.6 M306.4 389.7 l3.2 -1.6" stroke="#1a1a1a" stroke-width="0.9"/>
<path d="M560.7 387.1 l3.2 -1.6 M560.7 389.7 l3.2 -1.6" stroke="#1a1a1a" stroke-width="0.9"/>
<path d="M552 447 v-2.2" stroke="#1a1a1a" stroke-width="0.9"/>
<path d="M536.5 447 v-2.2" stroke="#1a1a1a" stroke-width="0.9"/>
<path d="M521 447 v-2.2" stroke="#1a1a1a" stroke-width="0.9"/>
<path d="M505.5 447 v-2.2" stroke="#1a1a1a" stroke-width="0.9"/>
<path d="M490 447 v-2.2" stroke="#1a1a1a" stroke-width="0.9"/>
<path d="M474.5 447 v-2.2" stroke="#1a1a1a" stroke-width="0.9"/>
<path d="M459 447 v-2.2" stroke="#1a1a1a" stroke-width="0.9"/>
<path d="M443.5 447 v-2.2" stroke="#1a1a1a" stroke-width="0.9"/>
<path d="M428 447 v-2.2" stroke="#1a1a1a" stroke-width="0.9"/>
<path d="M412.5 447 v-2.2" stroke="#1a1a1a" stroke-width="0.9"/>
<path d="M397 447 v-2.2" stroke="#1a1a1a" stroke-width="0.9"/>
<path d="M381.5 447 v-2.2" stroke="#1a1a1a" stroke-width="0.9"/>
<path d="M366 447 v-2.2" stroke="#1a1a1a" stroke-width="0.9"/>
<path d="M350.5 447 v-2.2" stroke="#1a1a1a" stroke-width="0.9"/>
<path d="M335 447 v-2.2" stroke="#1a1a1a" stroke-width="0.9"/>
<path d="M319.5 447 v-2.2" stroke="#1a1a1a" stroke-width="0.9"/>
<path d="M536.5 447 v-4.6" stroke="#1a1a1a" stroke-width="1"/>
<path d="M474.5 447 v-4.6" stroke="#1a1a1a" stroke-width="1"/>
<path d="M412.5 447 v-4.6" stroke="#1a1a1a" stroke-width="1"/>
<path d="M350.5 447 v-4.6" stroke="#1a1a1a" stroke-width="1"/>
<text x="350.5" y="457.6" font-size="11" fill="#111" stroke="#111" stroke-width="0.3" text-anchor="middle" font-weight="bold">3382</text>
<text x="412.5" y="457.6" font-size="11" fill="#111" stroke="#111" stroke-width="0.3" text-anchor="middle" font-weight="bold">3380</text>
<text x="474.5" y="457.6" font-size="11" fill="#111" stroke="#111" stroke-width="0.3" text-anchor="middle" font-weight="bold">3378</text>
<text x="536.5" y="457.6" font-size="11" fill="#111" stroke="#111" stroke-width="0.3" text-anchor="middle" font-weight="bold">3376</text>
<path d="M354.1 319.5 v4.8" stroke="#1a1a1a" stroke-width="1"/>
<path d="M459.5 319.5 v4.8" stroke="#1a1a1a" stroke-width="1"/>
<path d="M530.2 319.5 v4.8" stroke="#1a1a1a" stroke-width="1"/>
<text x="354.1" y="317.4" font-size="9.8" fill="#111" stroke="#111" stroke-width="0.3" text-anchor="middle" font-weight="bold">2.957</text>
<text x="459.5" y="317.4" font-size="9.8" fill="#111" stroke="#111" stroke-width="0.3" text-anchor="middle" font-weight="bold">2.960</text>
<text x="530.2" y="317.4" font-size="9.8" fill="#111" stroke="#111" stroke-width="0.3" text-anchor="middle" font-weight="bold">2.962</text>
<text x="407.8" y="317.4" font-size="10.4" font-weight="bold" fill="#111" stroke="#111" stroke-width="0.2"><tspan font-family="Liberation Serif" font-weight="normal" font-size="11">&#955;</tspan> (<tspan font-family="Liberation Serif" font-weight="normal" font-size="11">&#956;</tspan>m)</text>
<text x="310.5" y="332" font-size="13" fill="#111" stroke="#111" stroke-width="0.3" text-anchor="start" font-weight="bold">f</text>
<text x="356.4" y="374.5" font-size="13" fill="#2c3596" stroke="#2c3596" stroke-width="0.3" text-anchor="start" font-weight="bold">H<tspan font-size="7.8" dy="4.3">2</tspan><tspan dy="-4.3">&#8203;</tspan>O model (x4)</text>
<text x="356.4" y="391" font-size="13" fill="#d9732c" stroke="#d9732c" stroke-width="0.3" text-anchor="start" font-weight="bold">NH<tspan font-size="7.8" dy="4.3">3</tspan><tspan dy="-4.3">&#8203;</tspan> model (x4)</text>
<text x="356.4" y="407.8" font-size="13" fill="#2c3596" stroke="#2c3596" stroke-width="0.3" text-anchor="start" font-weight="bold">OH model (x2)</text>
<text x="358.7" y="424.3" font-size="13" fill="#111" stroke="#111" stroke-width="0.3" text-anchor="start" font-weight="bold">residuals (x4)</text>
<g clip-path="url(#cpg)">
<path d="M29 491.3 L30.4 491.3 L31.8 491.4 L33.2 491.8 L34.6 489.8 L36 489.6 L37.4 490.6 L38.8 490.4 L40.2 490 L41.6 490.6 L43 490 L44.4 487.4 L45.8 487.9 L47.2 489.6 L48.6 489.9 L50 490.2 L51.4 490.3 L52.8 491.2 L54.2 491 L55.6 490.8 L57 491 L58.4 490.6 L59.8 490.6 L61.2 491.3 L62.6 490.3 L64 490.4 L65.4 489.9 L66.8 490.2 L68.2 490.5 L69.6 489.4 L71 490.3 L72.4 489.6 L73.8 490.5 L75.2 489.5 L76.6 489.5 L78 490.9 L79.4 490.6 L80.8 490.6 L82.2 490.4 L83.6 490.1 L85 490.7 L86.4 490.5 L87.8 490.7 L89.2 490.9 L90.6 491.2 L92 490.9 L93.4 492.3 L94.8 490 L96.2 489.4 L97.6 490 L99 491.6 L100.4 491.7 L101.8 490.5 L103.2 490.5 L104.6 489.9 L106 488.6 L107.4 487.8 L108.8 488.4 L110.2 490.4 L111.6 491.2 L113 490.8 L114.4 492.4 L115.8 492.3 L117.2 494.5 L118.6 493.4 L120 493.7 L121.4 495 L122.8 496.9 L124.2 499.6 L125.6 502.2 L127 504.8 L128.4 507 L129.8 508.7 L131.2 509.2 L132.6 507.4 L134 506.4 L135.4 504.7 L136.8 503.2 L138.2 502.8 L139.6 499.2 L141 497.8 L142.4 495.8 L143.8 494.4 L145.2 493.4 L146.6 492 L148 491.7 L149.4 490.5 L150.8 491 L152.2 489.6 L153.6 489.4 L155 490.8 L156.4 490.6 L157.8 490.6 L159.2 491 L160.6 490.3 L162 490.5 L163.4 490.7 L164.8 490.2 L166.2 490.1 L167.6 492.1 L169 491.5 L170.4 489.8 L171.8 488.5 L173.2 487.6 L174.6 487.1 L176 488.7 L177.4 490.8 L178.8 491.1 L180.2 490 L181.6 486.7 L183 484.6 L184.4 485.2 L185.8 490.3 L187.2 492.4 L188.6 492.8 L190 490.8 L191.4 492 L192.8 490.9 L194.2 491.5 L195.6 491.7 L197 491 L198.4 489 L199.8 490.1 L201.2 489.9 L202.6 490.4 L204 491.2 L205.4 490.9 L206.8 491.3 L208.2 490.4 L209.6 492.1 L211 491.9 L212.4 491.9 L213.8 491.8 L215.2 492.3 L216.6 491.7 L218 491.5 L219.4 493.1 L220.8 493.4 L222.2 494.1 L223.6 495.7 L225 495.6 L226.4 496.8 L227.8 497.6 L229.2 498.3 L230.6 498.4 L232 498.9 L233.4 498 L234.8 499.4 L236.2 498.8 L237.6 502 L239 504.7 L240.4 506.2 L241.8 503.6 L243.2 500.8 L244.6 496.4 L246 493.6 L247.4 493.9 L248.8 492.7 L250.2 492.7 L251.6 491.9 L253 492.4 L254.4 492.6 L255.8 490.8 L257.2 490.5 L258.6 489.7 L260 486.2 L261.4 485.5 L262.8 488.1 L264.2 489.8 L265.6 491.2 L267 490.8 L268.4 489.9 L269.8 489.8 L271.2 490.2 L272.6 491.3 L274 489.4 L275.4 490.2 L276.8 490.5 L278.2 490.7 L279.6 490.5 L281 491.2 L282.4 490.2" fill="none" stroke="#111" stroke-width="1.2" stroke-linejoin="round" stroke-linecap="round"/>
<path d="M29 490.7 L29.7 490.7 L30.4 490.6 L31.1 490.6 L31.8 490.6 L32.5 490.6 L33.2 490.6 L33.9 490.6 L34.6 490.5 L35.3 490.5 L36 490.5 L36.7 490.5 L37.4 490.5 L38.1 490.4 L38.8 490.4 L39.5 490.4 L40.2 490.4 L40.9 490.3 L41.6 490.1 L42.3 489.6 L43 489 L43.7 488.2 L44.4 487.5 L45.1 487.3 L45.8 487.6 L46.5 488.3 L47.2 489.1 L47.9 489.7 L48.6 490 L49.3 490.1 L50 490.2 L50.7 490.2 L51.4 490.2 L52.1 490.2 L52.8 490.2 L53.5 490.2 L54.2 490.2 L54.9 490.2 L55.6 490.2 L56.3 490.1 L57 490.1 L57.7 490.1 L58.4 490.1 L59.1 490.1 L59.8 490.1 L60.5 490.1 L61.2 490.1 L61.9 490.1 L62.6 490.1 L63.3 490.1 L64 490.1 L64.7 490.1 L65.4 490.1 L66.1 490.1 L66.8 490.1 L67.5 490.1 L68.2 490.1 L68.9 490.1 L69.6 490.1 L70.3 490.1 L71 490.2 L71.7 490.2 L72.4 490.2 L73.1 490.2 L73.8 490.2 L74.5 490.2 L75.2 490.3 L75.9 490.3 L76.6 490.3 L77.3 490.3 L78 490.4 L78.7 490.4 L79.4 490.5 L80.1 490.5 L80.8 490.5 L81.5 490.6 L82.2 490.6 L82.9 490.7 L83.6 490.7 L84.3 490.8 L85 490.8 L85.7 490.8 L86.4 490.9 L87.1 490.9 L87.8 491 L88.5 491 L89.2 491 L89.9 491 L90.6 491.1 L91.3 491.1 L92 491 L92.7 490.9 L93.4 490.6 L94.1 490.1 L94.8 489.5 L95.5 489 L96.2 488.9 L96.9 489.3 L97.6 489.8 L98.3 490.4 L99 490.8 L99.7 490.9 L100.4 491 L101.1 491 L101.8 491 L102.5 491 L103.2 490.9 L103.9 490.8 L104.6 490.6 L105.3 490.1 L106 489.4 L106.7 488.6 L107.4 488 L108.1 488.1 L108.8 488.8 L109.5 489.6 L110.2 490.4 L110.9 490.9 L111.6 491.3 L112.3 491.5 L113 491.7 L113.7 491.9 L114.4 492.1 L115.1 492.4 L115.8 492.7 L116.5 493 L117.2 493.3 L117.9 493.5 L118.6 493.8 L119.3 494 L120 494.3 L120.7 494.7 L121.4 495.2 L122.1 495.8 L122.8 496.7 L123.5 497.8 L124.2 499.1 L124.9 500.4 L125.6 501.6 L126.3 502.9 L127 504.1 L127.7 505.4 L128.4 506.5 L129.1 507.3 L129.8 508 L130.5 508.2 L131.2 508.1 L131.9 507.8 L132.6 507.3 L133.3 506.8 L134 506.3 L134.7 505.8 L135.4 505.4 L136.1 505 L136.8 504.6 L137.5 504 L138.2 503.2 L138.9 502.1 L139.6 500.8 L140.3 499.5 L141 498.3 L141.7 497.4 L142.4 496.5 L143.1 495.8 L143.8 495 L144.5 494.4 L145.2 493.8 L145.9 493.3 L146.6 492.9 L147.3 492.5 L148 492.2 L148.7 491.9 L149.4 491.6 L150.1 491.1 L150.8 490.6 L151.5 489.9 L152.2 489.3 L152.9 489.1 L153.6 489.4 L154.3 489.9 L155 490.5 L155.7 490.9 L156.4 491.1 L157.1 491.2 L157.8 491.3 L158.5 491.3 L159.2 491.3 L159.9 491.3 L160.6 491.3 L161.3 491.3 L162 491.3 L162.7 491.3 L163.4 491.2 L164.1 491.2 L164.8 491.2 L165.5 491.2 L166.2 491.2 L166.9 491.2 L167.6 491.2 L168.3 491.2 L169 491.1 L169.7 491 L170.4 490.8 L171.1 490.2 L171.8 489.4 L172.5 488.5 L173.2 487.8 L173.9 487.7 L174.6 488.1 L175.3 489 L176 489.9 L176.7 490.5 L177.4 490.9 L178.1 491 L178.8 490.9 L179.5 490.6 L180.2 489.8 L180.9 488.4 L181.6 486.5 L182.3 484.7 L183 483.6 L183.7 483.9 L184.4 485.4 L185.1 487.4 L185.8 489.1 L186.5 490.2 L187.2 490.7 L187.9 491 L188.6 491 L189.3 491 L190 491 L190.7 491 L191.4 491 L192.1 491 L192.8 491 L193.5 491 L194.2 491 L194.9 491 L195.6 491 L196.3 491 L197 491.1 L197.7 491.1 L198.4 491.1 L199.1 491.1 L199.8 491.1 L200.5 491.1 L201.2 491.1 L201.9 491.1 L202.6 491.1 L203.3 491.1 L204 491.2 L204.7 491.2 L205.4 491.2 L206.1 491.2 L206.8 491.2 L207.5 491.3 L208.2 491.3 L208.9 491.3 L209.6 491.4 L210.3 491.4 L211 491.4 L211.7 491.5 L212.4 491.5 L213.1 491.6 L213.8 491.7 L214.5 491.7 L215.2 491.8 L215.9 491.9 L216.6 492 L217.3 492.2 L218 492.4 L218.7 492.6 L219.4 492.8 L220.1 493.1 L220.8 493.4 L221.5 493.7 L222.2 494.1 L222.9 494.4 L223.6 494.8 L224.3 495.2 L225 495.7 L225.7 496.1 L226.4 496.7 L227.1 497.3 L227.8 498 L228.5 498.8 L229.2 499.6 L229.9 500 L230.6 500.2 L231.3 500.1 L232 499.6 L232.7 498.8 L233.4 498.1 L234.1 497.8 L234.8 498 L235.5 498.4 L236.2 499.1 L236.9 500.1 L237.6 501.6 L238.3 503.1 L239 504.4 L239.7 505.6 L240.4 506 L241.1 505.4 L241.8 504.3 L242.5 503 L243.2 501.2 L243.9 499.2 L244.6 497.4 L245.3 495.9 L246 494.8 L246.7 493.8 L247.4 493.2 L248.1 492.8 L248.8 492.5 L249.5 492.3 L250.2 492.2 L250.9 492.2 L251.6 492.1 L252.3 492.1 L253 492 L253.7 492 L254.4 491.9 L255.1 491.8 L255.8 491.7 L256.5 491.6 L257.2 491.3 L257.9 490.8 L258.6 490 L259.3 488.8 L260 487.4 L260.7 486.3 L261.4 486 L262.1 486.5 L262.8 487.6 L263.5 488.9 L264.2 489.9 L264.9 490.5 L265.6 490.9 L266.3 491 L267 491 L267.7 491 L268.4 491 L269.1 491 L269.8 490.9 L270.5 490.9 L271.2 490.9 L271.9 490.9 L272.6 490.9 L273.3 490.9 L274 490.9 L274.7 490.9 L275.4 490.8 L276.1 490.8 L276.8 490.8 L277.5 490.8 L278.2 490.8 L278.9 490.8 L279.6 490.8 L280.3 490.8 L281 490.8 L281.7 490.7 L282.4 490.7" fill="none" stroke="#bf1f2b" stroke-width="1.2" stroke-linejoin="round" stroke-linecap="round"/>
<path d="M29 490.7 L29.7 490.7 L30.4 490.6 L31.1 490.6 L31.8 490.6 L32.5 490.6 L33.2 490.6 L33.9 490.6 L34.6 490.5 L35.3 490.5 L36 490.5 L36.7 490.5 L37.4 490.5 L38.1 490.4 L38.8 490.4 L39.5 490.4 L40.2 490.4 L40.9 490.4 L41.6 490.4 L42.3 490.3 L43 490.3 L43.7 490.3 L44.4 490.3 L45.1 490.3 L45.8 490.3 L46.5 490.3 L47.2 490.3 L47.9 490.2 L48.6 490.2 L49.3 490.2 L50 490.2 L50.7 490.2 L51.4 490.2 L52.1 490.2 L52.8 490.2 L53.5 490.2 L54.2 490.2 L54.9 490.2 L55.6 490.2 L56.3 490.1 L57 490.1 L57.7 490.1 L58.4 490.1 L59.1 490.1 L59.8 490.1 L60.5 490.1 L61.2 490.1 L61.9 490.1 L62.6 490.1 L63.3 490.1 L64 490.1 L64.7 490.1 L65.4 490.1 L66.1 490.1 L66.8 490.1 L67.5 490.1 L68.2 490.1 L68.9 490.1 L69.6 490.1 L70.3 490.1 L71 490.2 L71.7 490.2 L72.4 490.2 L73.1 490.2 L73.8 490.2 L74.5 490.2 L75.2 490.3 L75.9 490.3 L76.6 490.3 L77.3 490.3 L78 490.4 L78.7 490.4 L79.4 490.5 L80.1 490.5 L80.8 490.5 L81.5 490.6 L82.2 490.6 L82.9 490.7 L83.6 490.7 L84.3 490.8 L85 490.8 L85.7 490.8 L86.4 490.9 L87.1 490.9 L87.8 491 L88.5 491 L89.2 491 L89.9 491 L90.6 491.1 L91.3 491.1 L92 491.1 L92.7 491.1 L93.4 491.1 L94.1 491.1 L94.8 491.1 L95.5 491.1 L96.2 491.1 L96.9 491.1 L97.6 491.1 L98.3 491.1 L99 491.1 L99.7 491 L100.4 491 L101.1 491 L101.8 491 L102.5 491 L103.2 491 L103.9 491 L104.6 491 L105.3 491 L106 491 L106.7 491 L107.4 491 L108.1 491 L108.8 491.1 L109.5 491.1 L110.2 491.2 L110.9 491.3 L111.6 491.4 L112.3 491.5 L113 491.7 L113.7 491.9 L114.4 492.1 L115.1 492.4 L115.8 492.7 L116.5 493 L117.2 493.3 L117.9 493.5 L118.6 493.8 L119.3 494 L120 494.3 L120.7 494.7 L121.4 495.2 L122.1 495.8 L122.8 496.7 L123.5 497.8 L124.2 499.1 L124.9 500.4 L125.6 501.6 L126.3 502.9 L127 504.1 L127.7 505.4 L128.4 506.5 L129.1 507.3 L129.8 508 L130.5 508.2 L131.2 508.1 L131.9 507.8 L132.6 507.3 L133.3 506.8 L134 506.3 L134.7 505.8 L135.4 505.4 L136.1 505 L136.8 504.6 L137.5 504 L138.2 503.2 L138.9 502.1 L139.6 500.8 L140.3 499.5 L141 498.3 L141.7 497.4 L142.4 496.5 L143.1 495.8 L143.8 495 L144.5 494.4 L145.2 493.8 L145.9 493.3 L146.6 492.9 L147.3 492.5 L148 492.2 L148.7 491.9 L149.4 491.7 L150.1 491.5 L150.8 491.3 L151.5 491.1 L152.2 491 L152.9 491.1 L153.6 491.2 L154.3 491.3 L155 491.3 L155.7 491.3 L156.4 491.3 L157.1 491.3 L157.8 491.3 L158.5 491.3 L159.2 491.3 L159.9 491.3 L160.6 491.3 L161.3 491.3 L162 491.3 L162.7 491.3 L163.4 491.2 L164.1 491.2 L164.8 491.2 L165.5 491.2 L166.2 491.2 L166.9 491.2 L167.6 491.2 L168.3 491.2 L169 491.2 L169.7 491.2 L170.4 491.2 L171.1 491.2 L171.8 491.2 L172.5 491.1 L173.2 491.1 L173.9 491.1 L174.6 491.1 L175.3 491.1 L176 491.1 L176.7 491.1 L177.4 491.1 L178.1 491.1 L178.8 491.1 L179.5 491.1 L180.2 491.1 L180.9 491.1 L181.6 491.1 L182.3 491.1 L183 491.1 L183.7 491.1 L184.4 491.1 L185.1 491.1 L185.8 491.1 L186.5 491.1 L187.2 491.1 L187.9 491.1 L188.6 491.1 L189.3 491 L190 491 L190.7 491 L191.4 491 L192.1 491 L192.8 491 L193.5 491 L194.2 491 L194.9 491 L195.6 491 L196.3 491 L197 491.1 L197.7 491.1 L198.4 491.1 L199.1 491.1 L199.8 491.1 L200.5 491.1 L201.2 491.1 L201.9 491.1 L202.6 491.1 L203.3 491.1 L204 491.2 L204.7 491.2 L205.4 491.2 L206.1 491.2 L206.8 491.2 L207.5 491.3 L208.2 491.3 L208.9 491.3 L209.6 491.4 L210.3 491.4 L211 491.4 L211.7 491.5 L212.4 491.5 L213.1 491.6 L213.8 491.7 L214.5 491.7 L215.2 491.8 L215.9 491.9 L216.6 492 L217.3 492.2 L218 492.4 L218.7 492.6 L219.4 492.8 L220.1 493.1 L220.8 493.4 L221.5 493.7 L222.2 494.1 L222.9 494.4 L223.6 494.8 L224.3 495.2 L225 495.7 L225.7 496.1 L226.4 496.7 L227.1 497.3 L227.8 498 L228.5 498.8 L229.2 499.6 L229.9 500 L230.6 500.2 L231.3 500.1 L232 499.6 L232.7 498.8 L233.4 498.1 L234.1 497.8 L234.8 498 L235.5 498.4 L236.2 499.1 L236.9 500.1 L237.6 501.6 L238.3 503.1 L239 504.4 L239.7 505.6 L240.4 506 L241.1 505.4 L241.8 504.3 L242.5 503 L243.2 501.2 L243.9 499.2 L244.6 497.4 L245.3 495.9 L246 494.8 L246.7 493.8 L247.4 493.2 L248.1 492.8 L248.8 492.5 L249.5 492.3 L250.2 492.2 L250.9 492.2 L251.6 492.1 L252.3 492.1 L253 492 L253.7 492 L254.4 491.9 L255.1 491.8 L255.8 491.8 L256.5 491.7 L257.2 491.6 L257.9 491.6 L258.6 491.5 L259.3 491.4 L260 491.4 L260.7 491.3 L261.4 491.3 L262.1 491.2 L262.8 491.2 L263.5 491.2 L264.2 491.1 L264.9 491.1 L265.6 491.1 L266.3 491 L267 491 L267.7 491 L268.4 491 L269.1 491 L269.8 490.9 L270.5 490.9 L271.2 490.9 L271.9 490.9 L272.6 490.9 L273.3 490.9 L274 490.9 L274.7 490.9 L275.4 490.8 L276.1 490.8 L276.8 490.8 L277.5 490.8 L278.2 490.8 L278.9 490.8 L279.6 490.8 L280.3 490.8 L281 490.8 L281.7 490.7 L282.4 490.7" fill="none" stroke="#a38c2e" stroke-width="1.8" stroke-linejoin="round" stroke-linecap="round"/>
<path d="M29 516.5 L29.5 516.5 L30 516.5 L30.5 516.5 L31 516.5 L31.5 516.5 L32 516.5 L32.5 516.5 L33 516.5 L33.5 516.5 L34 516.5 L34.5 516.5 L35 516.5 L35.5 516.5 L36 516.5 L36.5 516.5 L37 516.5 L37.5 516.5 L38 516.5 L38.5 516.5 L39 516.5 L39.5 516.5 L40 516.4 L40.5 516.3 L41 516.1 L41.5 515.7 L42 515.1 L42.5 514.1 L43 512.7 L43.5 510.9 L44 508.9 L44.5 507.1 L45 505.6 L45.5 504.8 L46 504.9 L46.5 505.8 L47 507.4 L47.5 509.3 L48 511.3 L48.5 513 L49 514.3 L49.5 515.2 L50 515.8 L50.5 516.2 L51 516.3 L51.5 516.4 L52 516.5 L52.5 516.5 L53 516.5 L53.5 516.5 L54 516.5 L54.5 516.5 L55 516.5 L55.5 516.5 L56 516.5 L56.5 516.5 L57 516.5 L57.5 516.5 L58 516.5 L58.5 516.5 L59 516.5 L59.5 516.5 L60 516.5 L60.5 516.5 L61 516.5 L61.5 516.5 L62 516.5 L62.5 516.5 L63 516.5 L63.5 516.5 L64 516.5 L64.5 516.5 L65 516.5 L65.5 516.5 L66 516.5 L66.5 516.5 L67 516.5 L67.5 516.5 L68 516.5 L68.5 516.5 L69 516.5 L69.5 516.5 L70 516.5 L70.5 516.5 L71 516.5 L71.5 516.5 L72 516.5 L72.5 516.5 L73 516.5 L73.5 516.5 L74 516.5 L74.5 516.5 L75 516.5 L75.5 516.5 L76 516.5 L76.5 516.5 L77 516.5 L77.5 516.5 L78 516.5 L78.5 516.5 L79 516.5 L79.5 516.5 L80 516.5 L80.5 516.5 L81 516.5 L81.5 516.5 L82 516.5 L82.5 516.5 L83 516.5 L83.5 516.5 L84 516.5 L84.5 516.5 L85 516.5 L85.5 516.5 L86 516.5 L86.5 516.5 L87 516.5 L87.5 516.5 L88 516.5 L88.5 516.5 L89 516.5 L89.5 516.5 L90 516.5 L90.5 516.5 L91 516.5 L91.5 516.5 L92 516.5 L92.5 516.5 L93 516.5 L93.5 516.5 L94 516.5 L94.5 516.5 L95 516.5 L95.5 516.5 L96 516.5 L96.5 516.5 L97 516.5 L97.5 516.5 L98 516.5 L98.5 516.5 L99 516.5 L99.5 516.5 L100 516.5 L100.5 516.5 L101 516.5 L101.5 516.5 L102 516.5 L102.5 516.5 L103 516.5 L103.5 516.5 L104 516.5 L104.5 516.5 L105 516.5 L105.5 516.5 L106 516.5 L106.5 516.5 L107 516.5 L107.5 516.5 L108 516.5 L108.5 516.5 L109 516.5 L109.5 516.5 L110 516.5 L110.5 516.5 L111 516.5 L111.5 516.5 L112 516.5 L112.5 516.5 L113 516.5 L113.5 516.5 L114 516.5 L114.5 516.5 L115 516.5 L115.5 516.5 L116 516.5 L116.5 516.5 L117 516.5 L117.5 516.5 L118 516.5 L118.5 516.5 L119 516.5 L119.5 516.5 L120 516.5 L120.5 516.5 L121 516.5 L121.5 516.5 L122 516.5 L122.5 516.5 L123 516.5 L123.5 516.5 L124 516.5 L124.5 516.5 L125 516.5 L125.5 516.5 L126 516.5 L126.5 516.5 L127 516.5 L127.5 516.5 L128 516.5 L128.5 516.5 L129 516.5 L129.5 516.5 L130 516.5 L130.5 516.5 L131 516.5 L131.5 516.5 L132 516.5 L132.5 516.5 L133 516.5 L133.5 516.5 L134 516.5 L134.5 516.5 L135 516.5 L135.5 516.5 L136 516.5 L136.5 516.5 L137 516.5 L137.5 516.5 L138 516.5 L138.5 516.5 L139 516.5 L139.5 516.5 L140 516.5 L140.5 516.5 L141 516.5 L141.5 516.5 L142 516.5 L142.5 516.5 L143 516.5 L143.5 516.5 L144 516.5 L144.5 516.5 L145 516.5 L145.5 516.5 L146 516.5 L146.5 516.5 L147 516.4 L147.5 516.2 L148 515.9 L148.5 515.4 L149 514.4 L149.5 513.1 L150 511.1 L150.5 508.8 L151 506.3 L151.5 503.9 L152 502.1 L152.5 501.3 L153 501.7 L153.5 503.1 L154 505.3 L154.5 507.8 L155 510.3 L155.5 512.3 L156 513.9 L156.5 515 L157 515.7 L157.5 516.1 L158 516.3 L158.5 516.4 L159 516.5 L159.5 516.5 L160 516.5 L160.5 516.5 L161 516.5 L161.5 516.5 L162 516.5 L162.5 516.5 L163 516.5 L163.5 516.5 L164 516.5 L164.5 516.5 L165 516.5 L165.5 516.5 L166 516.5 L166.5 516.5 L167 516.5 L167.5 516.5 L168 516.5 L168.5 516.5 L169 516.5 L169.5 516.5 L170 516.5 L170.5 516.5 L171 516.5 L171.5 516.5 L172 516.5 L172.5 516.5 L173 516.5 L173.5 516.5 L174 516.5 L174.5 516.5 L175 516.5 L175.5 516.5 L176 516.5 L176.5 516.5 L177 516.5 L177.5 516.5 L178 516.5 L178.5 516.5 L179 516.5 L179.5 516.5 L180 516.5 L180.5 516.5 L181 516.5 L181.5 516.5 L182 516.5 L182.5 516.5 L183 516.5 L183.5 516.5 L184 516.5 L184.5 516.5 L185 516.5 L185.5 516.5 L186 516.5 L186.5 516.5 L187 516.5 L187.5 516.5 L188 516.5 L188.5 516.5 L189 516.5 L189.5 516.5 L190 516.5 L190.5 516.5 L191 516.5 L191.5 516.5 L192 516.5 L192.5 516.5 L193 516.5 L193.5 516.5 L194 516.5 L194.5 516.5 L195 516.5 L195.5 516.5 L196 516.5 L196.5 516.5 L197 516.5 L197.5 516.5 L198 516.5 L198.5 516.5 L199 516.5 L199.5 516.5 L200 516.5 L200.5 516.5 L201 516.5 L201.5 516.5 L202 516.5 L202.5 516.5 L203 516.5 L203.5 516.5 L204 516.5 L204.5 516.5 L205 516.5 L205.5 516.5 L206 516.5 L206.5 516.5 L207 516.5 L207.5 516.5 L208 516.5 L208.5 516.5 L209 516.5 L209.5 516.5 L210 516.5 L210.5 516.5 L211 516.5 L211.5 516.5 L212 516.5 L212.5 516.5 L213 516.5 L213.5 516.5 L214 516.5 L214.5 516.5 L215 516.5 L215.5 516.5 L216 516.5 L216.5 516.5 L217 516.5 L217.5 516.5 L218 516.5 L218.5 516.5 L219 516.5 L219.5 516.5 L220 516.5 L220.5 516.5 L221 516.5 L221.5 516.5 L222 516.5 L222.5 516.5 L223 516.5 L223.5 516.5 L224 516.5 L224.5 516.5 L225 516.5 L225.5 516.5 L226 516.5 L226.5 516.5 L227 516.5 L227.5 516.5 L228 516.5 L228.5 516.5 L229 516.5 L229.5 516.5 L230 516.5 L230.5 516.5 L231 516.5 L231.5 516.5 L232 516.5 L232.5 516.5 L233 516.5 L233.5 516.5 L234 516.5 L234.5 516.5 L235 516.5 L235.5 516.5 L236 516.5 L236.5 516.5 L237 516.5 L237.5 516.5 L238 516.5 L238.5 516.5 L239 516.5 L239.5 516.5 L240 516.5 L240.5 516.5 L241 516.5 L241.5 516.5 L242 516.5 L242.5 516.5 L243 516.5 L243.5 516.5 L244 516.5 L244.5 516.5 L245 516.5 L245.5 516.5 L246 516.5 L246.5 516.5 L247 516.5 L247.5 516.5 L248 516.5 L248.5 516.5 L249 516.5 L249.5 516.5 L250 516.5 L250.5 516.5 L251 516.5 L251.5 516.5 L252 516.5 L252.5 516.5 L253 516.5 L253.5 516.5 L254 516.5 L254.5 516.5 L255 516.4 L255.5 516.3 L256 516.1 L256.5 515.7 L257 515 L257.5 513.8 L258 512.1 L258.5 509.8 L259 507 L259.5 503.9 L260 500.9 L260.5 498.5 L261 497 L261.5 496.9 L262 498.1 L262.5 500.4 L263 503.3 L263.5 506.4 L264 509.3 L264.5 511.7 L265 513.5 L265.5 514.8 L266 515.6 L266.5 516 L267 516.3 L267.5 516.4 L268 516.5 L268.5 516.5 L269 516.5 L269.5 516.5 L270 516.5 L270.5 516.5 L271 516.5 L271.5 516.5 L272 516.5 L272.5 516.5 L273 516.5 L273.5 516.5 L274 516.5 L274.5 516.5 L275 516.5 L275.5 516.5 L276 516.5 L276.5 516.5 L277 516.5 L277.5 516.5 L278 516.5 L278.5 516.5 L279 516.5 L279.5 516.5 L280 516.5 L280.5 516.5 L281 516.5 L281.5 516.5 L282 516.5 L282.5 516.5 L283 516.5" fill="none" stroke="#6e1f2c" stroke-width="1.5" stroke-linejoin="round" stroke-linecap="round"/>
<path d="M29 532.4 L29.5 532.4 L30 532.4 L30.5 532.4 L31 532.4 L31.5 532.4 L32 532.4 L32.5 532.4 L33 532.4 L33.5 532.4 L34 532.4 L34.5 532.4 L35 532.4 L35.5 532.4 L36 532.4 L36.5 532.4 L37 532.4 L37.5 532.4 L38 532.4 L38.5 532.4 L39 532.4 L39.5 532.4 L40 532.4 L40.5 532.4 L41 532.4 L41.5 532.4 L42 532.4 L42.5 532.4 L43 532.4 L43.5 532.4 L44 532.4 L44.5 532.4 L45 532.4 L45.5 532.4 L46 532.4 L46.5 532.4 L47 532.4 L47.5 532.4 L48 532.4 L48.5 532.4 L49 532.4 L49.5 532.4 L50 532.4 L50.5 532.4 L51 532.4 L51.5 532.4 L52 532.4 L52.5 532.4 L53 532.4 L53.5 532.4 L54 532.4 L54.5 532.4 L55 532.4 L55.5 532.4 L56 532.4 L56.5 532.4 L57 532.4 L57.5 532.4 L58 532.4 L58.5 532.4 L59 532.4 L59.5 532.4 L60 532.4 L60.5 532.4 L61 532.4 L61.5 532.4 L62 532.4 L62.5 532.4 L63 532.4 L63.5 532.4 L64 532.4 L64.5 532.4 L65 532.4 L65.5 532.4 L66 532.4 L66.5 532.4 L67 532.4 L67.5 532.4 L68 532.4 L68.5 532.4 L69 532.4 L69.5 532.4 L70 532.4 L70.5 532.4 L71 532.4 L71.5 532.4 L72 532.4 L72.5 532.4 L73 532.4 L73.5 532.4 L74 532.4 L74.5 532.4 L75 532.4 L75.5 532.4 L76 532.4 L76.5 532.4 L77 532.4 L77.5 532.4 L78 532.4 L78.5 532.4 L79 532.4 L79.5 532.4 L80 532.4 L80.5 532.4 L81 532.4 L81.5 532.4 L82 532.4 L82.5 532.4 L83 532.4 L83.5 532.4 L84 532.4 L84.5 532.4 L85 532.4 L85.5 532.4 L86 532.4 L86.5 532.4 L87 532.4 L87.5 532.4 L88 532.4 L88.5 532.4 L89 532.3 L89.5 532.3 L90 532.1 L90.5 531.9 L91 531.4 L91.5 530.7 L92 529.7 L92.5 528.4 L93 526.9 L93.5 525.4 L94 524.2 L94.5 523.4 L95 523.4 L95.5 524 L96 525.1 L96.5 526.6 L97 528.1 L97.5 529.4 L98 530.5 L98.5 531.3 L99 531.8 L99.5 532.1 L100 532.3 L100.5 532.3 L101 532.4 L101.5 532.4 L102 532.4 L102.5 532.4 L103 532.4 L103.5 532.4 L104 532.4 L104.5 532.4 L105 532.4 L105.5 532.4 L106 532.4 L106.5 532.4 L107 532.4 L107.5 532.4 L108 532.4 L108.5 532.4 L109 532.4 L109.5 532.4 L110 532.4 L110.5 532.4 L111 532.4 L111.5 532.4 L112 532.4 L112.5 532.4 L113 532.4 L113.5 532.4 L114 532.4 L114.5 532.4 L115 532.4 L115.5 532.4 L116 532.4 L116.5 532.4 L117 532.4 L117.5 532.4 L118 532.4 L118.5 532.4 L119 532.4 L119.5 532.4 L120 532.4 L120.5 532.4 L121 532.4 L121.5 532.4 L122 532.4 L122.5 532.4 L123 532.4 L123.5 532.4 L124 532.4 L124.5 532.4 L125 532.4 L125.5 532.4 L126 532.4 L126.5 532.4 L127 532.4 L127.5 532.4 L128 532.4 L128.5 532.4 L129 532.4 L129.5 532.4 L130 532.4 L130.5 532.4 L131 532.4 L131.5 532.4 L132 532.4 L132.5 532.4 L133 532.4 L133.5 532.4 L134 532.4 L134.5 532.4 L135 532.4 L135.5 532.4 L136 532.4 L136.5 532.4 L137 532.4 L137.5 532.4 L138 532.4 L138.5 532.4 L139 532.4 L139.5 532.4 L140 532.4 L140.5 532.4 L141 532.4 L141.5 532.4 L142 532.4 L142.5 532.4 L143 532.4 L143.5 532.4 L144 532.4 L144.5 532.4 L145 532.4 L145.5 532.4 L146 532.4 L146.5 532.4 L147 532.4 L147.5 532.4 L148 532.4 L148.5 532.4 L149 532.4 L149.5 532.4 L150 532.4 L150.5 532.4 L151 532.4 L151.5 532.4 L152 532.4 L152.5 532.4 L153 532.4 L153.5 532.4 L154 532.4 L154.5 532.4 L155 532.4 L155.5 532.4 L156 532.4 L156.5 532.4 L157 532.4 L157.5 532.4 L158 532.4 L158.5 532.4 L159 532.4 L159.5 532.4 L160 532.4 L160.5 532.4 L161 532.4 L161.5 532.4 L162 532.4 L162.5 532.4 L163 532.4 L163.5 532.4 L164 532.4 L164.5 532.4 L165 532.4 L165.5 532.4 L166 532.4 L166.5 532.4 L167 532.4 L167.5 532.4 L168 532.4 L168.5 532.4 L169 532.4 L169.5 532.4 L170 532.4 L170.5 532.4 L171 532.4 L171.5 532.4 L172 532.3 L172.5 532.3 L173 532.1 L173.5 532 L174 531.7 L174.5 531.4 L175 531.2 L175.5 531 L176 530.8 L176.5 530.9 L177 530.9 L177.5 531 L178 531 L178.5 530.9 L179 530.7 L179.5 530.6 L180 530.5 L180.5 530.7 L181 530.9 L181.5 531.3 L182 531.7 L182.5 532 L183 532.2 L183.5 532.3 L184 532.3 L184.5 532.4 L185 532.4 L185.5 532.4 L186 532.4 L186.5 532.4 L187 532.4 L187.5 532.4 L188 532.4 L188.5 532.4 L189 532.4 L189.5 532.4 L190 532.4 L190.5 532.4 L191 532.4 L191.5 532.4 L192 532.4 L192.5 532.4 L193 532.4 L193.5 532.4 L194 532.4 L194.5 532.4 L195 532.4 L195.5 532.4 L196 532.4 L196.5 532.4 L197 532.4 L197.5 532.4 L198 532.4 L198.5 532.4 L199 532.4 L199.5 532.4 L200 532.4 L200.5 532.4 L201 532.4 L201.5 532.4 L202 532.4 L202.5 532.4 L203 532.4 L203.5 532.4 L204 532.4 L204.5 532.4 L205 532.4 L205.5 532.4 L206 532.4 L206.5 532.4 L207 532.4 L207.5 532.4 L208 532.4 L208.5 532.4 L209 532.4 L209.5 532.4 L210 532.4 L210.5 532.4 L211 532.4 L211.5 532.4 L212 532.4 L212.5 532.4 L213 532.4 L213.5 532.4 L214 532.4 L214.5 532.4 L215 532.4 L215.5 532.4 L216 532.4 L216.5 532.4 L217 532.4 L217.5 532.4 L218 532.4 L218.5 532.4 L219 532.4 L219.5 532.4 L220 532.4 L220.5 532.4 L221 532.4 L221.5 532.4 L222 532.4 L222.5 532.4 L223 532.4 L223.5 532.4 L224 532.4 L224.5 532.4 L225 532.4 L225.5 532.4 L226 532.4 L226.5 532.4 L227 532.4 L227.5 532.4 L228 532.4 L228.5 532.4 L229 532.4 L229.5 532.4 L230 532.4 L230.5 532.4 L231 532.4 L231.5 532.4 L232 532.4 L232.5 532.4 L233 532.4 L233.5 532.4 L234 532.4 L234.5 532.4 L235 532.4 L235.5 532.4 L236 532.4 L236.5 532.4 L237 532.4 L237.5 532.4 L238 532.4 L238.5 532.4 L239 532.4 L239.5 532.4 L240 532.4 L240.5 532.4 L241 532.4 L241.5 532.4 L242 532.4 L242.5 532.4 L243 532.4 L243.5 532.4 L244 532.4 L244.5 532.4 L245 532.4 L245.5 532.4 L246 532.4 L246.5 532.4 L247 532.4 L247.5 532.4 L248 532.4 L248.5 532.4 L249 532.4 L249.5 532.4 L250 532.4 L250.5 532.4 L251 532.4 L251.5 532.4 L252 532.4 L252.5 532.4 L253 532.4 L253.5 532.4 L254 532.4 L254.5 532.4 L255 532.4 L255.5 532.4 L256 532.4 L256.5 532.4 L257 532.3 L257.5 532.2 L258 532.1 L258.5 531.7 L259 531.2 L259.5 530.5 L260 529.6 L260.5 528.7 L261 527.8 L261.5 527.1 L262 526.9 L262.5 527.1 L263 527.8 L263.5 528.7 L264 529.6 L264.5 530.5 L265 531.2 L265.5 531.7 L266 532.1 L266.5 532.2 L267 532.3 L267.5 532.4 L268 532.4 L268.5 532.4 L269 532.4 L269.5 532.4 L270 532.4 L270.5 532.4 L271 532.4 L271.5 532.4 L272 532.4 L272.5 532.4 L273 532.4 L273.5 532.4 L274 532.4 L274.5 532.4 L275 532.4 L275.5 532.4 L276 532.4 L276.5 532.4 L277 532.4 L277.5 532.4 L278 532.4 L278.5 532.4 L279 532.4 L279.5 532.4 L280 532.4 L280.5 532.4 L281 532.4 L281.5 532.4 L282 532.4 L282.5 532.4 L283 532.4" fill="none" stroke="#2f7a3a" stroke-width="1.4" stroke-linejoin="round" stroke-linecap="round"/>
<path d="M29 550.5 L29.5 550.5 L30 550.5 L30.5 550.5 L31 550.5 L31.5 550.5 L32 550.5 L32.5 550.5 L33 550.5 L33.5 550.5 L34 550.5 L34.5 550.5 L35 550.5 L35.5 550.5 L36 550.5 L36.5 550.5 L37 550.5 L37.5 550.5 L38 550.5 L38.5 550.5 L39 550.5 L39.5 550.5 L40 550.5 L40.5 550.5 L41 550.5 L41.5 550.5 L42 550.5 L42.5 550.5 L43 550.5 L43.5 550.5 L44 550.5 L44.5 550.5 L45 550.5 L45.5 550.5 L46 550.5 L46.5 550.5 L47 550.5 L47.5 550.5 L48 550.5 L48.5 550.5 L49 550.5 L49.5 550.5 L50 550.5 L50.5 550.5 L51 550.5 L51.5 550.5 L52 550.5 L52.5 550.5 L53 550.5 L53.5 550.5 L54 550.5 L54.5 550.5 L55 550.5 L55.5 550.5 L56 550.5 L56.5 550.5 L57 550.5 L57.5 550.5 L58 550.5 L58.5 550.5 L59 550.5 L59.5 550.5 L60 550.5 L60.5 550.5 L61 550.5 L61.5 550.5 L62 550.5 L62.5 550.5 L63 550.5 L63.5 550.5 L64 550.5 L64.5 550.5 L65 550.5 L65.5 550.5 L66 550.5 L66.5 550.5 L67 550.5 L67.5 550.5 L68 550.5 L68.5 550.5 L69 550.5 L69.5 550.5 L70 550.4 L70.5 550.4 L71 550.3 L71.5 550.2 L72 550.1 L72.5 550 L73 549.9 L73.5 549.8 L74 549.7 L74.5 549.7 L75 549.7 L75.5 549.8 L76 549.9 L76.5 550 L77 550.1 L77.5 550.2 L78 550.3 L78.5 550.4 L79 550.4 L79.5 550.5 L80 550.5 L80.5 550.5 L81 550.5 L81.5 550.5 L82 550.5 L82.5 550.5 L83 550.5 L83.5 550.5 L84 550.5 L84.5 550.5 L85 550.5 L85.5 550.5 L86 550.5 L86.5 550.5 L87 550.5 L87.5 550.5 L88 550.5 L88.5 550.5 L89 550.5 L89.5 550.5 L90 550.5 L90.5 550.5 L91 550.5 L91.5 550.5 L92 550.5 L92.5 550.5 L93 550.5 L93.5 550.5 L94 550.5 L94.5 550.5 L95 550.5 L95.5 550.5 L96 550.5 L96.5 550.5 L97 550.5 L97.5 550.5 L98 550.5 L98.5 550.5 L99 550.5 L99.5 550.5 L100 550.5 L100.5 550.5 L101 550.5 L101.5 550.5 L102 550.5 L102.5 550.5 L103 550.5 L103.5 550.5 L104 550.5 L104.5 550.5 L105 550.5 L105.5 550.5 L106 550.5 L106.5 550.5 L107 550.5 L107.5 550.5 L108 550.5 L108.5 550.5 L109 550.5 L109.5 550.5 L110 550.5 L110.5 550.5 L111 550.5 L111.5 550.5 L112 550.5 L112.5 550.5 L113 550.5 L113.5 550.5 L114 550.5 L114.5 550.5 L115 550.5 L115.5 550.5 L116 550.5 L116.5 550.5 L117 550.5 L117.5 550.5 L118 550.5 L118.5 550.5 L119 550.5 L119.5 550.5 L120 550.5 L120.5 550.5 L121 550.5 L121.5 550.5 L122 550.5 L122.5 550.5 L123 550.5 L123.5 550.5 L124 550.5 L124.5 550.5 L125 550.5 L125.5 550.5 L126 550.5 L126.5 550.5 L127 550.5 L127.5 550.5 L128 550.5 L128.5 550.5 L129 550.5 L129.5 550.5 L130 550.5 L130.5 550.5 L131 550.5 L131.5 550.5 L132 550.5 L132.5 550.5 L133 550.5 L133.5 550.5 L134 550.5 L134.5 550.5 L135 550.5 L135.5 550.5 L136 550.5 L136.5 550.5 L137 550.5 L137.5 550.5 L138 550.5 L138.5 550.5 L139 550.5 L139.5 550.5 L140 550.5 L140.5 550.5 L141 550.5 L141.5 550.5 L142 550.5 L142.5 550.5 L143 550.5 L143.5 550.5 L144 550.5 L144.5 550.5 L145 550.5 L145.5 550.5 L146 550.5 L146.5 550.5 L147 550.5 L147.5 550.5 L148 550.5 L148.5 550.5 L149 550.5 L149.5 550.5 L150 550.5 L150.5 550.5 L151 550.5 L151.5 550.5 L152 550.5 L152.5 550.5 L153 550.5 L153.5 550.5 L154 550.5 L154.5 550.5 L155 550.5 L155.5 550.5 L156 550.5 L156.5 550.5 L157 550.5 L157.5 550.5 L158 550.5 L158.5 550.5 L159 550.5 L159.5 550.5 L160 550.5 L160.5 550.5 L161 550.5 L161.5 550.5 L162 550.4 L162.5 550.4 L163 550.3 L163.5 550.1 L164 550 L164.5 549.7 L165 549.5 L165.5 549.4 L166 549.3 L166.5 549.4 L167 549.5 L167.5 549.7 L168 549.8 L168.5 549.9 L169 549.8 L169.5 549.4 L170 548.7 L170.5 547.6 L171 546.3 L171.5 544.8 L172 543.4 L172.5 542.5 L173 542.1 L173.5 542.5 L174 543.4 L174.5 544.8 L175 546.3 L175.5 547.7 L176 548.7 L176.5 549.5 L177 550 L177.5 550.2 L178 550.3 L178.5 550.2 L179 549.9 L179.5 549.3 L180 548.3 L180.5 546.8 L181 544.8 L181.5 542.2 L182 539.5 L182.5 537 L183 535.1 L183.5 534.2 L184 534.6 L184.5 536.1 L185 538.5 L185.5 541.2 L186 543.8 L186.5 546 L187 547.8 L187.5 548.9 L188 549.7 L188.5 550.1 L189 550.3 L189.5 550.4 L190 550.5 L190.5 550.5 L191 550.5 L191.5 550.5 L192 550.5 L192.5 550.5 L193 550.5 L193.5 550.5 L194 550.5 L194.5 550.5 L195 550.5 L195.5 550.5 L196 550.5 L196.5 550.5 L197 550.5 L197.5 550.5 L198 550.5 L198.5 550.5 L199 550.5 L199.5 550.5 L200 550.5 L200.5 550.5 L201 550.5 L201.5 550.5 L202 550.5 L202.5 550.5 L203 550.5 L203.5 550.5 L204 550.5 L204.5 550.5 L205 550.5 L205.5 550.5 L206 550.5 L206.5 550.5 L207 550.5 L207.5 550.5 L208 550.5 L208.5 550.5 L209 550.5 L209.5 550.5 L210 550.5 L210.5 550.5 L211 550.5 L211.5 550.5 L212 550.5 L212.5 550.5 L213 550.5 L213.5 550.5 L214 550.5 L214.5 550.5 L215 550.5 L215.5 550.5 L216 550.5 L216.5 550.5 L217 550.5 L217.5 550.5 L218 550.5 L218.5 550.5 L219 550.5 L219.5 550.5 L220 550.5 L220.5 550.5 L221 550.5 L221.5 550.5 L222 550.5 L222.5 550.5 L223 550.5 L223.5 550.5 L224 550.5 L224.5 550.5 L225 550.5 L225.5 550.5 L226 550.5 L226.5 550.5 L227 550.5 L227.5 550.5 L228 550.5 L228.5 550.5 L229 550.5 L229.5 550.5 L230 550.5 L230.5 550.5 L231 550.5 L231.5 550.5 L232 550.5 L232.5 550.5 L233 550.5 L233.5 550.5 L234 550.5 L234.5 550.5 L235 550.5 L235.5 550.5 L236 550.5 L236.5 550.5 L237 550.5 L237.5 550.5 L238 550.5 L238.5 550.5 L239 550.5 L239.5 550.5 L240 550.5 L240.5 550.5 L241 550.5 L241.5 550.5 L242 550.5 L242.5 550.5 L243 550.5 L243.5 550.5 L244 550.5 L244.5 550.5 L245 550.5 L245.5 550.5 L246 550.5 L246.5 550.5 L247 550.5 L247.5 550.5 L248 550.5 L248.5 550.5 L249 550.5 L249.5 550.5 L250 550.5 L250.5 550.5 L251 550.5 L251.5 550.5 L252 550.5 L252.5 550.5 L253 550.5 L253.5 550.5 L254 550.5 L254.5 550.5 L255 550.5 L255.5 550.5 L256 550.5 L256.5 550.5 L257 550.5 L257.5 550.5 L258 550.5 L258.5 550.5 L259 550.5 L259.5 550.5 L260 550.5 L260.5 550.5 L261 550.5 L261.5 550.5 L262 550.5 L262.5 550.5 L263 550.5 L263.5 550.5 L264 550.5 L264.5 550.5 L265 550.5 L265.5 550.5 L266 550.5 L266.5 550.5 L267 550.5 L267.5 550.5 L268 550.5 L268.5 550.5 L269 550.5 L269.5 550.5 L270 550.5 L270.5 550.5 L271 550.5 L271.5 550.5 L272 550.5 L272.5 550.5 L273 550.5 L273.5 550.5 L274 550.5 L274.5 550.5 L275 550.5 L275.5 550.5 L276 550.5 L276.5 550.5 L277 550.5 L277.5 550.5 L278 550.5 L278.5 550.5 L279 550.5 L279.5 550.5 L280 550.5 L280.5 550.5 L281 550.5 L281.5 550.5 L282 550.5 L282.5 550.5 L283 550.5" fill="none" stroke="#a72e94" stroke-width="1.4" stroke-linejoin="round" stroke-linecap="round"/>
<path d="M29 565.3 L29.5 565.3 L30 565.3 L30.5 565.3 L31 565.3 L31.5 565.3 L32 565.3 L32.5 565.3 L33 565.3 L33.5 565.3 L34 565.3 L34.5 565.3 L35 565.3 L35.5 565.3 L36 565.3 L36.5 565.3 L37 565.3 L37.5 565.3 L38 565.3 L38.5 565.3 L39 565.3 L39.5 565.3 L40 565.3 L40.5 565.3 L41 565.3 L41.5 565.3 L42 565.3 L42.5 565.3 L43 565.3 L43.5 565.3 L44 565.3 L44.5 565.3 L45 565.3 L45.5 565.3 L46 565.3 L46.5 565.3 L47 565.3 L47.5 565.3 L48 565.3 L48.5 565.3 L49 565.3 L49.5 565.3 L50 565.3 L50.5 565.3 L51 565.3 L51.5 565.3 L52 565.3 L52.5 565.3 L53 565.3 L53.5 565.3 L54 565.3 L54.5 565.3 L55 565.3 L55.5 565.3 L56 565.3 L56.5 565.3 L57 565.3 L57.5 565.3 L58 565.3 L58.5 565.3 L59 565.3 L59.5 565.3 L60 565.3 L60.5 565.3 L61 565.3 L61.5 565.3 L62 565.3 L62.5 565.3 L63 565.3 L63.5 565.3 L64 565.3 L64.5 565.3 L65 565.3 L65.5 565.3 L66 565.3 L66.5 565.3 L67 565.3 L67.5 565.3 L68 565.3 L68.5 565.3 L69 565.3 L69.5 565.3 L70 565.3 L70.5 565.3 L71 565.3 L71.5 565.3 L72 565.3 L72.5 565.3 L73 565.3 L73.5 565.3 L74 565.3 L74.5 565.3 L75 565.3 L75.5 565.3 L76 565.3 L76.5 565.3 L77 565.3 L77.5 565.3 L78 565.3 L78.5 565.3 L79 565.3 L79.5 565.3 L80 565.3 L80.5 565.3 L81 565.3 L81.5 565.3 L82 565.3 L82.5 565.3 L83 565.3 L83.5 565.3 L84 565.3 L84.5 565.3 L85 565.3 L85.5 565.3 L86 565.3 L86.5 565.3 L87 565.3 L87.5 565.3 L88 565.3 L88.5 565.3 L89 565.3 L89.5 565.3 L90 565.3 L90.5 565.3 L91 565.3 L91.5 565.3 L92 565.3 L92.5 565.3 L93 565.3 L93.5 565.3 L94 565.3 L94.5 565.3 L95 565.3 L95.5 565.3 L96 565.3 L96.5 565.3 L97 565.3 L97.5 565.3 L98 565.3 L98.5 565.3 L99 565.3 L99.5 565.3 L100 565.3 L100.5 565.3 L101 565.3 L101.5 565.3 L102 565.2 L102.5 565.1 L103 564.9 L103.5 564.6 L104 564 L104.5 563.2 L105 562.2 L105.5 561 L106 559.6 L106.5 558.3 L107 557.4 L107.5 556.8 L108 556.9 L108.5 557.5 L109 558.6 L109.5 559.9 L110 561.2 L110.5 562.4 L111 563.4 L111.5 564.1 L112 564.6 L112.5 565 L113 565.1 L113.5 565.2 L114 565.3 L114.5 565.3 L115 565.3 L115.5 565.3 L116 565.3 L116.5 565.3 L117 565.3 L117.5 565.3 L118 565.3 L118.5 565.3 L119 565.3 L119.5 565.3 L120 565.3 L120.5 565.3 L121 565.3 L121.5 565.3 L122 565.3 L122.5 565.3 L123 565.3 L123.5 565.3 L124 565.3 L124.5 565.3 L125 565.3 L125.5 565.3 L126 565.3 L126.5 565.3 L127 565.3 L127.5 565.3 L128 565.3 L128.5 565.3 L129 565.3 L129.5 565.3 L130 565.3 L130.5 565.3 L131 565.3 L131.5 565.3 L132 565.3 L132.5 565.3 L133 565.3 L133.5 565.3 L134 565.3 L134.5 565.3 L135 565.3 L135.5 565.3 L136 565.3 L136.5 565.3 L137 565.3 L137.5 565.3 L138 565.3 L138.5 565.3 L139 565.3 L139.5 565.3 L140 565.3 L140.5 565.3 L141 565.3 L141.5 565.3 L142 565.3 L142.5 565.3 L143 565.3 L143.5 565.3 L144 565.3 L144.5 565.3 L145 565.3 L145.5 565.3 L146 565.3 L146.5 565.3 L147 565.3 L147.5 565.3 L148 565.3 L148.5 565.3 L149 565.3 L149.5 565.3 L150 565.3 L150.5 565.3 L151 565.3 L151.5 565.3 L152 565.3 L152.5 565.3 L153 565.3 L153.5 565.3 L154 565.3 L154.5 565.3 L155 565.3 L155.5 565.3 L156 565.3 L156.5 565.3 L157 565.3 L157.5 565.3 L158 565.3 L158.5 565.3 L159 565.3 L159.5 565.3 L160 565.3 L160.5 565.3 L161 565.3 L161.5 565.3 L162 565.3 L162.5 565.3 L163 565.3 L163.5 565.3 L164 565.3 L164.5 565.3 L165 565.3 L165.5 565.3 L166 565.3 L166.5 565.3 L167 565.3 L167.5 565.3 L168 565.3 L168.5 565.3 L169 565.3 L169.5 565.3 L170 565.3 L170.5 565.3 L171 565.3 L171.5 565.3 L172 565.3 L172.5 565.3 L173 565.3 L173.5 565.3 L174 565.3 L174.5 565.3 L175 565.3 L175.5 565.3 L176 565.3 L176.5 565.3 L177 565.3 L177.5 565.3 L178 565.3 L178.5 565.3 L179 565.3 L179.5 565.3 L180 565.3 L180.5 565.3 L181 565.3 L181.5 565.3 L182 565.3 L182.5 565.3 L183 565.3 L183.5 565.3 L184 565.3 L184.5 565.3 L185 565.3 L185.5 565.3 L186 565.3 L186.5 565.3 L187 565.3 L187.5 565.3 L188 565.3 L188.5 565.3 L189 565.3 L189.5 565.3 L190 565.3 L190.5 565.3 L191 565.3 L191.5 565.3 L192 565.3 L192.5 565.3 L193 565.3 L193.5 565.3 L194 565.3 L194.5 565.3 L195 565.3 L195.5 565.3 L196 565.3 L196.5 565.3 L197 565.3 L197.5 565.3 L198 565.3 L198.5 565.3 L199 565.3 L199.5 565.3 L200 565.3 L200.5 565.3 L201 565.3 L201.5 565.3 L202 565.3 L202.5 565.3 L203 565.3 L203.5 565.3 L204 565.3 L204.5 565.3 L205 565.3 L205.5 565.3 L206 565.3 L206.5 565.3 L207 565.3 L207.5 565.3 L208 565.3 L208.5 565.3 L209 565.3 L209.5 565.3 L210 565.3 L210.5 565.3 L211 565.3 L211.5 565.3 L212 565.3 L212.5 565.3 L213 565.3 L213.5 565.3 L214 565.3 L214.5 565.3 L215 565.3 L215.5 565.3 L216 565.3 L216.5 565.3 L217 565.3 L217.5 565.3 L218 565.3 L218.5 565.3 L219 565.3 L219.5 565.3 L220 565.3 L220.5 565.3 L221 565.3 L221.5 565.3 L222 565.3 L222.5 565.3 L223 565.3 L223.5 565.3 L224 565.3 L224.5 565.3 L225 565.3 L225.5 565.3 L226 565.3 L226.5 565.3 L227 565.3 L227.5 565.3 L228 565.3 L228.5 565.3 L229 565.3 L229.5 565.3 L230 565.3 L230.5 565.3 L231 565.3 L231.5 565.3 L232 565.3 L232.5 565.3 L233 565.3 L233.5 565.3 L234 565.3 L234.5 565.3 L235 565.3 L235.5 565.3 L236 565.3 L236.5 565.3 L237 565.3 L237.5 565.3 L238 565.3 L238.5 565.3 L239 565.3 L239.5 565.3 L240 565.3 L240.5 565.3 L241 565.3 L241.5 565.3 L242 565.3 L242.5 565.3 L243 565.3 L243.5 565.3 L244 565.3 L244.5 565.3 L245 565.3 L245.5 565.3 L246 565.3 L246.5 565.3 L247 565.3 L247.5 565.3 L248 565.3 L248.5 565.3 L249 565.3 L249.5 565.3 L250 565.3 L250.5 565.3 L251 565.3 L251.5 565.3 L252 565.3 L252.5 565.3 L253 565.3 L253.5 565.3 L254 565.3 L254.5 565.3 L255 565.3 L255.5 565.3 L256 565.3 L256.5 565.3 L257 565.3 L257.5 565.3 L258 565.3 L258.5 565.3 L259 565.3 L259.5 565.3 L260 565.3 L260.5 565.3 L261 565.3 L261.5 565.3 L262 565.3 L262.5 565.3 L263 565.3 L263.5 565.3 L264 565.3 L264.5 565.3 L265 565.3 L265.5 565.3 L266 565.3 L266.5 565.3 L267 565.3 L267.5 565.3 L268 565.3 L268.5 565.3 L269 565.3 L269.5 565.3 L270 565.3 L270.5 565.3 L271 565.3 L271.5 565.3 L272 565.3 L272.5 565.3 L273 565.3 L273.5 565.3 L274 565.3 L274.5 565.3 L275 565.3 L275.5 565.3 L276 565.3 L276.5 565.3 L277 565.3 L277.5 565.3 L278 565.3 L278.5 565.3 L279 565.3 L279.5 565.3 L280 565.3 L280.5 565.3 L281 565.3 L281.5 565.3 L282 565.3 L282.5 565.3 L283 565.3" fill="none" stroke="#2c3596" stroke-width="1.4" stroke-linejoin="round" stroke-linecap="round"/>
<path d="M29.4 583.4 H282.6" stroke="#7b2b9c" stroke-width="1.6" stroke-dasharray="6 3.5"/>
<path d="M29.4 587.4 H282.6" stroke="#7b2b9c" stroke-width="1.6" stroke-dasharray="6 3.5"/>
<path d="M29.4 585.4 H282.6" stroke="#444" stroke-width="0.6" stroke-dasharray="2 2"/>
<path d="M29 585.4 L30.5 585.4 L30.5 585.4 L32 585.4 L32 584.7 L33.5 584.7 L33.5 582.6 L35 582.6 L35 586.6 L36.5 586.6 L36.5 581.5 L38 581.5 L38 584.6 L39.5 584.6 L39.5 584.1 L41 584.1 L41 581 L42.5 581 L42.5 582.7 L44 582.7 L44 585.8 L45.5 585.8 L45.5 587.9 L47 587.9 L47 586 L48.5 586 L48.5 586.6 L50 586.6 L50 584.3 L51.5 584.3 L51.5 584.3 L53 584.3 L53 583 L54.5 583 L54.5 585.7 L56 585.7 L56 585.3 L57.5 585.3 L57.5 584.3 L59 584.3 L59 586.4 L60.5 586.4 L60.5 583.4 L62 583.4 L62 577.8 L63.5 577.8 L63.5 575.6 L65 575.6 L65 575.9 L66.5 575.9 L66.5 573.6 L68 573.6 L68 574.3 L69.5 574.3 L69.5 572.9 L71 572.9 L71 577.6 L72.5 577.6 L72.5 575.3 L74 575.3 L74 578.1 L75.5 578.1 L75.5 583.2 L77 583.2 L77 579.1 L78.5 579.1 L78.5 574.3 L80 574.3 L80 579.6 L81.5 579.6 L81.5 583.5 L83 583.5 L83 584.2 L84.5 584.2 L84.5 586.7 L86 586.7 L86 582.9 L87.5 582.9 L87.5 582.4 L89 582.4 L89 582.6 L90.5 582.6 L90.5 584.1 L92 584.1 L92 587.3 L93.5 587.3 L93.5 584.2 L95 584.2 L95 586.7 L96.5 586.7 L96.5 585.3 L98 585.3 L98 586.4 L99.5 586.4 L99.5 584.3 L101 584.3 L101 584.1 L102.5 584.1 L102.5 583.5 L104 583.5 L104 584.5 L105.5 584.5 L105.5 586.2 L107 586.2 L107 582.2 L108.5 582.2 L108.5 585.7 L110 585.7 L110 585.9 L111.5 585.9 L111.5 586 L113 586 L113 585.7 L114.5 585.7 L114.5 584.9 L116 584.9 L116 585.6 L117.5 585.6 L117.5 584.4 L119 584.4 L119 585.9 L120.5 585.9 L120.5 584.8 L122 584.8 L122 586 L123.5 586 L123.5 585 L125 585 L125 587 L126.5 587 L126.5 590.3 L128 590.3 L128 586.7 L129.5 586.7 L129.5 586 L131 586 L131 584.4 L132.5 584.4 L132.5 583.5 L134 583.5 L134 584.9 L135.5 584.9 L135.5 582.9 L137 582.9 L137 582.3 L138.5 582.3 L138.5 586 L140 586 L140 584.8 L141.5 584.8 L141.5 585.4 L143 585.4 L143 584.3 L144.5 584.3 L144.5 583.4 L146 583.4 L146 581.1 L147.5 581.1 L147.5 584.3 L149 584.3 L149 582.8 L150.5 582.8 L150.5 587.2 L152 587.2 L152 584.9 L153.5 584.9 L153.5 585.2 L155 585.2 L155 585.6 L156.5 585.6 L156.5 587.5 L158 587.5 L158 585.8 L159.5 585.8 L159.5 586.5 L161 586.5 L161 585.7 L162.5 585.7 L162.5 585.2 L164 585.2 L164 582.5 L165.5 582.5 L165.5 586.7 L167 586.7 L167 586.9 L168.5 586.9 L168.5 588.3 L170 588.3 L170 585.1 L171.5 585.1 L171.5 587.3 L173 587.3 L173 584.7 L174.5 584.7 L174.5 584.4 L176 584.4 L176 585.1 L177.5 585.1 L177.5 583.3 L179 583.3 L179 582.5 L180.5 582.5 L180.5 587.4 L182 587.4 L182 585.6 L183.5 585.6 L183.5 585.2 L185 585.2 L185 587.3 L186.5 587.3 L186.5 587.1 L188 587.1 L188 587.2 L189.5 587.2 L189.5 587.2 L191 587.2 L191 585.2 L192.5 585.2 L192.5 584 L194 584 L194 586.1 L195.5 586.1 L195.5 584.8 L197 584.8 L197 582.3 L198.5 582.3 L198.5 584.7 L200 584.7 L200 585.4 L201.5 585.4 L201.5 584.5 L203 584.5 L203 584 L204.5 584 L204.5 583.1 L206 583.1 L206 585.3 L207.5 585.3 L207.5 586.1 L209 586.1 L209 584.2 L210.5 584.2 L210.5 586.4 L212 586.4 L212 584.3 L213.5 584.3 L213.5 584.8 L215 584.8 L215 589 L216.5 589 L216.5 586 L218 586 L218 586.3 L219.5 586.3 L219.5 586.5 L221 586.5 L221 587.2 L222.5 587.2 L222.5 586.1 L224 586.1 L224 586.5 L225.5 586.5 L225.5 589.2 L227 589.2 L227 586.8 L228.5 586.8 L228.5 586 L230 586 L230 587 L231.5 587 L231.5 587.2 L233 587.2 L233 585.3 L234.5 585.3 L234.5 584.4 L236 584.4 L236 584.3 L237.5 584.3 L237.5 586.7 L239 586.7 L239 585.7 L240.5 585.7 L240.5 584.9 L242 584.9 L242 584.5 L243.5 584.5 L243.5 585.6 L245 585.6 L245 585.9 L246.5 585.9 L246.5 585.9 L248 585.9 L248 585.5 L249.5 585.5 L249.5 583.9 L251 583.9 L251 590.3 L252.5 590.3 L252.5 586.6 L254 586.6 L254 586 L255.5 586 L255.5 585.3 L257 585.3 L257 586.1 L258.5 586.1 L258.5 583.9 L260 583.9 L260 584.7 L261.5 584.7 L261.5 581.9 L263 581.9 L263 584.2 L264.5 584.2 L264.5 583.9 L266 583.9 L266 584.9 L267.5 584.9 L267.5 587.5 L269 587.5 L269 586.4 L270.5 586.4 L270.5 584.9 L272 584.9 L272 589.4 L273.5 589.4 L273.5 587.7 L275 587.7 L275 583.7 L276.5 583.7 L276.5 584.5 L278 584.5 L278 585.7 L279.5 585.7 L279.5 585.5 L281 585.5 L281 587.6 L282.5 587.6 L282.5 586.1 L283 586.1" fill="none" stroke="#111" stroke-width="1.5" stroke-linejoin="round" stroke-linecap="round"/>
</g>
<rect x="28.4" y="473.5" width="255.2" height="126.9" fill="none" stroke="#1a1a1a" stroke-width="1.25"/>
<path d="M28.4 554.1 h4.6 M283.6 554.1 h-4.6" stroke="#1a1a1a" stroke-width="1"/>
<path d="M28.4 546.6 h2.5 M283.6 546.6 h-2.5" stroke="#1a1a1a" stroke-width="1"/>
<path d="M28.4 539.2 h4.6 M283.6 539.2 h-4.6" stroke="#1a1a1a" stroke-width="1"/>
<path d="M28.4 531.8 h2.5 M283.6 531.8 h-2.5" stroke="#1a1a1a" stroke-width="1"/>
<path d="M28.4 524.3 h4.6 M283.6 524.3 h-4.6" stroke="#1a1a1a" stroke-width="1"/>
<path d="M28.4 516.9 h2.5 M283.6 516.9 h-2.5" stroke="#1a1a1a" stroke-width="1"/>
<path d="M28.4 509.4 h4.6 M283.6 509.4 h-4.6" stroke="#1a1a1a" stroke-width="1"/>
<path d="M28.4 501.9 h2.5 M283.6 501.9 h-2.5" stroke="#1a1a1a" stroke-width="1"/>
<path d="M28.4 494.5 h4.6 M283.6 494.5 h-4.6" stroke="#1a1a1a" stroke-width="1"/>
<path d="M28.4 487 h2.5 M283.6 487 h-2.5" stroke="#1a1a1a" stroke-width="1"/>
<path d="M28.4 479.6 h4.6 M283.6 479.6 h-4.6" stroke="#1a1a1a" stroke-width="1"/>
<text x="26.8" y="528.9" font-size="11" fill="#111" stroke="#111" stroke-width="0.3" text-anchor="end" font-weight="bold">-20</text>
<text x="26.8" y="514" font-size="11" fill="#111" stroke="#111" stroke-width="0.3" text-anchor="end" font-weight="bold">0</text>
<text x="26.8" y="499.1" font-size="11" fill="#111" stroke="#111" stroke-width="0.3" text-anchor="end" font-weight="bold">20</text>
<text x="26.8" y="484.2" font-size="11" fill="#111" stroke="#111" stroke-width="0.3" text-anchor="end" font-weight="bold">40</text>
<path d="M28.4 594 h2.5 M283.6 594 h-2.5" stroke="#1a1a1a" stroke-width="1"/>
<path d="M28.4 586 h4.6 M283.6 586 h-4.6" stroke="#1a1a1a" stroke-width="1"/>
<path d="M28.4 578 h2.5 M283.6 578 h-2.5" stroke="#1a1a1a" stroke-width="1"/>
<path d="M28.4 570.1 h4.6 M283.6 570.1 h-4.6" stroke="#1a1a1a" stroke-width="1"/>
<path d="M28.4 562.1 h2.5 M283.6 562.1 h-2.5" stroke="#1a1a1a" stroke-width="1"/>
<text x="26.8" y="590.6" font-size="11" fill="#111" stroke="#111" stroke-width="0.3" text-anchor="end" font-weight="bold">0</text>
<text x="26.8" y="574.7" font-size="11" fill="#111" stroke="#111" stroke-width="0.3" text-anchor="end" font-weight="bold">5</text>
<path d="M26.8 559.1 l3.2 -1.6 M26.8 561.7 l3.2 -1.6" stroke="#1a1a1a" stroke-width="0.9"/>
<path d="M282 559.1 l3.2 -1.6 M282 561.7 l3.2 -1.6" stroke="#1a1a1a" stroke-width="0.9"/>
<path d="M266 600.4 v-2.2" stroke="#1a1a1a" stroke-width="0.9"/>
<path d="M248 600.4 v-2.2" stroke="#1a1a1a" stroke-width="0.9"/>
<path d="M230 600.4 v-2.2" stroke="#1a1a1a" stroke-width="0.9"/>
<path d="M212 600.4 v-2.2" stroke="#1a1a1a" stroke-width="0.9"/>
<path d="M194 600.4 v-2.2" stroke="#1a1a1a" stroke-width="0.9"/>
<path d="M176 600.4 v-2.2" stroke="#1a1a1a" stroke-width="0.9"/>
<path d="M158 600.4 v-2.2" stroke="#1a1a1a" stroke-width="0.9"/>
<path d="M139.9 600.4 v-2.2" stroke="#1a1a1a" stroke-width="0.9"/>
<path d="M121.9 600.4 v-2.2" stroke="#1a1a1a" stroke-width="0.9"/>
<path d="M103.9 600.4 v-2.2" stroke="#1a1a1a" stroke-width="0.9"/>
<path d="M85.9 600.4 v-2.2" stroke="#1a1a1a" stroke-width="0.9"/>
<path d="M67.9 600.4 v-2.2" stroke="#1a1a1a" stroke-width="0.9"/>
<path d="M49.9 600.4 v-2.2" stroke="#1a1a1a" stroke-width="0.9"/>
<path d="M31.9 600.4 v-2.2" stroke="#1a1a1a" stroke-width="0.9"/>
<path d="M248 600.4 v-4.6" stroke="#1a1a1a" stroke-width="1"/>
<path d="M176 600.4 v-4.6" stroke="#1a1a1a" stroke-width="1"/>
<path d="M103.9 600.4 v-4.6" stroke="#1a1a1a" stroke-width="1"/>
<path d="M31.9 600.4 v-4.6" stroke="#1a1a1a" stroke-width="1"/>
<text x="31.9" y="611" font-size="11" fill="#111" stroke="#111" stroke-width="0.3" text-anchor="middle" font-weight="bold">3306</text>
<text x="103.9" y="611" font-size="11" fill="#111" stroke="#111" stroke-width="0.3" text-anchor="middle" font-weight="bold">3304</text>
<text x="176" y="611" font-size="11" fill="#111" stroke="#111" stroke-width="0.3" text-anchor="middle" font-weight="bold">3302</text>
<text x="248" y="611" font-size="11" fill="#111" stroke="#111" stroke-width="0.3" text-anchor="middle" font-weight="bold">3300</text>
<path d="M38.2 473.5 v4.8" stroke="#1a1a1a" stroke-width="1"/>
<path d="M118.2 473.5 v4.8" stroke="#1a1a1a" stroke-width="1"/>
<path d="M197.5 473.5 v4.8" stroke="#1a1a1a" stroke-width="1"/>
<path d="M278.3 473.5 v4.8" stroke="#1a1a1a" stroke-width="1"/>
<text x="38.2" y="471.4" font-size="9.8" fill="#111" stroke="#111" stroke-width="0.3" text-anchor="middle" font-weight="bold">3.025</text>
<text x="118.2" y="471.4" font-size="9.8" fill="#111" stroke="#111" stroke-width="0.3" text-anchor="middle" font-weight="bold">3.027</text>
<text x="197.5" y="471.4" font-size="9.8" fill="#111" stroke="#111" stroke-width="0.3" text-anchor="middle" font-weight="bold">3.029</text>
<text x="273.3" y="471.4" font-size="9.8" fill="#111" stroke="#111" stroke-width="0.3" text-anchor="middle" font-weight="bold">3.031</text>
<text x="137.4" y="471.4" font-size="10.4" font-weight="bold" fill="#111" stroke="#111" stroke-width="0.2"><tspan font-family="Liberation Serif" font-weight="normal" font-size="11">&#955;</tspan> (<tspan font-family="Liberation Serif" font-weight="normal" font-size="11">&#956;</tspan>m)</text>
<text x="32.5" y="486" font-size="13" fill="#111" stroke="#111" stroke-width="0.3" text-anchor="start" font-weight="bold">g</text>
<text x="159.8" y="514.9" font-size="12" fill="#6e1f2c" stroke="#6e1f2c" stroke-width="0.3" text-anchor="start" font-weight="bold">HCN model (x4)</text>
<text x="159.8" y="527.6" font-size="12" fill="#2f7a3a" stroke="#2f7a3a" stroke-width="0.3" text-anchor="start" font-weight="bold">C<tspan font-size="7.2" dy="4">2</tspan><tspan dy="-4">&#8203;</tspan>H<tspan font-size="7.2" dy="4">2</tspan><tspan dy="-4">&#8203;</tspan> model (x4)</text>
<text x="69.2" y="544.4" font-size="13" fill="#a72e94" stroke="#a72e94" stroke-width="0.3" text-anchor="start" font-weight="bold">NH<tspan font-size="7.8" dy="4.3">2</tspan><tspan dy="-4.3">&#8203;</tspan> model (x2)</text>
<text x="161" y="561.8" font-size="13" fill="#2c3596" stroke="#2c3596" stroke-width="0.3" text-anchor="start" font-weight="bold">OH model (x2)</text>
<text x="160.5" y="576.8" font-size="13" fill="#111" stroke="#111" stroke-width="0.3" text-anchor="start" font-weight="bold">residuals (x4)</text>
<g clip-path="url(#cph)">
<path d="M308.1 510.6 L309.4 512.3 L310.7 515.9 L312 519.4 L313.3 523.2 L314.6 526.4 L315.9 529.3 L317.2 531.2 L318.5 532.5 L319.8 533.3 L321.1 534.4 L322.4 533.6 L323.7 532 L325 529.5 L326.3 526.4 L327.6 521.6 L328.9 517.8 L330.2 513 L331.5 508.3 L332.8 505 L334.1 501.7 L335.4 499.1 L336.7 498.4 L338 497.3 L339.3 496.6 L340.6 496.7 L341.9 496.3 L343.2 495 L344.5 494.3 L345.8 495.2 L347.1 494.6 L348.4 493.8 L349.7 493.8 L351 492.8 L352.3 490 L353.6 489.1 L354.9 490.3 L356.2 492.7 L357.5 492.9 L358.8 493.6 L360.1 493.8 L361.4 493.6 L362.7 492.2 L364 492.4 L365.3 492.9 L366.6 492.8 L367.9 493.5 L369.2 492.9 L370.5 492.5 L371.8 492.9 L373.1 493.2 L374.4 492.4 L375.7 492.2 L377 493 L378.3 492.3 L379.6 492.5 L380.9 492.3 L382.2 493.2 L383.5 492.7 L384.8 492.5 L386.1 493 L387.4 492.8 L388.7 492 L390 493.2 L391.3 492.4 L392.6 492.5 L393.9 491.9 L395.2 492 L396.5 492.2 L397.8 491.9 L399.1 491.3 L400.4 492 L401.7 491.2 L403 491.3 L404.3 492.2 L405.6 491.3 L406.9 491.7 L408.2 491 L409.5 491.5 L410.8 492 L412.1 491.1 L413.4 490.8 L414.7 492.4 L416 492.2 L417.3 491.7 L418.6 491.6 L419.9 492.3 L421.2 491.4 L422.5 492.1 L423.8 493.4 L425.1 493.4 L426.4 492.8 L427.7 493.3 L429 494 L430.3 494.5 L431.6 495.4 L432.9 495.5 L434.2 497.4 L435.5 500.8 L436.8 504.5 L438.1 509.4 L439.4 514.9 L440.7 519.9 L442 525.1 L443.3 526.8 L444.6 525.5 L445.9 522.7 L447.2 517.7 L448.5 512.5 L449.8 506.5 L451.1 503.2 L452.4 499.3 L453.7 498.1 L455 495.9 L456.3 495.3 L457.6 494.7 L458.9 494 L460.2 493.7 L461.5 493.5 L462.8 493.7 L464.1 493.3 L465.4 493 L466.7 492.5 L468 493.7 L469.3 494 L470.6 493.3 L471.9 492.2 L473.2 492.7 L474.5 492.3 L475.8 491.6 L477.1 489.2 L478.4 488.6 L479.7 490.8 L481 492.6 L482.3 492.3 L483.6 491.9 L484.9 492.4 L486.2 491.4 L487.5 491.5 L488.8 491.1 L490.1 491.8 L491.4 492.4 L492.7 492.4 L494 491.8 L495.3 491.6 L496.6 492.3 L497.9 494.9 L499.2 496.9 L500.5 499.2 L501.8 502.6 L503.1 503.7 L504.4 504 L505.7 503.3 L507 503.1 L508.3 506.9 L509.6 511.3 L510.9 512.5 L512.2 507 L513.5 501 L514.8 496.3 L516.1 494.6 L517.4 493.9 L518.7 493.5 L520 492.1 L521.3 492 L522.6 491.6 L523.9 491.6 L525.2 492.1 L526.5 491.3 L527.8 491.2 L529.1 491 L530.4 490.7 L531.7 491.1 L533 490.5 L534.3 489.4 L535.6 489.2 L536.9 489.9 L538.2 490.6 L539.5 492.2 L540.8 494.7 L542.1 497.2 L543.4 498.9 L544.7 502 L546 503.5 L547.3 505.9 L548.6 504.5 L549.9 501.7 L551.2 500.8 L552.5 501.6 L553.8 504.1 L555.1 508.5 L556.4 514.9 L557.7 521.1 L559 523.1 L560.3 521.6" fill="none" stroke="#111" stroke-width="1.2" stroke-linejoin="round" stroke-linecap="round"/>
<path d="M308.1 510.8 L308.8 511.8 L309.5 512.9 L310.2 514.2 L310.9 515.9 L311.6 518 L312.3 520.3 L313 522.5 L313.7 524.5 L314.4 526.3 L315.1 527.8 L315.8 529.3 L316.5 530.5 L317.2 531.6 L317.9 532.5 L318.6 533.3 L319.3 533.8 L320 534.2 L320.7 534.3 L321.4 534.2 L322.1 533.8 L322.8 533.2 L323.5 532.4 L324.2 531.2 L324.9 529.7 L325.6 527.9 L326.3 525.9 L327 523.8 L327.7 521.5 L328.4 518.9 L329.1 516 L329.8 513.3 L330.5 510.9 L331.2 508.9 L331.9 507 L332.6 505.2 L333.3 503.5 L334 502.1 L334.7 500.8 L335.4 499.8 L336.1 498.9 L336.8 498.2 L337.5 497.6 L338.2 497.1 L338.9 496.7 L339.6 496.4 L340.3 496.1 L341 495.8 L341.7 495.6 L342.4 495.5 L343.1 495.4 L343.8 495.4 L344.5 495.4 L345.2 495.4 L345.9 495.4 L346.6 495.4 L347.3 495.3 L348 495.2 L348.7 495.1 L349.4 494.7 L350.1 494.1 L350.8 493.2 L351.5 491.9 L352.2 490.4 L352.9 489.3 L353.6 489 L354.3 489.6 L355 490.8 L355.7 491.9 L356.4 492.7 L357.1 493.2 L357.8 493.3 L358.5 493.3 L359.2 493.3 L359.9 493.2 L360.6 493.2 L361.3 493.1 L362 493.1 L362.7 493 L363.4 493 L364.1 492.9 L364.8 492.9 L365.5 492.9 L366.2 492.9 L366.9 492.8 L367.6 492.8 L368.3 492.8 L369 492.8 L369.7 492.8 L370.4 492.7 L371.1 492.7 L371.8 492.7 L372.5 492.7 L373.2 492.7 L373.9 492.6 L374.6 492.6 L375.3 492.6 L376 492.6 L376.7 492.5 L377.4 492.5 L378.1 492.5 L378.8 492.5 L379.5 492.4 L380.2 492.4 L380.9 492.4 L381.6 492.4 L382.3 492.3 L383 492.3 L383.7 492.3 L384.4 492.3 L385.1 492.3 L385.8 492.2 L386.5 492.2 L387.2 492.2 L387.9 492.2 L388.6 492.1 L389.3 492.1 L390 492.1 L390.7 492.1 L391.4 492.1 L392.1 492 L392.8 492 L393.5 492 L394.2 492 L394.9 492 L395.6 491.9 L396.3 491.9 L397 491.9 L397.7 491.9 L398.4 491.9 L399.1 491.9 L399.8 491.9 L400.5 491.9 L401.2 491.8 L401.9 491.8 L402.6 491.8 L403.3 491.8 L404 491.8 L404.7 491.8 L405.4 491.8 L406.1 491.8 L406.8 491.8 L407.5 491.8 L408.2 491.8 L408.9 491.8 L409.6 491.8 L410.3 491.8 L411 491.8 L411.7 491.8 L412.4 491.8 L413.1 491.8 L413.8 491.8 L414.5 491.9 L415.2 491.9 L415.9 491.9 L416.6 491.9 L417.3 492 L418 492 L418.7 492.1 L419.4 492.1 L420.1 492.2 L420.8 492.2 L421.5 492.3 L422.2 492.3 L422.9 492.4 L423.6 492.5 L424.3 492.6 L425 492.7 L425.7 492.8 L426.4 493 L427.1 493.1 L427.8 493.3 L428.5 493.5 L429.2 493.8 L429.9 494.1 L430.6 494.5 L431.3 494.9 L432 495.3 L432.7 495.8 L433.4 496.2 L434.1 497.8 L434.8 499.5 L435.5 501.2 L436.2 503 L436.9 505 L437.6 507.3 L438.3 510 L439 512.9 L439.7 515.9 L440.4 518.8 L441.1 521.2 L441.8 523.7 L442.5 525.8 L443.2 526.9 L443.9 526.8 L444.6 525.8 L445.3 524 L446 521.8 L446.7 519.5 L447.4 516.6 L448.1 513.4 L448.8 510.2 L449.5 507.1 L450.2 504.5 L450.9 502.4 L451.6 500.8 L452.3 499.4 L453 498.4 L453.7 497.6 L454.4 496.9 L455.1 496.4 L455.8 495.9 L456.5 495.4 L457.2 495 L457.9 494.7 L458.6 494.4 L459.3 494.2 L460 494 L460.7 493.8 L461.4 493.7 L462.1 493.6 L462.8 493.5 L463.5 493.4 L464.2 493.3 L464.9 493.2 L465.6 493.1 L466.3 493 L467 493 L467.7 493 L468.4 492.9 L469.1 492.9 L469.8 492.9 L470.5 492.9 L471.2 493 L471.9 493 L472.6 493 L473.3 493 L474 492.9 L474.7 492.7 L475.4 492.3 L476.1 491.5 L476.8 490.6 L477.5 489.8 L478.2 489.5 L478.9 489.9 L479.6 490.7 L480.3 491.6 L481 492.3 L481.7 492.6 L482.4 492.6 L483.1 492.5 L483.8 492.3 L484.5 492.2 L485.2 492 L485.9 491.9 L486.6 491.8 L487.3 491.8 L488 491.7 L488.7 491.6 L489.4 491.5 L490.1 491.5 L490.8 491.4 L491.5 491.4 L492.2 491.4 L492.9 491.4 L493.6 491.5 L494.3 491.6 L495 491.8 L495.7 492.2 L496.4 492.7 L497.1 493.4 L497.8 494.3 L498.5 495.5 L499.2 496.8 L499.9 498 L500.6 499.4 L501.3 501.1 L502 502.7 L502.7 504 L503.4 504.5 L504.1 504.2 L504.8 503.4 L505.5 502.6 L506.2 502.1 L506.9 502.5 L507.6 504.2 L508.3 506.4 L509 508.4 L509.7 510.9 L510.4 512.6 L511.1 512 L511.8 509.4 L512.5 505.8 L513.2 502.2 L513.9 499.1 L514.6 497.1 L515.3 495.7 L516 494.6 L516.7 493.9 L517.4 493.4 L518.1 493 L518.8 492.7 L519.5 492.4 L520.2 492.2 L520.9 492 L521.6 491.9 L522.3 491.8 L523 491.7 L523.7 491.6 L524.4 491.5 L525.1 491.4 L525.8 491.4 L526.5 491.3 L527.2 491.3 L527.9 491.3 L528.6 491.2 L529.3 491.2 L530 491.1 L530.7 491.1 L531.4 491 L532.1 490.8 L532.8 490.6 L533.5 490.4 L534.2 490.1 L534.9 489.9 L535.6 489.7 L536.3 489.7 L537 489.9 L537.7 490.3 L538.4 491 L539.1 491.8 L539.8 492.9 L540.5 494 L541.2 495.1 L541.9 496.2 L542.6 497.3 L543.3 498.4 L544 499.8 L544.7 501.2 L545.4 502.7 L546.1 504.1 L546.8 505.1 L547.5 505.5 L548.2 505.1 L548.9 503.9 L549.6 502.4 L550.3 501.3 L551 501 L551.7 501 L552.4 501.4 L553.1 502.2 L553.8 503.7 L554.5 505.7 L555.2 508.6 L555.9 511.9 L556.6 515.3 L557.3 518.4 L558 521 L558.7 522.6 L559.4 522.6 L560.1 521.5" fill="none" stroke="#bf1f2b" stroke-width="1.2" stroke-linejoin="round" stroke-linecap="round"/>
<path d="M308.1 511.4 L308.8 512.4 L309.5 513.5 L310.2 514.8 L310.9 516.5 L311.6 518.6 L312.3 520.9 L313 523.1 L313.7 525.1 L314.4 526.9 L315.1 528.4 L315.8 529.9 L316.5 531.1 L317.2 532.2 L317.9 533.1 L318.6 533.9 L319.3 534.4 L320 534.8 L320.7 534.9 L321.4 534.8 L322.1 534.4 L322.8 533.8 L323.5 533 L324.2 531.8 L324.9 530.3 L325.6 528.5 L326.3 526.5 L327 524.4 L327.7 522.1 L328.4 519.5 L329.1 516.6 L329.8 513.9 L330.5 511.5 L331.2 509.5 L331.9 507.6 L332.6 505.8 L333.3 504.1 L334 502.7 L334.7 501.4 L335.4 500.4 L336.1 499.5 L336.8 498.8 L337.5 498.2 L338.2 497.7 L338.9 497.3 L339.6 497 L340.3 496.7 L341 496.4 L341.7 496.2 L342.4 496.1 L343.1 496 L343.8 496 L344.5 496 L345.2 496 L345.9 496 L346.6 496 L347.3 495.9 L348 495.9 L348.7 495.7 L349.4 495.5 L350.1 495.3 L350.8 495.1 L351.5 494.9 L352.2 494.8 L352.9 494.7 L353.6 494.6 L354.3 494.5 L355 494.4 L355.7 494.3 L356.4 494.2 L357.1 494.1 L357.8 494 L358.5 494 L359.2 493.9 L359.9 493.8 L360.6 493.8 L361.3 493.7 L362 493.7 L362.7 493.6 L363.4 493.6 L364.1 493.5 L364.8 493.5 L365.5 493.5 L366.2 493.5 L366.9 493.4 L367.6 493.4 L368.3 493.4 L369 493.4 L369.7 493.4 L370.4 493.3 L371.1 493.3 L371.8 493.3 L372.5 493.3 L373.2 493.3 L373.9 493.2 L374.6 493.2 L375.3 493.2 L376 493.2 L376.7 493.1 L377.4 493.1 L378.1 493.1 L378.8 493.1 L379.5 493 L380.2 493 L380.9 493 L381.6 493 L382.3 492.9 L383 492.9 L383.7 492.9 L384.4 492.9 L385.1 492.9 L385.8 492.8 L386.5 492.8 L387.2 492.8 L387.9 492.8 L388.6 492.7 L389.3 492.7 L390 492.7 L390.7 492.7 L391.4 492.7 L392.1 492.6 L392.8 492.6 L393.5 492.6 L394.2 492.6 L394.9 492.6 L395.6 492.5 L396.3 492.5 L397 492.5 L397.7 492.5 L398.4 492.5 L399.1 492.5 L399.8 492.5 L400.5 492.5 L401.2 492.4 L401.9 492.4 L402.6 492.4 L403.3 492.4 L404 492.4 L404.7 492.4 L405.4 492.4 L406.1 492.4 L406.8 492.4 L407.5 492.4 L408.2 492.4 L408.9 492.4 L409.6 492.4 L410.3 492.4 L411 492.4 L411.7 492.4 L412.4 492.4 L413.1 492.4 L413.8 492.4 L414.5 492.5 L415.2 492.5 L415.9 492.5 L416.6 492.5 L417.3 492.6 L418 492.6 L418.7 492.7 L419.4 492.7 L420.1 492.8 L420.8 492.8 L421.5 492.9 L422.2 492.9 L422.9 493 L423.6 493.1 L424.3 493.2 L425 493.3 L425.7 493.4 L426.4 493.6 L427.1 493.7 L427.8 493.9 L428.5 494.1 L429.2 494.4 L429.9 494.7 L430.6 495.1 L431.3 495.5 L432 495.9 L432.7 496.4 L433.4 496.8 L434.1 498.4 L434.8 500.1 L435.5 501.8 L436.2 503.6 L436.9 505.6 L437.6 507.9 L438.3 510.6 L439 513.5 L439.7 516.5 L440.4 519.4 L441.1 521.8 L441.8 524.3 L442.5 526.4 L443.2 527.5 L443.9 527.4 L444.6 526.4 L445.3 524.6 L446 522.4 L446.7 520.1 L447.4 517.2 L448.1 514 L448.8 510.8 L449.5 507.7 L450.2 505.1 L450.9 503 L451.6 501.4 L452.3 500 L453 499 L453.7 498.2 L454.4 497.5 L455.1 497 L455.8 496.5 L456.5 496 L457.2 495.6 L457.9 495.3 L458.6 495 L459.3 494.8 L460 494.6 L460.7 494.4 L461.4 494.3 L462.1 494.2 L462.8 494.1 L463.5 494 L464.2 493.9 L464.9 493.8 L465.6 493.7 L466.3 493.6 L467 493.6 L467.7 493.6 L468.4 493.5 L469.1 493.5 L469.8 493.5 L470.5 493.5 L471.2 493.6 L471.9 493.6 L472.6 493.6 L473.3 493.6 L474 493.7 L474.7 493.7 L475.4 493.7 L476.1 493.8 L476.8 493.9 L477.5 494.1 L478.2 494.1 L478.9 494.1 L479.6 494.1 L480.3 493.9 L481 493.7 L481.7 493.5 L482.4 493.3 L483.1 493.1 L483.8 492.9 L484.5 492.8 L485.2 492.6 L485.9 492.5 L486.6 492.4 L487.3 492.4 L488 492.3 L488.7 492.2 L489.4 492.1 L490.1 492.1 L490.8 492 L491.5 492 L492.2 492 L492.9 492 L493.6 492.1 L494.3 492.2 L495 492.4 L495.7 492.8 L496.4 493.3 L497.1 494 L497.8 494.9 L498.5 496.1 L499.2 497.4 L499.9 498.6 L500.6 500 L501.3 501.7 L502 503.3 L502.7 504.6 L503.4 505.1 L504.1 504.8 L504.8 504 L505.5 503.2 L506.2 502.7 L506.9 503.1 L507.6 504.8 L508.3 507 L509 509 L509.7 511.5 L510.4 513.2 L511.1 512.6 L511.8 510 L512.5 506.4 L513.2 502.8 L513.9 499.7 L514.6 497.7 L515.3 496.3 L516 495.2 L516.7 494.5 L517.4 494 L518.1 493.6 L518.8 493.3 L519.5 493 L520.2 492.8 L520.9 492.6 L521.6 492.5 L522.3 492.4 L523 492.3 L523.7 492.2 L524.4 492.1 L525.1 492 L525.8 492 L526.5 491.9 L527.2 491.9 L527.9 491.9 L528.6 491.8 L529.3 491.8 L530 491.8 L530.7 491.7 L531.4 491.7 L532.1 491.7 L532.8 491.7 L533.5 491.7 L534.2 491.8 L534.9 491.9 L535.6 492 L536.3 492.2 L537 492.5 L537.7 492.8 L538.4 493.3 L539.1 493.9 L539.8 494.6 L540.5 495.4 L541.2 496.2 L541.9 497.1 L542.6 498.1 L543.3 499.1 L544 500.4 L544.7 501.9 L545.4 503.3 L546.1 504.7 L546.8 505.7 L547.5 506.1 L548.2 505.7 L548.9 504.5 L549.6 503 L550.3 501.9 L551 501.6 L551.7 501.6 L552.4 502 L553.1 502.8 L553.8 504.3 L554.5 506.3 L555.2 509.2 L555.9 512.5 L556.6 515.9 L557.3 519 L558 521.6 L558.7 523.2 L559.4 523.2 L560.1 522.1" fill="none" stroke="#ad9e2d" stroke-width="1.85" stroke-linejoin="round" stroke-linecap="round"/>
<path d="M308.1 542.4 L308.6 542.4 L309.1 542.4 L309.6 542.4 L310.1 542.4 L310.6 542.4 L311.1 542.4 L311.6 542.4 L312.1 542.4 L312.6 542.4 L313.1 542.4 L313.6 542.4 L314.1 542.4 L314.6 542.4 L315.1 542.4 L315.6 542.4 L316.1 542.4 L316.6 542.4 L317.1 542.4 L317.6 542.4 L318.1 542.4 L318.6 542.4 L319.1 542.4 L319.6 542.4 L320.1 542.4 L320.6 542.4 L321.1 542.4 L321.6 542.4 L322.1 542.4 L322.6 542.4 L323.1 542.4 L323.6 542.4 L324.1 542.4 L324.6 542.4 L325.1 542.4 L325.6 542.4 L326.1 542.4 L326.6 542.4 L327.1 542.4 L327.6 542.4 L328.1 542.4 L328.6 542.4 L329.1 542.4 L329.6 542.4 L330.1 542.4 L330.6 542.4 L331.1 542.4 L331.6 542.4 L332.1 542.4 L332.6 542.4 L333.1 542.4 L333.6 542.4 L334.1 542.4 L334.6 542.4 L335.1 542.4 L335.6 542.4 L336.1 542.4 L336.6 542.4 L337.1 542.4 L337.6 542.4 L338.1 542.4 L338.6 542.4 L339.1 542.4 L339.6 542.4 L340.1 542.4 L340.6 542.4 L341.1 542.4 L341.6 542.4 L342.1 542.4 L342.6 542.4 L343.1 542.4 L343.6 542.4 L344.1 542.4 L344.6 542.4 L345.1 542.4 L345.6 542.4 L346.1 542.4 L346.6 542.4 L347.1 542.4 L347.6 542.3 L348.1 542.2 L348.6 542 L349.1 541.5 L349.6 540.7 L350.1 539.3 L350.6 537.3 L351.1 534.7 L351.6 531.7 L352.1 528.6 L352.6 526 L353.1 524.5 L353.6 524.3 L354.1 525.6 L354.6 528 L355.1 531 L355.6 534.1 L356.1 536.9 L356.6 539 L357.1 540.5 L357.6 541.4 L358.1 541.9 L358.6 542.2 L359.1 542.3 L359.6 542.4 L360.1 542.4 L360.6 542.4 L361.1 542.4 L361.6 542.4 L362.1 542.4 L362.6 542.4 L363.1 542.4 L363.6 542.4 L364.1 542.4 L364.6 542.4 L365.1 542.4 L365.6 542.4 L366.1 542.4 L366.6 542.4 L367.1 542.4 L367.6 542.4 L368.1 542.4 L368.6 542.4 L369.1 542.4 L369.6 542.4 L370.1 542.4 L370.6 542.4 L371.1 542.4 L371.6 542.4 L372.1 542.4 L372.6 542.4 L373.1 542.4 L373.6 542.4 L374.1 542.4 L374.6 542.4 L375.1 542.4 L375.6 542.4 L376.1 542.4 L376.6 542.4 L377.1 542.4 L377.6 542.4 L378.1 542.4 L378.6 542.4 L379.1 542.4 L379.6 542.4 L380.1 542.4 L380.6 542.4 L381.1 542.4 L381.6 542.4 L382.1 542.4 L382.6 542.4 L383.1 542.4 L383.6 542.4 L384.1 542.4 L384.6 542.4 L385.1 542.4 L385.6 542.4 L386.1 542.4 L386.6 542.4 L387.1 542.4 L387.6 542.4 L388.1 542.4 L388.6 542.4 L389.1 542.4 L389.6 542.4 L390.1 542.4 L390.6 542.4 L391.1 542.4 L391.6 542.4 L392.1 542.4 L392.6 542.4 L393.1 542.4 L393.6 542.4 L394.1 542.4 L394.6 542.4 L395.1 542.4 L395.6 542.4 L396.1 542.4 L396.6 542.4 L397.1 542.4 L397.6 542.4 L398.1 542.4 L398.6 542.4 L399.1 542.4 L399.6 542.4 L400.1 542.4 L400.6 542.4 L401.1 542.4 L401.6 542.4 L402.1 542.4 L402.6 542.4 L403.1 542.4 L403.6 542.4 L404.1 542.4 L404.6 542.4 L405.1 542.4 L405.6 542.4 L406.1 542.4 L406.6 542.4 L407.1 542.4 L407.6 542.4 L408.1 542.4 L408.6 542.4 L409.1 542.4 L409.6 542.4 L410.1 542.4 L410.6 542.4 L411.1 542.4 L411.6 542.4 L412.1 542.4 L412.6 542.4 L413.1 542.4 L413.6 542.4 L414.1 542.4 L414.6 542.4 L415.1 542.4 L415.6 542.4 L416.1 542.4 L416.6 542.4 L417.1 542.4 L417.6 542.4 L418.1 542.4 L418.6 542.4 L419.1 542.4 L419.6 542.4 L420.1 542.4 L420.6 542.4 L421.1 542.4 L421.6 542.4 L422.1 542.4 L422.6 542.4 L423.1 542.4 L423.6 542.4 L424.1 542.4 L424.6 542.4 L425.1 542.4 L425.6 542.4 L426.1 542.4 L426.6 542.4 L427.1 542.4 L427.6 542.4 L428.1 542.4 L428.6 542.4 L429.1 542.4 L429.6 542.4 L430.1 542.4 L430.6 542.4 L431.1 542.4 L431.6 542.4 L432.1 542.4 L432.6 542.4 L433.1 542.4 L433.6 542.4 L434.1 542.4 L434.6 542.4 L435.1 542.4 L435.6 542.4 L436.1 542.4 L436.6 542.4 L437.1 542.4 L437.6 542.4 L438.1 542.4 L438.6 542.4 L439.1 542.4 L439.6 542.4 L440.1 542.4 L440.6 542.4 L441.1 542.4 L441.6 542.4 L442.1 542.4 L442.6 542.4 L443.1 542.4 L443.6 542.4 L444.1 542.4 L444.6 542.4 L445.1 542.4 L445.6 542.4 L446.1 542.4 L446.6 542.4 L447.1 542.4 L447.6 542.4 L448.1 542.4 L448.6 542.4 L449.1 542.4 L449.6 542.4 L450.1 542.4 L450.6 542.4 L451.1 542.4 L451.6 542.4 L452.1 542.4 L452.6 542.4 L453.1 542.4 L453.6 542.4 L454.1 542.4 L454.6 542.4 L455.1 542.4 L455.6 542.4 L456.1 542.4 L456.6 542.4 L457.1 542.4 L457.6 542.4 L458.1 542.4 L458.6 542.4 L459.1 542.4 L459.6 542.4 L460.1 542.4 L460.6 542.4 L461.1 542.4 L461.6 542.4 L462.1 542.4 L462.6 542.4 L463.1 542.4 L463.6 542.4 L464.1 542.4 L464.6 542.4 L465.1 542.4 L465.6 542.4 L466.1 542.4 L466.6 542.4 L467.1 542.4 L467.6 542.4 L468.1 542.4 L468.6 542.4 L469.1 542.4 L469.6 542.4 L470.1 542.4 L470.6 542.4 L471.1 542.4 L471.6 542.4 L472.1 542.4 L472.6 542.4 L473.1 542.3 L473.6 542.2 L474.1 542.1 L474.6 541.7 L475.1 541 L475.6 539.9 L476.1 538.3 L476.6 536.2 L477.1 533.7 L477.6 531.2 L478.1 529.1 L478.6 527.8 L479.1 527.7 L479.6 528.7 L480.1 530.7 L480.6 533.2 L481.1 535.7 L481.6 537.9 L482.1 539.6 L482.6 540.8 L483.1 541.6 L483.6 542 L484.1 542.2 L484.6 542.3 L485.1 542.4 L485.6 542.4 L486.1 542.4 L486.6 542.4 L487.1 542.4 L487.6 542.4 L488.1 542.4 L488.6 542.4 L489.1 542.4 L489.6 542.4 L490.1 542.4 L490.6 542.4 L491.1 542.4 L491.6 542.4 L492.1 542.4 L492.6 542.4 L493.1 542.4 L493.6 542.4 L494.1 542.4 L494.6 542.4 L495.1 542.4 L495.6 542.4 L496.1 542.4 L496.6 542.4 L497.1 542.4 L497.6 542.4 L498.1 542.4 L498.6 542.4 L499.1 542.4 L499.6 542.4 L500.1 542.4 L500.6 542.4 L501.1 542.4 L501.6 542.4 L502.1 542.4 L502.6 542.4 L503.1 542.4 L503.6 542.4 L504.1 542.4 L504.6 542.4 L505.1 542.4 L505.6 542.4 L506.1 542.4 L506.6 542.4 L507.1 542.4 L507.6 542.4 L508.1 542.4 L508.6 542.4 L509.1 542.4 L509.6 542.4 L510.1 542.4 L510.6 542.4 L511.1 542.4 L511.6 542.4 L512.1 542.4 L512.6 542.4 L513.1 542.4 L513.6 542.4 L514.1 542.4 L514.6 542.4 L515.1 542.4 L515.6 542.4 L516.1 542.4 L516.6 542.4 L517.1 542.4 L517.6 542.4 L518.1 542.4 L518.6 542.4 L519.1 542.4 L519.6 542.4 L520.1 542.4 L520.6 542.4 L521.1 542.4 L521.6 542.4 L522.1 542.4 L522.6 542.4 L523.1 542.4 L523.6 542.4 L524.1 542.4 L524.6 542.4 L525.1 542.4 L525.6 542.4 L526.1 542.4 L526.6 542.4 L527.1 542.4 L527.6 542.4 L528.1 542.4 L528.6 542.4 L529.1 542.4 L529.6 542.4 L530.1 542.4 L530.6 542.4 L531.1 542.4 L531.6 542.4 L532.1 542.4 L532.6 542.4 L533.1 542.4 L533.6 542.4 L534.1 542.4 L534.6 542.4 L535.1 542.4 L535.6 542.4 L536.1 542.4 L536.6 542.4 L537.1 542.4 L537.6 542.4 L538.1 542.4 L538.6 542.4 L539.1 542.4 L539.6 542.4 L540.1 542.4 L540.6 542.4 L541.1 542.4 L541.6 542.4 L542.1 542.4 L542.6 542.4 L543.1 542.4 L543.6 542.4 L544.1 542.4 L544.6 542.4 L545.1 542.4 L545.6 542.4 L546.1 542.4 L546.6 542.4 L547.1 542.4 L547.6 542.4 L548.1 542.4 L548.6 542.4 L549.1 542.4 L549.6 542.4 L550.1 542.4 L550.6 542.4 L551.1 542.4 L551.6 542.4 L552.1 542.4 L552.6 542.4 L553.1 542.4 L553.6 542.4 L554.1 542.4 L554.6 542.4 L555.1 542.4 L555.6 542.4 L556.1 542.4 L556.6 542.4 L557.1 542.4 L557.6 542.4 L558.1 542.4 L558.6 542.4 L559.1 542.4 L559.6 542.4 L560.1 542.4 L560.6 542.4" fill="none" stroke="#45a03c" stroke-width="1.4" stroke-linejoin="round" stroke-linecap="round"/>
<path d="M308.1 560.6 L308.6 560.6 L309.1 560.6 L309.6 560.6 L310.1 560.6 L310.6 560.6 L311.1 560.6 L311.6 560.6 L312.1 560.6 L312.6 560.6 L313.1 560.6 L313.6 560.6 L314.1 560.6 L314.6 560.6 L315.1 560.6 L315.6 560.6 L316.1 560.6 L316.6 560.6 L317.1 560.6 L317.6 560.6 L318.1 560.6 L318.6 560.6 L319.1 560.6 L319.6 560.6 L320.1 560.6 L320.6 560.6 L321.1 560.6 L321.6 560.6 L322.1 560.6 L322.6 560.6 L323.1 560.6 L323.6 560.6 L324.1 560.6 L324.6 560.6 L325.1 560.6 L325.6 560.6 L326.1 560.6 L326.6 560.6 L327.1 560.6 L327.6 560.6 L328.1 560.6 L328.6 560.6 L329.1 560.6 L329.6 560.6 L330.1 560.6 L330.6 560.6 L331.1 560.6 L331.6 560.6 L332.1 560.6 L332.6 560.6 L333.1 560.6 L333.6 560.6 L334.1 560.5 L334.6 560.5 L335.1 560.4 L335.6 560.3 L336.1 560.1 L336.6 559.9 L337.1 559.6 L337.6 559.3 L338.1 558.9 L338.6 558.5 L339.1 558.1 L339.6 557.8 L340.1 557.5 L340.6 557.3 L341.1 557.3 L341.6 557.4 L342.1 557.6 L342.6 557.9 L343.1 558.3 L343.6 558.7 L344.1 559.1 L344.6 559.4 L345.1 559.7 L345.6 560 L346.1 560.2 L346.6 560.3 L347.1 560.4 L347.6 560.5 L348.1 560.5 L348.6 560.6 L349.1 560.6 L349.6 560.6 L350.1 560.6 L350.6 560.6 L351.1 560.6 L351.6 560.6 L352.1 560.6 L352.6 560.6 L353.1 560.6 L353.6 560.6 L354.1 560.6 L354.6 560.6 L355.1 560.6 L355.6 560.6 L356.1 560.6 L356.6 560.6 L357.1 560.6 L357.6 560.6 L358.1 560.6 L358.6 560.6 L359.1 560.6 L359.6 560.6 L360.1 560.6 L360.6 560.6 L361.1 560.6 L361.6 560.6 L362.1 560.6 L362.6 560.6 L363.1 560.6 L363.6 560.6 L364.1 560.6 L364.6 560.6 L365.1 560.6 L365.6 560.6 L366.1 560.6 L366.6 560.6 L367.1 560.6 L367.6 560.6 L368.1 560.6 L368.6 560.6 L369.1 560.6 L369.6 560.6 L370.1 560.6 L370.6 560.6 L371.1 560.6 L371.6 560.6 L372.1 560.6 L372.6 560.6 L373.1 560.6 L373.6 560.6 L374.1 560.6 L374.6 560.6 L375.1 560.6 L375.6 560.6 L376.1 560.6 L376.6 560.6 L377.1 560.6 L377.6 560.6 L378.1 560.6 L378.6 560.6 L379.1 560.6 L379.6 560.6 L380.1 560.6 L380.6 560.6 L381.1 560.6 L381.6 560.6 L382.1 560.6 L382.6 560.6 L383.1 560.6 L383.6 560.6 L384.1 560.6 L384.6 560.6 L385.1 560.6 L385.6 560.6 L386.1 560.6 L386.6 560.6 L387.1 560.6 L387.6 560.6 L388.1 560.6 L388.6 560.6 L389.1 560.6 L389.6 560.6 L390.1 560.6 L390.6 560.6 L391.1 560.6 L391.6 560.6 L392.1 560.6 L392.6 560.6 L393.1 560.6 L393.6 560.6 L394.1 560.6 L394.6 560.6 L395.1 560.6 L395.6 560.6 L396.1 560.6 L396.6 560.6 L397.1 560.6 L397.6 560.6 L398.1 560.6 L398.6 560.6 L399.1 560.6 L399.6 560.6 L400.1 560.6 L400.6 560.6 L401.1 560.6 L401.6 560.6 L402.1 560.6 L402.6 560.6 L403.1 560.6 L403.6 560.6 L404.1 560.6 L404.6 560.6 L405.1 560.6 L405.6 560.6 L406.1 560.6 L406.6 560.6 L407.1 560.6 L407.6 560.6 L408.1 560.6 L408.6 560.6 L409.1 560.6 L409.6 560.6 L410.1 560.6 L410.6 560.6 L411.1 560.6 L411.6 560.6 L412.1 560.6 L412.6 560.6 L413.1 560.6 L413.6 560.6 L414.1 560.6 L414.6 560.6 L415.1 560.6 L415.6 560.6 L416.1 560.6 L416.6 560.6 L417.1 560.6 L417.6 560.6 L418.1 560.6 L418.6 560.6 L419.1 560.6 L419.6 560.6 L420.1 560.6 L420.6 560.6 L421.1 560.6 L421.6 560.6 L422.1 560.6 L422.6 560.6 L423.1 560.6 L423.6 560.6 L424.1 560.6 L424.6 560.6 L425.1 560.6 L425.6 560.6 L426.1 560.6 L426.6 560.6 L427.1 560.6 L427.6 560.6 L428.1 560.6 L428.6 560.6 L429.1 560.6 L429.6 560.6 L430.1 560.6 L430.6 560.6 L431.1 560.6 L431.6 560.6 L432.1 560.6 L432.6 560.6 L433.1 560.6 L433.6 560.6 L434.1 560.6 L434.6 560.6 L435.1 560.6 L435.6 560.6 L436.1 560.6 L436.6 560.6 L437.1 560.6 L437.6 560.6 L438.1 560.6 L438.6 560.6 L439.1 560.6 L439.6 560.6 L440.1 560.6 L440.6 560.6 L441.1 560.6 L441.6 560.6 L442.1 560.6 L442.6 560.6 L443.1 560.6 L443.6 560.6 L444.1 560.6 L444.6 560.6 L445.1 560.6 L445.6 560.6 L446.1 560.6 L446.6 560.6 L447.1 560.6 L447.6 560.6 L448.1 560.6 L448.6 560.6 L449.1 560.6 L449.6 560.6 L450.1 560.6 L450.6 560.6 L451.1 560.6 L451.6 560.6 L452.1 560.6 L452.6 560.5 L453.1 560.5 L453.6 560.5 L454.1 560.5 L454.6 560.5 L455.1 560.5 L455.6 560.5 L456.1 560.5 L456.6 560.5 L457.1 560.4 L457.6 560.4 L458.1 560.4 L458.6 560.4 L459.1 560.4 L459.6 560.4 L460.1 560.4 L460.6 560.4 L461.1 560.4 L461.6 560.4 L462.1 560.3 L462.6 560.3 L463.1 560.3 L463.6 560.3 L464.1 560.3 L464.6 560.3 L465.1 560.3 L465.6 560.3 L466.1 560.3 L466.6 560.2 L467.1 560.2 L467.6 560.2 L468.1 560.2 L468.6 560.2 L469.1 560.2 L469.6 560.2 L470.1 560.2 L470.6 560.2 L471.1 560.1 L471.6 560.1 L472.1 560.1 L472.6 560.1 L473.1 560.1 L473.6 560.1 L474.1 560.1 L474.6 560.1 L475.1 560.1 L475.6 560.1 L476.1 560 L476.6 560 L477.1 560 L477.6 560 L478.1 560 L478.6 560 L479.1 560 L479.6 560 L480.1 560 L480.6 559.9 L481.1 559.9 L481.6 559.9 L482.1 559.9 L482.6 559.9 L483.1 559.9 L483.6 559.9 L484.1 559.9 L484.6 559.9 L485.1 559.8 L485.6 559.8 L486.1 559.8 L486.6 559.8 L487.1 559.8 L487.6 559.8 L488.1 559.8 L488.6 559.8 L489.1 559.8 L489.6 559.8 L490.1 559.7 L490.6 559.7 L491.1 559.7 L491.6 559.7 L492.1 559.7 L492.6 559.7 L493.1 559.7 L493.6 559.7 L494.1 559.7 L494.6 559.6 L495.1 559.6 L495.6 559.6 L496.1 559.6 L496.6 559.6 L497.1 559.6 L497.6 559.6 L498.1 559.6 L498.6 559.6 L499.1 559.5 L499.6 559.5 L500.1 559.5 L500.6 559.5 L501.1 559.5 L501.6 559.5 L502.1 559.5 L502.6 559.5 L503.1 559.5 L503.6 559.5 L504.1 559.4 L504.6 559.4 L505.1 559.4 L505.6 559.4 L506.1 559.4 L506.6 559.4 L507.1 559.4 L507.6 559.4 L508.1 559.4 L508.6 559.3 L509.1 559.3 L509.6 559.3 L510.1 559.3 L510.6 559.3 L511.1 559.3 L511.6 559.3 L512.1 559.3 L512.6 559.3 L513.1 559.2 L513.6 559.2 L514.1 559.2 L514.6 559.2 L515.1 559.2 L515.6 559.2 L516.1 559.2 L516.6 559.2 L517.1 559.2 L517.6 559.2 L518.1 559.1 L518.6 559.1 L519.1 559.1 L519.6 559.1 L520.1 559.1 L520.6 559.1 L521.1 559.1 L521.6 559.1 L522.1 559.1 L522.6 559.1 L523.1 559.1 L523.6 559.1 L524.1 559.1 L524.6 559.1 L525.1 559.1 L525.6 559.1 L526.1 559.1 L526.6 559.1 L527.1 559.1 L527.6 559.1 L528.1 559.1 L528.6 559.1 L529.1 559.1 L529.6 559.1 L530.1 559 L530.6 558.9 L531.1 558.8 L531.6 558.5 L532.1 558.1 L532.6 557.4 L533.1 556.7 L533.6 555.7 L534.1 554.6 L534.6 553.6 L535.1 552.8 L535.6 552.2 L536.1 552.1 L536.6 552.4 L537.1 553.1 L537.6 554 L538.1 555.1 L538.6 556.1 L539.1 557 L539.6 557.7 L540.1 558.3 L540.6 558.7 L541.1 559 L541.6 559.3 L542.1 559.4 L542.6 559.6 L543.1 559.7 L543.6 559.8 L544.1 559.9 L544.6 560 L545.1 560.1 L545.6 560.1 L546.1 560.2 L546.6 560.3 L547.1 560.4 L547.6 560.5 L548.1 560.6 L548.6 560.6 L549.1 560.6 L549.6 560.6 L550.1 560.6 L550.6 560.6 L551.1 560.6 L551.6 560.6 L552.1 560.6 L552.6 560.6 L553.1 560.6 L553.6 560.6 L554.1 560.6 L554.6 560.6 L555.1 560.6 L555.6 560.6 L556.1 560.6 L556.6 560.6 L557.1 560.6 L557.6 560.6 L558.1 560.6 L558.6 560.6 L559.1 560.6 L559.6 560.6 L560.1 560.6 L560.6 560.6" fill="none" stroke="#a83a28" stroke-width="1.4" stroke-linejoin="round" stroke-linecap="round"/>
<path d="M308.5 581 H560.3" stroke="#7b2b9c" stroke-width="1.6" stroke-dasharray="6 3.5"/>
<path d="M308.5 585 H560.3" stroke="#7b2b9c" stroke-width="1.6" stroke-dasharray="6 3.5"/>
<path d="M308.5 583 H560.3" stroke="#444" stroke-width="0.6" stroke-dasharray="2 2"/>
<path d="M308.1 581.7 L309.5 581.7 L309.5 582.3 L310.9 582.3 L310.9 578.8 L312.3 578.8 L312.3 582.2 L313.7 582.2 L313.7 580.6 L315.1 580.6 L315.1 581.8 L316.5 581.8 L316.5 582.6 L317.9 582.6 L317.9 581.2 L319.3 581.2 L319.3 583.9 L320.7 583.9 L320.7 580.7 L322.1 580.7 L322.1 581.1 L323.5 581.1 L323.5 582.3 L324.9 582.3 L324.9 582.4 L326.3 582.4 L326.3 582.7 L327.7 582.7 L327.7 583.8 L329.1 583.8 L329.1 584.9 L330.5 584.9 L330.5 581.5 L331.9 581.5 L331.9 583.5 L333.3 583.5 L333.3 584.3 L334.7 584.3 L334.7 583.8 L336.1 583.8 L336.1 586.5 L337.5 586.5 L337.5 583.4 L338.9 583.4 L338.9 585.2 L340.3 585.2 L340.3 584.4 L341.7 584.4 L341.7 581.4 L343.1 581.4 L343.1 582.5 L344.5 582.5 L344.5 584.7 L345.9 584.7 L345.9 580.2 L347.3 580.2 L347.3 584 L348.7 584 L348.7 582 L350.1 582 L350.1 585.4 L351.5 585.4 L351.5 585.3 L352.9 585.3 L352.9 584.6 L354.3 584.6 L354.3 585.5 L355.7 585.5 L355.7 584.3 L357.1 584.3 L357.1 584 L358.5 584 L358.5 587.1 L359.9 587.1 L359.9 581.4 L361.3 581.4 L361.3 584.6 L362.7 584.6 L362.7 584.8 L364.1 584.8 L364.1 582.2 L365.5 582.2 L365.5 583 L366.9 583 L366.9 582.6 L368.3 582.6 L368.3 582.1 L369.7 582.1 L369.7 582.8 L371.1 582.8 L371.1 580.1 L372.5 580.1 L372.5 578.8 L373.9 578.8 L373.9 579.9 L375.3 579.9 L375.3 582.1 L376.7 582.1 L376.7 581.5 L378.1 581.5 L378.1 580.6 L379.5 580.6 L379.5 581.1 L380.9 581.1 L380.9 582 L382.3 582 L382.3 585.2 L383.7 585.2 L383.7 582.7 L385.1 582.7 L385.1 584.2 L386.5 584.2 L386.5 583.4 L387.9 583.4 L387.9 583.1 L389.3 583.1 L389.3 583.6 L390.7 583.6 L390.7 580 L392.1 580 L392.1 581.5 L393.5 581.5 L393.5 587.7 L394.9 587.7 L394.9 584.8 L396.3 584.8 L396.3 582.9 L397.7 582.9 L397.7 585.3 L399.1 585.3 L399.1 582.1 L400.5 582.1 L400.5 582.3 L401.9 582.3 L401.9 579.2 L403.3 579.2 L403.3 579.8 L404.7 579.8 L404.7 578.3 L406.1 578.3 L406.1 581.9 L407.5 581.9 L407.5 581.5 L408.9 581.5 L408.9 583.5 L410.3 583.5 L410.3 583.4 L411.7 583.4 L411.7 579.1 L413.1 579.1 L413.1 579.9 L414.5 579.9 L414.5 582 L415.9 582 L415.9 581.2 L417.3 581.2 L417.3 583.5 L418.7 583.5 L418.7 582.2 L420.1 582.2 L420.1 584.5 L421.5 584.5 L421.5 583.4 L422.9 583.4 L422.9 581.1 L424.3 581.1 L424.3 582.4 L425.7 582.4 L425.7 584.2 L427.1 584.2 L427.1 582.3 L428.5 582.3 L428.5 583.3 L429.9 583.3 L429.9 584.7 L431.3 584.7 L431.3 577.6 L432.7 577.6 L432.7 583.6 L434.1 583.6 L434.1 579.7 L435.5 579.7 L435.5 581.9 L436.9 581.9 L436.9 583.9 L438.3 583.9 L438.3 584.8 L439.7 584.8 L439.7 584.4 L441.1 584.4 L441.1 583.5 L442.5 583.5 L442.5 583.3 L443.9 583.3 L443.9 583.8 L445.3 583.8 L445.3 585.5 L446.7 585.5 L446.7 581.5 L448.1 581.5 L448.1 585 L449.5 585 L449.5 584.6 L450.9 584.6 L450.9 585.6 L452.3 585.6 L452.3 581.5 L453.7 581.5 L453.7 586.2 L455.1 586.2 L455.1 583.1 L456.5 583.1 L456.5 584.7 L457.9 584.7 L457.9 584.8 L459.3 584.8 L459.3 582 L460.7 582 L460.7 586.2 L462.1 586.2 L462.1 582.7 L463.5 582.7 L463.5 584.4 L464.9 584.4 L464.9 583.3 L466.3 583.3 L466.3 585.1 L467.7 585.1 L467.7 580.7 L469.1 580.7 L469.1 581.7 L470.5 581.7 L470.5 584.1 L471.9 584.1 L471.9 582.6 L473.3 582.6 L473.3 578.8 L474.7 578.8 L474.7 579.9 L476.1 579.9 L476.1 580.3 L477.5 580.3 L477.5 586.6 L478.9 586.6 L478.9 581.7 L480.3 581.7 L480.3 583.4 L481.7 583.4 L481.7 583.1 L483.1 583.1 L483.1 586.5 L484.5 586.5 L484.5 585.1 L485.9 585.1 L485.9 590.5 L487.3 590.5 L487.3 586.1 L488.7 586.1 L488.7 586.4 L490.1 586.4 L490.1 592.9 L491.5 592.9 L491.5 584.1 L492.9 584.1 L492.9 587.1 L494.3 587.1 L494.3 584.1 L495.7 584.1 L495.7 581.4 L497.1 581.4 L497.1 581.2 L498.5 581.2 L498.5 582.8 L499.9 582.8 L499.9 583.9 L501.3 583.9 L501.3 580.7 L502.7 580.7 L502.7 585.6 L504.1 585.6 L504.1 582.5 L505.5 582.5 L505.5 585.5 L506.9 585.5 L506.9 587.1 L508.3 587.1 L508.3 585.3 L509.7 585.3 L509.7 587.1 L511.1 587.1 L511.1 585.5 L512.5 585.5 L512.5 584.4 L513.9 584.4 L513.9 578.2 L515.3 578.2 L515.3 581.6 L516.7 581.6 L516.7 583.6 L518.1 583.6 L518.1 580.9 L519.5 580.9 L519.5 581.3 L520.9 581.3 L520.9 585.2 L522.3 585.2 L522.3 576.2 L523.7 576.2 L523.7 584.9 L525.1 584.9 L525.1 586.2 L526.5 586.2 L526.5 580.4 L527.9 580.4 L527.9 588.3 L529.3 588.3 L529.3 585.6 L530.7 585.6 L530.7 585.5 L532.1 585.5 L532.1 582.5 L533.5 582.5 L533.5 583 L534.9 583 L534.9 582.4 L536.3 582.4 L536.3 576.2 L537.7 576.2 L537.7 581.2 L539.1 581.2 L539.1 580 L540.5 580 L540.5 577.8 L541.9 577.8 L541.9 581.1 L543.3 581.1 L543.3 584.5 L544.7 584.5 L544.7 581.1 L546.1 581.1 L546.1 582.6 L547.5 582.6 L547.5 585 L548.9 585 L548.9 585.9 L550.3 585.9 L550.3 583.6 L551.7 583.6 L551.7 584.3 L553.1 584.3 L553.1 583.4 L554.5 583.4 L554.5 583.4 L555.9 583.4 L555.9 584.1 L557.3 584.1 L557.3 584.2 L558.7 584.2 L558.7 583.5 L560.1 583.5 L560.1 584 L560.7 584" fill="none" stroke="#111" stroke-width="1.25" stroke-linejoin="round" stroke-linecap="round"/>
</g>
<rect x="307.5" y="472" width="253.8" height="127" fill="none" stroke="#1a1a1a" stroke-width="1.25"/>
<path d="M307.5 548 h2.5 M561.3 548 h-2.5" stroke="#1a1a1a" stroke-width="1"/>
<path d="M307.5 535.2 h4.6 M561.3 535.2 h-4.6" stroke="#1a1a1a" stroke-width="1"/>
<path d="M307.5 522.4 h2.5 M561.3 522.4 h-2.5" stroke="#1a1a1a" stroke-width="1"/>
<path d="M307.5 509.6 h4.6 M561.3 509.6 h-4.6" stroke="#1a1a1a" stroke-width="1"/>
<path d="M307.5 496.7 h2.5 M561.3 496.7 h-2.5" stroke="#1a1a1a" stroke-width="1"/>
<path d="M307.5 483.9 h4.6 M561.3 483.9 h-4.6" stroke="#1a1a1a" stroke-width="1"/>
<text x="305.9" y="539.8" font-size="11" fill="#111" stroke="#111" stroke-width="0.3" text-anchor="end" font-weight="bold">0</text>
<text x="305.9" y="514.2" font-size="11" fill="#111" stroke="#111" stroke-width="0.3" text-anchor="end" font-weight="bold">100</text>
<text x="305.9" y="488.5" font-size="11" fill="#111" stroke="#111" stroke-width="0.3" text-anchor="end" font-weight="bold">200</text>
<path d="M307.5 594 h2.5 M561.3 594 h-2.5" stroke="#1a1a1a" stroke-width="1"/>
<path d="M307.5 583.8 h4.6 M561.3 583.8 h-4.6" stroke="#1a1a1a" stroke-width="1"/>
<path d="M307.5 573.5 h2.5 M561.3 573.5 h-2.5" stroke="#1a1a1a" stroke-width="1"/>
<path d="M307.5 563.3 h4.6 M561.3 563.3 h-4.6" stroke="#1a1a1a" stroke-width="1"/>
<text x="305.9" y="588.4" font-size="11" fill="#111" stroke="#111" stroke-width="0.3" text-anchor="end" font-weight="bold">0</text>
<text x="305.9" y="567.9" font-size="11" fill="#111" stroke="#111" stroke-width="0.3" text-anchor="end" font-weight="bold">10</text>
<path d="M305.9 551.7 l3.2 -1.6 M305.9 554.3 l3.2 -1.6" stroke="#1a1a1a" stroke-width="0.9"/>
<path d="M559.7 551.7 l3.2 -1.6 M559.7 554.3 l3.2 -1.6" stroke="#1a1a1a" stroke-width="0.9"/>
<path d="M556.6 599 v-2.2" stroke="#1a1a1a" stroke-width="0.9"/>
<path d="M552.9 599 v-2.2" stroke="#1a1a1a" stroke-width="0.9"/>
<path d="M549.2 599 v-2.2" stroke="#1a1a1a" stroke-width="0.9"/>
<path d="M545.4 599 v-2.2" stroke="#1a1a1a" stroke-width="0.9"/>
<path d="M541.7 599 v-2.2" stroke="#1a1a1a" stroke-width="0.9"/>
<path d="M538 599 v-2.2" stroke="#1a1a1a" stroke-width="0.9"/>
<path d="M534.3 599 v-2.2" stroke="#1a1a1a" stroke-width="0.9"/>
<path d="M530.5 599 v-2.2" stroke="#1a1a1a" stroke-width="0.9"/>
<path d="M526.8 599 v-2.2" stroke="#1a1a1a" stroke-width="0.9"/>
<path d="M523.1 599 v-2.2" stroke="#1a1a1a" stroke-width="0.9"/>
<path d="M519.3 599 v-2.2" stroke="#1a1a1a" stroke-width="0.9"/>
<path d="M515.6 599 v-2.2" stroke="#1a1a1a" stroke-width="0.9"/>
<path d="M511.9 599 v-2.2" stroke="#1a1a1a" stroke-width="0.9"/>
<path d="M508.1 599 v-2.2" stroke="#1a1a1a" stroke-width="0.9"/>
<path d="M504.4 599 v-2.2" stroke="#1a1a1a" stroke-width="0.9"/>
<path d="M500.7 599 v-2.2" stroke="#1a1a1a" stroke-width="0.9"/>
<path d="M497 599 v-2.2" stroke="#1a1a1a" stroke-width="0.9"/>
<path d="M493.2 599 v-2.2" stroke="#1a1a1a" stroke-width="0.9"/>
<path d="M489.5 599 v-2.2" stroke="#1a1a1a" stroke-width="0.9"/>
<path d="M485.8 599 v-2.2" stroke="#1a1a1a" stroke-width="0.9"/>
<path d="M482 599 v-2.2" stroke="#1a1a1a" stroke-width="0.9"/>
<path d="M478.3 599 v-2.2" stroke="#1a1a1a" stroke-width="0.9"/>
<path d="M474.6 599 v-2.2" stroke="#1a1a1a" stroke-width="0.9"/>
<path d="M470.8 599 v-2.2" stroke="#1a1a1a" stroke-width="0.9"/>
<path d="M467.1 599 v-2.2" stroke="#1a1a1a" stroke-width="0.9"/>
<path d="M463.4 599 v-2.2" stroke="#1a1a1a" stroke-width="0.9"/>
<path d="M459.7 599 v-2.2" stroke="#1a1a1a" stroke-width="0.9"/>
<path d="M455.9 599 v-2.2" stroke="#1a1a1a" stroke-width="0.9"/>
<path d="M452.2 599 v-2.2" stroke="#1a1a1a" stroke-width="0.9"/>
<path d="M448.5 599 v-2.2" stroke="#1a1a1a" stroke-width="0.9"/>
<path d="M444.7 599 v-2.2" stroke="#1a1a1a" stroke-width="0.9"/>
<path d="M441 599 v-2.2" stroke="#1a1a1a" stroke-width="0.9"/>
<path d="M437.3 599 v-2.2" stroke="#1a1a1a" stroke-width="0.9"/>
<path d="M433.5 599 v-2.2" stroke="#1a1a1a" stroke-width="0.9"/>
<path d="M429.8 599 v-2.2" stroke="#1a1a1a" stroke-width="0.9"/>
<path d="M426.1 599 v-2.2" stroke="#1a1a1a" stroke-width="0.9"/>
<path d="M422.4 599 v-2.2" stroke="#1a1a1a" stroke-width="0.9"/>
<path d="M418.6 599 v-2.2" stroke="#1a1a1a" stroke-width="0.9"/>
<path d="M414.9 599 v-2.2" stroke="#1a1a1a" stroke-width="0.9"/>
<path d="M411.2 599 v-2.2" stroke="#1a1a1a" stroke-width="0.9"/>
<path d="M407.4 599 v-2.2" stroke="#1a1a1a" stroke-width="0.9"/>
<path d="M403.7 599 v-2.2" stroke="#1a1a1a" stroke-width="0.9"/>
<path d="M400 599 v-2.2" stroke="#1a1a1a" stroke-width="0.9"/>
<path d="M396.2 599 v-2.2" stroke="#1a1a1a" stroke-width="0.9"/>
<path d="M392.5 599 v-2.2" stroke="#1a1a1a" stroke-width="0.9"/>
<path d="M388.8 599 v-2.2" stroke="#1a1a1a" stroke-width="0.9"/>
<path d="M385.1 599 v-2.2" stroke="#1a1a1a" stroke-width="0.9"/>
<path d="M381.3 599 v-2.2" stroke="#1a1a1a" stroke-width="0.9"/>
<path d="M377.6 599 v-2.2" stroke="#1a1a1a" stroke-width="0.9"/>
<path d="M373.9 599 v-2.2" stroke="#1a1a1a" stroke-width="0.9"/>
<path d="M370.1 599 v-2.2" stroke="#1a1a1a" stroke-width="0.9"/>
<path d="M366.4 599 v-2.2" stroke="#1a1a1a" stroke-width="0.9"/>
<path d="M362.7 599 v-2.2" stroke="#1a1a1a" stroke-width="0.9"/>
<path d="M358.9 599 v-2.2" stroke="#1a1a1a" stroke-width="0.9"/>
<path d="M355.2 599 v-2.2" stroke="#1a1a1a" stroke-width="0.9"/>
<path d="M351.5 599 v-2.2" stroke="#1a1a1a" stroke-width="0.9"/>
<path d="M347.8 599 v-2.2" stroke="#1a1a1a" stroke-width="0.9"/>
<path d="M344 599 v-2.2" stroke="#1a1a1a" stroke-width="0.9"/>
<path d="M340.3 599 v-2.2" stroke="#1a1a1a" stroke-width="0.9"/>
<path d="M336.6 599 v-2.2" stroke="#1a1a1a" stroke-width="0.9"/>
<path d="M332.8 599 v-2.2" stroke="#1a1a1a" stroke-width="0.9"/>
<path d="M329.1 599 v-2.2" stroke="#1a1a1a" stroke-width="0.9"/>
<path d="M325.4 599 v-2.2" stroke="#1a1a1a" stroke-width="0.9"/>
<path d="M321.7 599 v-2.2" stroke="#1a1a1a" stroke-width="0.9"/>
<path d="M317.9 599 v-2.2" stroke="#1a1a1a" stroke-width="0.9"/>
<path d="M314.2 599 v-2.2" stroke="#1a1a1a" stroke-width="0.9"/>
<path d="M310.5 599 v-2.2" stroke="#1a1a1a" stroke-width="0.9"/>
<path d="M545.4 599 v-3.2" stroke="#1a1a1a" stroke-width="0.9"/>
<path d="M508.1 599 v-3.2" stroke="#1a1a1a" stroke-width="0.9"/>
<path d="M470.8 599 v-3.2" stroke="#1a1a1a" stroke-width="0.9"/>
<path d="M433.5 599 v-3.2" stroke="#1a1a1a" stroke-width="0.9"/>
<path d="M396.2 599 v-3.2" stroke="#1a1a1a" stroke-width="0.9"/>
<path d="M358.9 599 v-3.2" stroke="#1a1a1a" stroke-width="0.9"/>
<path d="M321.7 599 v-3.2" stroke="#1a1a1a" stroke-width="0.9"/>
<path d="M526.8 599 v-4.6" stroke="#1a1a1a" stroke-width="1"/>
<path d="M489.5 599 v-4.6" stroke="#1a1a1a" stroke-width="1"/>
<path d="M452.2 599 v-4.6" stroke="#1a1a1a" stroke-width="1"/>
<path d="M414.9 599 v-4.6" stroke="#1a1a1a" stroke-width="1"/>
<path d="M377.6 599 v-4.6" stroke="#1a1a1a" stroke-width="1"/>
<path d="M340.3 599 v-4.6" stroke="#1a1a1a" stroke-width="1"/>
<text x="340.3" y="609.6" font-size="11" fill="#111" stroke="#111" stroke-width="0.3" text-anchor="middle" font-weight="bold">2987</text>
<text x="377.6" y="609.6" font-size="11" fill="#111" stroke="#111" stroke-width="0.3" text-anchor="middle" font-weight="bold">2986</text>
<text x="414.9" y="609.6" font-size="11" fill="#111" stroke="#111" stroke-width="0.3" text-anchor="middle" font-weight="bold">2985</text>
<text x="452.2" y="609.6" font-size="11" fill="#111" stroke="#111" stroke-width="0.3" text-anchor="middle" font-weight="bold">2984</text>
<text x="489.5" y="609.6" font-size="11" fill="#111" stroke="#111" stroke-width="0.3" text-anchor="middle" font-weight="bold">2983</text>
<text x="526.8" y="609.6" font-size="11" fill="#111" stroke="#111" stroke-width="0.3" text-anchor="middle" font-weight="bold">2982</text>
<path d="M343.5 472 v4.8" stroke="#1a1a1a" stroke-width="1"/>
<path d="M377 472 v4.8" stroke="#1a1a1a" stroke-width="1"/>
<path d="M478.5 472 v4.8" stroke="#1a1a1a" stroke-width="1"/>
<path d="M512.7 472 v4.8" stroke="#1a1a1a" stroke-width="1"/>
<path d="M546 472 v4.8" stroke="#1a1a1a" stroke-width="1"/>
<text x="343.5" y="469.9" font-size="9.8" fill="#111" stroke="#111" stroke-width="0.3" text-anchor="middle" font-weight="bold">3.348</text>
<text x="377" y="469.9" font-size="9.8" fill="#111" stroke="#111" stroke-width="0.3" text-anchor="middle" font-weight="bold">3.349</text>
<text x="478.5" y="469.9" font-size="9.8" fill="#111" stroke="#111" stroke-width="0.3" text-anchor="middle" font-weight="bold">3.352</text>
<text x="512.7" y="469.9" font-size="9.8" fill="#111" stroke="#111" stroke-width="0.3" text-anchor="middle" font-weight="bold">3.353</text>
<text x="546" y="469.9" font-size="9.8" fill="#111" stroke="#111" stroke-width="0.3" text-anchor="middle" font-weight="bold">3.354</text>
<text x="416.4" y="469.9" font-size="10.4" font-weight="bold" fill="#111" stroke="#111" stroke-width="0.2"><tspan font-family="Liberation Serif" font-weight="normal" font-size="11">&#955;</tspan> (<tspan font-family="Liberation Serif" font-weight="normal" font-size="11">&#956;</tspan>m)</text>
<text x="314.5" y="484.5" font-size="13" fill="#111" stroke="#111" stroke-width="0.3" text-anchor="start" font-weight="bold">h</text>
<text x="360.4" y="536.8" font-size="12" fill="#45a03c" stroke="#45a03c" stroke-width="0.3" text-anchor="start" font-weight="bold">C<tspan font-size="7.2" dy="4">2</tspan><tspan dy="-4">&#8203;</tspan>H<tspan font-size="7.2" dy="4">6</tspan><tspan dy="-4">&#8203;</tspan> model (x4)</text>
<text x="360.4" y="553.9" font-size="12" fill="#a83a28" stroke="#a83a28" stroke-width="0.3" text-anchor="start" font-weight="bold">CH<tspan font-size="7.2" dy="4">3</tspan><tspan dy="-4">&#8203;</tspan>OH model (x4)</text>
<text x="362.5" y="574.1" font-size="13" fill="#111" stroke="#111" stroke-width="0.3" text-anchor="start" font-weight="bold">residuals (x8)</text>
<text x="294.4" y="630.3" font-size="15.4" font-weight="bold" fill="#111" stroke="#111" stroke-width="0.35" text-anchor="middle">Frequency (cm<tspan font-size="9" dy="-5.6">-1</tspan><tspan dy="5.6">)</tspan></text>
<text transform="translate(11.7 304.8) rotate(-90)" font-size="15.5" font-weight="bold" fill="#111" stroke="#111" stroke-width="0.35" text-anchor="middle">Flux Density (10<tspan font-size="10" dy="-5.5">-17</tspan><tspan dy="5.5"> W/m</tspan><tspan font-size="10" dy="-5.5">2</tspan><tspan dy="5.5">/cm</tspan><tspan font-size="10" dy="-5.5">-1</tspan><tspan dy="5.5">)</tspan></text>
</svg></body></html>
